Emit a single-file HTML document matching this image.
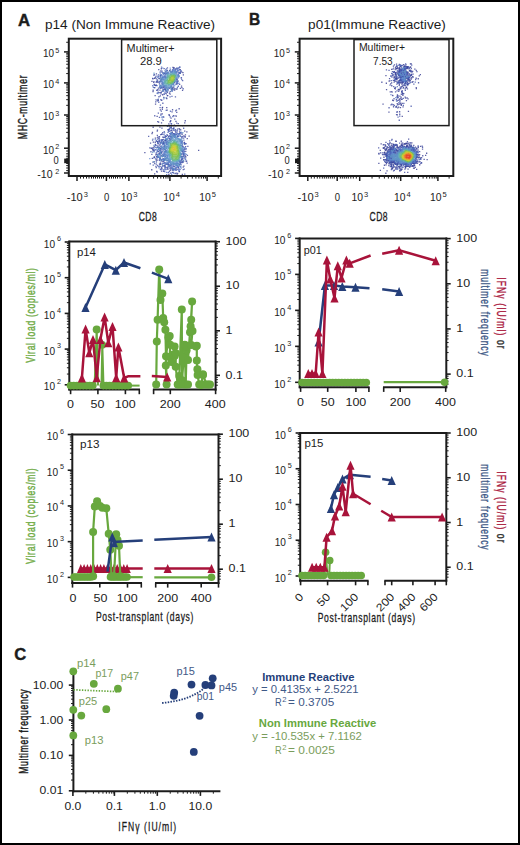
<!DOCTYPE html>
<html><head><meta charset="utf-8"><style>
html,body{margin:0;padding:0;background:#fff;}
body{width:520px;height:845px;overflow:hidden;font-family:"Liberation Sans",sans-serif;}
svg{display:block;}
</style></head><body>
<svg width="520" height="845" viewBox="0 0 520 845" font-family="Liberation Sans, sans-serif">
<rect x="0" y="0" width="520" height="845" fill="#fff"/>
<text x="18.00" y="25.70" font-size="15.8" font-weight="bold" fill="#1c1c1c" textLength="12.11" lengthAdjust="spacingAndGlyphs" stroke="#1c1c1c" stroke-width="0.4">A</text>
<text x="248.90" y="25.30" font-size="15.8" font-weight="bold" fill="#1c1c1c" textLength="11.21" lengthAdjust="spacingAndGlyphs" stroke="#1c1c1c" stroke-width="0.4">B</text>
<text x="14.20" y="659.60" font-size="15.8" font-weight="bold" fill="#1c1c1c" textLength="12.01" lengthAdjust="spacingAndGlyphs" stroke="#1c1c1c" stroke-width="0.4">C</text>
<text x="44.90" y="29.00" font-size="12.6" fill="#1c1c1c" textLength="170.22" lengthAdjust="spacingAndGlyphs">p14 (Non Immune Reactive)</text>
<text x="308.10" y="29.30" font-size="12.6" fill="#1c1c1c" textLength="137.71" lengthAdjust="spacingAndGlyphs">p01(Immune Reactive)</text>
<path d="M153.5 150.1h1.3v1.3h-1.3zM184.4 135.9h1.3v1.3h-1.3zM160.9 122.2h1.3v1.3h-1.3zM198.0 149.7h1.3v1.3h-1.3zM169.6 169.8h1.3v1.3h-1.3zM159.1 164.2h1.3v1.3h-1.3zM161.7 107.3h1.3v1.3h-1.3zM159.7 109.3h1.3v1.3h-1.3zM182.7 74.2h1.3v1.3h-1.3zM166.1 106.9h1.3v1.3h-1.3zM179.3 132.1h1.3v1.3h-1.3zM151.4 133.0h1.3v1.3h-1.3zM176.5 173.4h1.3v1.3h-1.3zM169.5 121.2h1.3v1.3h-1.3zM179.4 133.3h1.3v1.3h-1.3zM149.9 142.4h1.3v1.3h-1.3zM156.1 170.8h1.3v1.3h-1.3zM155.6 158.4h1.3v1.3h-1.3zM154.9 103.5h1.3v1.3h-1.3zM164.9 88.6h1.3v1.3h-1.3zM152.5 126.6h1.3v1.3h-1.3zM183.3 135.2h1.3v1.3h-1.3zM162.0 94.1h1.3v1.3h-1.3zM161.6 90.4h1.3v1.3h-1.3zM184.1 130.5h1.3v1.3h-1.3zM181.2 87.0h1.3v1.3h-1.3zM164.9 135.5h1.3v1.3h-1.3zM157.1 121.0h1.3v1.3h-1.3zM162.5 119.8h1.3v1.3h-1.3zM168.2 174.0h1.3v1.3h-1.3zM155.1 154.2h1.3v1.3h-1.3zM155.6 160.3h1.3v1.3h-1.3zM174.4 88.2h1.3v1.3h-1.3zM154.0 84.4h1.3v1.3h-1.3zM160.1 133.9h1.3v1.3h-1.3zM167.7 171.9h1.3v1.3h-1.3zM178.9 130.4h1.3v1.3h-1.3zM153.7 87.0h1.3v1.3h-1.3zM164.9 139.9h1.3v1.3h-1.3zM151.9 148.6h1.3v1.3h-1.3zM163.1 136.7h1.3v1.3h-1.3zM186.6 137.9h1.3v1.3h-1.3zM179.2 128.8h1.3v1.3h-1.3zM160.1 163.0h1.3v1.3h-1.3zM159.3 126.5h1.3v1.3h-1.3zM156.5 115.7h1.3v1.3h-1.3zM157.0 79.4h1.3v1.3h-1.3zM154.6 141.6h1.3v1.3h-1.3zM154.0 173.3h1.3v1.3h-1.3zM174.2 87.9h1.3v1.3h-1.3zM156.4 81.4h1.3v1.3h-1.3zM169.5 93.4h1.3v1.3h-1.3zM151.3 80.7h1.3v1.3h-1.3zM152.7 141.4h1.3v1.3h-1.3zM144.2 152.0h1.3v1.3h-1.3zM181.0 71.2h1.3v1.3h-1.3zM152.4 147.1h1.3v1.3h-1.3zM152.4 91.0h1.3v1.3h-1.3zM169.7 172.4h1.3v1.3h-1.3zM167.9 128.7h1.3v1.3h-1.3zM172.3 66.7h1.3v1.3h-1.3zM151.8 131.7h1.3v1.3h-1.3zM154.2 77.7h1.3v1.3h-1.3zM184.1 122.2h1.3v1.3h-1.3zM157.8 81.5h1.3v1.3h-1.3zM153.7 161.3h1.3v1.3h-1.3zM184.6 120.1h1.3v1.3h-1.3zM160.9 170.5h1.3v1.3h-1.3zM171.8 171.8h1.3v1.3h-1.3zM160.4 93.2h1.3v1.3h-1.3zM163.1 116.4h1.3v1.3h-1.3zM168.8 138.3h1.3v1.3h-1.3zM166.5 109.4h1.3v1.3h-1.3zM161.6 113.2h1.3v1.3h-1.3zM184.8 134.2h1.3v1.3h-1.3zM188.5 135.5h1.3v1.3h-1.3zM161.4 161.0h1.3v1.3h-1.3zM151.7 157.8h1.3v1.3h-1.3zM168.2 123.3h1.3v1.3h-1.3zM153.9 156.6h1.3v1.3h-1.3zM152.3 78.1h1.3v1.3h-1.3zM151.1 169.1h1.3v1.3h-1.3zM181.7 173.7h1.3v1.3h-1.3zM174.0 89.5h1.3v1.3h-1.3zM152.6 147.3h1.3v1.3h-1.3zM169.6 69.3h1.3v1.3h-1.3zM169.6 90.9h1.3v1.3h-1.3zM160.3 113.4h1.3v1.3h-1.3zM185.1 156.0h1.3v1.3h-1.3zM156.7 137.2h1.3v1.3h-1.3zM159.3 89.4h1.3v1.3h-1.3zM157.5 143.1h1.3v1.3h-1.3zM181.4 133.7h1.3v1.3h-1.3zM155.3 84.8h1.3v1.3h-1.3zM162.7 86.9h1.3v1.3h-1.3zM179.5 68.9h1.3v1.3h-1.3zM175.4 83.7h1.3v1.3h-1.3zM177.1 70.2h1.3v1.3h-1.3zM173.5 67.3h1.3v1.3h-1.3zM181.3 158.7h1.3v1.3h-1.3zM159.9 163.8h1.3v1.3h-1.3zM181.9 125.0h1.3v1.3h-1.3zM157.7 151.0h1.3v1.3h-1.3zM180.9 85.4h1.3v1.3h-1.3zM186.2 131.3h1.3v1.3h-1.3zM156.6 159.5h1.3v1.3h-1.3zM156.3 153.6h1.3v1.3h-1.3zM162.5 142.7h1.3v1.3h-1.3zM168.8 92.5h1.3v1.3h-1.3zM155.8 73.2h1.3v1.3h-1.3zM172.4 134.9h1.3v1.3h-1.3zM166.1 98.0h1.3v1.3h-1.3zM170.4 117.4h1.3v1.3h-1.3zM178.5 128.0h1.3v1.3h-1.3zM184.4 155.1h1.3v1.3h-1.3zM175.7 115.5h1.3v1.3h-1.3zM158.8 83.2h1.3v1.3h-1.3zM175.3 124.9h1.3v1.3h-1.3zM158.2 147.2h1.3v1.3h-1.3zM157.3 99.0h1.3v1.3h-1.3zM152.6 149.4h1.3v1.3h-1.3zM157.2 145.3h1.3v1.3h-1.3zM182.3 72.0h1.3v1.3h-1.3zM175.3 120.8h1.3v1.3h-1.3zM162.2 77.1h1.3v1.3h-1.3zM160.0 80.3h1.3v1.3h-1.3zM179.1 66.4h1.3v1.3h-1.3zM154.7 143.8h1.3v1.3h-1.3zM175.5 172.4h1.3v1.3h-1.3z" fill="rgb(47,52,141)" fill-opacity="0.78"/>
<path d="M161.3 127.5h1.3v1.3h-1.3zM169.9 166.4h1.3v1.3h-1.3zM176.3 130.3h1.3v1.3h-1.3zM173.7 124.4h1.3v1.3h-1.3zM178.5 108.1h1.3v1.3h-1.3zM152.3 161.5h1.3v1.3h-1.3zM179.7 70.5h1.3v1.3h-1.3zM181.2 135.9h1.3v1.3h-1.3zM167.4 168.5h1.3v1.3h-1.3zM176.3 79.6h1.3v1.3h-1.3zM158.8 136.1h1.3v1.3h-1.3zM160.2 70.3h1.3v1.3h-1.3zM153.6 83.8h1.3v1.3h-1.3zM162.8 170.7h1.3v1.3h-1.3zM155.9 156.1h1.3v1.3h-1.3zM180.8 159.3h1.3v1.3h-1.3zM170.8 125.4h1.3v1.3h-1.3zM178.1 75.2h1.3v1.3h-1.3zM172.0 88.1h1.3v1.3h-1.3zM171.7 131.6h1.3v1.3h-1.3zM161.3 87.2h1.3v1.3h-1.3zM160.4 74.6h1.3v1.3h-1.3zM158.7 140.4h1.3v1.3h-1.3zM179.7 87.7h1.3v1.3h-1.3zM166.7 95.0h1.3v1.3h-1.3zM172.1 87.2h1.3v1.3h-1.3zM160.5 80.7h1.3v1.3h-1.3zM165.3 138.7h1.3v1.3h-1.3zM167.0 134.9h1.3v1.3h-1.3zM182.5 166.4h1.3v1.3h-1.3zM154.7 137.4h1.3v1.3h-1.3zM158.1 68.9h1.3v1.3h-1.3zM179.0 83.7h1.3v1.3h-1.3zM154.5 95.0h1.3v1.3h-1.3zM173.2 86.4h1.3v1.3h-1.3zM153.3 81.1h1.3v1.3h-1.3zM173.0 133.0h1.3v1.3h-1.3zM159.6 157.8h1.3v1.3h-1.3zM177.6 123.0h1.3v1.3h-1.3zM173.0 67.4h1.3v1.3h-1.3zM157.8 87.5h1.3v1.3h-1.3zM181.9 89.7h1.3v1.3h-1.3zM159.6 76.3h1.3v1.3h-1.3zM183.7 141.7h1.3v1.3h-1.3zM166.1 86.9h1.3v1.3h-1.3zM181.1 156.1h1.3v1.3h-1.3zM177.2 135.6h1.3v1.3h-1.3zM153.0 81.8h1.3v1.3h-1.3zM167.5 163.8h1.3v1.3h-1.3zM176.1 111.8h1.3v1.3h-1.3zM162.1 132.1h1.3v1.3h-1.3zM172.8 115.1h1.3v1.3h-1.3zM159.8 147.7h1.3v1.3h-1.3zM171.4 111.3h1.3v1.3h-1.3zM158.6 159.5h1.3v1.3h-1.3zM160.7 68.1h1.3v1.3h-1.3zM161.1 154.7h1.3v1.3h-1.3zM174.7 125.0h1.3v1.3h-1.3zM161.9 106.7h1.3v1.3h-1.3zM165.8 93.2h1.3v1.3h-1.3zM168.4 114.1h1.3v1.3h-1.3zM162.2 164.9h1.3v1.3h-1.3zM170.1 120.0h1.3v1.3h-1.3zM157.7 100.0h1.3v1.3h-1.3z" fill="rgb(50,58,147)" fill-opacity="0.78"/>
<path d="M156.2 80.6h1.3v1.3h-1.3zM185.1 150.8h1.3v1.3h-1.3zM161.4 133.7h1.3v1.3h-1.3zM156.6 130.4h1.3v1.3h-1.3zM163.4 73.2h1.3v1.3h-1.3zM155.0 76.6h1.3v1.3h-1.3zM159.7 95.3h1.3v1.3h-1.3zM165.2 70.9h1.3v1.3h-1.3zM172.1 87.6h1.3v1.3h-1.3zM158.5 91.9h1.3v1.3h-1.3zM181.5 140.6h1.3v1.3h-1.3zM176.5 164.8h1.3v1.3h-1.3zM160.7 110.4h1.3v1.3h-1.3zM153.6 145.7h1.3v1.3h-1.3zM163.9 87.4h1.3v1.3h-1.3zM169.0 70.0h1.3v1.3h-1.3zM172.6 167.7h1.3v1.3h-1.3zM149.2 147.2h1.3v1.3h-1.3zM159.9 152.1h1.3v1.3h-1.3zM163.1 96.8h1.3v1.3h-1.3zM151.0 147.8h1.3v1.3h-1.3zM170.1 168.5h1.3v1.3h-1.3zM171.9 109.1h1.3v1.3h-1.3zM155.1 101.2h1.3v1.3h-1.3zM160.7 141.5h1.3v1.3h-1.3zM169.0 127.5h1.3v1.3h-1.3zM160.7 159.8h1.3v1.3h-1.3zM180.1 129.3h1.3v1.3h-1.3zM171.3 166.7h1.3v1.3h-1.3zM160.6 147.4h1.3v1.3h-1.3zM174.5 173.0h1.3v1.3h-1.3zM156.5 171.4h1.3v1.3h-1.3zM181.7 156.3h1.3v1.3h-1.3zM158.0 121.5h1.3v1.3h-1.3zM156.7 134.8h1.3v1.3h-1.3zM161.0 166.7h1.3v1.3h-1.3zM157.0 141.0h1.3v1.3h-1.3zM158.3 96.1h1.3v1.3h-1.3zM154.1 163.0h1.3v1.3h-1.3zM155.1 84.9h1.3v1.3h-1.3zM162.9 148.0h1.3v1.3h-1.3zM182.4 158.3h1.3v1.3h-1.3zM170.5 135.9h1.3v1.3h-1.3zM183.2 165.4h1.3v1.3h-1.3zM155.5 81.5h1.3v1.3h-1.3zM166.4 168.4h1.3v1.3h-1.3zM165.6 135.4h1.3v1.3h-1.3zM181.1 153.9h1.3v1.3h-1.3zM156.8 129.4h1.3v1.3h-1.3zM152.5 89.6h1.3v1.3h-1.3zM158.8 139.3h1.3v1.3h-1.3zM175.2 131.4h1.3v1.3h-1.3zM158.2 137.5h1.3v1.3h-1.3zM173.7 166.0h1.3v1.3h-1.3zM166.3 166.7h1.3v1.3h-1.3zM173.2 169.2h1.3v1.3h-1.3zM162.1 136.4h1.3v1.3h-1.3zM157.4 89.3h1.3v1.3h-1.3zM155.6 166.9h1.3v1.3h-1.3zM162.7 160.9h1.3v1.3h-1.3zM160.2 145.6h1.3v1.3h-1.3zM168.8 114.7h1.3v1.3h-1.3zM163.4 147.8h1.3v1.3h-1.3zM175.9 88.4h1.3v1.3h-1.3zM164.2 89.0h1.3v1.3h-1.3zM185.5 160.7h1.3v1.3h-1.3zM158.2 148.9h1.3v1.3h-1.3zM168.3 130.6h1.3v1.3h-1.3zM161.8 139.1h1.3v1.3h-1.3zM167.2 72.7h1.3v1.3h-1.3zM163.5 159.6h1.3v1.3h-1.3zM178.8 171.0h1.3v1.3h-1.3zM172.7 129.5h1.3v1.3h-1.3zM182.2 145.7h1.3v1.3h-1.3zM156.1 89.8h1.3v1.3h-1.3zM151.2 153.8h1.3v1.3h-1.3zM171.5 168.0h1.3v1.3h-1.3zM164.0 145.1h1.3v1.3h-1.3zM163.9 165.0h1.3v1.3h-1.3zM163.5 67.9h1.3v1.3h-1.3zM176.6 132.5h1.3v1.3h-1.3zM182.4 161.8h1.3v1.3h-1.3zM175.8 109.5h1.3v1.3h-1.3zM162.3 153.9h1.3v1.3h-1.3zM167.1 95.0h1.3v1.3h-1.3zM154.0 77.4h1.3v1.3h-1.3zM186.8 154.8h1.3v1.3h-1.3zM174.5 133.4h1.3v1.3h-1.3z" fill="rgb(53,64,153)" fill-opacity="0.78"/>
<path d="M155.4 99.2h1.3v1.3h-1.3zM168.5 125.7h1.3v1.3h-1.3zM174.4 115.2h1.3v1.3h-1.3zM173.3 82.1h1.3v1.3h-1.3zM162.2 102.6h1.3v1.3h-1.3zM160.5 87.3h1.3v1.3h-1.3zM158.9 153.3h1.3v1.3h-1.3zM160.4 87.3h1.3v1.3h-1.3zM164.9 139.5h1.3v1.3h-1.3zM163.6 93.5h1.3v1.3h-1.3zM177.0 172.8h1.3v1.3h-1.3zM180.6 77.2h1.3v1.3h-1.3zM186.0 160.4h1.3v1.3h-1.3zM159.5 74.7h1.3v1.3h-1.3zM172.4 89.1h1.3v1.3h-1.3zM160.8 99.7h1.3v1.3h-1.3zM177.6 167.0h1.3v1.3h-1.3zM163.3 165.4h1.3v1.3h-1.3zM166.8 69.8h1.3v1.3h-1.3zM185.4 143.0h1.3v1.3h-1.3zM153.1 74.4h1.3v1.3h-1.3zM161.1 141.3h1.3v1.3h-1.3zM176.9 128.5h1.3v1.3h-1.3zM161.0 133.6h1.3v1.3h-1.3zM162.9 157.9h1.3v1.3h-1.3zM157.7 156.5h1.3v1.3h-1.3zM159.8 155.4h1.3v1.3h-1.3zM155.3 165.7h1.3v1.3h-1.3zM185.0 145.9h1.3v1.3h-1.3zM182.2 135.8h1.3v1.3h-1.3zM176.5 168.7h1.3v1.3h-1.3zM161.2 167.9h1.3v1.3h-1.3zM156.8 89.3h1.3v1.3h-1.3zM177.1 165.4h1.3v1.3h-1.3zM174.4 168.2h1.3v1.3h-1.3zM176.1 122.5h1.3v1.3h-1.3zM174.1 118.4h1.3v1.3h-1.3zM157.1 141.3h1.3v1.3h-1.3zM174.8 96.3h1.3v1.3h-1.3zM150.3 151.1h1.3v1.3h-1.3zM184.6 136.4h1.3v1.3h-1.3zM148.0 135.7h1.3v1.3h-1.3zM161.1 99.6h1.3v1.3h-1.3zM159.0 163.2h1.3v1.3h-1.3zM162.9 141.1h1.3v1.3h-1.3zM167.2 166.6h1.3v1.3h-1.3zM179.2 69.0h1.3v1.3h-1.3zM158.9 163.2h1.3v1.3h-1.3zM159.9 168.5h1.3v1.3h-1.3zM154.1 115.1h1.3v1.3h-1.3zM170.2 133.9h1.3v1.3h-1.3zM176.5 88.3h1.3v1.3h-1.3zM156.7 100.2h1.3v1.3h-1.3zM166.8 67.3h1.3v1.3h-1.3zM181.7 161.0h1.3v1.3h-1.3zM182.6 146.4h1.3v1.3h-1.3zM167.7 130.0h1.3v1.3h-1.3zM162.4 142.3h1.3v1.3h-1.3zM160.5 139.2h1.3v1.3h-1.3zM169.8 120.7h1.3v1.3h-1.3zM161.7 108.7h1.3v1.3h-1.3zM179.4 163.8h1.3v1.3h-1.3zM165.3 138.2h1.3v1.3h-1.3zM161.1 152.1h1.3v1.3h-1.3zM168.9 128.5h1.3v1.3h-1.3zM168.6 87.7h1.3v1.3h-1.3zM166.7 91.6h1.3v1.3h-1.3zM173.5 133.8h1.3v1.3h-1.3zM159.8 91.9h1.3v1.3h-1.3zM151.9 139.4h1.3v1.3h-1.3zM169.5 116.2h1.3v1.3h-1.3zM162.2 142.8h1.3v1.3h-1.3zM172.5 128.0h1.3v1.3h-1.3zM173.1 68.5h1.3v1.3h-1.3zM179.6 71.8h1.3v1.3h-1.3zM158.8 152.8h1.3v1.3h-1.3zM175.5 169.6h1.3v1.3h-1.3zM157.4 146.5h1.3v1.3h-1.3zM162.7 141.8h1.3v1.3h-1.3zM160.7 91.6h1.3v1.3h-1.3zM177.6 135.8h1.3v1.3h-1.3zM171.2 71.9h1.3v1.3h-1.3zM165.9 143.5h1.3v1.3h-1.3zM157.3 75.5h1.3v1.3h-1.3zM171.1 129.9h1.3v1.3h-1.3zM155.9 78.3h1.3v1.3h-1.3zM175.0 70.8h1.3v1.3h-1.3zM160.4 78.9h1.3v1.3h-1.3zM159.5 143.5h1.3v1.3h-1.3zM169.2 161.1h1.3v1.3h-1.3zM155.3 144.7h1.3v1.3h-1.3zM158.2 77.7h1.3v1.3h-1.3zM158.8 116.7h1.3v1.3h-1.3zM183.2 153.9h1.3v1.3h-1.3zM168.8 170.8h1.3v1.3h-1.3zM179.1 161.0h1.3v1.3h-1.3zM162.9 154.8h1.3v1.3h-1.3zM185.1 148.4h1.3v1.3h-1.3zM170.0 130.2h1.3v1.3h-1.3zM184.0 142.5h1.3v1.3h-1.3zM159.4 107.0h1.3v1.3h-1.3zM164.0 141.6h1.3v1.3h-1.3zM174.7 130.4h1.3v1.3h-1.3zM157.0 142.2h1.3v1.3h-1.3zM187.2 145.8h1.3v1.3h-1.3zM182.7 153.6h1.3v1.3h-1.3z" fill="rgb(56,69,159)" fill-opacity="0.78"/>
<path d="M181.2 141.8h1.3v1.3h-1.3zM180.8 77.3h1.3v1.3h-1.3zM169.1 132.9h1.3v1.3h-1.3zM184.0 148.5h1.3v1.3h-1.3zM177.2 83.0h1.3v1.3h-1.3zM165.2 153.7h1.3v1.3h-1.3zM162.3 88.9h1.3v1.3h-1.3zM171.9 69.5h1.3v1.3h-1.3zM157.5 91.6h1.3v1.3h-1.3zM180.0 161.6h1.3v1.3h-1.3zM161.2 71.5h1.3v1.3h-1.3zM176.4 68.1h1.3v1.3h-1.3zM155.8 140.7h1.3v1.3h-1.3zM178.5 170.8h1.3v1.3h-1.3zM166.8 125.6h1.3v1.3h-1.3zM164.4 168.9h1.3v1.3h-1.3zM161.5 81.5h1.3v1.3h-1.3zM152.4 150.2h1.3v1.3h-1.3zM182.5 88.1h1.3v1.3h-1.3zM165.1 155.4h1.3v1.3h-1.3zM168.5 124.8h1.3v1.3h-1.3zM177.4 166.5h1.3v1.3h-1.3zM170.7 127.1h1.3v1.3h-1.3zM150.5 147.6h1.3v1.3h-1.3zM176.5 83.3h1.3v1.3h-1.3zM164.0 145.1h1.3v1.3h-1.3zM153.8 74.1h1.3v1.3h-1.3zM181.4 162.0h1.3v1.3h-1.3zM169.9 135.7h1.3v1.3h-1.3zM156.9 164.7h1.3v1.3h-1.3zM178.7 133.1h1.3v1.3h-1.3zM159.5 71.5h1.3v1.3h-1.3zM163.6 151.1h1.3v1.3h-1.3zM184.1 173.4h1.3v1.3h-1.3zM160.9 150.5h1.3v1.3h-1.3zM169.4 96.3h1.3v1.3h-1.3zM184.4 147.2h1.3v1.3h-1.3zM181.8 151.0h1.3v1.3h-1.3zM174.1 81.6h1.3v1.3h-1.3zM186.5 162.4h1.3v1.3h-1.3zM174.9 128.9h1.3v1.3h-1.3zM163.6 72.8h1.3v1.3h-1.3zM166.2 163.3h1.3v1.3h-1.3zM160.2 99.0h1.3v1.3h-1.3zM167.8 141.8h1.3v1.3h-1.3zM172.9 127.7h1.3v1.3h-1.3zM169.8 126.5h1.3v1.3h-1.3zM178.1 72.3h1.3v1.3h-1.3zM173.1 124.9h1.3v1.3h-1.3zM183.6 168.4h1.3v1.3h-1.3zM176.5 82.1h1.3v1.3h-1.3zM183.1 160.4h1.3v1.3h-1.3zM158.4 140.2h1.3v1.3h-1.3zM157.6 165.7h1.3v1.3h-1.3zM158.9 77.9h1.3v1.3h-1.3zM158.4 137.7h1.3v1.3h-1.3zM159.5 165.9h1.3v1.3h-1.3zM175.0 110.2h1.3v1.3h-1.3zM172.5 169.4h1.3v1.3h-1.3zM167.8 159.5h1.3v1.3h-1.3zM175.7 71.7h1.3v1.3h-1.3zM180.8 141.4h1.3v1.3h-1.3zM179.3 168.7h1.3v1.3h-1.3zM171.4 89.1h1.3v1.3h-1.3zM157.9 74.3h1.3v1.3h-1.3zM155.7 84.4h1.3v1.3h-1.3zM168.2 135.8h1.3v1.3h-1.3zM158.9 144.5h1.3v1.3h-1.3zM161.4 70.5h1.3v1.3h-1.3zM181.7 157.9h1.3v1.3h-1.3zM164.3 154.5h1.3v1.3h-1.3zM161.1 86.8h1.3v1.3h-1.3zM165.4 136.0h1.3v1.3h-1.3zM157.1 155.3h1.3v1.3h-1.3zM165.9 97.3h1.3v1.3h-1.3zM182.6 168.9h1.3v1.3h-1.3zM177.5 80.4h1.3v1.3h-1.3zM179.5 161.4h1.3v1.3h-1.3zM177.3 163.2h1.3v1.3h-1.3zM162.3 83.1h1.3v1.3h-1.3zM152.0 77.7h1.3v1.3h-1.3zM182.4 152.5h1.3v1.3h-1.3zM179.0 72.3h1.3v1.3h-1.3zM165.1 162.3h1.3v1.3h-1.3zM157.7 112.4h1.3v1.3h-1.3zM183.0 127.6h1.3v1.3h-1.3zM180.2 144.8h1.3v1.3h-1.3zM174.3 129.8h1.3v1.3h-1.3zM163.9 148.6h1.3v1.3h-1.3zM160.0 75.6h1.3v1.3h-1.3zM169.8 162.5h1.3v1.3h-1.3zM181.5 137.3h1.3v1.3h-1.3zM164.6 136.5h1.3v1.3h-1.3zM166.4 133.9h1.3v1.3h-1.3zM161.1 139.9h1.3v1.3h-1.3zM157.4 136.2h1.3v1.3h-1.3zM165.7 163.6h1.3v1.3h-1.3zM158.4 141.3h1.3v1.3h-1.3zM170.2 86.6h1.3v1.3h-1.3zM182.0 79.9h1.3v1.3h-1.3zM163.3 133.9h1.3v1.3h-1.3zM183.0 155.8h1.3v1.3h-1.3zM167.8 164.5h1.3v1.3h-1.3zM163.3 146.0h1.3v1.3h-1.3zM156.6 81.2h1.3v1.3h-1.3zM152.6 164.5h1.3v1.3h-1.3zM175.3 78.1h1.3v1.3h-1.3zM159.1 159.4h1.3v1.3h-1.3zM170.9 123.3h1.3v1.3h-1.3zM153.2 157.2h1.3v1.3h-1.3zM183.7 151.0h1.3v1.3h-1.3zM183.0 137.4h1.3v1.3h-1.3zM175.9 167.2h1.3v1.3h-1.3zM164.6 165.4h1.3v1.3h-1.3zM176.6 133.2h1.3v1.3h-1.3zM161.1 168.5h1.3v1.3h-1.3zM176.4 80.9h1.3v1.3h-1.3zM181.1 160.3h1.3v1.3h-1.3zM173.3 127.2h1.3v1.3h-1.3z" fill="rgb(59,75,165)" fill-opacity="0.78"/>
<path d="M166.1 91.2h1.3v1.3h-1.3zM176.7 165.1h1.3v1.3h-1.3zM164.2 72.2h1.3v1.3h-1.3zM174.9 68.2h1.3v1.3h-1.3zM171.2 89.9h1.3v1.3h-1.3zM170.7 129.5h1.3v1.3h-1.3zM161.0 139.6h1.3v1.3h-1.3zM174.8 71.0h1.3v1.3h-1.3zM163.8 161.6h1.3v1.3h-1.3zM183.2 139.4h1.3v1.3h-1.3zM162.2 72.2h1.3v1.3h-1.3zM162.4 162.8h1.3v1.3h-1.3zM177.7 85.6h1.3v1.3h-1.3zM163.7 153.5h1.3v1.3h-1.3zM167.3 88.4h1.3v1.3h-1.3zM164.4 74.8h1.3v1.3h-1.3zM155.7 163.4h1.3v1.3h-1.3zM163.4 93.5h1.3v1.3h-1.3zM170.4 71.3h1.3v1.3h-1.3zM165.5 90.5h1.3v1.3h-1.3zM178.6 163.8h1.3v1.3h-1.3zM165.6 109.7h1.3v1.3h-1.3zM162.6 154.9h1.3v1.3h-1.3zM170.9 132.1h1.3v1.3h-1.3zM165.1 167.1h1.3v1.3h-1.3zM165.6 89.9h1.3v1.3h-1.3zM168.0 136.0h1.3v1.3h-1.3zM161.9 146.8h1.3v1.3h-1.3zM153.1 149.1h1.3v1.3h-1.3zM176.0 67.5h1.3v1.3h-1.3zM164.3 85.0h1.3v1.3h-1.3zM160.9 66.5h1.3v1.3h-1.3zM168.6 138.0h1.3v1.3h-1.3zM167.2 129.0h1.3v1.3h-1.3zM170.3 165.0h1.3v1.3h-1.3zM162.9 158.5h1.3v1.3h-1.3zM161.6 155.9h1.3v1.3h-1.3zM165.8 68.2h1.3v1.3h-1.3zM163.2 142.6h1.3v1.3h-1.3zM176.5 164.9h1.3v1.3h-1.3zM170.5 139.0h1.3v1.3h-1.3zM165.7 141.5h1.3v1.3h-1.3zM164.7 155.9h1.3v1.3h-1.3zM174.8 136.0h1.3v1.3h-1.3zM171.4 136.7h1.3v1.3h-1.3zM181.4 132.4h1.3v1.3h-1.3zM163.6 131.1h1.3v1.3h-1.3zM178.3 67.4h1.3v1.3h-1.3zM179.1 163.4h1.3v1.3h-1.3zM166.4 138.9h1.3v1.3h-1.3zM170.5 123.1h1.3v1.3h-1.3zM165.3 140.0h1.3v1.3h-1.3zM180.0 131.9h1.3v1.3h-1.3zM165.1 150.6h1.3v1.3h-1.3zM168.1 165.5h1.3v1.3h-1.3zM181.7 145.3h1.3v1.3h-1.3zM183.5 142.5h1.3v1.3h-1.3zM166.7 143.8h1.3v1.3h-1.3zM156.7 146.8h1.3v1.3h-1.3zM181.4 132.5h1.3v1.3h-1.3zM167.2 71.6h1.3v1.3h-1.3zM172.8 165.9h1.3v1.3h-1.3zM166.1 143.1h1.3v1.3h-1.3zM171.2 133.0h1.3v1.3h-1.3zM176.0 134.0h1.3v1.3h-1.3zM182.2 150.3h1.3v1.3h-1.3zM176.8 86.7h1.3v1.3h-1.3zM162.0 83.8h1.3v1.3h-1.3zM156.6 92.6h1.3v1.3h-1.3zM176.2 73.2h1.3v1.3h-1.3zM163.3 155.4h1.3v1.3h-1.3zM170.4 132.7h1.3v1.3h-1.3zM164.3 166.2h1.3v1.3h-1.3zM179.4 72.7h1.3v1.3h-1.3zM163.3 88.9h1.3v1.3h-1.3zM156.8 157.2h1.3v1.3h-1.3zM162.9 138.7h1.3v1.3h-1.3zM159.7 142.5h1.3v1.3h-1.3zM153.6 156.3h1.3v1.3h-1.3zM165.7 142.1h1.3v1.3h-1.3zM167.2 163.6h1.3v1.3h-1.3zM175.1 72.1h1.3v1.3h-1.3zM161.3 79.0h1.3v1.3h-1.3zM180.2 155.8h1.3v1.3h-1.3zM171.3 95.7h1.3v1.3h-1.3zM159.3 158.0h1.3v1.3h-1.3zM181.3 158.0h1.3v1.3h-1.3zM170.6 85.2h1.3v1.3h-1.3zM174.6 134.6h1.3v1.3h-1.3zM177.2 135.8h1.3v1.3h-1.3zM156.6 149.7h1.3v1.3h-1.3zM172.0 70.7h1.3v1.3h-1.3zM160.6 152.0h1.3v1.3h-1.3zM170.0 138.5h1.3v1.3h-1.3zM173.0 127.8h1.3v1.3h-1.3zM164.3 163.0h1.3v1.3h-1.3zM171.1 164.1h1.3v1.3h-1.3zM183.3 148.5h1.3v1.3h-1.3zM164.3 167.6h1.3v1.3h-1.3zM161.2 142.2h1.3v1.3h-1.3zM164.4 158.6h1.3v1.3h-1.3zM181.1 79.0h1.3v1.3h-1.3zM176.4 162.8h1.3v1.3h-1.3zM154.7 148.9h1.3v1.3h-1.3zM155.4 152.4h1.3v1.3h-1.3zM162.0 77.0h1.3v1.3h-1.3zM176.0 78.7h1.3v1.3h-1.3zM184.8 143.3h1.3v1.3h-1.3zM158.1 101.6h1.3v1.3h-1.3zM168.3 129.0h1.3v1.3h-1.3zM175.4 69.2h1.3v1.3h-1.3zM170.7 136.6h1.3v1.3h-1.3zM159.6 87.6h1.3v1.3h-1.3zM161.9 150.4h1.3v1.3h-1.3zM182.7 154.5h1.3v1.3h-1.3zM180.5 156.9h1.3v1.3h-1.3zM158.3 153.2h1.3v1.3h-1.3zM164.1 72.7h1.3v1.3h-1.3zM161.8 83.4h1.3v1.3h-1.3zM174.1 80.4h1.3v1.3h-1.3zM166.3 72.5h1.3v1.3h-1.3zM164.6 164.3h1.3v1.3h-1.3zM180.6 153.5h1.3v1.3h-1.3zM156.9 150.8h1.3v1.3h-1.3zM170.2 127.2h1.3v1.3h-1.3zM184.3 158.3h1.3v1.3h-1.3zM174.3 135.6h1.3v1.3h-1.3zM164.0 171.0h1.3v1.3h-1.3zM162.1 143.8h1.3v1.3h-1.3zM158.9 80.7h1.3v1.3h-1.3zM164.3 166.3h1.3v1.3h-1.3zM164.3 148.8h1.3v1.3h-1.3zM159.8 149.4h1.3v1.3h-1.3zM152.2 85.1h1.3v1.3h-1.3zM169.5 139.6h1.3v1.3h-1.3zM167.4 131.8h1.3v1.3h-1.3zM164.6 75.7h1.3v1.3h-1.3zM170.9 89.2h1.3v1.3h-1.3zM171.6 133.2h1.3v1.3h-1.3zM162.5 90.3h1.3v1.3h-1.3zM158.3 152.9h1.3v1.3h-1.3zM159.8 104.5h1.3v1.3h-1.3zM157.8 155.9h1.3v1.3h-1.3zM177.5 74.8h1.3v1.3h-1.3z" fill="rgb(63,83,172)" fill-opacity="0.78"/>
<path d="M160.9 83.3h1.3v1.3h-1.3zM177.3 67.8h1.3v1.3h-1.3zM163.6 136.7h1.3v1.3h-1.3zM165.1 73.7h1.3v1.3h-1.3zM162.9 158.7h1.3v1.3h-1.3zM169.8 110.6h1.3v1.3h-1.3zM185.0 157.3h1.3v1.3h-1.3zM177.9 166.6h1.3v1.3h-1.3zM159.7 157.6h1.3v1.3h-1.3zM161.6 166.0h1.3v1.3h-1.3zM163.0 155.2h1.3v1.3h-1.3zM170.5 167.5h1.3v1.3h-1.3zM159.0 150.0h1.3v1.3h-1.3zM162.4 76.6h1.3v1.3h-1.3zM182.1 150.2h1.3v1.3h-1.3zM182.6 160.3h1.3v1.3h-1.3zM168.4 139.9h1.3v1.3h-1.3zM160.1 84.8h1.3v1.3h-1.3zM169.0 135.2h1.3v1.3h-1.3zM159.0 146.5h1.3v1.3h-1.3zM181.1 156.6h1.3v1.3h-1.3zM175.7 82.6h1.3v1.3h-1.3zM160.7 152.4h1.3v1.3h-1.3zM168.6 130.4h1.3v1.3h-1.3zM166.3 157.7h1.3v1.3h-1.3zM181.1 142.9h1.3v1.3h-1.3zM155.8 139.8h1.3v1.3h-1.3zM172.9 171.7h1.3v1.3h-1.3zM166.0 73.0h1.3v1.3h-1.3zM172.8 83.3h1.3v1.3h-1.3zM180.7 145.0h1.3v1.3h-1.3zM166.8 141.1h1.3v1.3h-1.3zM168.3 137.2h1.3v1.3h-1.3zM180.1 139.9h1.3v1.3h-1.3zM183.7 142.8h1.3v1.3h-1.3zM180.0 162.6h1.3v1.3h-1.3zM155.2 144.7h1.3v1.3h-1.3zM173.4 133.3h1.3v1.3h-1.3zM165.7 151.1h1.3v1.3h-1.3zM168.3 139.8h1.3v1.3h-1.3zM164.9 72.4h1.3v1.3h-1.3zM165.3 88.2h1.3v1.3h-1.3zM179.6 135.6h1.3v1.3h-1.3zM180.1 152.8h1.3v1.3h-1.3zM183.3 156.3h1.3v1.3h-1.3zM156.5 154.5h1.3v1.3h-1.3zM164.3 91.4h1.3v1.3h-1.3zM169.2 167.9h1.3v1.3h-1.3zM174.2 80.4h1.3v1.3h-1.3zM172.8 164.5h1.3v1.3h-1.3zM161.3 77.6h1.3v1.3h-1.3zM177.8 69.4h1.3v1.3h-1.3zM165.5 149.8h1.3v1.3h-1.3zM158.5 156.8h1.3v1.3h-1.3zM164.9 90.0h1.3v1.3h-1.3zM177.1 80.5h1.3v1.3h-1.3zM162.6 78.9h1.3v1.3h-1.3zM164.2 159.2h1.3v1.3h-1.3zM167.6 161.6h1.3v1.3h-1.3zM178.7 165.3h1.3v1.3h-1.3zM171.4 128.3h1.3v1.3h-1.3zM175.1 134.0h1.3v1.3h-1.3zM183.8 143.8h1.3v1.3h-1.3zM183.2 149.3h1.3v1.3h-1.3zM170.8 88.0h1.3v1.3h-1.3zM159.5 150.3h1.3v1.3h-1.3zM163.6 146.4h1.3v1.3h-1.3zM172.4 85.4h1.3v1.3h-1.3zM167.6 162.7h1.3v1.3h-1.3zM165.0 77.1h1.3v1.3h-1.3zM176.4 162.6h1.3v1.3h-1.3zM173.0 172.5h1.3v1.3h-1.3zM171.9 168.6h1.3v1.3h-1.3zM159.6 141.6h1.3v1.3h-1.3zM176.3 136.6h1.3v1.3h-1.3zM163.8 139.8h1.3v1.3h-1.3zM174.1 136.7h1.3v1.3h-1.3zM178.4 169.8h1.3v1.3h-1.3zM172.2 70.2h1.3v1.3h-1.3zM163.6 76.1h1.3v1.3h-1.3zM169.5 164.6h1.3v1.3h-1.3zM159.8 148.5h1.3v1.3h-1.3zM162.4 72.2h1.3v1.3h-1.3zM156.4 85.0h1.3v1.3h-1.3zM164.3 146.4h1.3v1.3h-1.3zM158.8 154.3h1.3v1.3h-1.3zM155.5 75.5h1.3v1.3h-1.3zM165.0 73.1h1.3v1.3h-1.3zM175.4 167.3h1.3v1.3h-1.3zM154.2 87.0h1.3v1.3h-1.3zM164.0 85.6h1.3v1.3h-1.3zM174.2 163.2h1.3v1.3h-1.3zM165.0 73.4h1.3v1.3h-1.3zM162.3 148.6h1.3v1.3h-1.3zM177.5 67.2h1.3v1.3h-1.3zM163.4 88.5h1.3v1.3h-1.3zM166.2 150.5h1.3v1.3h-1.3zM182.5 152.7h1.3v1.3h-1.3zM158.4 167.3h1.3v1.3h-1.3zM157.2 139.0h1.3v1.3h-1.3zM164.3 158.5h1.3v1.3h-1.3zM181.2 161.8h1.3v1.3h-1.3zM173.4 168.8h1.3v1.3h-1.3zM172.3 134.0h1.3v1.3h-1.3zM175.5 163.1h1.3v1.3h-1.3zM159.1 85.5h1.3v1.3h-1.3zM159.5 154.5h1.3v1.3h-1.3zM174.2 71.1h1.3v1.3h-1.3zM170.1 71.0h1.3v1.3h-1.3zM172.8 136.3h1.3v1.3h-1.3zM159.5 87.0h1.3v1.3h-1.3zM167.0 162.4h1.3v1.3h-1.3zM155.8 161.4h1.3v1.3h-1.3zM178.5 72.5h1.3v1.3h-1.3zM179.7 72.8h1.3v1.3h-1.3zM178.2 167.6h1.3v1.3h-1.3zM172.6 162.5h1.3v1.3h-1.3zM162.4 159.9h1.3v1.3h-1.3zM177.7 74.2h1.3v1.3h-1.3zM170.7 163.4h1.3v1.3h-1.3zM160.3 77.5h1.3v1.3h-1.3zM167.1 88.9h1.3v1.3h-1.3zM149.6 163.1h1.3v1.3h-1.3zM167.9 162.2h1.3v1.3h-1.3zM167.0 168.0h1.3v1.3h-1.3zM168.6 166.4h1.3v1.3h-1.3zM163.7 164.7h1.3v1.3h-1.3zM175.4 132.2h1.3v1.3h-1.3zM177.5 75.7h1.3v1.3h-1.3zM156.6 156.1h1.3v1.3h-1.3zM174.5 68.7h1.3v1.3h-1.3zM166.7 159.6h1.3v1.3h-1.3zM164.7 136.4h1.3v1.3h-1.3zM161.5 158.8h1.3v1.3h-1.3zM159.7 161.5h1.3v1.3h-1.3zM181.0 150.1h1.3v1.3h-1.3zM162.7 85.9h1.3v1.3h-1.3zM172.6 163.6h1.3v1.3h-1.3zM164.7 92.8h1.3v1.3h-1.3zM159.8 168.9h1.3v1.3h-1.3zM172.1 115.9h1.3v1.3h-1.3zM171.6 169.5h1.3v1.3h-1.3zM180.9 137.2h1.3v1.3h-1.3zM163.4 169.5h1.3v1.3h-1.3zM173.2 168.9h1.3v1.3h-1.3zM164.2 148.9h1.3v1.3h-1.3zM154.9 158.3h1.3v1.3h-1.3zM168.7 87.4h1.3v1.3h-1.3zM169.3 134.8h1.3v1.3h-1.3zM177.6 73.7h1.3v1.3h-1.3zM153.9 84.2h1.3v1.3h-1.3zM174.5 163.5h1.3v1.3h-1.3zM170.0 133.1h1.3v1.3h-1.3z" fill="rgb(72,96,181)" fill-opacity="0.78"/>
<path d="M165.4 138.8h1.3v1.3h-1.3zM160.5 148.8h1.3v1.3h-1.3zM176.3 71.5h1.3v1.3h-1.3zM161.4 148.4h1.3v1.3h-1.3zM173.6 133.1h1.3v1.3h-1.3zM180.5 70.1h1.3v1.3h-1.3zM153.8 147.2h1.3v1.3h-1.3zM173.1 83.5h1.3v1.3h-1.3zM157.9 76.1h1.3v1.3h-1.3zM156.4 148.7h1.3v1.3h-1.3zM180.5 164.1h1.3v1.3h-1.3zM162.0 163.3h1.3v1.3h-1.3zM177.8 77.2h1.3v1.3h-1.3zM164.6 166.4h1.3v1.3h-1.3zM163.9 132.3h1.3v1.3h-1.3zM172.7 168.3h1.3v1.3h-1.3zM182.8 151.4h1.3v1.3h-1.3zM178.0 74.5h1.3v1.3h-1.3zM166.2 163.1h1.3v1.3h-1.3zM163.3 162.8h1.3v1.3h-1.3zM157.7 98.5h1.3v1.3h-1.3zM161.0 78.6h1.3v1.3h-1.3zM178.3 82.4h1.3v1.3h-1.3zM170.3 137.7h1.3v1.3h-1.3zM183.5 153.0h1.3v1.3h-1.3zM181.7 143.9h1.3v1.3h-1.3zM160.7 78.5h1.3v1.3h-1.3zM166.0 160.3h1.3v1.3h-1.3zM168.9 160.1h1.3v1.3h-1.3zM176.0 163.8h1.3v1.3h-1.3zM164.7 76.5h1.3v1.3h-1.3zM170.5 85.7h1.3v1.3h-1.3zM167.7 171.7h1.3v1.3h-1.3zM168.8 164.6h1.3v1.3h-1.3zM164.1 151.4h1.3v1.3h-1.3zM160.2 114.8h1.3v1.3h-1.3zM173.3 164.5h1.3v1.3h-1.3zM166.1 159.8h1.3v1.3h-1.3zM157.5 142.6h1.3v1.3h-1.3zM166.7 155.1h1.3v1.3h-1.3zM165.1 87.2h1.3v1.3h-1.3zM185.0 159.1h1.3v1.3h-1.3zM169.7 164.9h1.3v1.3h-1.3zM160.9 79.3h1.3v1.3h-1.3zM158.9 81.6h1.3v1.3h-1.3zM155.1 146.6h1.3v1.3h-1.3zM168.8 161.5h1.3v1.3h-1.3zM176.7 78.7h1.3v1.3h-1.3zM171.9 169.2h1.3v1.3h-1.3zM163.6 144.6h1.3v1.3h-1.3zM163.5 159.2h1.3v1.3h-1.3zM159.2 157.2h1.3v1.3h-1.3zM168.9 165.6h1.3v1.3h-1.3zM162.0 116.4h1.3v1.3h-1.3zM162.6 90.5h1.3v1.3h-1.3zM160.9 159.0h1.3v1.3h-1.3zM171.0 86.4h1.3v1.3h-1.3zM183.0 154.7h1.3v1.3h-1.3zM163.4 159.4h1.3v1.3h-1.3zM176.7 165.7h1.3v1.3h-1.3zM162.6 116.0h1.3v1.3h-1.3zM169.9 136.1h1.3v1.3h-1.3zM161.8 81.9h1.3v1.3h-1.3zM174.6 167.3h1.3v1.3h-1.3zM161.5 140.0h1.3v1.3h-1.3zM162.5 73.3h1.3v1.3h-1.3zM177.9 163.0h1.3v1.3h-1.3zM161.3 151.3h1.3v1.3h-1.3zM163.1 98.2h1.3v1.3h-1.3zM166.0 147.7h1.3v1.3h-1.3zM177.6 71.5h1.3v1.3h-1.3zM177.1 135.2h1.3v1.3h-1.3zM167.3 89.7h1.3v1.3h-1.3zM165.9 145.6h1.3v1.3h-1.3zM164.1 86.5h1.3v1.3h-1.3zM183.4 149.4h1.3v1.3h-1.3zM158.9 147.4h1.3v1.3h-1.3zM152.3 138.4h1.3v1.3h-1.3zM179.2 72.4h1.3v1.3h-1.3zM176.3 81.5h1.3v1.3h-1.3zM165.8 70.1h1.3v1.3h-1.3zM165.0 157.9h1.3v1.3h-1.3zM162.9 85.1h1.3v1.3h-1.3zM167.0 88.3h1.3v1.3h-1.3zM180.0 160.1h1.3v1.3h-1.3zM163.1 143.8h1.3v1.3h-1.3zM179.1 66.6h1.3v1.3h-1.3zM167.3 90.1h1.3v1.3h-1.3zM152.7 86.7h1.3v1.3h-1.3zM165.3 72.6h1.3v1.3h-1.3zM159.2 151.9h1.3v1.3h-1.3zM159.8 158.6h1.3v1.3h-1.3zM163.4 152.1h1.3v1.3h-1.3zM182.3 152.2h1.3v1.3h-1.3zM171.5 71.0h1.3v1.3h-1.3zM180.7 154.0h1.3v1.3h-1.3zM162.2 85.4h1.3v1.3h-1.3zM165.0 148.7h1.3v1.3h-1.3zM162.7 169.3h1.3v1.3h-1.3zM174.6 70.5h1.3v1.3h-1.3zM164.0 143.1h1.3v1.3h-1.3zM159.8 76.1h1.3v1.3h-1.3zM166.0 173.9h1.3v1.3h-1.3zM165.5 145.8h1.3v1.3h-1.3zM160.3 85.7h1.3v1.3h-1.3zM184.5 153.2h1.3v1.3h-1.3zM168.2 86.7h1.3v1.3h-1.3zM180.6 145.0h1.3v1.3h-1.3zM173.5 69.4h1.3v1.3h-1.3zM172.1 83.7h1.3v1.3h-1.3zM177.6 169.1h1.3v1.3h-1.3zM159.5 85.5h1.3v1.3h-1.3zM166.3 162.3h1.3v1.3h-1.3zM180.0 166.1h1.3v1.3h-1.3zM159.8 150.5h1.3v1.3h-1.3zM177.2 76.4h1.3v1.3h-1.3zM176.2 71.1h1.3v1.3h-1.3zM183.6 157.1h1.3v1.3h-1.3zM170.7 88.2h1.3v1.3h-1.3zM166.6 156.4h1.3v1.3h-1.3zM165.9 171.7h1.3v1.3h-1.3zM173.9 135.0h1.3v1.3h-1.3zM168.4 160.2h1.3v1.3h-1.3zM163.5 153.1h1.3v1.3h-1.3zM156.1 151.7h1.3v1.3h-1.3zM178.0 133.7h1.3v1.3h-1.3zM172.5 135.2h1.3v1.3h-1.3zM171.4 137.5h1.3v1.3h-1.3zM164.0 146.9h1.3v1.3h-1.3zM177.6 135.5h1.3v1.3h-1.3zM164.9 150.4h1.3v1.3h-1.3zM176.7 130.3h1.3v1.3h-1.3zM179.2 161.6h1.3v1.3h-1.3zM164.0 141.9h1.3v1.3h-1.3zM165.5 138.9h1.3v1.3h-1.3zM175.1 168.6h1.3v1.3h-1.3zM162.1 158.3h1.3v1.3h-1.3zM181.3 149.9h1.3v1.3h-1.3z" fill="rgb(81,110,191)" fill-opacity="0.78"/>
<path d="M160.5 81.3h1.3v1.3h-1.3zM169.5 132.7h1.3v1.3h-1.3zM165.1 69.1h1.3v1.3h-1.3zM153.5 151.1h1.3v1.3h-1.3zM166.1 156.8h1.3v1.3h-1.3zM157.2 156.6h1.3v1.3h-1.3zM153.4 144.7h1.3v1.3h-1.3zM174.6 69.9h1.3v1.3h-1.3zM160.8 77.5h1.3v1.3h-1.3zM162.5 154.0h1.3v1.3h-1.3zM179.1 138.9h1.3v1.3h-1.3zM170.5 88.5h1.3v1.3h-1.3zM177.1 70.0h1.3v1.3h-1.3zM157.4 146.2h1.3v1.3h-1.3zM178.0 133.0h1.3v1.3h-1.3zM166.3 154.4h1.3v1.3h-1.3zM176.8 162.6h1.3v1.3h-1.3zM164.9 157.7h1.3v1.3h-1.3zM166.4 138.0h1.3v1.3h-1.3zM176.4 78.5h1.3v1.3h-1.3zM161.0 145.9h1.3v1.3h-1.3zM168.4 159.4h1.3v1.3h-1.3zM181.4 148.8h1.3v1.3h-1.3zM174.7 169.5h1.3v1.3h-1.3zM172.5 135.8h1.3v1.3h-1.3zM173.8 162.8h1.3v1.3h-1.3zM171.4 164.2h1.3v1.3h-1.3zM166.1 147.1h1.3v1.3h-1.3zM164.0 75.5h1.3v1.3h-1.3zM160.2 142.9h1.3v1.3h-1.3zM176.4 137.2h1.3v1.3h-1.3zM170.6 86.5h1.3v1.3h-1.3zM164.3 86.9h1.3v1.3h-1.3zM168.1 71.6h1.3v1.3h-1.3zM162.5 140.4h1.3v1.3h-1.3zM174.5 135.4h1.3v1.3h-1.3zM162.2 67.4h1.3v1.3h-1.3zM180.1 156.0h1.3v1.3h-1.3zM173.6 136.8h1.3v1.3h-1.3zM158.1 147.8h1.3v1.3h-1.3zM163.7 144.3h1.3v1.3h-1.3zM179.9 135.2h1.3v1.3h-1.3zM166.4 143.5h1.3v1.3h-1.3zM167.6 161.3h1.3v1.3h-1.3zM175.2 71.4h1.3v1.3h-1.3zM163.7 77.0h1.3v1.3h-1.3zM158.0 149.1h1.3v1.3h-1.3zM180.4 139.5h1.3v1.3h-1.3zM171.6 90.7h1.3v1.3h-1.3zM164.2 70.2h1.3v1.3h-1.3zM185.7 153.8h1.3v1.3h-1.3zM176.5 77.4h1.3v1.3h-1.3zM167.8 85.3h1.3v1.3h-1.3zM160.9 116.5h1.3v1.3h-1.3zM173.3 129.0h1.3v1.3h-1.3zM160.9 86.2h1.3v1.3h-1.3zM175.6 80.7h1.3v1.3h-1.3zM171.9 68.8h1.3v1.3h-1.3zM159.8 73.7h1.3v1.3h-1.3zM156.7 150.8h1.3v1.3h-1.3zM185.7 148.1h1.3v1.3h-1.3zM179.3 138.5h1.3v1.3h-1.3zM161.9 77.0h1.3v1.3h-1.3zM180.2 153.7h1.3v1.3h-1.3zM180.6 167.4h1.3v1.3h-1.3zM178.6 75.9h1.3v1.3h-1.3zM166.2 141.8h1.3v1.3h-1.3zM184.0 153.4h1.3v1.3h-1.3zM164.6 147.2h1.3v1.3h-1.3zM159.2 86.6h1.3v1.3h-1.3zM165.5 141.0h1.3v1.3h-1.3zM180.4 131.5h1.3v1.3h-1.3zM160.7 74.1h1.3v1.3h-1.3zM169.7 164.0h1.3v1.3h-1.3zM159.5 151.1h1.3v1.3h-1.3zM171.0 172.5h1.3v1.3h-1.3zM173.6 135.5h1.3v1.3h-1.3zM168.9 163.8h1.3v1.3h-1.3zM171.2 133.0h1.3v1.3h-1.3zM164.5 77.7h1.3v1.3h-1.3zM181.4 140.9h1.3v1.3h-1.3zM155.8 147.2h1.3v1.3h-1.3zM183.1 150.5h1.3v1.3h-1.3zM179.0 160.8h1.3v1.3h-1.3zM164.5 134.9h1.3v1.3h-1.3zM166.3 139.6h1.3v1.3h-1.3zM167.2 141.4h1.3v1.3h-1.3zM165.0 141.4h1.3v1.3h-1.3zM162.5 153.4h1.3v1.3h-1.3zM181.2 141.7h1.3v1.3h-1.3zM172.5 83.9h1.3v1.3h-1.3zM171.5 165.6h1.3v1.3h-1.3zM175.4 163.9h1.3v1.3h-1.3zM171.0 137.4h1.3v1.3h-1.3zM180.5 132.3h1.3v1.3h-1.3zM174.3 162.8h1.3v1.3h-1.3zM165.2 89.4h1.3v1.3h-1.3zM174.4 162.2h1.3v1.3h-1.3zM170.7 135.8h1.3v1.3h-1.3zM169.7 86.9h1.3v1.3h-1.3zM170.3 85.9h1.3v1.3h-1.3zM161.7 86.9h1.3v1.3h-1.3zM170.5 137.0h1.3v1.3h-1.3zM181.6 158.4h1.3v1.3h-1.3zM173.2 162.9h1.3v1.3h-1.3zM176.7 82.1h1.3v1.3h-1.3zM180.4 139.1h1.3v1.3h-1.3zM160.8 79.2h1.3v1.3h-1.3zM177.1 165.7h1.3v1.3h-1.3zM161.9 85.2h1.3v1.3h-1.3zM163.9 150.8h1.3v1.3h-1.3zM167.7 165.1h1.3v1.3h-1.3zM161.8 87.5h1.3v1.3h-1.3zM175.5 164.9h1.3v1.3h-1.3zM181.4 141.5h1.3v1.3h-1.3zM180.8 142.3h1.3v1.3h-1.3zM162.0 155.9h1.3v1.3h-1.3zM165.2 152.1h1.3v1.3h-1.3zM178.6 160.0h1.3v1.3h-1.3zM156.7 79.4h1.3v1.3h-1.3zM162.5 76.3h1.3v1.3h-1.3zM162.6 159.8h1.3v1.3h-1.3zM160.8 147.2h1.3v1.3h-1.3zM181.2 148.2h1.3v1.3h-1.3zM159.3 158.6h1.3v1.3h-1.3zM165.3 168.9h1.3v1.3h-1.3zM165.1 143.3h1.3v1.3h-1.3zM163.0 153.4h1.3v1.3h-1.3zM179.0 157.1h1.3v1.3h-1.3zM172.2 162.8h1.3v1.3h-1.3zM163.7 146.4h1.3v1.3h-1.3zM166.9 155.0h1.3v1.3h-1.3zM170.7 166.3h1.3v1.3h-1.3zM160.1 153.5h1.3v1.3h-1.3zM176.8 69.0h1.3v1.3h-1.3zM171.0 173.9h1.3v1.3h-1.3zM170.2 71.7h1.3v1.3h-1.3zM178.3 163.4h1.3v1.3h-1.3zM160.7 85.5h1.3v1.3h-1.3zM174.8 133.4h1.3v1.3h-1.3zM157.1 76.8h1.3v1.3h-1.3zM166.0 157.2h1.3v1.3h-1.3z" fill="rgb(90,124,201)" fill-opacity="0.78"/>
<path d="M167.3 89.3h1.3v1.3h-1.3zM162.9 76.8h1.3v1.3h-1.3zM176.7 133.0h1.3v1.3h-1.3zM161.6 118.4h1.3v1.3h-1.3zM172.8 134.5h1.3v1.3h-1.3zM163.7 146.9h1.3v1.3h-1.3zM162.8 74.1h1.3v1.3h-1.3zM154.6 138.9h1.3v1.3h-1.3zM169.8 161.7h1.3v1.3h-1.3zM167.5 136.9h1.3v1.3h-1.3zM159.6 72.5h1.3v1.3h-1.3zM174.7 164.9h1.3v1.3h-1.3zM157.1 154.1h1.3v1.3h-1.3zM160.4 140.1h1.3v1.3h-1.3zM158.4 156.4h1.3v1.3h-1.3zM173.7 70.0h1.3v1.3h-1.3zM157.4 92.9h1.3v1.3h-1.3zM174.5 136.0h1.3v1.3h-1.3zM169.9 161.6h1.3v1.3h-1.3zM181.8 149.6h1.3v1.3h-1.3zM183.6 146.7h1.3v1.3h-1.3zM164.7 86.3h1.3v1.3h-1.3zM178.2 75.2h1.3v1.3h-1.3zM169.6 67.5h1.3v1.3h-1.3zM177.8 69.7h1.3v1.3h-1.3zM161.9 80.7h1.3v1.3h-1.3zM171.4 70.3h1.3v1.3h-1.3zM165.0 152.1h1.3v1.3h-1.3zM165.9 143.2h1.3v1.3h-1.3zM162.1 83.8h1.3v1.3h-1.3zM180.7 153.0h1.3v1.3h-1.3zM182.0 148.1h1.3v1.3h-1.3zM166.8 143.5h1.3v1.3h-1.3zM162.2 77.4h1.3v1.3h-1.3zM149.1 158.0h1.3v1.3h-1.3zM164.1 155.6h1.3v1.3h-1.3zM163.1 158.0h1.3v1.3h-1.3zM175.0 166.4h1.3v1.3h-1.3zM159.2 81.9h1.3v1.3h-1.3zM161.8 142.1h1.3v1.3h-1.3zM177.3 74.2h1.3v1.3h-1.3zM176.7 165.4h1.3v1.3h-1.3zM165.3 154.3h1.3v1.3h-1.3zM166.2 150.4h1.3v1.3h-1.3zM166.0 86.5h1.3v1.3h-1.3zM168.7 86.7h1.3v1.3h-1.3zM184.0 152.3h1.3v1.3h-1.3zM170.2 134.0h1.3v1.3h-1.3zM162.8 143.9h1.3v1.3h-1.3zM162.9 149.6h1.3v1.3h-1.3zM161.3 145.0h1.3v1.3h-1.3zM161.3 75.1h1.3v1.3h-1.3zM162.8 153.6h1.3v1.3h-1.3zM168.2 73.0h1.3v1.3h-1.3zM164.8 154.8h1.3v1.3h-1.3zM162.0 75.6h1.3v1.3h-1.3zM167.0 154.3h1.3v1.3h-1.3zM181.0 157.2h1.3v1.3h-1.3zM155.2 149.3h1.3v1.3h-1.3zM179.3 168.9h1.3v1.3h-1.3zM174.4 71.1h1.3v1.3h-1.3zM161.7 77.7h1.3v1.3h-1.3zM165.9 76.6h1.3v1.3h-1.3zM174.8 137.1h1.3v1.3h-1.3zM175.0 137.5h1.3v1.3h-1.3zM175.2 137.9h1.3v1.3h-1.3zM165.5 85.4h1.3v1.3h-1.3zM165.5 85.5h1.3v1.3h-1.3zM165.5 85.1h1.3v1.3h-1.3zM165.3 85.3h1.3v1.3h-1.3zM181.2 148.8h1.3v1.3h-1.3zM176.0 162.2h1.3v1.3h-1.3zM175.6 162.7h1.3v1.3h-1.3zM162.5 79.4h1.3v1.3h-1.3zM162.3 79.1h1.3v1.3h-1.3zM162.4 82.5h1.3v1.3h-1.3zM166.3 71.3h1.3v1.3h-1.3zM169.4 160.3h1.3v1.3h-1.3zM169.0 160.0h1.3v1.3h-1.3zM169.6 160.4h1.3v1.3h-1.3zM162.6 83.9h1.3v1.3h-1.3zM172.9 84.1h1.3v1.3h-1.3zM174.0 168.2h1.3v1.3h-1.3zM165.1 73.3h1.3v1.3h-1.3zM167.6 155.2h1.3v1.3h-1.3zM167.2 155.9h1.3v1.3h-1.3zM181.4 142.5h1.3v1.3h-1.3zM167.1 156.6h1.3v1.3h-1.3zM167.3 156.2h1.3v1.3h-1.3zM167.3 157.2h1.3v1.3h-1.3zM167.8 157.5h1.3v1.3h-1.3zM171.7 167.1h1.3v1.3h-1.3zM170.4 133.3h1.3v1.3h-1.3zM182.9 155.3h1.3v1.3h-1.3zM174.0 72.0h1.3v1.3h-1.3zM173.7 71.4h1.3v1.3h-1.3zM172.7 71.5h1.3v1.3h-1.3zM172.5 71.7h1.3v1.3h-1.3zM177.8 162.6h1.3v1.3h-1.3zM158.7 165.9h1.3v1.3h-1.3zM166.8 157.7h1.3v1.3h-1.3zM178.1 138.4h1.3v1.3h-1.3zM161.7 80.6h1.3v1.3h-1.3zM182.0 148.5h1.3v1.3h-1.3zM166.7 155.7h1.3v1.3h-1.3zM169.5 139.7h1.3v1.3h-1.3zM162.5 81.4h1.3v1.3h-1.3zM162.1 81.1h1.3v1.3h-1.3zM167.5 145.1h1.3v1.3h-1.3zM167.1 145.7h1.3v1.3h-1.3zM167.9 145.8h1.3v1.3h-1.3zM177.4 137.8h1.3v1.3h-1.3zM164.8 86.7h1.3v1.3h-1.3zM167.9 154.5h1.3v1.3h-1.3zM167.7 154.1h1.3v1.3h-1.3zM179.6 142.4h1.3v1.3h-1.3zM179.2 142.9h1.3v1.3h-1.3zM179.5 142.6h1.3v1.3h-1.3zM180.0 142.2h1.3v1.3h-1.3zM170.4 162.6h1.3v1.3h-1.3zM180.0 166.2h1.3v1.3h-1.3zM162.7 147.6h1.3v1.3h-1.3zM170.3 161.4h1.3v1.3h-1.3zM170.2 161.7h1.3v1.3h-1.3zM182.6 147.0h1.3v1.3h-1.3zM167.8 146.1h1.3v1.3h-1.3zM167.5 146.7h1.3v1.3h-1.3zM167.7 146.8h1.3v1.3h-1.3zM175.5 78.3h1.3v1.3h-1.3zM180.9 145.0h1.3v1.3h-1.3zM164.9 162.5h1.3v1.3h-1.3zM180.1 140.5h1.3v1.3h-1.3zM175.4 77.3h1.3v1.3h-1.3zM167.9 161.5h1.3v1.3h-1.3zM165.8 147.8h1.3v1.3h-1.3zM163.2 78.4h1.3v1.3h-1.3zM163.3 78.3h1.3v1.3h-1.3zM163.9 78.9h1.3v1.3h-1.3zM178.1 135.3h1.3v1.3h-1.3zM169.2 87.3h1.3v1.3h-1.3zM172.1 162.2h1.3v1.3h-1.3zM163.3 74.2h1.3v1.3h-1.3zM179.2 139.3h1.3v1.3h-1.3zM179.2 139.4h1.3v1.3h-1.3zM179.5 139.5h1.3v1.3h-1.3zM168.3 158.9h1.3v1.3h-1.3zM168.9 158.8h1.3v1.3h-1.3zM168.0 158.6h1.3v1.3h-1.3zM168.0 158.4h1.3v1.3h-1.3zM168.8 158.2h1.3v1.3h-1.3zM168.3 158.5h1.3v1.3h-1.3zM158.5 148.0h1.3v1.3h-1.3zM161.2 147.3h1.3v1.3h-1.3zM157.7 154.1h1.3v1.3h-1.3zM167.8 147.9h1.3v1.3h-1.3zM167.4 147.1h1.3v1.3h-1.3zM176.3 161.3h1.3v1.3h-1.3zM176.4 161.8h1.3v1.3h-1.3zM176.1 161.6h1.3v1.3h-1.3zM164.3 151.4h1.3v1.3h-1.3zM179.4 141.4h1.3v1.3h-1.3zM179.6 141.1h1.3v1.3h-1.3zM166.5 152.5h1.3v1.3h-1.3zM166.4 152.5h1.3v1.3h-1.3zM166.3 152.2h1.3v1.3h-1.3zM166.8 152.5h1.3v1.3h-1.3zM166.5 152.0h1.3v1.3h-1.3zM178.0 160.0h1.3v1.3h-1.3zM178.1 159.9h1.3v1.3h-1.3zM178.5 159.3h1.3v1.3h-1.3zM178.3 159.4h1.3v1.3h-1.3zM172.5 69.6h1.3v1.3h-1.3z" fill="rgb(99,138,211)" fill-opacity="0.78"/>
<path d="M167.0 157.5h1.3v1.3h-1.3zM166.7 145.8h1.3v1.3h-1.3zM166.2 151.6h1.3v1.3h-1.3zM166.9 151.9h1.3v1.3h-1.3zM166.8 151.5h1.3v1.3h-1.3zM166.8 152.0h1.3v1.3h-1.3zM166.3 152.0h1.3v1.3h-1.3zM157.8 155.9h1.3v1.3h-1.3zM164.7 156.4h1.3v1.3h-1.3zM181.1 138.4h1.3v1.3h-1.3zM165.9 151.2h1.3v1.3h-1.3zM158.2 148.4h1.3v1.3h-1.3zM167.4 144.1h1.3v1.3h-1.3zM167.9 144.1h1.3v1.3h-1.3zM164.5 148.2h1.3v1.3h-1.3zM161.5 164.0h1.3v1.3h-1.3zM170.6 135.2h1.3v1.3h-1.3zM172.6 168.1h1.3v1.3h-1.3zM163.9 150.8h1.3v1.3h-1.3zM159.3 84.5h1.3v1.3h-1.3zM178.1 137.7h1.3v1.3h-1.3zM159.8 78.3h1.3v1.3h-1.3zM171.8 137.9h1.3v1.3h-1.3zM182.8 148.4h1.3v1.3h-1.3zM180.1 152.5h1.3v1.3h-1.3zM157.1 154.6h1.3v1.3h-1.3zM171.3 71.6h1.3v1.3h-1.3zM177.6 162.9h1.3v1.3h-1.3zM182.5 160.1h1.3v1.3h-1.3zM179.2 134.6h1.3v1.3h-1.3zM166.9 143.8h1.3v1.3h-1.3zM174.7 136.4h1.3v1.3h-1.3zM160.8 155.7h1.3v1.3h-1.3zM166.1 87.9h1.3v1.3h-1.3zM170.3 162.6h1.3v1.3h-1.3zM176.5 163.7h1.3v1.3h-1.3zM169.3 70.9h1.3v1.3h-1.3zM174.8 135.0h1.3v1.3h-1.3zM165.8 158.3h1.3v1.3h-1.3zM160.4 159.8h1.3v1.3h-1.3zM166.9 146.1h1.3v1.3h-1.3zM180.2 153.2h1.3v1.3h-1.3zM161.3 80.7h1.3v1.3h-1.3zM160.0 153.0h1.3v1.3h-1.3zM164.5 147.0h1.3v1.3h-1.3zM164.7 85.5h1.3v1.3h-1.3zM170.0 86.3h1.3v1.3h-1.3zM165.9 145.6h1.3v1.3h-1.3zM177.8 137.7h1.3v1.3h-1.3zM181.1 149.8h1.3v1.3h-1.3zM175.5 163.8h1.3v1.3h-1.3zM170.5 162.4h1.3v1.3h-1.3zM167.8 158.3h1.3v1.3h-1.3zM152.0 151.7h1.3v1.3h-1.3zM163.9 148.1h1.3v1.3h-1.3zM153.4 72.6h1.3v1.3h-1.3zM168.8 85.2h1.3v1.3h-1.3zM181.2 156.6h1.3v1.3h-1.3zM164.9 153.4h1.3v1.3h-1.3zM166.9 148.8h1.3v1.3h-1.3zM166.7 149.1h1.3v1.3h-1.3zM174.6 80.1h1.3v1.3h-1.3zM165.4 86.2h1.3v1.3h-1.3zM166.8 142.8h1.3v1.3h-1.3zM178.0 162.5h1.3v1.3h-1.3zM175.5 135.2h1.3v1.3h-1.3zM171.7 137.6h1.3v1.3h-1.3zM163.2 84.8h1.3v1.3h-1.3zM170.7 90.3h1.3v1.3h-1.3zM162.3 78.1h1.3v1.3h-1.3zM163.2 72.3h1.3v1.3h-1.3zM180.7 157.0h1.3v1.3h-1.3zM179.3 138.8h1.3v1.3h-1.3zM170.5 163.9h1.3v1.3h-1.3zM166.3 85.4h1.3v1.3h-1.3zM180.5 145.1h1.3v1.3h-1.3zM159.7 86.3h1.3v1.3h-1.3zM160.9 85.2h1.3v1.3h-1.3zM167.5 139.9h1.3v1.3h-1.3zM178.0 164.8h1.3v1.3h-1.3zM165.5 158.5h1.3v1.3h-1.3zM160.8 80.4h1.3v1.3h-1.3zM164.6 148.7h1.3v1.3h-1.3zM159.8 153.5h1.3v1.3h-1.3zM160.0 76.3h1.3v1.3h-1.3zM166.3 86.0h1.3v1.3h-1.3zM176.2 75.2h1.3v1.3h-1.3zM167.2 85.9h1.3v1.3h-1.3zM166.0 154.8h1.3v1.3h-1.3zM157.6 147.4h1.3v1.3h-1.3zM175.3 72.8h1.3v1.3h-1.3zM165.3 158.3h1.3v1.3h-1.3zM165.3 145.9h1.3v1.3h-1.3zM165.7 145.5h1.3v1.3h-1.3zM166.1 146.5h1.3v1.3h-1.3zM180.8 150.6h1.3v1.3h-1.3zM166.9 137.8h1.3v1.3h-1.3zM159.1 156.5h1.3v1.3h-1.3zM169.8 85.2h1.3v1.3h-1.3zM171.1 71.8h1.3v1.3h-1.3zM166.7 157.8h1.3v1.3h-1.3zM179.7 138.7h1.3v1.3h-1.3zM162.0 90.1h1.3v1.3h-1.3zM166.2 157.9h1.3v1.3h-1.3zM171.1 134.7h1.3v1.3h-1.3zM170.4 131.9h1.3v1.3h-1.3zM166.5 88.8h1.3v1.3h-1.3zM167.9 87.0h1.3v1.3h-1.3zM164.1 157.0h1.3v1.3h-1.3zM173.0 70.4h1.3v1.3h-1.3zM167.5 72.9h1.3v1.3h-1.3zM174.1 163.7h1.3v1.3h-1.3zM166.6 87.0h1.3v1.3h-1.3zM179.1 158.4h1.3v1.3h-1.3zM164.8 138.8h1.3v1.3h-1.3zM171.2 162.5h1.3v1.3h-1.3zM181.0 146.8h1.3v1.3h-1.3zM181.6 143.1h1.3v1.3h-1.3zM175.6 71.8h1.3v1.3h-1.3zM173.5 136.1h1.3v1.3h-1.3zM167.8 72.5h1.3v1.3h-1.3zM167.4 140.3h1.3v1.3h-1.3zM164.2 97.3h1.3v1.3h-1.3zM165.3 145.6h1.3v1.3h-1.3zM165.8 71.4h1.3v1.3h-1.3zM165.8 159.4h1.3v1.3h-1.3zM170.5 87.0h1.3v1.3h-1.3zM169.6 70.5h1.3v1.3h-1.3zM181.7 146.9h1.3v1.3h-1.3zM167.6 160.3h1.3v1.3h-1.3zM165.8 139.3h1.3v1.3h-1.3zM178.8 164.7h1.3v1.3h-1.3zM166.4 162.5h1.3v1.3h-1.3zM171.2 137.2h1.3v1.3h-1.3zM178.0 137.9h1.3v1.3h-1.3zM165.2 76.2h1.3v1.3h-1.3zM161.2 147.2h1.3v1.3h-1.3zM170.4 162.9h1.3v1.3h-1.3zM160.4 78.2h1.3v1.3h-1.3zM170.9 137.6h1.3v1.3h-1.3zM164.5 144.7h1.3v1.3h-1.3zM153.2 161.1h1.3v1.3h-1.3zM166.8 148.8h1.3v1.3h-1.3zM163.2 155.3h1.3v1.3h-1.3zM165.0 159.7h1.3v1.3h-1.3zM164.4 145.1h1.3v1.3h-1.3zM161.9 146.5h1.3v1.3h-1.3zM169.6 85.6h1.3v1.3h-1.3zM169.1 85.4h1.3v1.3h-1.3zM172.0 88.5h1.3v1.3h-1.3zM174.1 85.0h1.3v1.3h-1.3zM180.6 153.5h1.3v1.3h-1.3zM165.7 74.2h1.3v1.3h-1.3zM161.8 78.0h1.3v1.3h-1.3zM159.9 151.5h1.3v1.3h-1.3zM163.4 159.3h1.3v1.3h-1.3zM174.7 71.0h1.3v1.3h-1.3zM179.4 159.8h1.3v1.3h-1.3zM176.8 74.9h1.3v1.3h-1.3zM179.5 165.6h1.3v1.3h-1.3zM167.0 73.9h1.3v1.3h-1.3zM162.4 83.2h1.3v1.3h-1.3zM182.2 131.9h1.3v1.3h-1.3zM172.8 163.6h1.3v1.3h-1.3zM171.4 137.4h1.3v1.3h-1.3zM172.2 133.9h1.3v1.3h-1.3zM159.9 157.0h1.3v1.3h-1.3zM163.9 141.6h1.3v1.3h-1.3zM159.8 79.2h1.3v1.3h-1.3zM172.1 135.9h1.3v1.3h-1.3zM166.2 90.3h1.3v1.3h-1.3zM174.8 136.8h1.3v1.3h-1.3zM161.6 155.1h1.3v1.3h-1.3zM177.8 75.6h1.3v1.3h-1.3zM167.8 165.2h1.3v1.3h-1.3zM161.1 142.2h1.3v1.3h-1.3zM161.3 147.2h1.3v1.3h-1.3zM167.3 141.6h1.3v1.3h-1.3zM167.1 158.1h1.3v1.3h-1.3zM164.2 148.5h1.3v1.3h-1.3zM175.5 135.4h1.3v1.3h-1.3zM173.6 162.5h1.3v1.3h-1.3zM171.5 137.1h1.3v1.3h-1.3zM158.6 148.0h1.3v1.3h-1.3zM176.9 164.8h1.3v1.3h-1.3zM181.6 140.2h1.3v1.3h-1.3zM177.7 75.9h1.3v1.3h-1.3zM167.4 73.2h1.3v1.3h-1.3zM167.0 73.1h1.3v1.3h-1.3zM167.1 73.8h1.3v1.3h-1.3zM179.8 143.6h1.3v1.3h-1.3zM180.0 143.6h1.3v1.3h-1.3zM169.1 159.7h1.3v1.3h-1.3zM170.6 84.9h1.3v1.3h-1.3zM170.3 84.9h1.3v1.3h-1.3zM170.9 84.4h1.3v1.3h-1.3zM170.4 84.3h1.3v1.3h-1.3zM173.3 138.9h1.3v1.3h-1.3zM173.9 138.4h1.3v1.3h-1.3zM173.5 138.7h1.3v1.3h-1.3zM173.0 138.4h1.3v1.3h-1.3zM173.7 138.8h1.3v1.3h-1.3zM165.7 77.9h1.3v1.3h-1.3zM170.3 72.3h1.3v1.3h-1.3zM170.1 72.2h1.3v1.3h-1.3zM164.1 84.7h1.3v1.3h-1.3zM164.4 84.6h1.3v1.3h-1.3zM164.7 84.7h1.3v1.3h-1.3zM172.5 138.1h1.3v1.3h-1.3zM169.0 156.3h1.3v1.3h-1.3zM168.9 156.6h1.3v1.3h-1.3zM177.8 160.6h1.3v1.3h-1.3zM177.1 160.3h1.3v1.3h-1.3zM174.3 138.4h1.3v1.3h-1.3zM174.2 72.1h1.3v1.3h-1.3zM174.0 72.6h1.3v1.3h-1.3zM174.7 72.9h1.3v1.3h-1.3zM175.6 161.3h1.3v1.3h-1.3zM175.1 161.5h1.3v1.3h-1.3zM174.6 161.2h1.3v1.3h-1.3zM170.6 139.5h1.3v1.3h-1.3zM170.6 139.9h1.3v1.3h-1.3zM179.4 140.3h1.3v1.3h-1.3zM179.8 140.5h1.3v1.3h-1.3zM179.7 140.2h1.3v1.3h-1.3zM179.1 140.9h1.3v1.3h-1.3zM180.5 147.6h1.3v1.3h-1.3zM180.2 147.9h1.3v1.3h-1.3zM180.1 147.2h1.3v1.3h-1.3zM167.3 142.9h1.3v1.3h-1.3zM167.7 142.7h1.3v1.3h-1.3zM167.6 142.4h1.3v1.3h-1.3zM177.4 138.1h1.3v1.3h-1.3zM177.7 138.8h1.3v1.3h-1.3zM177.1 138.1h1.3v1.3h-1.3zM177.9 138.1h1.3v1.3h-1.3zM180.1 149.6h1.3v1.3h-1.3zM180.2 149.5h1.3v1.3h-1.3zM167.5 153.1h1.3v1.3h-1.3zM179.0 156.3h1.3v1.3h-1.3zM171.3 161.2h1.3v1.3h-1.3zM171.6 161.3h1.3v1.3h-1.3zM171.9 161.8h1.3v1.3h-1.3zM171.4 161.1h1.3v1.3h-1.3zM171.2 161.1h1.3v1.3h-1.3zM166.8 74.8h1.3v1.3h-1.3zM166.2 74.8h1.3v1.3h-1.3zM163.8 83.9h1.3v1.3h-1.3zM163.1 83.7h1.3v1.3h-1.3zM164.0 83.0h1.3v1.3h-1.3zM170.8 160.9h1.3v1.3h-1.3zM175.7 138.3h1.3v1.3h-1.3zM175.3 138.2h1.3v1.3h-1.3zM175.3 138.4h1.3v1.3h-1.3zM175.7 138.3h1.3v1.3h-1.3zM175.4 138.5h1.3v1.3h-1.3zM175.8 138.8h1.3v1.3h-1.3zM168.4 73.1h1.3v1.3h-1.3zM169.0 140.9h1.3v1.3h-1.3zM169.9 141.0h1.3v1.3h-1.3zM170.0 140.3h1.3v1.3h-1.3zM169.0 140.3h1.3v1.3h-1.3zM170.0 140.6h1.3v1.3h-1.3zM169.4 140.5h1.3v1.3h-1.3zM168.5 155.6h1.3v1.3h-1.3zM168.9 155.6h1.3v1.3h-1.3zM168.0 143.9h1.3v1.3h-1.3zM167.4 143.1h1.3v1.3h-1.3zM176.0 138.4h1.3v1.3h-1.3zM177.0 138.5h1.3v1.3h-1.3zM176.2 138.2h1.3v1.3h-1.3zM176.1 138.6h1.3v1.3h-1.3zM173.0 161.2h1.3v1.3h-1.3zM172.2 161.6h1.3v1.3h-1.3zM163.5 79.8h1.3v1.3h-1.3zM164.4 78.6h1.3v1.3h-1.3zM164.3 78.7h1.3v1.3h-1.3zM164.5 78.1h1.3v1.3h-1.3zM164.8 78.6h1.3v1.3h-1.3zM164.4 78.5h1.3v1.3h-1.3zM172.2 82.7h1.3v1.3h-1.3zM172.1 82.8h1.3v1.3h-1.3zM175.4 74.1h1.3v1.3h-1.3zM175.5 74.2h1.3v1.3h-1.3zM175.1 74.0h1.3v1.3h-1.3zM175.7 74.6h1.3v1.3h-1.3zM171.5 83.7h1.3v1.3h-1.3zM171.2 83.7h1.3v1.3h-1.3zM171.2 83.9h1.3v1.3h-1.3zM175.3 76.5h1.3v1.3h-1.3zM175.6 76.7h1.3v1.3h-1.3zM175.2 76.3h1.3v1.3h-1.3zM175.3 76.0h1.3v1.3h-1.3zM175.8 76.9h1.3v1.3h-1.3zM175.7 76.1h1.3v1.3h-1.3zM178.0 141.4h1.3v1.3h-1.3zM178.2 141.4h1.3v1.3h-1.3zM181.0 148.1h1.3v1.3h-1.3zM180.0 148.2h1.3v1.3h-1.3zM169.9 158.5h1.3v1.3h-1.3zM169.2 158.1h1.3v1.3h-1.3zM169.2 158.8h1.3v1.3h-1.3zM169.2 158.9h1.3v1.3h-1.3zM168.8 142.0h1.3v1.3h-1.3zM169.0 141.8h1.3v1.3h-1.3zM165.3 84.5h1.3v1.3h-1.3zM165.2 84.8h1.3v1.3h-1.3zM168.9 154.3h1.3v1.3h-1.3zM168.8 154.1h1.3v1.3h-1.3zM174.8 79.4h1.3v1.3h-1.3zM174.3 79.1h1.3v1.3h-1.3zM174.8 79.9h1.3v1.3h-1.3zM179.9 144.8h1.3v1.3h-1.3zM179.4 144.2h1.3v1.3h-1.3zM179.5 144.9h1.3v1.3h-1.3zM179.3 144.4h1.3v1.3h-1.3zM171.1 139.7h1.3v1.3h-1.3zM171.6 139.8h1.3v1.3h-1.3zM171.5 139.1h1.3v1.3h-1.3zM171.4 139.8h1.3v1.3h-1.3zM171.9 139.3h1.3v1.3h-1.3zM171.5 139.2h1.3v1.3h-1.3zM171.9 139.1h1.3v1.3h-1.3zM169.1 84.2h1.3v1.3h-1.3zM169.4 84.7h1.3v1.3h-1.3zM178.6 139.5h1.3v1.3h-1.3zM178.2 139.4h1.3v1.3h-1.3zM178.7 139.7h1.3v1.3h-1.3zM178.1 139.2h1.3v1.3h-1.3zM166.6 84.9h1.3v1.3h-1.3zM179.1 152.0h1.3v1.3h-1.3zM180.0 151.9h1.3v1.3h-1.3zM166.4 75.7h1.3v1.3h-1.3zM166.8 75.3h1.3v1.3h-1.3zM166.7 75.0h1.3v1.3h-1.3zM175.3 75.1h1.3v1.3h-1.3zM175.2 75.8h1.3v1.3h-1.3zM175.4 75.9h1.3v1.3h-1.3zM175.0 139.5h1.3v1.3h-1.3zM175.1 139.3h1.3v1.3h-1.3zM175.1 139.7h1.3v1.3h-1.3zM175.5 139.0h1.3v1.3h-1.3zM173.3 72.6h1.3v1.3h-1.3zM173.3 72.2h1.3v1.3h-1.3zM168.8 84.1h1.3v1.3h-1.3zM168.1 84.3h1.3v1.3h-1.3zM168.5 84.5h1.3v1.3h-1.3zM168.4 84.4h1.3v1.3h-1.3zM178.5 158.5h1.3v1.3h-1.3zM173.7 139.5h1.3v1.3h-1.3zM174.0 139.5h1.3v1.3h-1.3zM173.9 140.0h1.3v1.3h-1.3zM178.8 140.1h1.3v1.3h-1.3zM178.4 140.4h1.3v1.3h-1.3zM178.7 140.3h1.3v1.3h-1.3zM169.0 157.2h1.3v1.3h-1.3zM172.7 139.2h1.3v1.3h-1.3zM171.9 72.1h1.3v1.3h-1.3zM172.0 72.3h1.3v1.3h-1.3zM163.7 80.7h1.3v1.3h-1.3zM163.8 80.7h1.3v1.3h-1.3zM163.7 80.0h1.3v1.3h-1.3zM163.4 80.1h1.3v1.3h-1.3zM163.6 80.9h1.3v1.3h-1.3zM170.1 159.5h1.3v1.3h-1.3zM170.9 140.1h1.3v1.3h-1.3zM170.1 140.1h1.3v1.3h-1.3zM177.0 139.6h1.3v1.3h-1.3zM177.3 139.8h1.3v1.3h-1.3zM177.3 140.0h1.3v1.3h-1.3zM177.8 139.0h1.3v1.3h-1.3zM167.3 150.5h1.3v1.3h-1.3zM166.6 76.1h1.3v1.3h-1.3zM166.7 76.4h1.3v1.3h-1.3zM166.2 76.6h1.3v1.3h-1.3zM169.6 73.8h1.3v1.3h-1.3zM177.9 141.2h1.3v1.3h-1.3zM177.7 141.5h1.3v1.3h-1.3zM177.3 141.1h1.3v1.3h-1.3zM177.5 141.3h1.3v1.3h-1.3zM177.6 141.5h1.3v1.3h-1.3zM167.2 152.9h1.3v1.3h-1.3zM167.9 152.0h1.3v1.3h-1.3zM172.3 72.8h1.3v1.3h-1.3zM163.1 82.6h1.3v1.3h-1.3zM163.8 82.1h1.3v1.3h-1.3zM163.8 82.6h1.3v1.3h-1.3zM163.0 82.0h1.3v1.3h-1.3zM163.4 82.0h1.3v1.3h-1.3zM163.6 83.0h1.3v1.3h-1.3zM163.1 82.6h1.3v1.3h-1.3zM174.5 73.4h1.3v1.3h-1.3zM174.1 73.2h1.3v1.3h-1.3zM174.5 73.0h1.3v1.3h-1.3zM174.9 73.9h1.3v1.3h-1.3zM174.5 73.7h1.3v1.3h-1.3zM179.3 150.6h1.3v1.3h-1.3zM179.2 150.7h1.3v1.3h-1.3zM168.3 144.9h1.3v1.3h-1.3zM176.8 160.5h1.3v1.3h-1.3zM176.0 160.2h1.3v1.3h-1.3zM176.8 160.8h1.3v1.3h-1.3zM165.0 79.0h1.3v1.3h-1.3zM165.1 78.2h1.3v1.3h-1.3zM176.6 140.6h1.3v1.3h-1.3zM176.2 140.9h1.3v1.3h-1.3zM178.9 143.9h1.3v1.3h-1.3zM179.2 152.3h1.3v1.3h-1.3zM171.0 160.9h1.3v1.3h-1.3zM171.5 160.9h1.3v1.3h-1.3zM179.6 155.5h1.3v1.3h-1.3zM179.7 155.0h1.3v1.3h-1.3zM168.7 146.9h1.3v1.3h-1.3zM168.8 146.0h1.3v1.3h-1.3z" fill="rgb(96,153,196)" fill-opacity="0.78"/>
<path d="M169.2 156.2h1.3v1.3h-1.3zM179.6 145.2h1.3v1.3h-1.3zM179.5 145.9h1.3v1.3h-1.3zM165.0 83.4h1.3v1.3h-1.3zM164.0 81.5h1.3v1.3h-1.3zM166.7 77.2h1.3v1.3h-1.3zM166.7 78.0h1.3v1.3h-1.3zM168.7 153.9h1.3v1.3h-1.3zM167.6 151.8h1.3v1.3h-1.3zM167.9 151.3h1.3v1.3h-1.3zM167.7 151.0h1.3v1.3h-1.3zM177.2 142.4h1.3v1.3h-1.3zM177.9 142.5h1.3v1.3h-1.3zM179.9 146.9h1.3v1.3h-1.3zM179.0 146.5h1.3v1.3h-1.3zM179.8 146.9h1.3v1.3h-1.3zM179.2 146.5h1.3v1.3h-1.3zM179.4 146.8h1.3v1.3h-1.3zM175.3 140.5h1.3v1.3h-1.3zM175.7 140.7h1.3v1.3h-1.3zM169.6 141.9h1.3v1.3h-1.3zM169.1 141.7h1.3v1.3h-1.3zM168.1 142.8h1.3v1.3h-1.3zM172.8 140.9h1.3v1.3h-1.3zM173.0 140.5h1.3v1.3h-1.3zM172.0 140.1h1.3v1.3h-1.3zM172.4 140.1h1.3v1.3h-1.3zM172.9 140.2h1.3v1.3h-1.3zM179.5 147.7h1.3v1.3h-1.3zM179.9 147.7h1.3v1.3h-1.3zM179.2 148.0h1.3v1.3h-1.3zM179.8 147.1h1.3v1.3h-1.3zM170.9 158.6h1.3v1.3h-1.3zM170.3 158.9h1.3v1.3h-1.3zM170.1 158.4h1.3v1.3h-1.3zM170.1 158.5h1.3v1.3h-1.3zM170.4 158.5h1.3v1.3h-1.3zM167.0 74.3h1.3v1.3h-1.3zM167.4 74.6h1.3v1.3h-1.3zM167.8 74.2h1.3v1.3h-1.3zM167.5 74.7h1.3v1.3h-1.3zM167.9 74.6h1.3v1.3h-1.3zM167.9 74.9h1.3v1.3h-1.3zM180.0 149.2h1.3v1.3h-1.3zM179.4 150.0h1.3v1.3h-1.3zM179.8 149.5h1.3v1.3h-1.3zM179.4 149.2h1.3v1.3h-1.3zM179.6 149.7h1.3v1.3h-1.3zM179.7 149.4h1.3v1.3h-1.3zM169.1 155.3h1.3v1.3h-1.3zM169.2 155.3h1.3v1.3h-1.3zM169.8 155.3h1.3v1.3h-1.3zM169.8 155.3h1.3v1.3h-1.3zM169.7 155.3h1.3v1.3h-1.3zM175.3 160.4h1.3v1.3h-1.3zM168.2 143.3h1.3v1.3h-1.3zM168.6 143.3h1.3v1.3h-1.3zM168.5 143.5h1.3v1.3h-1.3zM168.7 143.3h1.3v1.3h-1.3zM170.2 83.0h1.3v1.3h-1.3zM170.7 83.7h1.3v1.3h-1.3zM170.1 83.4h1.3v1.3h-1.3zM178.4 157.4h1.3v1.3h-1.3zM176.5 141.1h1.3v1.3h-1.3zM174.1 140.8h1.3v1.3h-1.3zM177.1 160.0h1.3v1.3h-1.3zM177.5 159.9h1.3v1.3h-1.3zM177.1 159.0h1.3v1.3h-1.3zM177.3 159.3h1.3v1.3h-1.3zM177.8 159.2h1.3v1.3h-1.3zM179.6 148.8h1.3v1.3h-1.3zM179.4 148.5h1.3v1.3h-1.3zM179.8 148.8h1.3v1.3h-1.3zM179.7 153.2h1.3v1.3h-1.3zM173.9 140.0h1.3v1.3h-1.3zM173.4 140.3h1.3v1.3h-1.3zM170.1 141.9h1.3v1.3h-1.3zM170.8 141.0h1.3v1.3h-1.3zM170.3 141.3h1.3v1.3h-1.3zM179.0 154.6h1.3v1.3h-1.3zM179.2 154.8h1.3v1.3h-1.3zM179.8 154.8h1.3v1.3h-1.3zM179.8 154.8h1.3v1.3h-1.3zM165.9 83.2h1.3v1.3h-1.3zM165.9 83.9h1.3v1.3h-1.3zM172.7 160.2h1.3v1.3h-1.3zM172.4 160.4h1.3v1.3h-1.3zM173.9 80.6h1.3v1.3h-1.3zM173.5 80.5h1.3v1.3h-1.3zM173.7 80.4h1.3v1.3h-1.3zM174.1 78.9h1.3v1.3h-1.3zM174.1 78.5h1.3v1.3h-1.3zM171.0 73.9h1.3v1.3h-1.3zM170.0 73.7h1.3v1.3h-1.3zM170.3 73.5h1.3v1.3h-1.3zM170.9 73.7h1.3v1.3h-1.3zM170.9 74.0h1.3v1.3h-1.3zM170.2 73.0h1.3v1.3h-1.3zM174.2 160.3h1.3v1.3h-1.3zM174.1 160.7h1.3v1.3h-1.3zM169.9 154.2h1.3v1.3h-1.3zM169.6 154.0h1.3v1.3h-1.3zM169.7 154.1h1.3v1.3h-1.3zM173.5 73.2h1.3v1.3h-1.3zM173.4 74.0h1.3v1.3h-1.3zM173.8 73.6h1.3v1.3h-1.3zM166.2 78.5h1.3v1.3h-1.3zM166.5 78.9h1.3v1.3h-1.3zM166.7 78.8h1.3v1.3h-1.3zM175.0 74.9h1.3v1.3h-1.3zM174.9 74.7h1.3v1.3h-1.3zM164.5 80.2h1.3v1.3h-1.3zM164.6 80.5h1.3v1.3h-1.3zM164.1 80.4h1.3v1.3h-1.3zM164.3 80.4h1.3v1.3h-1.3zM178.8 144.9h1.3v1.3h-1.3zM178.9 144.7h1.3v1.3h-1.3zM178.0 144.9h1.3v1.3h-1.3zM178.8 145.0h1.3v1.3h-1.3zM172.0 159.3h1.3v1.3h-1.3zM173.1 160.5h1.3v1.3h-1.3zM173.1 160.5h1.3v1.3h-1.3zM164.2 82.6h1.3v1.3h-1.3zM164.4 82.2h1.3v1.3h-1.3zM168.3 147.1h1.3v1.3h-1.3zM168.8 147.6h1.3v1.3h-1.3zM168.5 147.2h1.3v1.3h-1.3zM165.6 79.6h1.3v1.3h-1.3zM165.1 79.6h1.3v1.3h-1.3zM166.0 79.8h1.3v1.3h-1.3zM165.6 79.6h1.3v1.3h-1.3zM177.8 143.1h1.3v1.3h-1.3zM177.7 143.9h1.3v1.3h-1.3zM177.3 143.1h1.3v1.3h-1.3zM170.5 157.6h1.3v1.3h-1.3zM168.4 74.8h1.3v1.3h-1.3zM168.4 74.7h1.3v1.3h-1.3zM168.9 152.1h1.3v1.3h-1.3zM168.7 152.7h1.3v1.3h-1.3zM168.5 152.5h1.3v1.3h-1.3zM168.8 152.7h1.3v1.3h-1.3zM171.3 82.7h1.3v1.3h-1.3zM171.2 82.4h1.3v1.3h-1.3zM171.7 82.6h1.3v1.3h-1.3zM171.6 82.1h1.3v1.3h-1.3zM171.7 82.2h1.3v1.3h-1.3zM164.7 82.0h1.3v1.3h-1.3zM164.8 81.1h1.3v1.3h-1.3zM164.5 81.4h1.3v1.3h-1.3zM164.3 81.2h1.3v1.3h-1.3zM172.1 81.5h1.3v1.3h-1.3zM172.3 81.0h1.3v1.3h-1.3zM173.0 81.8h1.3v1.3h-1.3zM172.3 81.9h1.3v1.3h-1.3zM166.9 83.2h1.3v1.3h-1.3zM166.3 83.7h1.3v1.3h-1.3zM166.9 83.0h1.3v1.3h-1.3zM166.3 83.4h1.3v1.3h-1.3zM166.2 83.8h1.3v1.3h-1.3zM166.0 83.9h1.3v1.3h-1.3zM167.0 83.6h1.3v1.3h-1.3zM169.2 83.4h1.3v1.3h-1.3zM172.6 73.6h1.3v1.3h-1.3zM172.2 73.3h1.3v1.3h-1.3zM172.5 73.9h1.3v1.3h-1.3zM173.0 141.5h1.3v1.3h-1.3zM172.9 142.0h1.3v1.3h-1.3zM169.1 153.1h1.3v1.3h-1.3zM169.8 153.4h1.3v1.3h-1.3zM169.6 153.8h1.3v1.3h-1.3zM169.2 153.6h1.3v1.3h-1.3zM167.9 75.3h1.3v1.3h-1.3zM167.6 75.0h1.3v1.3h-1.3zM167.4 76.0h1.3v1.3h-1.3zM167.1 75.7h1.3v1.3h-1.3zM167.8 75.9h1.3v1.3h-1.3zM171.7 73.9h1.3v1.3h-1.3zM171.5 73.7h1.3v1.3h-1.3zM171.7 73.1h1.3v1.3h-1.3zM171.4 73.2h1.3v1.3h-1.3zM171.5 73.5h1.3v1.3h-1.3zM171.2 73.4h1.3v1.3h-1.3zM169.0 142.1h1.3v1.3h-1.3zM169.5 142.7h1.3v1.3h-1.3zM169.2 142.5h1.3v1.3h-1.3zM169.3 142.3h1.3v1.3h-1.3zM169.5 142.3h1.3v1.3h-1.3zM169.7 142.3h1.3v1.3h-1.3zM169.2 142.5h1.3v1.3h-1.3zM178.5 156.3h1.3v1.3h-1.3zM178.9 156.8h1.3v1.3h-1.3zM178.6 156.7h1.3v1.3h-1.3zM178.2 156.4h1.3v1.3h-1.3zM175.5 141.9h1.3v1.3h-1.3zM176.0 141.9h1.3v1.3h-1.3zM176.0 141.1h1.3v1.3h-1.3z" fill="rgb(92,168,178)" fill-opacity="0.78"/>
<path d="M167.1 77.0h1.3v1.3h-1.3zM167.2 76.7h1.3v1.3h-1.3zM178.1 145.5h1.3v1.3h-1.3zM178.7 145.7h1.3v1.3h-1.3zM179.0 145.6h1.3v1.3h-1.3zM178.9 145.4h1.3v1.3h-1.3zM167.3 77.1h1.3v1.3h-1.3zM168.0 77.1h1.3v1.3h-1.3zM167.1 77.1h1.3v1.3h-1.3zM167.7 77.4h1.3v1.3h-1.3zM176.3 143.0h1.3v1.3h-1.3zM178.1 146.3h1.3v1.3h-1.3zM178.3 146.7h1.3v1.3h-1.3zM179.0 146.1h1.3v1.3h-1.3zM178.5 146.3h1.3v1.3h-1.3zM178.4 147.2h1.3v1.3h-1.3zM178.7 147.9h1.3v1.3h-1.3zM167.8 84.0h1.3v1.3h-1.3zM168.0 83.8h1.3v1.3h-1.3zM167.8 83.6h1.3v1.3h-1.3zM168.1 83.9h1.3v1.3h-1.3zM168.2 83.9h1.3v1.3h-1.3zM174.6 75.1h1.3v1.3h-1.3zM174.1 75.7h1.3v1.3h-1.3zM165.7 82.1h1.3v1.3h-1.3zM165.4 82.1h1.3v1.3h-1.3zM165.8 82.4h1.3v1.3h-1.3zM170.2 156.9h1.3v1.3h-1.3zM165.7 80.4h1.3v1.3h-1.3zM165.1 80.5h1.3v1.3h-1.3zM165.6 80.0h1.3v1.3h-1.3zM170.0 74.9h1.3v1.3h-1.3zM169.6 74.4h1.3v1.3h-1.3zM171.9 158.2h1.3v1.3h-1.3zM169.2 145.1h1.3v1.3h-1.3zM166.2 79.8h1.3v1.3h-1.3zM166.1 80.0h1.3v1.3h-1.3zM166.9 79.5h1.3v1.3h-1.3zM174.0 141.6h1.3v1.3h-1.3zM173.9 141.6h1.3v1.3h-1.3zM173.7 141.8h1.3v1.3h-1.3zM173.7 141.1h1.3v1.3h-1.3zM173.1 141.1h1.3v1.3h-1.3zM168.6 148.8h1.3v1.3h-1.3zM168.6 148.6h1.3v1.3h-1.3zM168.5 148.4h1.3v1.3h-1.3zM170.0 144.9h1.3v1.3h-1.3zM169.8 144.4h1.3v1.3h-1.3zM176.3 159.0h1.3v1.3h-1.3zM170.1 143.0h1.3v1.3h-1.3zM170.8 142.5h1.3v1.3h-1.3zM169.9 143.1h1.3v1.3h-1.3zM170.0 143.5h1.3v1.3h-1.3zM169.7 143.5h1.3v1.3h-1.3zM169.6 143.7h1.3v1.3h-1.3zM169.8 143.8h1.3v1.3h-1.3zM174.9 76.3h1.3v1.3h-1.3zM174.5 76.5h1.3v1.3h-1.3zM174.0 76.8h1.3v1.3h-1.3zM174.4 141.5h1.3v1.3h-1.3zM174.4 141.2h1.3v1.3h-1.3zM174.2 142.0h1.3v1.3h-1.3zM177.7 144.0h1.3v1.3h-1.3zM177.5 144.2h1.3v1.3h-1.3zM177.6 144.5h1.3v1.3h-1.3zM177.3 144.7h1.3v1.3h-1.3zM177.0 144.7h1.3v1.3h-1.3zM165.2 81.5h1.3v1.3h-1.3zM165.8 81.4h1.3v1.3h-1.3zM165.8 81.4h1.3v1.3h-1.3zM177.4 158.4h1.3v1.3h-1.3zM177.4 158.2h1.3v1.3h-1.3zM173.6 74.4h1.3v1.3h-1.3zM173.9 74.3h1.3v1.3h-1.3zM173.1 74.0h1.3v1.3h-1.3zM172.9 159.6h1.3v1.3h-1.3zM172.6 159.7h1.3v1.3h-1.3zM172.5 159.3h1.3v1.3h-1.3zM172.0 159.9h1.3v1.3h-1.3zM173.0 159.2h1.3v1.3h-1.3zM172.4 159.9h1.3v1.3h-1.3zM172.9 159.2h1.3v1.3h-1.3zM178.2 151.3h1.3v1.3h-1.3zM178.4 149.4h1.3v1.3h-1.3zM178.2 149.0h1.3v1.3h-1.3zM170.6 155.3h1.3v1.3h-1.3zM171.0 155.2h1.3v1.3h-1.3zM170.5 155.7h1.3v1.3h-1.3zM178.2 150.4h1.3v1.3h-1.3zM178.8 150.9h1.3v1.3h-1.3zM178.0 150.3h1.3v1.3h-1.3zM168.8 151.4h1.3v1.3h-1.3zM168.5 151.2h1.3v1.3h-1.3zM168.9 151.9h1.3v1.3h-1.3zM171.7 142.8h1.3v1.3h-1.3zM171.9 142.0h1.3v1.3h-1.3zM178.8 155.3h1.3v1.3h-1.3zM178.8 155.1h1.3v1.3h-1.3zM178.5 155.5h1.3v1.3h-1.3zM170.4 154.2h1.3v1.3h-1.3zM170.3 154.9h1.3v1.3h-1.3zM170.8 154.0h1.3v1.3h-1.3zM170.9 154.6h1.3v1.3h-1.3zM171.0 82.8h1.3v1.3h-1.3zM170.7 82.8h1.3v1.3h-1.3zM176.2 143.4h1.3v1.3h-1.3zM177.0 143.9h1.3v1.3h-1.3zM168.2 75.6h1.3v1.3h-1.3zM168.8 75.5h1.3v1.3h-1.3zM168.7 75.8h1.3v1.3h-1.3zM168.9 75.5h1.3v1.3h-1.3zM168.5 149.9h1.3v1.3h-1.3zM166.1 82.6h1.3v1.3h-1.3zM166.5 82.5h1.3v1.3h-1.3zM178.2 152.6h1.3v1.3h-1.3zM178.3 152.3h1.3v1.3h-1.3zM178.7 152.6h1.3v1.3h-1.3zM178.6 152.7h1.3v1.3h-1.3zM178.3 152.7h1.3v1.3h-1.3zM169.8 146.4h1.3v1.3h-1.3zM169.6 146.3h1.3v1.3h-1.3zM169.2 146.9h1.3v1.3h-1.3zM175.3 159.8h1.3v1.3h-1.3zM175.5 159.5h1.3v1.3h-1.3zM175.7 159.1h1.3v1.3h-1.3zM169.2 152.6h1.3v1.3h-1.3zM169.7 152.8h1.3v1.3h-1.3zM171.0 74.3h1.3v1.3h-1.3zM170.7 74.1h1.3v1.3h-1.3zM170.5 74.1h1.3v1.3h-1.3zM170.9 74.5h1.3v1.3h-1.3zM170.8 74.5h1.3v1.3h-1.3zM171.1 157.0h1.3v1.3h-1.3zM171.3 157.9h1.3v1.3h-1.3zM171.4 157.3h1.3v1.3h-1.3zM171.8 157.5h1.3v1.3h-1.3zM171.9 157.9h1.3v1.3h-1.3zM171.5 157.7h1.3v1.3h-1.3zM168.9 150.6h1.3v1.3h-1.3zM168.7 150.1h1.3v1.3h-1.3zM168.0 150.2h1.3v1.3h-1.3zM166.9 80.9h1.3v1.3h-1.3zM166.5 80.0h1.3v1.3h-1.3zM166.0 80.4h1.3v1.3h-1.3zM177.6 145.1h1.3v1.3h-1.3zM175.3 142.8h1.3v1.3h-1.3zM175.1 142.3h1.3v1.3h-1.3zM175.4 142.4h1.3v1.3h-1.3zM175.4 142.7h1.3v1.3h-1.3zM175.4 143.0h1.3v1.3h-1.3zM175.7 142.3h1.3v1.3h-1.3zM175.3 142.4h1.3v1.3h-1.3zM175.7 142.1h1.3v1.3h-1.3zM175.7 142.4h1.3v1.3h-1.3zM173.7 79.1h1.3v1.3h-1.3zM173.9 79.8h1.3v1.3h-1.3zM173.4 79.2h1.3v1.3h-1.3zM173.9 159.5h1.3v1.3h-1.3zM173.9 159.2h1.3v1.3h-1.3zM173.5 159.7h1.3v1.3h-1.3zM173.3 159.7h1.3v1.3h-1.3zM173.7 159.7h1.3v1.3h-1.3zM173.8 159.4h1.3v1.3h-1.3zM172.1 142.2h1.3v1.3h-1.3zM172.1 142.2h1.3v1.3h-1.3zM172.7 142.2h1.3v1.3h-1.3zM172.7 142.5h1.3v1.3h-1.3zM172.4 143.0h1.3v1.3h-1.3zM174.6 159.5h1.3v1.3h-1.3zM174.2 159.7h1.3v1.3h-1.3zM174.3 159.3h1.3v1.3h-1.3zM174.7 159.2h1.3v1.3h-1.3zM174.6 159.3h1.3v1.3h-1.3zM172.7 74.2h1.3v1.3h-1.3zM172.3 74.5h1.3v1.3h-1.3zM169.0 76.4h1.3v1.3h-1.3zM168.7 76.9h1.3v1.3h-1.3zM169.0 76.5h1.3v1.3h-1.3zM168.2 76.4h1.3v1.3h-1.3zM166.2 81.5h1.3v1.3h-1.3zM166.9 81.6h1.3v1.3h-1.3zM166.9 81.4h1.3v1.3h-1.3zM178.1 154.6h1.3v1.3h-1.3zM178.1 154.3h1.3v1.3h-1.3zM178.5 154.1h1.3v1.3h-1.3zM178.7 154.9h1.3v1.3h-1.3zM178.3 155.0h1.3v1.3h-1.3zM178.5 154.4h1.3v1.3h-1.3z" fill="rgb(96,178,148)" fill-opacity="0.78"/>
<path d="M178.2 153.5h1.3v1.3h-1.3zM178.4 153.1h1.3v1.3h-1.3zM178.5 153.9h1.3v1.3h-1.3zM178.1 153.3h1.3v1.3h-1.3zM178.4 153.9h1.3v1.3h-1.3zM178.1 153.7h1.3v1.3h-1.3zM177.3 157.5h1.3v1.3h-1.3zM177.6 157.7h1.3v1.3h-1.3zM178.0 157.5h1.3v1.3h-1.3zM177.4 157.9h1.3v1.3h-1.3zM177.2 157.7h1.3v1.3h-1.3zM177.7 157.4h1.3v1.3h-1.3zM177.3 158.0h1.3v1.3h-1.3zM167.5 79.7h1.3v1.3h-1.3zM167.4 79.2h1.3v1.3h-1.3zM167.3 79.3h1.3v1.3h-1.3zM167.3 79.9h1.3v1.3h-1.3zM177.2 146.4h1.3v1.3h-1.3zM172.4 158.4h1.3v1.3h-1.3zM172.7 158.4h1.3v1.3h-1.3zM172.2 158.5h1.3v1.3h-1.3zM172.2 158.2h1.3v1.3h-1.3zM169.4 82.5h1.3v1.3h-1.3zM169.8 82.4h1.3v1.3h-1.3zM169.8 82.7h1.3v1.3h-1.3zM171.5 81.2h1.3v1.3h-1.3zM171.9 81.9h1.3v1.3h-1.3zM171.9 81.8h1.3v1.3h-1.3zM172.0 82.0h1.3v1.3h-1.3zM171.4 81.4h1.3v1.3h-1.3zM168.9 77.6h1.3v1.3h-1.3zM168.6 77.7h1.3v1.3h-1.3zM168.5 77.4h1.3v1.3h-1.3zM177.1 147.5h1.3v1.3h-1.3zM177.9 147.2h1.3v1.3h-1.3zM167.7 82.1h1.3v1.3h-1.3zM167.1 82.5h1.3v1.3h-1.3zM167.9 82.8h1.3v1.3h-1.3zM167.9 82.1h1.3v1.3h-1.3zM167.2 82.2h1.3v1.3h-1.3zM167.2 82.5h1.3v1.3h-1.3zM170.7 143.9h1.3v1.3h-1.3zM170.1 143.1h1.3v1.3h-1.3zM173.7 142.1h1.3v1.3h-1.3zM173.6 142.3h1.3v1.3h-1.3zM169.6 75.2h1.3v1.3h-1.3zM169.9 76.0h1.3v1.3h-1.3zM169.4 75.7h1.3v1.3h-1.3zM172.8 80.7h1.3v1.3h-1.3zM172.3 80.6h1.3v1.3h-1.3zM176.2 144.6h1.3v1.3h-1.3zM176.5 144.2h1.3v1.3h-1.3zM176.9 144.1h1.3v1.3h-1.3zM176.4 144.5h1.3v1.3h-1.3zM171.8 156.2h1.3v1.3h-1.3zM171.7 156.9h1.3v1.3h-1.3zM171.5 156.1h1.3v1.3h-1.3zM171.2 156.8h1.3v1.3h-1.3zM171.7 156.3h1.3v1.3h-1.3zM171.6 156.6h1.3v1.3h-1.3zM174.6 142.6h1.3v1.3h-1.3zM174.0 142.0h1.3v1.3h-1.3zM174.2 142.9h1.3v1.3h-1.3zM174.8 142.4h1.3v1.3h-1.3zM174.1 142.4h1.3v1.3h-1.3zM168.3 82.7h1.3v1.3h-1.3zM168.0 82.8h1.3v1.3h-1.3zM168.2 82.1h1.3v1.3h-1.3zM168.8 82.4h1.3v1.3h-1.3zM168.8 82.5h1.3v1.3h-1.3zM177.7 156.2h1.3v1.3h-1.3zM177.5 156.5h1.3v1.3h-1.3zM177.2 156.6h1.3v1.3h-1.3zM168.8 78.7h1.3v1.3h-1.3zM168.7 78.9h1.3v1.3h-1.3zM176.2 158.0h1.3v1.3h-1.3zM176.7 158.5h1.3v1.3h-1.3zM176.4 158.2h1.3v1.3h-1.3zM176.6 158.1h1.3v1.3h-1.3zM176.5 158.5h1.3v1.3h-1.3zM176.2 158.7h1.3v1.3h-1.3zM176.4 158.8h1.3v1.3h-1.3zM173.8 75.5h1.3v1.3h-1.3zM173.1 75.8h1.3v1.3h-1.3zM173.0 75.9h1.3v1.3h-1.3zM173.1 75.1h1.3v1.3h-1.3zM173.9 75.3h1.3v1.3h-1.3zM172.6 157.1h1.3v1.3h-1.3zM172.0 157.9h1.3v1.3h-1.3zM177.8 148.2h1.3v1.3h-1.3zM175.6 143.1h1.3v1.3h-1.3zM175.5 144.0h1.3v1.3h-1.3zM175.5 143.8h1.3v1.3h-1.3zM175.0 143.1h1.3v1.3h-1.3zM173.9 158.7h1.3v1.3h-1.3zM173.7 158.2h1.3v1.3h-1.3zM171.5 155.9h1.3v1.3h-1.3zM171.2 155.8h1.3v1.3h-1.3zM171.5 155.4h1.3v1.3h-1.3zM171.5 155.3h1.3v1.3h-1.3zM167.4 80.9h1.3v1.3h-1.3zM167.7 81.0h1.3v1.3h-1.3zM167.7 80.2h1.3v1.3h-1.3zM167.5 80.9h1.3v1.3h-1.3zM170.6 152.6h1.3v1.3h-1.3zM170.0 152.9h1.3v1.3h-1.3zM169.8 147.8h1.3v1.3h-1.3zM169.1 147.2h1.3v1.3h-1.3zM169.3 147.9h1.3v1.3h-1.3zM170.0 147.1h1.3v1.3h-1.3zM177.1 155.5h1.3v1.3h-1.3zM177.8 155.3h1.3v1.3h-1.3zM177.1 155.9h1.3v1.3h-1.3zM177.8 156.0h1.3v1.3h-1.3zM177.2 155.5h1.3v1.3h-1.3zM173.9 157.6h1.3v1.3h-1.3zM173.2 157.7h1.3v1.3h-1.3zM173.9 157.9h1.3v1.3h-1.3zM171.9 154.1h1.3v1.3h-1.3zM171.6 154.1h1.3v1.3h-1.3zM171.5 154.1h1.3v1.3h-1.3zM167.5 81.5h1.3v1.3h-1.3zM170.6 81.9h1.3v1.3h-1.3zM170.8 81.4h1.3v1.3h-1.3zM174.5 158.4h1.3v1.3h-1.3zM174.9 158.1h1.3v1.3h-1.3zM174.7 158.5h1.3v1.3h-1.3zM174.4 158.8h1.3v1.3h-1.3zM174.8 158.6h1.3v1.3h-1.3zM174.1 158.4h1.3v1.3h-1.3zM174.2 158.8h1.3v1.3h-1.3zM175.9 158.2h1.3v1.3h-1.3zM175.3 158.0h1.3v1.3h-1.3zM175.5 158.7h1.3v1.3h-1.3zM172.2 156.1h1.3v1.3h-1.3zM172.6 156.6h1.3v1.3h-1.3zM172.5 156.7h1.3v1.3h-1.3zM172.9 156.4h1.3v1.3h-1.3zM172.7 156.6h1.3v1.3h-1.3zM173.1 156.7h1.3v1.3h-1.3zM173.8 156.6h1.3v1.3h-1.3zM173.2 156.4h1.3v1.3h-1.3zM174.2 156.8h1.3v1.3h-1.3zM174.6 157.2h1.3v1.3h-1.3zM174.0 157.2h1.3v1.3h-1.3zM174.1 157.7h1.3v1.3h-1.3zM171.5 153.4h1.3v1.3h-1.3zM171.3 153.8h1.3v1.3h-1.3zM171.6 153.1h1.3v1.3h-1.3zM172.0 153.9h1.3v1.3h-1.3zM170.0 144.2h1.3v1.3h-1.3zM170.5 144.7h1.3v1.3h-1.3zM170.3 144.7h1.3v1.3h-1.3zM170.9 144.4h1.3v1.3h-1.3zM170.4 144.8h1.3v1.3h-1.3zM169.3 151.2h1.3v1.3h-1.3zM169.0 151.6h1.3v1.3h-1.3zM169.7 151.1h1.3v1.3h-1.3zM169.5 151.2h1.3v1.3h-1.3zM168.9 80.0h1.3v1.3h-1.3zM168.5 79.8h1.3v1.3h-1.3zM168.4 79.4h1.3v1.3h-1.3zM168.8 79.2h1.3v1.3h-1.3zM168.8 79.1h1.3v1.3h-1.3zM168.5 79.2h1.3v1.3h-1.3zM177.2 149.2h1.3v1.3h-1.3zM177.3 149.9h1.3v1.3h-1.3zM177.2 149.7h1.3v1.3h-1.3zM177.8 149.9h1.3v1.3h-1.3zM177.5 149.5h1.3v1.3h-1.3zM177.0 149.6h1.3v1.3h-1.3zM177.6 149.5h1.3v1.3h-1.3zM171.2 143.5h1.3v1.3h-1.3zM172.0 143.2h1.3v1.3h-1.3zM176.3 145.9h1.3v1.3h-1.3zM176.8 145.4h1.3v1.3h-1.3zM176.3 157.7h1.3v1.3h-1.3zM176.1 157.7h1.3v1.3h-1.3zM176.6 157.4h1.3v1.3h-1.3zM176.3 157.0h1.3v1.3h-1.3zM176.2 157.8h1.3v1.3h-1.3zM176.4 157.4h1.3v1.3h-1.3zM173.2 78.7h1.3v1.3h-1.3zM173.3 78.4h1.3v1.3h-1.3zM173.6 78.9h1.3v1.3h-1.3zM173.4 78.8h1.3v1.3h-1.3zM177.6 154.8h1.3v1.3h-1.3zM177.3 154.8h1.3v1.3h-1.3zM169.3 76.9h1.3v1.3h-1.3zM169.6 76.6h1.3v1.3h-1.3zM169.9 76.5h1.3v1.3h-1.3zM169.7 76.2h1.3v1.3h-1.3zM171.0 75.7h1.3v1.3h-1.3zM170.3 75.7h1.3v1.3h-1.3zM170.5 75.7h1.3v1.3h-1.3zM171.0 75.1h1.3v1.3h-1.3zM170.5 75.8h1.3v1.3h-1.3zM175.4 156.7h1.3v1.3h-1.3zM175.5 156.8h1.3v1.3h-1.3zM175.8 156.4h1.3v1.3h-1.3zM175.9 156.9h1.3v1.3h-1.3zM175.3 156.3h1.3v1.3h-1.3zM175.7 156.3h1.3v1.3h-1.3z" fill="rgb(110,184,106)" fill-opacity="0.78"/>
<path d="M176.3 156.8h1.3v1.3h-1.3zM169.6 81.0h1.3v1.3h-1.3zM169.8 81.6h1.3v1.3h-1.3zM169.9 81.9h1.3v1.3h-1.3zM169.4 81.0h1.3v1.3h-1.3zM175.5 157.4h1.3v1.3h-1.3zM175.2 157.8h1.3v1.3h-1.3zM175.5 157.4h1.3v1.3h-1.3zM177.4 153.2h1.3v1.3h-1.3zM177.2 153.1h1.3v1.3h-1.3zM177.8 154.0h1.3v1.3h-1.3zM177.9 153.1h1.3v1.3h-1.3zM168.2 81.4h1.3v1.3h-1.3zM168.3 81.8h1.3v1.3h-1.3zM168.2 81.2h1.3v1.3h-1.3zM168.9 81.3h1.3v1.3h-1.3zM168.6 81.3h1.3v1.3h-1.3zM168.7 81.8h1.3v1.3h-1.3zM168.7 81.6h1.3v1.3h-1.3zM168.6 81.5h1.3v1.3h-1.3zM177.5 152.4h1.3v1.3h-1.3zM178.0 152.3h1.3v1.3h-1.3zM177.4 152.8h1.3v1.3h-1.3zM177.6 152.7h1.3v1.3h-1.3zM172.1 155.7h1.3v1.3h-1.3zM172.6 155.9h1.3v1.3h-1.3zM172.5 155.4h1.3v1.3h-1.3zM172.1 155.1h1.3v1.3h-1.3zM172.2 155.8h1.3v1.3h-1.3zM177.6 151.8h1.3v1.3h-1.3zM177.6 151.9h1.3v1.3h-1.3zM177.6 151.2h1.3v1.3h-1.3zM177.2 151.3h1.3v1.3h-1.3zM177.1 150.5h1.3v1.3h-1.3zM177.3 150.1h1.3v1.3h-1.3zM177.7 150.9h1.3v1.3h-1.3zM177.1 150.2h1.3v1.3h-1.3zM174.6 143.2h1.3v1.3h-1.3zM174.0 143.9h1.3v1.3h-1.3zM174.3 143.2h1.3v1.3h-1.3zM176.2 155.4h1.3v1.3h-1.3zM176.0 155.4h1.3v1.3h-1.3zM176.4 155.7h1.3v1.3h-1.3zM176.9 155.7h1.3v1.3h-1.3zM177.0 155.7h1.3v1.3h-1.3zM176.0 155.2h1.3v1.3h-1.3zM174.9 155.6h1.3v1.3h-1.3zM174.3 155.9h1.3v1.3h-1.3zM174.2 155.2h1.3v1.3h-1.3zM174.3 155.1h1.3v1.3h-1.3zM174.0 155.8h1.3v1.3h-1.3zM173.3 155.0h1.3v1.3h-1.3zM173.8 155.1h1.3v1.3h-1.3zM175.9 155.5h1.3v1.3h-1.3zM175.3 155.4h1.3v1.3h-1.3zM168.7 80.2h1.3v1.3h-1.3zM169.0 80.9h1.3v1.3h-1.3zM168.3 80.8h1.3v1.3h-1.3zM168.1 80.0h1.3v1.3h-1.3zM170.7 145.2h1.3v1.3h-1.3zM170.7 145.9h1.3v1.3h-1.3zM170.6 145.8h1.3v1.3h-1.3zM170.9 145.5h1.3v1.3h-1.3zM173.4 76.7h1.3v1.3h-1.3zM173.9 76.8h1.3v1.3h-1.3zM173.8 76.5h1.3v1.3h-1.3zM171.0 80.1h1.3v1.3h-1.3zM171.4 80.6h1.3v1.3h-1.3zM171.6 80.8h1.3v1.3h-1.3zM171.2 80.1h1.3v1.3h-1.3zM171.8 80.1h1.3v1.3h-1.3zM171.7 80.2h1.3v1.3h-1.3zM171.5 80.9h1.3v1.3h-1.3zM175.1 144.3h1.3v1.3h-1.3zM175.4 144.1h1.3v1.3h-1.3zM172.9 143.4h1.3v1.3h-1.3zM172.2 143.2h1.3v1.3h-1.3zM172.5 143.0h1.3v1.3h-1.3zM172.9 143.1h1.3v1.3h-1.3zM172.8 143.3h1.3v1.3h-1.3zM173.0 75.2h1.3v1.3h-1.3zM172.8 75.3h1.3v1.3h-1.3zM172.1 75.1h1.3v1.3h-1.3zM173.5 143.3h1.3v1.3h-1.3zM171.7 152.9h1.3v1.3h-1.3zM171.9 152.0h1.3v1.3h-1.3zM169.7 77.3h1.3v1.3h-1.3zM176.6 146.6h1.3v1.3h-1.3zM176.0 146.2h1.3v1.3h-1.3zM176.3 146.1h1.3v1.3h-1.3zM176.7 146.6h1.3v1.3h-1.3zM176.1 146.5h1.3v1.3h-1.3zM176.8 146.1h1.3v1.3h-1.3zM176.2 146.2h1.3v1.3h-1.3zM173.1 77.6h1.3v1.3h-1.3zM173.9 77.2h1.3v1.3h-1.3zM173.2 77.8h1.3v1.3h-1.3zM173.9 77.1h1.3v1.3h-1.3zM172.1 154.1h1.3v1.3h-1.3zM172.3 154.9h1.3v1.3h-1.3zM172.5 154.9h1.3v1.3h-1.3zM172.1 154.7h1.3v1.3h-1.3zM172.7 154.3h1.3v1.3h-1.3zM172.4 154.9h1.3v1.3h-1.3zM176.0 154.1h1.3v1.3h-1.3zM176.9 154.7h1.3v1.3h-1.3zM171.1 76.0h1.3v1.3h-1.3zM171.7 75.6h1.3v1.3h-1.3zM171.9 75.1h1.3v1.3h-1.3zM169.9 80.4h1.3v1.3h-1.3zM169.4 80.4h1.3v1.3h-1.3zM169.5 80.3h1.3v1.3h-1.3zM169.4 80.5h1.3v1.3h-1.3zM170.0 80.2h1.3v1.3h-1.3zM171.0 80.2h1.3v1.3h-1.3zM170.8 80.8h1.3v1.3h-1.3zM170.4 80.6h1.3v1.3h-1.3zM169.2 148.6h1.3v1.3h-1.3zM169.7 148.7h1.3v1.3h-1.3zM169.9 148.4h1.3v1.3h-1.3zM169.1 148.8h1.3v1.3h-1.3zM169.0 148.5h1.3v1.3h-1.3zM170.0 148.1h1.3v1.3h-1.3zM169.5 148.1h1.3v1.3h-1.3zM169.5 148.7h1.3v1.3h-1.3zM169.2 78.6h1.3v1.3h-1.3zM169.9 78.8h1.3v1.3h-1.3zM170.0 78.8h1.3v1.3h-1.3zM169.1 78.4h1.3v1.3h-1.3zM169.0 78.6h1.3v1.3h-1.3zM169.4 78.8h1.3v1.3h-1.3zM169.1 78.7h1.3v1.3h-1.3zM172.2 79.0h1.3v1.3h-1.3zM172.1 79.5h1.3v1.3h-1.3zM172.7 79.4h1.3v1.3h-1.3zM172.5 79.1h1.3v1.3h-1.3zM172.4 79.3h1.3v1.3h-1.3zM172.7 79.8h1.3v1.3h-1.3zM172.8 80.0h1.3v1.3h-1.3zM169.9 79.7h1.3v1.3h-1.3zM169.9 79.6h1.3v1.3h-1.3zM170.6 146.6h1.3v1.3h-1.3zM170.2 146.2h1.3v1.3h-1.3zM169.7 150.4h1.3v1.3h-1.3zM169.1 150.2h1.3v1.3h-1.3zM169.2 150.4h1.3v1.3h-1.3zM169.1 150.7h1.3v1.3h-1.3zM176.5 148.0h1.3v1.3h-1.3zM176.3 147.1h1.3v1.3h-1.3zM176.6 147.6h1.3v1.3h-1.3zM176.1 147.6h1.3v1.3h-1.3zM176.1 147.7h1.3v1.3h-1.3zM175.7 154.8h1.3v1.3h-1.3zM175.2 154.3h1.3v1.3h-1.3zM175.3 154.6h1.3v1.3h-1.3zM175.3 154.5h1.3v1.3h-1.3zM175.2 154.1h1.3v1.3h-1.3zM175.0 154.3h1.3v1.3h-1.3zM170.1 151.5h1.3v1.3h-1.3zM170.6 151.4h1.3v1.3h-1.3zM170.5 151.6h1.3v1.3h-1.3zM170.7 151.6h1.3v1.3h-1.3zM170.8 151.2h1.3v1.3h-1.3zM170.5 151.9h1.3v1.3h-1.3zM170.8 151.2h1.3v1.3h-1.3zM171.0 151.3h1.3v1.3h-1.3zM170.7 151.8h1.3v1.3h-1.3zM172.8 153.7h1.3v1.3h-1.3zM172.3 153.5h1.3v1.3h-1.3zM173.9 154.1h1.3v1.3h-1.3zM173.9 154.9h1.3v1.3h-1.3zM173.5 154.3h1.3v1.3h-1.3zM176.7 153.9h1.3v1.3h-1.3zM176.9 153.9h1.3v1.3h-1.3zM176.1 153.6h1.3v1.3h-1.3zM176.6 153.4h1.3v1.3h-1.3zM174.7 154.0h1.3v1.3h-1.3zM174.9 154.2h1.3v1.3h-1.3zM174.3 154.7h1.3v1.3h-1.3zM174.3 154.7h1.3v1.3h-1.3zM169.8 149.5h1.3v1.3h-1.3zM169.5 149.8h1.3v1.3h-1.3zM169.1 149.6h1.3v1.3h-1.3zM169.6 149.0h1.3v1.3h-1.3zM169.9 149.2h1.3v1.3h-1.3zM169.4 149.2h1.3v1.3h-1.3zM169.6 150.0h1.3v1.3h-1.3zM169.2 149.1h1.3v1.3h-1.3z" fill="rgb(124,190,67)" fill-opacity="0.78"/>
<path d="M176.4 148.3h1.3v1.3h-1.3zM176.6 148.5h1.3v1.3h-1.3zM176.7 148.9h1.3v1.3h-1.3zM177.0 148.7h1.3v1.3h-1.3zM176.7 148.1h1.3v1.3h-1.3zM176.6 148.6h1.3v1.3h-1.3zM174.2 144.1h1.3v1.3h-1.3zM174.1 144.9h1.3v1.3h-1.3zM174.1 144.5h1.3v1.3h-1.3zM171.8 144.2h1.3v1.3h-1.3zM171.8 144.7h1.3v1.3h-1.3zM171.2 144.8h1.3v1.3h-1.3zM171.2 144.1h1.3v1.3h-1.3zM171.6 144.4h1.3v1.3h-1.3zM172.0 144.1h1.3v1.3h-1.3zM171.2 144.4h1.3v1.3h-1.3zM171.6 144.2h1.3v1.3h-1.3zM170.7 76.8h1.3v1.3h-1.3zM177.0 152.4h1.3v1.3h-1.3zM176.0 145.5h1.3v1.3h-1.3zM175.4 145.5h1.3v1.3h-1.3zM175.3 145.8h1.3v1.3h-1.3zM176.0 145.5h1.3v1.3h-1.3zM175.9 146.0h1.3v1.3h-1.3zM172.2 152.9h1.3v1.3h-1.3zM172.0 152.1h1.3v1.3h-1.3zM172.2 152.2h1.3v1.3h-1.3zM172.5 152.3h1.3v1.3h-1.3zM172.9 152.1h1.3v1.3h-1.3zM172.6 152.9h1.3v1.3h-1.3zM172.1 152.4h1.3v1.3h-1.3zM172.6 152.1h1.3v1.3h-1.3zM172.5 152.2h1.3v1.3h-1.3zM170.9 79.9h1.3v1.3h-1.3zM170.8 79.2h1.3v1.3h-1.3zM170.1 79.7h1.3v1.3h-1.3zM171.8 151.1h1.3v1.3h-1.3zM171.4 152.0h1.3v1.3h-1.3zM176.6 149.0h1.3v1.3h-1.3zM176.7 149.7h1.3v1.3h-1.3zM176.5 149.1h1.3v1.3h-1.3zM176.2 151.1h1.3v1.3h-1.3zM177.0 151.2h1.3v1.3h-1.3zM176.5 151.4h1.3v1.3h-1.3zM176.1 151.9h1.3v1.3h-1.3zM176.8 151.7h1.3v1.3h-1.3zM171.8 80.0h1.3v1.3h-1.3zM171.3 79.3h1.3v1.3h-1.3zM176.6 150.4h1.3v1.3h-1.3zM176.3 150.8h1.3v1.3h-1.3zM176.0 150.7h1.3v1.3h-1.3zM176.6 150.8h1.3v1.3h-1.3zM176.2 150.9h1.3v1.3h-1.3zM177.0 150.2h1.3v1.3h-1.3zM176.0 150.3h1.3v1.3h-1.3zM175.9 153.8h1.3v1.3h-1.3zM175.7 153.7h1.3v1.3h-1.3zM175.2 153.2h1.3v1.3h-1.3zM175.1 153.2h1.3v1.3h-1.3zM170.4 147.8h1.3v1.3h-1.3zM171.0 147.0h1.3v1.3h-1.3zM173.4 153.4h1.3v1.3h-1.3zM173.5 153.6h1.3v1.3h-1.3zM173.2 153.6h1.3v1.3h-1.3zM174.0 153.4h1.3v1.3h-1.3zM173.9 153.1h1.3v1.3h-1.3zM172.2 76.9h1.3v1.3h-1.3zM172.0 76.4h1.3v1.3h-1.3zM172.4 76.6h1.3v1.3h-1.3zM172.8 76.7h1.3v1.3h-1.3zM172.3 76.6h1.3v1.3h-1.3zM172.4 76.8h1.3v1.3h-1.3zM172.5 76.9h1.3v1.3h-1.3zM172.1 76.1h1.3v1.3h-1.3zM173.2 144.5h1.3v1.3h-1.3zM173.5 144.9h1.3v1.3h-1.3zM173.1 144.4h1.3v1.3h-1.3zM174.0 144.6h1.3v1.3h-1.3zM173.6 144.5h1.3v1.3h-1.3zM173.1 144.6h1.3v1.3h-1.3zM174.4 153.2h1.3v1.3h-1.3zM174.7 153.4h1.3v1.3h-1.3zM174.4 153.5h1.3v1.3h-1.3zM174.7 153.3h1.3v1.3h-1.3zM174.6 153.7h1.3v1.3h-1.3zM172.3 144.3h1.3v1.3h-1.3zM172.2 144.6h1.3v1.3h-1.3zM172.1 144.5h1.3v1.3h-1.3zM173.0 144.3h1.3v1.3h-1.3zM173.0 144.3h1.3v1.3h-1.3zM172.6 151.9h1.3v1.3h-1.3zM172.1 152.0h1.3v1.3h-1.3zM172.7 151.0h1.3v1.3h-1.3zM172.2 151.2h1.3v1.3h-1.3zM172.2 78.5h1.3v1.3h-1.3zM173.0 78.4h1.3v1.3h-1.3zM173.0 78.1h1.3v1.3h-1.3zM172.6 78.8h1.3v1.3h-1.3zM170.3 78.4h1.3v1.3h-1.3zM170.9 78.1h1.3v1.3h-1.3zM170.1 78.5h1.3v1.3h-1.3zM170.8 78.3h1.3v1.3h-1.3zM170.6 78.2h1.3v1.3h-1.3zM170.8 78.1h1.3v1.3h-1.3zM170.2 77.4h1.3v1.3h-1.3zM170.2 77.2h1.3v1.3h-1.3zM170.3 78.0h1.3v1.3h-1.3zM170.7 77.9h1.3v1.3h-1.3zM170.1 77.7h1.3v1.3h-1.3zM170.1 150.4h1.3v1.3h-1.3zM170.1 150.3h1.3v1.3h-1.3zM170.9 150.2h1.3v1.3h-1.3zM170.5 150.4h1.3v1.3h-1.3zM170.9 150.8h1.3v1.3h-1.3zM170.9 150.3h1.3v1.3h-1.3zM170.3 150.1h1.3v1.3h-1.3zM170.5 150.9h1.3v1.3h-1.3zM175.3 152.5h1.3v1.3h-1.3zM175.0 152.4h1.3v1.3h-1.3zM175.7 152.4h1.3v1.3h-1.3zM175.8 152.9h1.3v1.3h-1.3zM175.4 152.9h1.3v1.3h-1.3zM175.7 152.5h1.3v1.3h-1.3zM175.9 152.3h1.3v1.3h-1.3zM175.5 152.9h1.3v1.3h-1.3zM175.2 152.6h1.3v1.3h-1.3zM175.8 152.4h1.3v1.3h-1.3zM173.9 152.7h1.3v1.3h-1.3zM173.2 153.0h1.3v1.3h-1.3zM173.8 152.3h1.3v1.3h-1.3zM173.7 152.0h1.3v1.3h-1.3zM173.2 152.4h1.3v1.3h-1.3zM171.0 145.3h1.3v1.3h-1.3zM171.5 145.2h1.3v1.3h-1.3zM171.1 145.6h1.3v1.3h-1.3zM171.5 145.5h1.3v1.3h-1.3zM171.1 145.8h1.3v1.3h-1.3zM171.6 145.3h1.3v1.3h-1.3zM171.1 76.0h1.3v1.3h-1.3zM171.1 76.2h1.3v1.3h-1.3zM171.3 76.3h1.3v1.3h-1.3zM171.3 76.8h1.3v1.3h-1.3zM171.8 76.3h1.3v1.3h-1.3zM172.0 77.0h1.3v1.3h-1.3zM171.5 76.2h1.3v1.3h-1.3z" fill="rgb(151,196,62)" fill-opacity="0.78"/>
<path d="M175.2 146.2h1.3v1.3h-1.3zM176.0 146.3h1.3v1.3h-1.3zM175.5 146.5h1.3v1.3h-1.3zM175.1 146.1h1.3v1.3h-1.3zM175.3 146.3h1.3v1.3h-1.3zM175.3 151.2h1.3v1.3h-1.3zM175.5 151.2h1.3v1.3h-1.3zM175.1 151.2h1.3v1.3h-1.3zM175.4 151.6h1.3v1.3h-1.3zM174.5 152.2h1.3v1.3h-1.3zM174.7 152.3h1.3v1.3h-1.3zM174.2 152.1h1.3v1.3h-1.3zM174.4 152.1h1.3v1.3h-1.3zM174.1 152.3h1.3v1.3h-1.3zM174.9 152.2h1.3v1.3h-1.3zM174.5 152.5h1.3v1.3h-1.3zM170.7 149.0h1.3v1.3h-1.3zM170.1 148.2h1.3v1.3h-1.3zM170.0 148.4h1.3v1.3h-1.3zM172.0 77.3h1.3v1.3h-1.3zM172.2 77.1h1.3v1.3h-1.3zM172.4 77.0h1.3v1.3h-1.3zM172.4 77.6h1.3v1.3h-1.3zM172.0 77.7h1.3v1.3h-1.3zM172.3 77.8h1.3v1.3h-1.3zM172.6 78.0h1.3v1.3h-1.3zM172.3 77.0h1.3v1.3h-1.3zM173.5 151.7h1.3v1.3h-1.3zM173.2 151.4h1.3v1.3h-1.3zM173.2 152.0h1.3v1.3h-1.3zM173.2 151.7h1.3v1.3h-1.3zM173.5 151.2h1.3v1.3h-1.3zM174.2 145.3h1.3v1.3h-1.3zM174.3 145.4h1.3v1.3h-1.3zM174.8 145.7h1.3v1.3h-1.3zM174.0 145.6h1.3v1.3h-1.3zM174.9 145.9h1.3v1.3h-1.3zM171.6 150.0h1.3v1.3h-1.3zM171.8 150.7h1.3v1.3h-1.3zM175.8 150.6h1.3v1.3h-1.3zM175.8 150.0h1.3v1.3h-1.3zM175.9 150.8h1.3v1.3h-1.3zM175.4 150.0h1.3v1.3h-1.3zM175.4 150.1h1.3v1.3h-1.3zM170.2 149.7h1.3v1.3h-1.3zM170.6 149.1h1.3v1.3h-1.3zM170.3 149.8h1.3v1.3h-1.3zM170.6 149.0h1.3v1.3h-1.3zM170.4 149.5h1.3v1.3h-1.3zM170.3 149.9h1.3v1.3h-1.3zM171.4 78.9h1.3v1.3h-1.3zM171.1 79.0h1.3v1.3h-1.3zM171.8 78.5h1.3v1.3h-1.3zM171.8 78.1h1.3v1.3h-1.3zM171.2 78.1h1.3v1.3h-1.3zM172.0 78.6h1.3v1.3h-1.3zM171.9 78.3h1.3v1.3h-1.3zM175.0 147.2h1.3v1.3h-1.3zM175.6 147.5h1.3v1.3h-1.3zM175.6 147.7h1.3v1.3h-1.3zM175.5 147.1h1.3v1.3h-1.3zM174.7 151.3h1.3v1.3h-1.3zM171.2 146.1h1.3v1.3h-1.3zM171.7 146.8h1.3v1.3h-1.3zM171.8 146.3h1.3v1.3h-1.3zM171.9 146.1h1.3v1.3h-1.3zM171.7 146.8h1.3v1.3h-1.3zM171.3 146.4h1.3v1.3h-1.3zM171.8 146.1h1.3v1.3h-1.3zM175.3 149.0h1.3v1.3h-1.3zM175.3 149.7h1.3v1.3h-1.3zM175.0 149.2h1.3v1.3h-1.3zM175.0 149.5h1.3v1.3h-1.3zM175.0 150.0h1.3v1.3h-1.3zM175.2 148.8h1.3v1.3h-1.3zM175.6 148.5h1.3v1.3h-1.3zM175.9 148.5h1.3v1.3h-1.3zM175.9 148.6h1.3v1.3h-1.3zM172.1 150.3h1.3v1.3h-1.3zM172.1 150.1h1.3v1.3h-1.3zM171.3 77.2h1.3v1.3h-1.3zM171.5 77.6h1.3v1.3h-1.3zM171.4 77.8h1.3v1.3h-1.3zM171.6 77.3h1.3v1.3h-1.3zM171.2 77.4h1.3v1.3h-1.3zM171.3 77.9h1.3v1.3h-1.3zM171.8 77.5h1.3v1.3h-1.3zM171.1 77.0h1.3v1.3h-1.3zM171.7 77.1h1.3v1.3h-1.3zM172.0 77.9h1.3v1.3h-1.3zM171.9 77.5h1.3v1.3h-1.3zM174.3 150.6h1.3v1.3h-1.3zM174.8 150.4h1.3v1.3h-1.3zM174.8 151.0h1.3v1.3h-1.3zM174.0 150.2h1.3v1.3h-1.3zM174.3 150.8h1.3v1.3h-1.3zM172.8 145.8h1.3v1.3h-1.3zM172.7 145.7h1.3v1.3h-1.3zM172.5 145.1h1.3v1.3h-1.3zM172.8 145.8h1.3v1.3h-1.3zM172.5 145.5h1.3v1.3h-1.3zM172.9 145.5h1.3v1.3h-1.3zM172.8 145.3h1.3v1.3h-1.3zM173.3 150.6h1.3v1.3h-1.3zM173.5 150.8h1.3v1.3h-1.3zM173.6 150.8h1.3v1.3h-1.3zM173.9 150.7h1.3v1.3h-1.3zM173.1 150.2h1.3v1.3h-1.3zM173.6 150.5h1.3v1.3h-1.3z" fill="rgb(178,202,57)" fill-opacity="0.78"/>
<path d="M173.1 145.8h1.3v1.3h-1.3zM173.5 145.6h1.3v1.3h-1.3zM173.2 145.2h1.3v1.3h-1.3zM173.3 145.2h1.3v1.3h-1.3zM173.9 145.8h1.3v1.3h-1.3zM171.4 147.7h1.3v1.3h-1.3zM171.8 147.2h1.3v1.3h-1.3zM171.2 148.0h1.3v1.3h-1.3zM171.9 147.5h1.3v1.3h-1.3zM172.0 148.0h1.3v1.3h-1.3zM171.3 147.9h1.3v1.3h-1.3zM171.7 147.2h1.3v1.3h-1.3zM171.2 150.0h1.3v1.3h-1.3zM171.2 149.2h1.3v1.3h-1.3zM171.8 149.2h1.3v1.3h-1.3zM171.8 149.5h1.3v1.3h-1.3zM171.3 149.3h1.3v1.3h-1.3zM171.8 149.3h1.3v1.3h-1.3zM174.9 146.8h1.3v1.3h-1.3zM174.3 146.9h1.3v1.3h-1.3zM174.9 146.3h1.3v1.3h-1.3zM174.2 146.4h1.3v1.3h-1.3zM174.9 147.0h1.3v1.3h-1.3zM174.6 146.5h1.3v1.3h-1.3zM174.6 146.6h1.3v1.3h-1.3zM174.4 146.9h1.3v1.3h-1.3zM174.8 146.7h1.3v1.3h-1.3zM171.6 148.8h1.3v1.3h-1.3zM171.9 148.1h1.3v1.3h-1.3zM171.5 148.3h1.3v1.3h-1.3zM171.8 148.6h1.3v1.3h-1.3zM171.6 148.7h1.3v1.3h-1.3zM172.0 148.1h1.3v1.3h-1.3zM171.5 148.3h1.3v1.3h-1.3zM174.2 149.7h1.3v1.3h-1.3zM174.7 149.8h1.3v1.3h-1.3zM174.5 149.6h1.3v1.3h-1.3zM174.2 149.9h1.3v1.3h-1.3zM174.5 149.7h1.3v1.3h-1.3zM175.0 149.5h1.3v1.3h-1.3zM172.8 146.7h1.3v1.3h-1.3zM172.7 149.5h1.3v1.3h-1.3zM172.4 149.1h1.3v1.3h-1.3zM172.2 149.5h1.3v1.3h-1.3zM172.2 149.6h1.3v1.3h-1.3zM172.6 149.9h1.3v1.3h-1.3zM172.8 149.9h1.3v1.3h-1.3zM174.8 147.8h1.3v1.3h-1.3zM174.5 147.8h1.3v1.3h-1.3zM174.9 147.7h1.3v1.3h-1.3zM174.6 148.6h1.3v1.3h-1.3zM174.9 148.3h1.3v1.3h-1.3zM174.2 148.9h1.3v1.3h-1.3zM174.5 148.8h1.3v1.3h-1.3zM174.1 148.5h1.3v1.3h-1.3zM174.4 148.4h1.3v1.3h-1.3zM173.8 149.5h1.3v1.3h-1.3zM173.3 149.3h1.3v1.3h-1.3zM173.4 149.8h1.3v1.3h-1.3zM173.1 149.7h1.3v1.3h-1.3zM173.7 149.7h1.3v1.3h-1.3zM173.5 149.1h1.3v1.3h-1.3zM173.6 149.2h1.3v1.3h-1.3zM173.6 149.9h1.3v1.3h-1.3zM173.5 146.6h1.3v1.3h-1.3zM173.2 146.5h1.3v1.3h-1.3zM173.4 146.1h1.3v1.3h-1.3zM173.9 146.5h1.3v1.3h-1.3zM173.3 146.9h1.3v1.3h-1.3zM174.0 147.0h1.3v1.3h-1.3zM173.2 146.1h1.3v1.3h-1.3zM173.5 146.5h1.3v1.3h-1.3zM173.1 146.1h1.3v1.3h-1.3zM173.0 146.6h1.3v1.3h-1.3z" fill="rgb(205,207,52)" fill-opacity="0.78"/>
<path d="M172.5 147.2h1.3v1.3h-1.3zM172.2 147.1h1.3v1.3h-1.3zM172.9 147.4h1.3v1.3h-1.3zM172.9 147.6h1.3v1.3h-1.3zM172.3 147.3h1.3v1.3h-1.3zM172.6 147.8h1.3v1.3h-1.3zM172.5 148.0h1.3v1.3h-1.3zM172.4 148.6h1.3v1.3h-1.3zM172.2 148.3h1.3v1.3h-1.3zM172.4 148.6h1.3v1.3h-1.3zM172.4 148.8h1.3v1.3h-1.3zM172.8 148.2h1.3v1.3h-1.3zM173.5 147.6h1.3v1.3h-1.3zM173.6 147.4h1.3v1.3h-1.3zM173.9 147.2h1.3v1.3h-1.3zM173.0 147.6h1.3v1.3h-1.3zM174.0 148.0h1.3v1.3h-1.3zM173.2 147.1h1.3v1.3h-1.3zM173.9 148.7h1.3v1.3h-1.3zM173.4 148.8h1.3v1.3h-1.3zM173.3 148.1h1.3v1.3h-1.3zM173.8 148.4h1.3v1.3h-1.3zM173.8 148.3h1.3v1.3h-1.3zM173.1 148.3h1.3v1.3h-1.3zM173.9 148.5h1.3v1.3h-1.3zM173.7 148.9h1.3v1.3h-1.3zM173.7 148.8h1.3v1.3h-1.3zM173.2 148.0h1.3v1.3h-1.3zM173.7 148.7h1.3v1.3h-1.3z" fill="rgb(216,189,48)" fill-opacity="0.78"/>
<rect x="68.80" y="38.70" width="152.30" height="137.30" fill="none" stroke="#1c1c1c" stroke-width="2"/>
<rect x="121.60" y="39.60" width="95.20" height="86.10" fill="none" stroke="#1c1c1c" stroke-width="1.5"/>
<line x1="64.00" y1="51.90" x2="68.80" y2="51.90" stroke="#1c1c1c" stroke-width="1.5"/>
<line x1="64.00" y1="82.90" x2="68.80" y2="82.90" stroke="#1c1c1c" stroke-width="1.5"/>
<line x1="64.00" y1="115.00" x2="68.80" y2="115.00" stroke="#1c1c1c" stroke-width="1.5"/>
<line x1="64.00" y1="148.20" x2="68.80" y2="148.20" stroke="#1c1c1c" stroke-width="1.5"/>
<rect x="64.20" y="158.6" width="4.6" height="4.6" fill="#1c1c1c"/>
<line x1="64.00" y1="173.00" x2="68.80" y2="173.00" stroke="#1c1c1c" stroke-width="1.5"/>
<line x1="66.20" y1="138.21" x2="68.80" y2="138.21" stroke="#1c1c1c" stroke-width="1.0"/>
<line x1="66.20" y1="132.36" x2="68.80" y2="132.36" stroke="#1c1c1c" stroke-width="1.0"/>
<line x1="66.20" y1="128.21" x2="68.80" y2="128.21" stroke="#1c1c1c" stroke-width="1.0"/>
<line x1="66.20" y1="124.99" x2="68.80" y2="124.99" stroke="#1c1c1c" stroke-width="1.0"/>
<line x1="66.20" y1="122.37" x2="68.80" y2="122.37" stroke="#1c1c1c" stroke-width="1.0"/>
<line x1="66.20" y1="120.14" x2="68.80" y2="120.14" stroke="#1c1c1c" stroke-width="1.0"/>
<line x1="66.20" y1="118.22" x2="68.80" y2="118.22" stroke="#1c1c1c" stroke-width="1.0"/>
<line x1="66.20" y1="116.52" x2="68.80" y2="116.52" stroke="#1c1c1c" stroke-width="1.0"/>
<line x1="66.20" y1="105.34" x2="68.80" y2="105.34" stroke="#1c1c1c" stroke-width="1.0"/>
<line x1="66.20" y1="99.68" x2="68.80" y2="99.68" stroke="#1c1c1c" stroke-width="1.0"/>
<line x1="66.20" y1="95.67" x2="68.80" y2="95.67" stroke="#1c1c1c" stroke-width="1.0"/>
<line x1="66.20" y1="92.56" x2="68.80" y2="92.56" stroke="#1c1c1c" stroke-width="1.0"/>
<line x1="66.20" y1="90.02" x2="68.80" y2="90.02" stroke="#1c1c1c" stroke-width="1.0"/>
<line x1="66.20" y1="87.87" x2="68.80" y2="87.87" stroke="#1c1c1c" stroke-width="1.0"/>
<line x1="66.20" y1="86.01" x2="68.80" y2="86.01" stroke="#1c1c1c" stroke-width="1.0"/>
<line x1="66.20" y1="84.37" x2="68.80" y2="84.37" stroke="#1c1c1c" stroke-width="1.0"/>
<line x1="66.20" y1="73.57" x2="68.80" y2="73.57" stroke="#1c1c1c" stroke-width="1.0"/>
<line x1="66.20" y1="68.11" x2="68.80" y2="68.11" stroke="#1c1c1c" stroke-width="1.0"/>
<line x1="66.20" y1="64.24" x2="68.80" y2="64.24" stroke="#1c1c1c" stroke-width="1.0"/>
<line x1="66.20" y1="61.23" x2="68.80" y2="61.23" stroke="#1c1c1c" stroke-width="1.0"/>
<line x1="66.20" y1="58.78" x2="68.80" y2="58.78" stroke="#1c1c1c" stroke-width="1.0"/>
<line x1="66.20" y1="56.70" x2="68.80" y2="56.70" stroke="#1c1c1c" stroke-width="1.0"/>
<line x1="66.20" y1="54.90" x2="68.80" y2="54.90" stroke="#1c1c1c" stroke-width="1.0"/>
<line x1="66.20" y1="53.32" x2="68.80" y2="53.32" stroke="#1c1c1c" stroke-width="1.0"/>
<line x1="66.20" y1="42.27" x2="68.80" y2="42.27" stroke="#1c1c1c" stroke-width="1.0"/>
<line x1="66.20" y1="151.00" x2="68.80" y2="151.00" stroke="#1c1c1c" stroke-width="1.0"/>
<line x1="66.20" y1="153.80" x2="68.80" y2="153.80" stroke="#1c1c1c" stroke-width="1.0"/>
<line x1="66.20" y1="156.20" x2="68.80" y2="156.20" stroke="#1c1c1c" stroke-width="1.0"/>
<line x1="66.20" y1="158.30" x2="68.80" y2="158.30" stroke="#1c1c1c" stroke-width="1.0"/>
<line x1="66.20" y1="163.50" x2="68.80" y2="163.50" stroke="#1c1c1c" stroke-width="1.0"/>
<line x1="66.20" y1="165.60" x2="68.80" y2="165.60" stroke="#1c1c1c" stroke-width="1.0"/>
<line x1="66.20" y1="168.00" x2="68.80" y2="168.00" stroke="#1c1c1c" stroke-width="1.0"/>
<line x1="66.20" y1="170.60" x2="68.80" y2="170.60" stroke="#1c1c1c" stroke-width="1.0"/>
<line x1="77.00" y1="176.00" x2="77.00" y2="181.00" stroke="#1c1c1c" stroke-width="1.5"/>
<line x1="106.40" y1="176.00" x2="106.40" y2="181.00" stroke="#1c1c1c" stroke-width="1.5"/>
<line x1="128.90" y1="176.00" x2="128.90" y2="181.00" stroke="#1c1c1c" stroke-width="1.5"/>
<line x1="169.90" y1="176.00" x2="169.90" y2="181.00" stroke="#1c1c1c" stroke-width="1.5"/>
<line x1="207.10" y1="176.00" x2="207.10" y2="181.00" stroke="#1c1c1c" stroke-width="1.5"/>
<line x1="141.24" y1="176.00" x2="141.24" y2="178.60" stroke="#1c1c1c" stroke-width="1.0"/>
<line x1="148.46" y1="176.00" x2="148.46" y2="178.60" stroke="#1c1c1c" stroke-width="1.0"/>
<line x1="153.58" y1="176.00" x2="153.58" y2="178.60" stroke="#1c1c1c" stroke-width="1.0"/>
<line x1="157.56" y1="176.00" x2="157.56" y2="178.60" stroke="#1c1c1c" stroke-width="1.0"/>
<line x1="160.80" y1="176.00" x2="160.80" y2="178.60" stroke="#1c1c1c" stroke-width="1.0"/>
<line x1="163.55" y1="176.00" x2="163.55" y2="178.60" stroke="#1c1c1c" stroke-width="1.0"/>
<line x1="165.93" y1="176.00" x2="165.93" y2="178.60" stroke="#1c1c1c" stroke-width="1.0"/>
<line x1="168.02" y1="176.00" x2="168.02" y2="178.60" stroke="#1c1c1c" stroke-width="1.0"/>
<line x1="181.10" y1="176.00" x2="181.10" y2="178.60" stroke="#1c1c1c" stroke-width="1.0"/>
<line x1="187.65" y1="176.00" x2="187.65" y2="178.60" stroke="#1c1c1c" stroke-width="1.0"/>
<line x1="192.30" y1="176.00" x2="192.30" y2="178.60" stroke="#1c1c1c" stroke-width="1.0"/>
<line x1="195.90" y1="176.00" x2="195.90" y2="178.60" stroke="#1c1c1c" stroke-width="1.0"/>
<line x1="198.85" y1="176.00" x2="198.85" y2="178.60" stroke="#1c1c1c" stroke-width="1.0"/>
<line x1="201.34" y1="176.00" x2="201.34" y2="178.60" stroke="#1c1c1c" stroke-width="1.0"/>
<line x1="203.49" y1="176.00" x2="203.49" y2="178.60" stroke="#1c1c1c" stroke-width="1.0"/>
<line x1="205.40" y1="176.00" x2="205.40" y2="178.60" stroke="#1c1c1c" stroke-width="1.0"/>
<line x1="218.30" y1="176.00" x2="218.30" y2="178.60" stroke="#1c1c1c" stroke-width="1.0"/>
<line x1="80.50" y1="176.00" x2="80.50" y2="178.60" stroke="#1c1c1c" stroke-width="1.0"/>
<line x1="83.50" y1="176.00" x2="83.50" y2="178.60" stroke="#1c1c1c" stroke-width="1.0"/>
<line x1="86.50" y1="176.00" x2="86.50" y2="178.60" stroke="#1c1c1c" stroke-width="1.0"/>
<line x1="89.00" y1="176.00" x2="89.00" y2="178.60" stroke="#1c1c1c" stroke-width="1.0"/>
<line x1="91.50" y1="176.00" x2="91.50" y2="178.60" stroke="#1c1c1c" stroke-width="1.0"/>
<line x1="93.50" y1="176.00" x2="93.50" y2="178.60" stroke="#1c1c1c" stroke-width="1.0"/>
<line x1="95.50" y1="176.00" x2="95.50" y2="178.60" stroke="#1c1c1c" stroke-width="1.0"/>
<line x1="97.50" y1="176.00" x2="97.50" y2="178.60" stroke="#1c1c1c" stroke-width="1.0"/>
<line x1="99.50" y1="176.00" x2="99.50" y2="178.60" stroke="#1c1c1c" stroke-width="1.0"/>
<line x1="101.50" y1="176.00" x2="101.50" y2="178.60" stroke="#1c1c1c" stroke-width="1.0"/>
<line x1="103.50" y1="176.00" x2="103.50" y2="178.60" stroke="#1c1c1c" stroke-width="1.0"/>
<line x1="109.50" y1="176.00" x2="109.50" y2="178.60" stroke="#1c1c1c" stroke-width="1.0"/>
<line x1="111.50" y1="176.00" x2="111.50" y2="178.60" stroke="#1c1c1c" stroke-width="1.0"/>
<line x1="113.50" y1="176.00" x2="113.50" y2="178.60" stroke="#1c1c1c" stroke-width="1.0"/>
<line x1="115.50" y1="176.00" x2="115.50" y2="178.60" stroke="#1c1c1c" stroke-width="1.0"/>
<line x1="117.50" y1="176.00" x2="117.50" y2="178.60" stroke="#1c1c1c" stroke-width="1.0"/>
<line x1="120.00" y1="176.00" x2="120.00" y2="178.60" stroke="#1c1c1c" stroke-width="1.0"/>
<line x1="122.50" y1="176.00" x2="122.50" y2="178.60" stroke="#1c1c1c" stroke-width="1.0"/>
<line x1="125.50" y1="176.00" x2="125.50" y2="178.60" stroke="#1c1c1c" stroke-width="1.0"/>
<text x="55.30" y="52.50" font-size="7.2" fill="#1c1c1c" textLength="4.00" lengthAdjust="spacingAndGlyphs">5</text>
<text x="43.00" y="57.30" font-size="10.4" fill="#1c1c1c" textLength="11.02" lengthAdjust="spacingAndGlyphs">10</text>
<text x="55.30" y="83.50" font-size="7.2" fill="#1c1c1c" textLength="4.00" lengthAdjust="spacingAndGlyphs">4</text>
<text x="43.00" y="88.30" font-size="10.4" fill="#1c1c1c" textLength="11.02" lengthAdjust="spacingAndGlyphs">10</text>
<text x="55.30" y="115.60" font-size="7.2" fill="#1c1c1c" textLength="4.00" lengthAdjust="spacingAndGlyphs">3</text>
<text x="43.00" y="120.40" font-size="10.4" fill="#1c1c1c" textLength="11.02" lengthAdjust="spacingAndGlyphs">10</text>
<text x="55.30" y="148.80" font-size="7.2" fill="#1c1c1c" textLength="4.00" lengthAdjust="spacingAndGlyphs">2</text>
<text x="43.00" y="153.60" font-size="10.4" fill="#1c1c1c" textLength="11.02" lengthAdjust="spacingAndGlyphs">10</text>
<text x="53.60" y="164.40" font-size="10.4" fill="#1c1c1c" textLength="5.19" lengthAdjust="spacingAndGlyphs">0</text>
<text x="55.30" y="173.60" font-size="7.2" fill="#1c1c1c" textLength="4.00" lengthAdjust="spacingAndGlyphs">2</text>
<text x="37.30" y="178.40" font-size="10.4" fill="#1c1c1c" textLength="15.28" lengthAdjust="spacingAndGlyphs">-10</text>
<text x="66.80" y="201.20" font-size="10.4" fill="#1c1c1c" textLength="15.98" lengthAdjust="spacingAndGlyphs">-10</text>
<text x="83.80" y="196.90" font-size="7.2" fill="#1c1c1c" textLength="4.20" lengthAdjust="spacingAndGlyphs">3</text>
<text x="103.90" y="201.20" font-size="10.4" fill="#1c1c1c" textLength="5.29" lengthAdjust="spacingAndGlyphs">0</text>
<text x="120.65" y="201.20" font-size="10.4" fill="#1c1c1c" textLength="11.52" lengthAdjust="spacingAndGlyphs">10</text>
<text x="133.15" y="196.90" font-size="7.2" fill="#1c1c1c" textLength="4.20" lengthAdjust="spacingAndGlyphs">3</text>
<text x="163.25" y="201.20" font-size="10.4" fill="#1c1c1c" textLength="11.52" lengthAdjust="spacingAndGlyphs">10</text>
<text x="175.75" y="196.90" font-size="7.2" fill="#1c1c1c" textLength="4.20" lengthAdjust="spacingAndGlyphs">4</text>
<text x="199.25" y="201.20" font-size="10.4" fill="#1c1c1c" textLength="11.52" lengthAdjust="spacingAndGlyphs">10</text>
<text x="211.75" y="196.90" font-size="7.2" fill="#1c1c1c" textLength="4.20" lengthAdjust="spacingAndGlyphs">5</text>
<g transform="translate(138.80,220.60)"><text transform="scale(0.68,1)" x="-0.00" y="0" font-size="12.6" fill="#1c1c1c" letter-spacing="0.562" stroke="#1c1c1c" stroke-width="0.3">CD8</text></g>
<g transform="translate(27.41,139.20) rotate(-90)"><text transform="scale(0.68,1)" x="-0.00" y="0" font-size="12.6" fill="#1c1c1c" letter-spacing="1.161" stroke="#1c1c1c" stroke-width="0.45">MHC-multimer</text></g>
<text x="126.60" y="51.50" font-size="10.8" fill="#1c1c1c" textLength="47.91" lengthAdjust="spacingAndGlyphs">Multimer+</text>
<text x="139.90" y="64.80" font-size="10.8" fill="#1c1c1c" textLength="21.92" lengthAdjust="spacingAndGlyphs">28.9</text>
<path d="M385.4 164.2h1.3v1.3h-1.3zM423.5 158.8h1.3v1.3h-1.3zM396.4 165.3h1.3v1.3h-1.3zM411.6 71.1h1.3v1.3h-1.3zM417.2 150.3h1.3v1.3h-1.3zM416.1 148.2h1.3v1.3h-1.3zM389.4 142.1h1.3v1.3h-1.3zM388.9 80.3h1.3v1.3h-1.3zM419.7 74.0h1.3v1.3h-1.3zM396.2 68.3h1.3v1.3h-1.3zM402.1 81.7h1.3v1.3h-1.3zM384.1 151.6h1.3v1.3h-1.3zM391.9 150.0h1.3v1.3h-1.3zM403.4 65.9h1.3v1.3h-1.3zM417.6 78.1h1.3v1.3h-1.3zM383.7 147.0h1.3v1.3h-1.3zM404.6 143.2h1.3v1.3h-1.3zM392.3 68.5h1.3v1.3h-1.3zM400.2 88.0h1.3v1.3h-1.3zM410.4 69.7h1.3v1.3h-1.3zM409.2 69.9h1.3v1.3h-1.3zM408.5 73.3h1.3v1.3h-1.3zM399.2 70.2h1.3v1.3h-1.3zM409.8 66.8h1.3v1.3h-1.3zM415.7 88.0h1.3v1.3h-1.3zM407.2 84.1h1.3v1.3h-1.3zM386.6 151.8h1.3v1.3h-1.3zM391.7 168.1h1.3v1.3h-1.3zM385.5 155.5h1.3v1.3h-1.3zM386.4 170.3h1.3v1.3h-1.3zM401.4 168.5h1.3v1.3h-1.3zM399.6 70.5h1.3v1.3h-1.3zM394.7 72.1h1.3v1.3h-1.3zM395.3 143.8h1.3v1.3h-1.3zM392.7 149.1h1.3v1.3h-1.3zM396.6 150.6h1.3v1.3h-1.3zM413.6 167.6h1.3v1.3h-1.3zM403.0 63.9h1.3v1.3h-1.3zM388.5 80.5h1.3v1.3h-1.3zM407.9 82.9h1.3v1.3h-1.3zM409.6 69.4h1.3v1.3h-1.3zM416.3 159.1h1.3v1.3h-1.3zM405.5 143.2h1.3v1.3h-1.3zM399.0 111.1h1.3v1.3h-1.3zM401.2 85.8h1.3v1.3h-1.3zM378.2 152.7h1.3v1.3h-1.3zM382.8 147.8h1.3v1.3h-1.3zM394.7 73.7h1.3v1.3h-1.3zM396.2 80.4h1.3v1.3h-1.3zM396.8 73.0h1.3v1.3h-1.3zM414.8 158.0h1.3v1.3h-1.3zM388.3 163.2h1.3v1.3h-1.3zM388.3 159.8h1.3v1.3h-1.3zM392.5 148.9h1.3v1.3h-1.3zM407.8 110.7h1.3v1.3h-1.3zM385.7 82.6h1.3v1.3h-1.3zM396.2 83.4h1.3v1.3h-1.3zM400.0 146.4h1.3v1.3h-1.3zM393.2 77.2h1.3v1.3h-1.3zM409.8 63.2h1.3v1.3h-1.3zM393.5 81.4h1.3v1.3h-1.3zM385.3 74.9h1.3v1.3h-1.3zM392.8 65.4h1.3v1.3h-1.3zM396.9 67.0h1.3v1.3h-1.3zM399.9 73.9h1.3v1.3h-1.3zM397.0 163.8h1.3v1.3h-1.3zM418.2 154.8h1.3v1.3h-1.3zM413.4 163.3h1.3v1.3h-1.3zM414.8 146.5h1.3v1.3h-1.3zM396.2 71.8h1.3v1.3h-1.3zM388.8 149.3h1.3v1.3h-1.3zM411.2 142.3h1.3v1.3h-1.3zM384.5 145.6h1.3v1.3h-1.3zM401.6 115.7h1.3v1.3h-1.3zM420.1 158.2h1.3v1.3h-1.3zM412.0 70.8h1.3v1.3h-1.3zM398.4 69.9h1.3v1.3h-1.3zM407.6 65.9h1.3v1.3h-1.3zM395.3 73.9h1.3v1.3h-1.3zM404.4 79.9h1.3v1.3h-1.3zM379.6 149.7h1.3v1.3h-1.3zM406.9 144.5h1.3v1.3h-1.3zM406.1 142.6h1.3v1.3h-1.3zM402.3 94.2h1.3v1.3h-1.3zM417.1 154.3h1.3v1.3h-1.3zM397.2 162.2h1.3v1.3h-1.3zM400.9 98.6h1.3v1.3h-1.3zM400.1 81.9h1.3v1.3h-1.3zM392.8 100.0h1.3v1.3h-1.3zM396.4 90.3h1.3v1.3h-1.3zM399.3 99.7h1.3v1.3h-1.3zM382.4 103.4h1.3v1.3h-1.3zM396.8 94.3h1.3v1.3h-1.3zM402.4 106.3h1.3v1.3h-1.3zM398.8 89.1h1.3v1.3h-1.3zM401.1 68.5h1.3v1.3h-1.3zM410.0 66.3h1.3v1.3h-1.3zM388.3 147.1h1.3v1.3h-1.3zM385.9 162.7h1.3v1.3h-1.3zM390.1 147.4h1.3v1.3h-1.3zM403.9 163.8h1.3v1.3h-1.3zM389.2 146.3h1.3v1.3h-1.3zM380.5 143.3h1.3v1.3h-1.3zM383.5 152.3h1.3v1.3h-1.3zM396.6 144.3h1.3v1.3h-1.3zM401.5 85.8h1.3v1.3h-1.3zM418.6 75.2h1.3v1.3h-1.3zM414.2 68.4h1.3v1.3h-1.3zM389.2 142.9h1.3v1.3h-1.3zM420.2 162.8h1.3v1.3h-1.3zM425.0 154.7h1.3v1.3h-1.3zM412.7 163.3h1.3v1.3h-1.3zM393.8 64.2h1.3v1.3h-1.3zM406.0 145.6h1.3v1.3h-1.3zM411.0 149.2h1.3v1.3h-1.3zM412.1 150.4h1.3v1.3h-1.3zM397.2 162.4h1.3v1.3h-1.3zM398.7 83.8h1.3v1.3h-1.3zM415.5 77.6h1.3v1.3h-1.3zM391.9 94.8h1.3v1.3h-1.3zM391.1 85.1h1.3v1.3h-1.3zM404.5 88.2h1.3v1.3h-1.3zM405.4 87.2h1.3v1.3h-1.3zM399.7 81.8h1.3v1.3h-1.3zM392.7 164.8h1.3v1.3h-1.3zM407.1 171.8h1.3v1.3h-1.3zM396.8 145.9h1.3v1.3h-1.3zM401.2 83.5h1.3v1.3h-1.3zM384.4 152.2h1.3v1.3h-1.3zM379.7 169.8h1.3v1.3h-1.3zM399.0 169.7h1.3v1.3h-1.3zM391.3 149.7h1.3v1.3h-1.3zM386.6 153.4h1.3v1.3h-1.3zM395.5 149.2h1.3v1.3h-1.3zM396.7 161.5h1.3v1.3h-1.3zM400.7 104.0h1.3v1.3h-1.3zM417.6 146.7h1.3v1.3h-1.3zM417.9 157.0h1.3v1.3h-1.3zM398.4 72.6h1.3v1.3h-1.3zM415.6 148.2h1.3v1.3h-1.3zM395.1 148.2h1.3v1.3h-1.3zM383.2 153.9h1.3v1.3h-1.3zM385.0 161.7h1.3v1.3h-1.3zM400.2 72.7h1.3v1.3h-1.3zM419.0 153.9h1.3v1.3h-1.3zM415.6 161.5h1.3v1.3h-1.3zM400.6 140.6h1.3v1.3h-1.3zM412.5 162.2h1.3v1.3h-1.3zM405.2 65.9h1.3v1.3h-1.3zM400.4 96.6h1.3v1.3h-1.3zM402.2 94.7h1.3v1.3h-1.3zM410.9 74.6h1.3v1.3h-1.3zM395.3 67.6h1.3v1.3h-1.3zM401.5 91.6h1.3v1.3h-1.3zM387.1 150.9h1.3v1.3h-1.3zM396.6 103.0h1.3v1.3h-1.3zM397.1 94.9h1.3v1.3h-1.3zM388.3 111.4h1.3v1.3h-1.3zM397.5 67.5h1.3v1.3h-1.3zM405.6 164.6h1.3v1.3h-1.3zM383.8 164.6h1.3v1.3h-1.3zM404.3 168.4h1.3v1.3h-1.3zM408.9 166.3h1.3v1.3h-1.3zM405.9 74.0h1.3v1.3h-1.3zM411.1 77.1h1.3v1.3h-1.3zM403.3 69.2h1.3v1.3h-1.3zM395.1 67.7h1.3v1.3h-1.3zM392.2 162.1h1.3v1.3h-1.3zM412.3 146.9h1.3v1.3h-1.3zM401.1 142.4h1.3v1.3h-1.3zM399.5 97.9h1.3v1.3h-1.3zM400.9 164.3h1.3v1.3h-1.3zM385.2 172.6h1.3v1.3h-1.3zM388.0 151.6h1.3v1.3h-1.3zM396.7 114.3h1.3v1.3h-1.3zM405.1 97.5h1.3v1.3h-1.3zM391.1 91.0h1.3v1.3h-1.3zM395.4 106.7h1.3v1.3h-1.3zM392.0 99.6h1.3v1.3h-1.3zM395.0 66.6h1.3v1.3h-1.3zM405.6 66.3h1.3v1.3h-1.3zM384.9 149.8h1.3v1.3h-1.3zM389.6 91.2h1.3v1.3h-1.3zM417.8 156.8h1.3v1.3h-1.3zM386.0 147.8h1.3v1.3h-1.3zM395.2 140.5h1.3v1.3h-1.3zM393.6 162.2h1.3v1.3h-1.3zM406.6 145.4h1.3v1.3h-1.3zM410.3 73.8h1.3v1.3h-1.3zM384.3 144.0h1.3v1.3h-1.3zM378.2 162.7h1.3v1.3h-1.3zM394.5 151.8h1.3v1.3h-1.3zM391.0 163.9h1.3v1.3h-1.3zM413.0 149.1h1.3v1.3h-1.3zM393.2 164.0h1.3v1.3h-1.3zM416.3 157.0h1.3v1.3h-1.3zM391.1 148.3h1.3v1.3h-1.3zM401.2 143.9h1.3v1.3h-1.3zM404.5 66.6h1.3v1.3h-1.3zM410.4 78.6h1.3v1.3h-1.3zM399.5 103.1h1.3v1.3h-1.3zM414.6 166.8h1.3v1.3h-1.3zM415.3 150.2h1.3v1.3h-1.3zM412.9 167.4h1.3v1.3h-1.3zM412.0 75.9h1.3v1.3h-1.3zM407.4 168.5h1.3v1.3h-1.3zM416.6 160.4h1.3v1.3h-1.3zM396.3 146.5h1.3v1.3h-1.3zM395.5 163.8h1.3v1.3h-1.3zM385.7 159.7h1.3v1.3h-1.3zM399.6 66.0h1.3v1.3h-1.3zM396.7 67.8h1.3v1.3h-1.3zM417.9 154.3h1.3v1.3h-1.3zM394.7 88.3h1.3v1.3h-1.3zM385.5 153.5h1.3v1.3h-1.3zM392.2 94.9h1.3v1.3h-1.3zM390.9 168.3h1.3v1.3h-1.3zM407.5 143.0h1.3v1.3h-1.3zM391.8 145.6h1.3v1.3h-1.3zM395.8 161.1h1.3v1.3h-1.3zM397.1 104.3h1.3v1.3h-1.3zM404.9 142.7h1.3v1.3h-1.3zM398.0 106.4h1.3v1.3h-1.3zM396.9 71.3h1.3v1.3h-1.3zM397.1 107.2h1.3v1.3h-1.3zM392.5 104.1h1.3v1.3h-1.3zM399.8 65.8h1.3v1.3h-1.3zM391.2 73.0h1.3v1.3h-1.3zM386.1 158.7h1.3v1.3h-1.3zM413.0 161.2h1.3v1.3h-1.3zM406.1 145.4h1.3v1.3h-1.3zM398.9 98.7h1.3v1.3h-1.3zM401.9 93.1h1.3v1.3h-1.3zM408.2 68.3h1.3v1.3h-1.3zM386.1 155.1h1.3v1.3h-1.3zM410.4 77.6h1.3v1.3h-1.3zM401.6 81.2h1.3v1.3h-1.3zM412.3 81.0h1.3v1.3h-1.3zM383.5 152.4h1.3v1.3h-1.3zM388.9 77.9h1.3v1.3h-1.3zM407.1 66.6h1.3v1.3h-1.3zM401.5 90.0h1.3v1.3h-1.3zM399.3 170.4h1.3v1.3h-1.3zM392.8 143.7h1.3v1.3h-1.3zM383.5 159.1h1.3v1.3h-1.3zM409.1 82.4h1.3v1.3h-1.3zM394.7 148.2h1.3v1.3h-1.3zM393.4 147.7h1.3v1.3h-1.3zM406.5 68.0h1.3v1.3h-1.3zM396.9 163.8h1.3v1.3h-1.3zM392.7 79.7h1.3v1.3h-1.3zM384.3 148.3h1.3v1.3h-1.3zM397.8 166.0h1.3v1.3h-1.3zM397.3 77.8h1.3v1.3h-1.3zM400.8 75.7h1.3v1.3h-1.3zM401.6 102.7h1.3v1.3h-1.3zM411.5 81.6h1.3v1.3h-1.3zM402.9 86.9h1.3v1.3h-1.3zM396.6 65.4h1.3v1.3h-1.3zM388.6 162.2h1.3v1.3h-1.3zM419.1 164.1h1.3v1.3h-1.3zM402.8 147.5h1.3v1.3h-1.3zM397.4 97.0h1.3v1.3h-1.3zM392.2 149.4h1.3v1.3h-1.3zM384.3 149.0h1.3v1.3h-1.3zM388.3 162.6h1.3v1.3h-1.3zM397.4 82.5h1.3v1.3h-1.3zM385.6 148.6h1.3v1.3h-1.3zM407.5 142.6h1.3v1.3h-1.3zM412.4 73.4h1.3v1.3h-1.3zM404.9 166.9h1.3v1.3h-1.3zM412.0 165.2h1.3v1.3h-1.3zM418.0 157.3h1.3v1.3h-1.3zM405.9 165.8h1.3v1.3h-1.3zM405.0 165.7h1.3v1.3h-1.3zM398.6 84.6h1.3v1.3h-1.3zM405.7 67.8h1.3v1.3h-1.3zM399.4 165.5h1.3v1.3h-1.3zM390.0 83.3h1.3v1.3h-1.3zM404.5 65.7h1.3v1.3h-1.3zM407.6 146.8h1.3v1.3h-1.3zM396.0 77.0h1.3v1.3h-1.3zM393.6 149.9h1.3v1.3h-1.3zM419.7 157.2h1.3v1.3h-1.3zM403.7 142.9h1.3v1.3h-1.3zM390.3 148.2h1.3v1.3h-1.3zM417.5 150.4h1.3v1.3h-1.3zM405.0 70.6h1.3v1.3h-1.3zM394.0 166.2h1.3v1.3h-1.3zM400.0 82.1h1.3v1.3h-1.3zM412.4 161.6h1.3v1.3h-1.3zM400.7 144.1h1.3v1.3h-1.3zM386.1 148.4h1.3v1.3h-1.3zM402.7 164.2h1.3v1.3h-1.3zM395.2 75.9h1.3v1.3h-1.3zM409.4 164.8h1.3v1.3h-1.3zM398.1 89.3h1.3v1.3h-1.3zM421.0 162.2h1.3v1.3h-1.3zM395.9 149.9h1.3v1.3h-1.3zM404.2 84.7h1.3v1.3h-1.3zM385.9 89.0h1.3v1.3h-1.3zM399.1 67.7h1.3v1.3h-1.3zM400.3 162.7h1.3v1.3h-1.3zM406.5 165.5h1.3v1.3h-1.3zM389.5 162.1h1.3v1.3h-1.3zM400.9 79.5h1.3v1.3h-1.3zM395.3 168.1h1.3v1.3h-1.3zM389.3 152.4h1.3v1.3h-1.3zM416.0 168.7h1.3v1.3h-1.3zM407.0 81.6h1.3v1.3h-1.3zM408.7 79.4h1.3v1.3h-1.3zM391.4 91.4h1.3v1.3h-1.3zM395.9 63.5h1.3v1.3h-1.3zM398.1 90.8h1.3v1.3h-1.3zM403.2 67.4h1.3v1.3h-1.3zM396.8 111.2h1.3v1.3h-1.3zM394.0 79.6h1.3v1.3h-1.3zM415.3 149.6h1.3v1.3h-1.3zM379.9 152.3h1.3v1.3h-1.3zM419.9 145.8h1.3v1.3h-1.3zM395.6 78.4h1.3v1.3h-1.3zM399.1 82.2h1.3v1.3h-1.3zM395.4 74.9h1.3v1.3h-1.3zM398.7 146.3h1.3v1.3h-1.3zM415.6 69.8h1.3v1.3h-1.3zM399.8 107.0h1.3v1.3h-1.3zM407.4 98.3h1.3v1.3h-1.3zM406.1 86.4h1.3v1.3h-1.3zM410.3 163.8h1.3v1.3h-1.3zM398.9 80.1h1.3v1.3h-1.3zM405.8 99.9h1.3v1.3h-1.3zM399.2 95.4h1.3v1.3h-1.3zM396.5 151.0h1.3v1.3h-1.3zM410.8 144.4h1.3v1.3h-1.3zM402.4 69.9h1.3v1.3h-1.3zM400.0 102.4h1.3v1.3h-1.3zM404.5 96.4h1.3v1.3h-1.3zM384.5 161.2h1.3v1.3h-1.3zM408.2 165.8h1.3v1.3h-1.3zM397.1 160.2h1.3v1.3h-1.3zM391.0 82.2h1.3v1.3h-1.3zM401.8 82.5h1.3v1.3h-1.3zM390.3 150.5h1.3v1.3h-1.3zM399.0 149.0h1.3v1.3h-1.3zM383.3 156.6h1.3v1.3h-1.3zM418.7 156.4h1.3v1.3h-1.3zM426.0 152.6h1.3v1.3h-1.3zM399.9 169.3h1.3v1.3h-1.3zM399.5 64.3h1.3v1.3h-1.3zM404.2 68.0h1.3v1.3h-1.3zM415.6 87.0h1.3v1.3h-1.3z" fill="rgb(47,52,141)" fill-opacity="0.78"/>
<path d="M405.7 80.2h1.3v1.3h-1.3zM392.6 166.6h1.3v1.3h-1.3zM406.9 66.7h1.3v1.3h-1.3zM391.1 149.9h1.3v1.3h-1.3zM406.9 84.1h1.3v1.3h-1.3zM398.9 167.2h1.3v1.3h-1.3zM380.0 157.5h1.3v1.3h-1.3zM397.8 81.8h1.3v1.3h-1.3zM410.6 63.2h1.3v1.3h-1.3zM409.7 163.4h1.3v1.3h-1.3zM399.0 69.3h1.3v1.3h-1.3zM409.7 79.9h1.3v1.3h-1.3zM408.3 79.2h1.3v1.3h-1.3zM405.9 77.6h1.3v1.3h-1.3zM399.9 75.7h1.3v1.3h-1.3zM388.9 156.7h1.3v1.3h-1.3zM381.9 153.9h1.3v1.3h-1.3zM405.0 167.3h1.3v1.3h-1.3zM410.1 70.9h1.3v1.3h-1.3zM422.1 155.1h1.3v1.3h-1.3zM407.3 77.2h1.3v1.3h-1.3zM411.6 165.4h1.3v1.3h-1.3zM419.0 151.0h1.3v1.3h-1.3zM400.3 64.9h1.3v1.3h-1.3zM394.0 87.8h1.3v1.3h-1.3zM387.1 146.7h1.3v1.3h-1.3zM412.3 147.6h1.3v1.3h-1.3zM407.5 72.1h1.3v1.3h-1.3zM391.2 144.4h1.3v1.3h-1.3zM406.7 67.4h1.3v1.3h-1.3zM406.8 88.2h1.3v1.3h-1.3zM390.6 162.6h1.3v1.3h-1.3zM396.8 73.3h1.3v1.3h-1.3zM400.1 76.9h1.3v1.3h-1.3zM384.4 153.5h1.3v1.3h-1.3zM392.4 161.7h1.3v1.3h-1.3zM396.0 77.9h1.3v1.3h-1.3zM401.3 71.4h1.3v1.3h-1.3zM398.2 147.2h1.3v1.3h-1.3zM385.4 155.4h1.3v1.3h-1.3zM382.7 144.1h1.3v1.3h-1.3zM405.7 86.7h1.3v1.3h-1.3zM390.4 104.2h1.3v1.3h-1.3zM400.4 166.1h1.3v1.3h-1.3zM419.3 160.9h1.3v1.3h-1.3zM413.9 164.4h1.3v1.3h-1.3zM389.5 150.9h1.3v1.3h-1.3zM412.8 150.2h1.3v1.3h-1.3zM388.2 165.0h1.3v1.3h-1.3zM390.9 165.9h1.3v1.3h-1.3zM412.0 149.3h1.3v1.3h-1.3zM404.9 147.7h1.3v1.3h-1.3zM408.4 67.2h1.3v1.3h-1.3zM412.6 147.0h1.3v1.3h-1.3zM399.4 80.1h1.3v1.3h-1.3zM389.9 153.4h1.3v1.3h-1.3zM406.3 66.6h1.3v1.3h-1.3zM395.4 78.1h1.3v1.3h-1.3zM400.5 86.6h1.3v1.3h-1.3zM397.6 88.7h1.3v1.3h-1.3zM398.3 103.8h1.3v1.3h-1.3zM400.9 65.1h1.3v1.3h-1.3zM386.7 159.9h1.3v1.3h-1.3zM395.0 73.0h1.3v1.3h-1.3zM389.1 156.6h1.3v1.3h-1.3zM402.7 80.9h1.3v1.3h-1.3zM406.5 97.2h1.3v1.3h-1.3zM407.7 147.9h1.3v1.3h-1.3zM402.5 85.2h1.3v1.3h-1.3zM415.9 160.9h1.3v1.3h-1.3zM396.0 65.8h1.3v1.3h-1.3zM399.6 164.2h1.3v1.3h-1.3zM391.1 158.3h1.3v1.3h-1.3zM405.9 72.8h1.3v1.3h-1.3zM389.5 150.7h1.3v1.3h-1.3zM410.0 145.9h1.3v1.3h-1.3zM396.5 145.0h1.3v1.3h-1.3zM407.3 71.6h1.3v1.3h-1.3zM401.2 73.0h1.3v1.3h-1.3zM404.4 143.4h1.3v1.3h-1.3zM393.9 76.8h1.3v1.3h-1.3zM402.4 148.4h1.3v1.3h-1.3zM395.5 140.8h1.3v1.3h-1.3zM383.0 159.1h1.3v1.3h-1.3zM392.1 148.4h1.3v1.3h-1.3zM394.7 78.1h1.3v1.3h-1.3zM400.5 73.4h1.3v1.3h-1.3zM412.5 76.5h1.3v1.3h-1.3zM405.2 78.2h1.3v1.3h-1.3zM416.9 162.4h1.3v1.3h-1.3zM398.8 75.3h1.3v1.3h-1.3zM388.0 149.0h1.3v1.3h-1.3zM402.3 70.9h1.3v1.3h-1.3zM388.1 159.2h1.3v1.3h-1.3zM391.0 68.8h1.3v1.3h-1.3zM395.4 150.2h1.3v1.3h-1.3zM381.2 81.6h1.3v1.3h-1.3zM400.1 163.5h1.3v1.3h-1.3zM401.0 144.9h1.3v1.3h-1.3zM416.4 162.8h1.3v1.3h-1.3zM407.5 79.0h1.3v1.3h-1.3zM391.2 143.0h1.3v1.3h-1.3zM399.6 145.3h1.3v1.3h-1.3zM404.7 70.0h1.3v1.3h-1.3zM408.3 75.2h1.3v1.3h-1.3zM394.1 87.6h1.3v1.3h-1.3zM413.2 163.0h1.3v1.3h-1.3zM406.9 165.8h1.3v1.3h-1.3zM386.8 155.2h1.3v1.3h-1.3zM399.8 78.6h1.3v1.3h-1.3zM401.0 149.7h1.3v1.3h-1.3zM392.2 167.1h1.3v1.3h-1.3zM390.4 75.2h1.3v1.3h-1.3zM395.4 168.4h1.3v1.3h-1.3zM406.1 75.2h1.3v1.3h-1.3zM388.2 143.6h1.3v1.3h-1.3zM385.6 149.4h1.3v1.3h-1.3zM426.5 158.9h1.3v1.3h-1.3zM394.5 80.7h1.3v1.3h-1.3zM397.3 147.4h1.3v1.3h-1.3zM421.0 156.9h1.3v1.3h-1.3zM387.6 157.7h1.3v1.3h-1.3zM397.6 99.6h1.3v1.3h-1.3zM415.6 161.2h1.3v1.3h-1.3zM408.6 76.6h1.3v1.3h-1.3zM392.0 75.0h1.3v1.3h-1.3zM416.3 151.7h1.3v1.3h-1.3zM395.2 73.4h1.3v1.3h-1.3zM399.0 149.3h1.3v1.3h-1.3zM394.9 77.3h1.3v1.3h-1.3zM384.8 159.0h1.3v1.3h-1.3zM406.9 74.2h1.3v1.3h-1.3zM390.7 145.3h1.3v1.3h-1.3zM401.7 70.2h1.3v1.3h-1.3zM408.0 138.4h1.3v1.3h-1.3zM398.1 73.8h1.3v1.3h-1.3zM399.7 164.0h1.3v1.3h-1.3zM401.5 74.9h1.3v1.3h-1.3zM405.3 72.4h1.3v1.3h-1.3zM398.6 166.3h1.3v1.3h-1.3zM403.8 73.5h1.3v1.3h-1.3zM390.6 150.0h1.3v1.3h-1.3zM391.6 155.6h1.3v1.3h-1.3zM391.0 162.1h1.3v1.3h-1.3zM413.1 144.8h1.3v1.3h-1.3zM393.6 75.7h1.3v1.3h-1.3zM394.5 152.6h1.3v1.3h-1.3zM392.2 152.1h1.3v1.3h-1.3zM412.7 165.3h1.3v1.3h-1.3zM390.7 146.9h1.3v1.3h-1.3zM400.6 104.8h1.3v1.3h-1.3zM408.5 80.8h1.3v1.3h-1.3zM418.6 161.2h1.3v1.3h-1.3zM391.2 151.3h1.3v1.3h-1.3zM399.6 86.5h1.3v1.3h-1.3zM393.1 143.8h1.3v1.3h-1.3z" fill="rgb(50,58,147)" fill-opacity="0.78"/>
<path d="M403.4 144.1h1.3v1.3h-1.3zM416.3 71.0h1.3v1.3h-1.3zM404.6 77.5h1.3v1.3h-1.3zM393.4 98.1h1.3v1.3h-1.3zM395.9 113.9h1.3v1.3h-1.3zM402.3 84.4h1.3v1.3h-1.3zM396.4 149.7h1.3v1.3h-1.3zM406.3 72.5h1.3v1.3h-1.3zM402.2 81.7h1.3v1.3h-1.3zM388.4 107.1h1.3v1.3h-1.3zM395.7 99.0h1.3v1.3h-1.3zM387.5 154.3h1.3v1.3h-1.3zM404.1 79.8h1.3v1.3h-1.3zM408.8 77.0h1.3v1.3h-1.3zM393.1 74.2h1.3v1.3h-1.3zM412.0 160.6h1.3v1.3h-1.3zM404.8 148.8h1.3v1.3h-1.3zM398.8 71.1h1.3v1.3h-1.3zM412.5 165.4h1.3v1.3h-1.3zM405.2 77.0h1.3v1.3h-1.3zM414.6 156.8h1.3v1.3h-1.3zM389.7 164.1h1.3v1.3h-1.3zM390.8 165.4h1.3v1.3h-1.3zM401.1 90.9h1.3v1.3h-1.3zM409.1 166.4h1.3v1.3h-1.3zM395.6 159.4h1.3v1.3h-1.3zM385.3 141.7h1.3v1.3h-1.3zM393.0 145.9h1.3v1.3h-1.3zM387.1 150.0h1.3v1.3h-1.3zM410.3 165.7h1.3v1.3h-1.3zM396.4 95.7h1.3v1.3h-1.3zM388.6 160.9h1.3v1.3h-1.3zM421.9 146.6h1.3v1.3h-1.3zM400.9 69.8h1.3v1.3h-1.3zM416.2 156.9h1.3v1.3h-1.3zM395.2 166.8h1.3v1.3h-1.3zM389.9 160.1h1.3v1.3h-1.3zM401.5 69.2h1.3v1.3h-1.3zM398.1 147.0h1.3v1.3h-1.3zM398.8 70.2h1.3v1.3h-1.3zM404.1 74.7h1.3v1.3h-1.3zM401.6 98.5h1.3v1.3h-1.3zM393.5 162.2h1.3v1.3h-1.3zM400.2 74.5h1.3v1.3h-1.3zM393.8 70.9h1.3v1.3h-1.3zM389.6 149.1h1.3v1.3h-1.3zM413.2 149.4h1.3v1.3h-1.3zM405.4 64.2h1.3v1.3h-1.3zM402.5 76.1h1.3v1.3h-1.3zM397.1 162.2h1.3v1.3h-1.3zM408.8 70.1h1.3v1.3h-1.3zM415.7 156.5h1.3v1.3h-1.3zM408.6 143.6h1.3v1.3h-1.3zM394.9 144.7h1.3v1.3h-1.3zM400.6 79.6h1.3v1.3h-1.3zM387.3 154.3h1.3v1.3h-1.3zM393.1 85.9h1.3v1.3h-1.3zM387.5 150.5h1.3v1.3h-1.3zM400.8 168.6h1.3v1.3h-1.3zM391.3 76.4h1.3v1.3h-1.3zM408.5 145.3h1.3v1.3h-1.3zM417.5 145.3h1.3v1.3h-1.3zM392.2 161.0h1.3v1.3h-1.3zM399.1 113.6h1.3v1.3h-1.3zM396.6 100.2h1.3v1.3h-1.3zM396.0 67.9h1.3v1.3h-1.3zM412.0 147.7h1.3v1.3h-1.3zM396.3 81.5h1.3v1.3h-1.3zM410.1 142.4h1.3v1.3h-1.3zM409.4 141.9h1.3v1.3h-1.3zM405.8 143.0h1.3v1.3h-1.3zM421.9 148.5h1.3v1.3h-1.3zM395.7 105.8h1.3v1.3h-1.3zM400.2 76.4h1.3v1.3h-1.3zM403.1 70.3h1.3v1.3h-1.3zM398.6 119.6h1.3v1.3h-1.3zM394.6 68.9h1.3v1.3h-1.3zM398.9 66.9h1.3v1.3h-1.3zM415.8 157.5h1.3v1.3h-1.3zM408.5 73.5h1.3v1.3h-1.3zM391.4 167.3h1.3v1.3h-1.3zM393.0 146.1h1.3v1.3h-1.3zM398.7 67.5h1.3v1.3h-1.3zM415.2 162.7h1.3v1.3h-1.3zM400.5 169.6h1.3v1.3h-1.3zM397.8 80.3h1.3v1.3h-1.3zM406.6 83.8h1.3v1.3h-1.3zM409.0 144.0h1.3v1.3h-1.3zM411.9 162.1h1.3v1.3h-1.3zM404.3 71.9h1.3v1.3h-1.3zM408.1 148.6h1.3v1.3h-1.3zM392.7 160.9h1.3v1.3h-1.3zM402.1 142.4h1.3v1.3h-1.3zM412.1 165.1h1.3v1.3h-1.3zM407.5 77.8h1.3v1.3h-1.3zM403.1 93.0h1.3v1.3h-1.3zM400.7 164.0h1.3v1.3h-1.3zM404.0 73.9h1.3v1.3h-1.3zM392.9 144.8h1.3v1.3h-1.3zM414.0 163.0h1.3v1.3h-1.3zM388.4 69.7h1.3v1.3h-1.3zM408.4 74.4h1.3v1.3h-1.3zM398.4 74.6h1.3v1.3h-1.3zM401.0 164.7h1.3v1.3h-1.3zM399.7 72.4h1.3v1.3h-1.3zM404.4 72.1h1.3v1.3h-1.3zM406.0 145.8h1.3v1.3h-1.3zM398.1 68.5h1.3v1.3h-1.3zM415.8 153.8h1.3v1.3h-1.3zM409.5 144.7h1.3v1.3h-1.3zM404.2 75.6h1.3v1.3h-1.3zM416.8 153.7h1.3v1.3h-1.3zM413.3 147.3h1.3v1.3h-1.3zM396.9 155.8h1.3v1.3h-1.3zM409.9 75.1h1.3v1.3h-1.3zM390.3 158.8h1.3v1.3h-1.3zM394.0 151.2h1.3v1.3h-1.3zM406.6 66.3h1.3v1.3h-1.3zM392.9 106.1h1.3v1.3h-1.3zM394.2 162.7h1.3v1.3h-1.3zM417.2 153.4h1.3v1.3h-1.3zM402.3 69.1h1.3v1.3h-1.3zM390.3 160.9h1.3v1.3h-1.3zM389.9 152.2h1.3v1.3h-1.3zM416.0 155.9h1.3v1.3h-1.3zM378.3 153.5h1.3v1.3h-1.3zM404.7 89.7h1.3v1.3h-1.3zM410.9 145.7h1.3v1.3h-1.3zM404.9 81.2h1.3v1.3h-1.3zM405.5 165.4h1.3v1.3h-1.3zM394.8 78.3h1.3v1.3h-1.3zM400.9 147.2h1.3v1.3h-1.3zM408.2 146.7h1.3v1.3h-1.3zM414.9 159.6h1.3v1.3h-1.3zM414.7 162.0h1.3v1.3h-1.3zM395.2 163.5h1.3v1.3h-1.3zM401.9 144.4h1.3v1.3h-1.3zM395.2 166.8h1.3v1.3h-1.3zM404.7 147.6h1.3v1.3h-1.3zM405.0 81.7h1.3v1.3h-1.3zM404.7 165.8h1.3v1.3h-1.3zM383.7 152.0h1.3v1.3h-1.3zM390.7 164.8h1.3v1.3h-1.3zM390.5 156.0h1.3v1.3h-1.3zM397.5 149.9h1.3v1.3h-1.3zM407.3 163.3h1.3v1.3h-1.3zM399.3 79.3h1.3v1.3h-1.3zM390.3 161.5h1.3v1.3h-1.3zM405.4 163.6h1.3v1.3h-1.3zM397.8 160.5h1.3v1.3h-1.3zM406.3 163.2h1.3v1.3h-1.3zM390.8 152.4h1.3v1.3h-1.3zM417.9 82.1h1.3v1.3h-1.3zM392.9 170.2h1.3v1.3h-1.3zM399.4 167.9h1.3v1.3h-1.3zM402.2 74.0h1.3v1.3h-1.3z" fill="rgb(53,64,153)" fill-opacity="0.78"/>
<path d="M385.0 144.7h1.3v1.3h-1.3zM382.7 147.1h1.3v1.3h-1.3zM396.1 149.0h1.3v1.3h-1.3zM390.2 148.8h1.3v1.3h-1.3zM393.2 149.5h1.3v1.3h-1.3zM407.6 78.9h1.3v1.3h-1.3zM390.6 157.7h1.3v1.3h-1.3zM389.1 151.1h1.3v1.3h-1.3zM393.1 71.6h1.3v1.3h-1.3zM404.9 80.8h1.3v1.3h-1.3zM395.1 77.9h1.3v1.3h-1.3zM386.8 152.3h1.3v1.3h-1.3zM390.6 156.5h1.3v1.3h-1.3zM404.0 148.6h1.3v1.3h-1.3zM396.4 154.1h1.3v1.3h-1.3zM405.5 147.4h1.3v1.3h-1.3zM404.0 171.8h1.3v1.3h-1.3zM417.6 146.2h1.3v1.3h-1.3zM402.5 75.9h1.3v1.3h-1.3zM405.7 163.8h1.3v1.3h-1.3zM394.6 162.1h1.3v1.3h-1.3zM395.2 163.3h1.3v1.3h-1.3zM407.2 76.0h1.3v1.3h-1.3zM404.5 74.5h1.3v1.3h-1.3zM402.0 145.4h1.3v1.3h-1.3zM402.7 148.3h1.3v1.3h-1.3zM410.9 73.7h1.3v1.3h-1.3zM391.8 147.1h1.3v1.3h-1.3zM404.2 79.6h1.3v1.3h-1.3zM400.6 150.2h1.3v1.3h-1.3zM401.2 78.6h1.3v1.3h-1.3zM392.6 160.0h1.3v1.3h-1.3zM403.6 84.1h1.3v1.3h-1.3zM389.9 148.2h1.3v1.3h-1.3zM391.8 71.0h1.3v1.3h-1.3zM410.7 67.7h1.3v1.3h-1.3zM399.6 149.9h1.3v1.3h-1.3zM390.7 159.5h1.3v1.3h-1.3zM407.2 145.9h1.3v1.3h-1.3zM403.0 76.2h1.3v1.3h-1.3zM405.2 67.5h1.3v1.3h-1.3zM386.8 146.2h1.3v1.3h-1.3zM396.0 78.4h1.3v1.3h-1.3zM406.7 71.6h1.3v1.3h-1.3zM398.6 74.9h1.3v1.3h-1.3zM407.3 76.6h1.3v1.3h-1.3zM405.3 81.0h1.3v1.3h-1.3zM402.4 76.2h1.3v1.3h-1.3zM407.5 76.8h1.3v1.3h-1.3zM406.1 145.0h1.3v1.3h-1.3zM396.1 111.5h1.3v1.3h-1.3zM403.0 72.4h1.3v1.3h-1.3zM421.5 145.5h1.3v1.3h-1.3zM393.7 104.8h1.3v1.3h-1.3zM390.8 165.6h1.3v1.3h-1.3zM402.1 64.7h1.3v1.3h-1.3zM408.0 77.5h1.3v1.3h-1.3zM390.5 159.2h1.3v1.3h-1.3zM388.0 160.1h1.3v1.3h-1.3zM401.8 162.6h1.3v1.3h-1.3zM406.5 66.0h1.3v1.3h-1.3zM392.9 147.1h1.3v1.3h-1.3zM397.2 163.6h1.3v1.3h-1.3zM406.6 78.1h1.3v1.3h-1.3zM399.0 142.4h1.3v1.3h-1.3zM393.7 169.6h1.3v1.3h-1.3zM408.7 78.4h1.3v1.3h-1.3zM390.8 149.5h1.3v1.3h-1.3zM396.7 163.2h1.3v1.3h-1.3zM403.1 69.0h1.3v1.3h-1.3zM393.4 146.5h1.3v1.3h-1.3zM397.1 161.5h1.3v1.3h-1.3zM399.0 68.7h1.3v1.3h-1.3zM403.9 83.0h1.3v1.3h-1.3zM399.2 166.2h1.3v1.3h-1.3zM397.7 159.6h1.3v1.3h-1.3zM394.9 91.3h1.3v1.3h-1.3zM415.9 147.6h1.3v1.3h-1.3zM404.2 64.8h1.3v1.3h-1.3zM392.1 158.6h1.3v1.3h-1.3zM402.2 92.8h1.3v1.3h-1.3zM385.8 154.8h1.3v1.3h-1.3zM387.1 153.6h1.3v1.3h-1.3zM385.8 69.2h1.3v1.3h-1.3zM405.1 75.8h1.3v1.3h-1.3zM390.2 152.9h1.3v1.3h-1.3zM402.3 81.6h1.3v1.3h-1.3zM402.5 166.4h1.3v1.3h-1.3zM401.1 82.0h1.3v1.3h-1.3zM413.2 149.9h1.3v1.3h-1.3zM398.7 63.7h1.3v1.3h-1.3zM412.0 162.8h1.3v1.3h-1.3zM413.2 83.5h1.3v1.3h-1.3zM407.8 165.7h1.3v1.3h-1.3zM392.4 148.6h1.3v1.3h-1.3zM401.8 79.1h1.3v1.3h-1.3zM413.1 148.2h1.3v1.3h-1.3zM378.0 147.3h1.3v1.3h-1.3zM390.6 80.0h1.3v1.3h-1.3zM388.7 153.7h1.3v1.3h-1.3zM410.1 165.0h1.3v1.3h-1.3zM387.0 143.1h1.3v1.3h-1.3zM395.4 145.0h1.3v1.3h-1.3zM394.1 159.4h1.3v1.3h-1.3zM395.6 106.0h1.3v1.3h-1.3zM415.8 151.4h1.3v1.3h-1.3zM385.3 153.7h1.3v1.3h-1.3zM401.3 70.1h1.3v1.3h-1.3zM398.7 76.4h1.3v1.3h-1.3zM406.2 72.1h1.3v1.3h-1.3zM397.4 151.2h1.3v1.3h-1.3zM388.3 155.4h1.3v1.3h-1.3zM411.1 64.4h1.3v1.3h-1.3zM399.7 68.6h1.3v1.3h-1.3zM415.3 156.5h1.3v1.3h-1.3zM403.9 73.0h1.3v1.3h-1.3zM405.1 69.3h1.3v1.3h-1.3zM398.6 82.1h1.3v1.3h-1.3zM395.6 155.0h1.3v1.3h-1.3zM403.6 147.0h1.3v1.3h-1.3zM404.6 85.3h1.3v1.3h-1.3zM400.7 77.1h1.3v1.3h-1.3zM400.2 149.6h1.3v1.3h-1.3zM393.8 155.0h1.3v1.3h-1.3zM399.5 69.1h1.3v1.3h-1.3zM400.7 93.6h1.3v1.3h-1.3zM404.9 82.5h1.3v1.3h-1.3zM386.7 152.3h1.3v1.3h-1.3zM401.5 144.7h1.3v1.3h-1.3zM400.7 164.1h1.3v1.3h-1.3zM417.2 161.0h1.3v1.3h-1.3zM391.1 157.6h1.3v1.3h-1.3zM387.6 157.2h1.3v1.3h-1.3zM405.8 163.3h1.3v1.3h-1.3zM406.8 141.0h1.3v1.3h-1.3zM396.6 78.4h1.3v1.3h-1.3zM395.0 72.3h1.3v1.3h-1.3zM396.6 147.0h1.3v1.3h-1.3zM411.1 147.4h1.3v1.3h-1.3zM397.2 72.8h1.3v1.3h-1.3zM397.3 95.6h1.3v1.3h-1.3zM391.6 161.7h1.3v1.3h-1.3zM413.9 165.1h1.3v1.3h-1.3zM391.1 139.5h1.3v1.3h-1.3zM391.4 138.8h1.3v1.3h-1.3zM398.7 158.5h1.3v1.3h-1.3zM411.1 162.2h1.3v1.3h-1.3zM389.3 162.0h1.3v1.3h-1.3zM396.3 97.2h1.3v1.3h-1.3zM406.2 162.5h1.3v1.3h-1.3zM408.1 77.8h1.3v1.3h-1.3zM396.8 159.3h1.3v1.3h-1.3zM402.4 75.2h1.3v1.3h-1.3zM399.1 82.0h1.3v1.3h-1.3zM400.2 69.3h1.3v1.3h-1.3zM410.0 149.0h1.3v1.3h-1.3zM414.4 153.3h1.3v1.3h-1.3zM396.0 163.3h1.3v1.3h-1.3zM415.0 79.0h1.3v1.3h-1.3zM404.0 66.1h1.3v1.3h-1.3zM391.2 153.8h1.3v1.3h-1.3z" fill="rgb(56,69,159)" fill-opacity="0.78"/>
<path d="M400.9 66.5h1.3v1.3h-1.3zM402.5 87.5h1.3v1.3h-1.3zM402.9 66.6h1.3v1.3h-1.3zM401.2 72.3h1.3v1.3h-1.3zM413.7 150.7h1.3v1.3h-1.3zM389.5 150.9h1.3v1.3h-1.3zM410.5 105.6h1.3v1.3h-1.3zM413.6 161.1h1.3v1.3h-1.3zM393.0 151.1h1.3v1.3h-1.3zM388.2 150.2h1.3v1.3h-1.3zM404.0 72.0h1.3v1.3h-1.3zM401.5 145.4h1.3v1.3h-1.3zM390.8 161.7h1.3v1.3h-1.3zM403.5 72.2h1.3v1.3h-1.3zM403.1 72.6h1.3v1.3h-1.3zM388.2 151.1h1.3v1.3h-1.3zM401.2 75.8h1.3v1.3h-1.3zM401.5 68.9h1.3v1.3h-1.3zM414.1 159.7h1.3v1.3h-1.3zM399.5 150.0h1.3v1.3h-1.3zM405.5 162.1h1.3v1.3h-1.3zM391.1 165.9h1.3v1.3h-1.3zM399.1 115.5h1.3v1.3h-1.3zM404.5 146.6h1.3v1.3h-1.3zM407.8 79.3h1.3v1.3h-1.3zM403.8 75.5h1.3v1.3h-1.3zM403.2 71.4h1.3v1.3h-1.3zM412.5 146.3h1.3v1.3h-1.3zM389.8 156.2h1.3v1.3h-1.3zM403.2 102.8h1.3v1.3h-1.3zM386.7 161.6h1.3v1.3h-1.3zM398.0 71.1h1.3v1.3h-1.3zM394.4 151.2h1.3v1.3h-1.3zM381.7 152.3h1.3v1.3h-1.3zM408.5 163.9h1.3v1.3h-1.3zM402.1 80.8h1.3v1.3h-1.3zM390.9 161.3h1.3v1.3h-1.3zM392.9 146.8h1.3v1.3h-1.3zM386.2 156.3h1.3v1.3h-1.3zM408.7 67.5h1.3v1.3h-1.3zM395.4 144.1h1.3v1.3h-1.3zM399.5 76.8h1.3v1.3h-1.3zM389.7 165.9h1.3v1.3h-1.3zM395.3 149.5h1.3v1.3h-1.3zM393.8 148.1h1.3v1.3h-1.3zM417.3 148.5h1.3v1.3h-1.3zM392.2 159.6h1.3v1.3h-1.3zM412.7 148.0h1.3v1.3h-1.3zM405.0 63.2h1.3v1.3h-1.3zM393.5 71.9h1.3v1.3h-1.3zM400.1 73.8h1.3v1.3h-1.3zM386.2 160.8h1.3v1.3h-1.3zM395.9 75.4h1.3v1.3h-1.3zM395.7 166.4h1.3v1.3h-1.3zM405.3 81.4h1.3v1.3h-1.3zM393.6 160.4h1.3v1.3h-1.3zM401.7 74.3h1.3v1.3h-1.3zM393.1 147.9h1.3v1.3h-1.3zM393.1 159.7h1.3v1.3h-1.3zM403.8 76.6h1.3v1.3h-1.3zM392.9 152.5h1.3v1.3h-1.3zM391.2 103.6h1.3v1.3h-1.3zM389.1 145.6h1.3v1.3h-1.3zM391.0 154.6h1.3v1.3h-1.3zM398.7 73.8h1.3v1.3h-1.3zM389.9 152.4h1.3v1.3h-1.3zM392.4 160.2h1.3v1.3h-1.3zM403.9 163.1h1.3v1.3h-1.3zM397.2 167.5h1.3v1.3h-1.3zM392.5 154.2h1.3v1.3h-1.3zM394.6 161.8h1.3v1.3h-1.3zM403.6 76.0h1.3v1.3h-1.3zM403.8 146.1h1.3v1.3h-1.3zM416.1 151.2h1.3v1.3h-1.3zM389.9 146.8h1.3v1.3h-1.3zM404.5 163.0h1.3v1.3h-1.3zM399.1 74.8h1.3v1.3h-1.3zM410.3 161.3h1.3v1.3h-1.3zM397.1 81.9h1.3v1.3h-1.3zM400.8 69.3h1.3v1.3h-1.3zM391.4 156.6h1.3v1.3h-1.3zM412.4 149.8h1.3v1.3h-1.3zM389.0 140.2h1.3v1.3h-1.3zM410.7 163.9h1.3v1.3h-1.3zM392.2 149.4h1.3v1.3h-1.3zM412.6 161.6h1.3v1.3h-1.3zM400.3 160.5h1.3v1.3h-1.3zM403.1 80.8h1.3v1.3h-1.3zM384.7 154.0h1.3v1.3h-1.3zM406.4 73.2h1.3v1.3h-1.3zM393.7 144.5h1.3v1.3h-1.3zM394.3 152.0h1.3v1.3h-1.3zM399.8 148.5h1.3v1.3h-1.3zM398.6 149.9h1.3v1.3h-1.3zM390.6 152.3h1.3v1.3h-1.3zM393.8 155.8h1.3v1.3h-1.3zM415.4 154.5h1.3v1.3h-1.3zM397.7 149.2h1.3v1.3h-1.3zM389.0 148.3h1.3v1.3h-1.3zM397.0 160.2h1.3v1.3h-1.3zM402.8 97.7h1.3v1.3h-1.3zM414.2 161.9h1.3v1.3h-1.3zM401.4 79.1h1.3v1.3h-1.3zM410.8 71.1h1.3v1.3h-1.3zM405.6 80.6h1.3v1.3h-1.3zM404.3 166.0h1.3v1.3h-1.3zM408.8 148.8h1.3v1.3h-1.3zM409.2 145.9h1.3v1.3h-1.3zM398.3 102.1h1.3v1.3h-1.3zM393.2 160.2h1.3v1.3h-1.3zM385.7 162.0h1.3v1.3h-1.3zM394.2 152.5h1.3v1.3h-1.3zM389.4 84.5h1.3v1.3h-1.3zM407.1 75.8h1.3v1.3h-1.3zM385.7 152.9h1.3v1.3h-1.3zM400.9 70.4h1.3v1.3h-1.3zM401.0 76.5h1.3v1.3h-1.3zM394.9 86.8h1.3v1.3h-1.3zM399.2 100.9h1.3v1.3h-1.3zM405.2 75.0h1.3v1.3h-1.3zM398.3 74.8h1.3v1.3h-1.3zM413.1 161.3h1.3v1.3h-1.3zM398.8 72.1h1.3v1.3h-1.3zM407.0 163.5h1.3v1.3h-1.3zM398.7 70.4h1.3v1.3h-1.3zM394.0 79.5h1.3v1.3h-1.3zM405.3 82.8h1.3v1.3h-1.3zM385.6 146.3h1.3v1.3h-1.3zM414.8 160.8h1.3v1.3h-1.3zM405.0 81.0h1.3v1.3h-1.3zM404.4 79.0h1.3v1.3h-1.3zM402.7 148.4h1.3v1.3h-1.3zM393.4 71.2h1.3v1.3h-1.3zM401.6 160.6h1.3v1.3h-1.3zM400.2 149.5h1.3v1.3h-1.3zM393.5 148.3h1.3v1.3h-1.3zM398.9 151.4h1.3v1.3h-1.3zM415.0 152.1h1.3v1.3h-1.3zM396.5 159.7h1.3v1.3h-1.3zM399.5 65.4h1.3v1.3h-1.3zM398.7 161.1h1.3v1.3h-1.3zM397.6 159.8h1.3v1.3h-1.3zM415.8 153.3h1.3v1.3h-1.3zM399.7 160.5h1.3v1.3h-1.3zM393.2 71.7h1.3v1.3h-1.3zM403.7 75.7h1.3v1.3h-1.3zM405.5 146.8h1.3v1.3h-1.3zM402.0 149.8h1.3v1.3h-1.3zM409.6 70.2h1.3v1.3h-1.3zM414.0 147.4h1.3v1.3h-1.3zM403.8 68.7h1.3v1.3h-1.3zM399.5 87.9h1.3v1.3h-1.3zM410.0 75.1h1.3v1.3h-1.3zM390.9 160.5h1.3v1.3h-1.3zM406.6 80.1h1.3v1.3h-1.3zM402.5 146.0h1.3v1.3h-1.3zM402.7 104.8h1.3v1.3h-1.3zM403.0 163.4h1.3v1.3h-1.3zM400.7 150.9h1.3v1.3h-1.3zM411.3 146.9h1.3v1.3h-1.3zM392.7 159.4h1.3v1.3h-1.3zM408.4 149.7h1.3v1.3h-1.3zM389.7 154.9h1.3v1.3h-1.3zM402.2 163.1h1.3v1.3h-1.3zM398.1 161.9h1.3v1.3h-1.3zM391.6 154.1h1.3v1.3h-1.3zM395.0 163.8h1.3v1.3h-1.3z" fill="rgb(59,75,165)" fill-opacity="0.78"/>
<path d="M406.8 72.3h1.3v1.3h-1.3zM404.5 68.1h1.3v1.3h-1.3zM385.9 158.1h1.3v1.3h-1.3zM390.8 169.0h1.3v1.3h-1.3zM395.7 157.9h1.3v1.3h-1.3zM394.5 155.0h1.3v1.3h-1.3zM391.7 159.5h1.3v1.3h-1.3zM404.3 146.0h1.3v1.3h-1.3zM406.3 147.3h1.3v1.3h-1.3zM394.8 155.3h1.3v1.3h-1.3zM400.9 149.1h1.3v1.3h-1.3zM387.8 157.7h1.3v1.3h-1.3zM386.8 157.5h1.3v1.3h-1.3zM410.6 145.2h1.3v1.3h-1.3zM390.9 152.4h1.3v1.3h-1.3zM400.0 70.1h1.3v1.3h-1.3zM397.6 161.3h1.3v1.3h-1.3zM394.0 144.4h1.3v1.3h-1.3zM392.1 73.7h1.3v1.3h-1.3zM403.5 79.5h1.3v1.3h-1.3zM402.6 146.9h1.3v1.3h-1.3zM388.1 144.7h1.3v1.3h-1.3zM393.1 151.8h1.3v1.3h-1.3zM404.9 72.7h1.3v1.3h-1.3zM413.8 148.9h1.3v1.3h-1.3zM420.1 158.7h1.3v1.3h-1.3zM406.2 73.2h1.3v1.3h-1.3zM399.0 148.5h1.3v1.3h-1.3zM404.2 74.9h1.3v1.3h-1.3zM392.5 150.8h1.3v1.3h-1.3zM405.1 83.1h1.3v1.3h-1.3zM398.8 69.9h1.3v1.3h-1.3zM399.8 79.6h1.3v1.3h-1.3zM393.1 67.4h1.3v1.3h-1.3zM405.2 66.8h1.3v1.3h-1.3zM407.5 164.0h1.3v1.3h-1.3zM398.2 64.7h1.3v1.3h-1.3zM385.7 154.2h1.3v1.3h-1.3zM401.3 78.9h1.3v1.3h-1.3zM396.5 165.0h1.3v1.3h-1.3zM397.1 97.0h1.3v1.3h-1.3zM401.0 91.1h1.3v1.3h-1.3zM392.2 151.6h1.3v1.3h-1.3zM416.8 154.0h1.3v1.3h-1.3zM385.8 155.3h1.3v1.3h-1.3zM398.6 160.5h1.3v1.3h-1.3zM403.3 77.5h1.3v1.3h-1.3zM393.9 79.9h1.3v1.3h-1.3zM401.0 80.6h1.3v1.3h-1.3zM413.6 151.0h1.3v1.3h-1.3zM398.0 150.9h1.3v1.3h-1.3zM403.8 80.6h1.3v1.3h-1.3zM401.9 150.7h1.3v1.3h-1.3zM398.5 72.1h1.3v1.3h-1.3zM390.9 149.5h1.3v1.3h-1.3zM399.5 160.6h1.3v1.3h-1.3zM404.3 163.7h1.3v1.3h-1.3zM401.1 75.5h1.3v1.3h-1.3zM394.0 159.3h1.3v1.3h-1.3zM405.0 70.5h1.3v1.3h-1.3zM404.0 78.0h1.3v1.3h-1.3zM388.5 156.4h1.3v1.3h-1.3zM394.1 162.6h1.3v1.3h-1.3zM404.9 161.1h1.3v1.3h-1.3zM404.9 164.2h1.3v1.3h-1.3zM383.7 154.0h1.3v1.3h-1.3zM413.4 159.4h1.3v1.3h-1.3zM404.5 70.0h1.3v1.3h-1.3zM412.3 161.6h1.3v1.3h-1.3zM406.8 73.4h1.3v1.3h-1.3zM401.6 76.6h1.3v1.3h-1.3zM403.9 79.8h1.3v1.3h-1.3zM396.9 153.1h1.3v1.3h-1.3zM389.3 152.2h1.3v1.3h-1.3zM390.7 148.3h1.3v1.3h-1.3zM406.1 164.3h1.3v1.3h-1.3zM409.9 148.8h1.3v1.3h-1.3zM399.1 71.7h1.3v1.3h-1.3zM418.2 156.4h1.3v1.3h-1.3zM399.7 71.2h1.3v1.3h-1.3zM390.5 160.7h1.3v1.3h-1.3zM406.9 82.8h1.3v1.3h-1.3zM404.3 147.7h1.3v1.3h-1.3zM389.7 159.5h1.3v1.3h-1.3zM411.0 149.6h1.3v1.3h-1.3zM415.0 155.6h1.3v1.3h-1.3zM393.9 159.9h1.3v1.3h-1.3zM386.7 155.6h1.3v1.3h-1.3zM400.6 79.0h1.3v1.3h-1.3zM396.6 167.2h1.3v1.3h-1.3zM398.2 73.9h1.3v1.3h-1.3zM392.9 164.6h1.3v1.3h-1.3zM414.2 159.0h1.3v1.3h-1.3zM414.1 158.7h1.3v1.3h-1.3zM399.9 78.0h1.3v1.3h-1.3zM403.2 78.3h1.3v1.3h-1.3zM399.6 70.9h1.3v1.3h-1.3zM386.3 148.3h1.3v1.3h-1.3zM386.1 156.6h1.3v1.3h-1.3zM391.3 163.6h1.3v1.3h-1.3zM401.3 67.5h1.3v1.3h-1.3zM395.4 149.2h1.3v1.3h-1.3zM401.3 72.3h1.3v1.3h-1.3zM389.5 161.1h1.3v1.3h-1.3zM390.9 158.0h1.3v1.3h-1.3zM395.6 159.6h1.3v1.3h-1.3zM403.6 75.8h1.3v1.3h-1.3zM400.7 79.6h1.3v1.3h-1.3zM404.1 80.7h1.3v1.3h-1.3zM394.4 159.4h1.3v1.3h-1.3zM400.3 69.1h1.3v1.3h-1.3zM417.6 151.9h1.3v1.3h-1.3zM400.4 80.3h1.3v1.3h-1.3zM390.1 155.0h1.3v1.3h-1.3zM400.8 149.9h1.3v1.3h-1.3zM393.1 151.7h1.3v1.3h-1.3zM393.5 156.4h1.3v1.3h-1.3zM408.2 76.8h1.3v1.3h-1.3zM409.6 147.2h1.3v1.3h-1.3zM399.8 77.6h1.3v1.3h-1.3zM399.8 146.0h1.3v1.3h-1.3zM397.4 116.5h1.3v1.3h-1.3zM389.5 157.6h1.3v1.3h-1.3zM402.4 75.4h1.3v1.3h-1.3zM395.0 148.8h1.3v1.3h-1.3zM402.5 71.9h1.3v1.3h-1.3zM415.1 153.8h1.3v1.3h-1.3zM414.5 152.0h1.3v1.3h-1.3zM407.5 165.2h1.3v1.3h-1.3zM420.7 162.0h1.3v1.3h-1.3zM395.2 155.7h1.3v1.3h-1.3zM390.0 156.3h1.3v1.3h-1.3zM405.8 70.9h1.3v1.3h-1.3zM388.2 155.6h1.3v1.3h-1.3zM389.8 151.7h1.3v1.3h-1.3zM388.0 159.8h1.3v1.3h-1.3zM387.4 156.8h1.3v1.3h-1.3zM391.1 153.9h1.3v1.3h-1.3zM394.9 158.6h1.3v1.3h-1.3zM398.6 162.9h1.3v1.3h-1.3zM406.1 147.5h1.3v1.3h-1.3zM396.3 154.4h1.3v1.3h-1.3zM393.9 161.6h1.3v1.3h-1.3zM403.4 79.6h1.3v1.3h-1.3zM401.9 69.1h1.3v1.3h-1.3zM393.8 153.5h1.3v1.3h-1.3zM394.1 160.4h1.3v1.3h-1.3zM389.2 158.3h1.3v1.3h-1.3zM401.4 146.7h1.3v1.3h-1.3zM397.6 147.3h1.3v1.3h-1.3zM405.2 162.9h1.3v1.3h-1.3zM401.9 79.3h1.3v1.3h-1.3zM404.2 68.6h1.3v1.3h-1.3zM383.0 167.4h1.3v1.3h-1.3zM398.4 149.4h1.3v1.3h-1.3zM416.5 155.5h1.3v1.3h-1.3z" fill="rgb(63,83,172)" fill-opacity="0.78"/>
<path d="M409.6 149.6h1.3v1.3h-1.3zM386.7 158.6h1.3v1.3h-1.3zM405.4 147.8h1.3v1.3h-1.3zM405.7 73.1h1.3v1.3h-1.3zM398.3 77.1h1.3v1.3h-1.3zM414.9 159.5h1.3v1.3h-1.3zM398.4 74.8h1.3v1.3h-1.3zM402.0 149.6h1.3v1.3h-1.3zM401.1 146.8h1.3v1.3h-1.3zM400.1 69.2h1.3v1.3h-1.3zM395.1 147.6h1.3v1.3h-1.3zM413.6 159.2h1.3v1.3h-1.3zM414.6 81.4h1.3v1.3h-1.3zM389.7 155.6h1.3v1.3h-1.3zM409.9 147.2h1.3v1.3h-1.3zM412.1 159.7h1.3v1.3h-1.3zM387.5 152.5h1.3v1.3h-1.3zM397.3 153.3h1.3v1.3h-1.3zM385.6 159.7h1.3v1.3h-1.3zM390.0 156.4h1.3v1.3h-1.3zM393.6 145.4h1.3v1.3h-1.3zM414.2 155.4h1.3v1.3h-1.3zM407.2 163.6h1.3v1.3h-1.3zM402.9 68.7h1.3v1.3h-1.3zM391.2 72.7h1.3v1.3h-1.3zM416.8 151.1h1.3v1.3h-1.3zM401.9 162.9h1.3v1.3h-1.3zM404.7 70.2h1.3v1.3h-1.3zM397.1 151.7h1.3v1.3h-1.3zM396.9 156.9h1.3v1.3h-1.3zM401.8 68.4h1.3v1.3h-1.3zM395.8 149.1h1.3v1.3h-1.3zM408.7 147.1h1.3v1.3h-1.3zM418.4 159.1h1.3v1.3h-1.3zM393.2 153.5h1.3v1.3h-1.3zM396.7 153.4h1.3v1.3h-1.3zM396.1 75.5h1.3v1.3h-1.3zM393.3 158.1h1.3v1.3h-1.3zM411.6 162.7h1.3v1.3h-1.3zM410.5 161.5h1.3v1.3h-1.3zM405.0 69.5h1.3v1.3h-1.3zM399.6 162.4h1.3v1.3h-1.3zM407.8 83.2h1.3v1.3h-1.3zM391.1 156.5h1.3v1.3h-1.3zM408.5 148.6h1.3v1.3h-1.3zM401.8 166.4h1.3v1.3h-1.3zM393.8 149.8h1.3v1.3h-1.3zM405.1 80.3h1.3v1.3h-1.3zM389.1 156.3h1.3v1.3h-1.3zM403.4 162.1h1.3v1.3h-1.3zM408.5 148.9h1.3v1.3h-1.3zM412.0 148.2h1.3v1.3h-1.3zM413.9 151.8h1.3v1.3h-1.3zM410.3 163.0h1.3v1.3h-1.3zM404.0 68.6h1.3v1.3h-1.3zM406.0 163.5h1.3v1.3h-1.3zM392.0 148.9h1.3v1.3h-1.3zM415.8 154.6h1.3v1.3h-1.3zM407.0 75.5h1.3v1.3h-1.3zM403.9 74.4h1.3v1.3h-1.3zM401.7 74.8h1.3v1.3h-1.3zM388.5 151.4h1.3v1.3h-1.3zM389.8 156.2h1.3v1.3h-1.3zM402.6 76.5h1.3v1.3h-1.3zM410.3 149.7h1.3v1.3h-1.3zM394.1 155.9h1.3v1.3h-1.3zM397.2 76.5h1.3v1.3h-1.3zM406.6 164.4h1.3v1.3h-1.3zM395.7 163.6h1.3v1.3h-1.3zM393.8 161.2h1.3v1.3h-1.3zM411.0 162.4h1.3v1.3h-1.3zM395.9 153.2h1.3v1.3h-1.3zM408.4 162.8h1.3v1.3h-1.3zM414.6 149.7h1.3v1.3h-1.3zM402.2 162.7h1.3v1.3h-1.3zM405.3 73.2h1.3v1.3h-1.3zM407.5 162.8h1.3v1.3h-1.3zM395.9 159.8h1.3v1.3h-1.3zM398.0 80.9h1.3v1.3h-1.3zM400.0 74.8h1.3v1.3h-1.3zM388.0 156.2h1.3v1.3h-1.3zM396.3 152.0h1.3v1.3h-1.3zM399.0 151.2h1.3v1.3h-1.3zM401.3 69.1h1.3v1.3h-1.3zM407.6 162.5h1.3v1.3h-1.3zM401.6 166.6h1.3v1.3h-1.3zM393.5 160.2h1.3v1.3h-1.3zM414.3 161.5h1.3v1.3h-1.3zM386.4 151.5h1.3v1.3h-1.3zM403.9 74.1h1.3v1.3h-1.3zM408.4 66.4h1.3v1.3h-1.3zM404.5 71.8h1.3v1.3h-1.3zM389.8 154.2h1.3v1.3h-1.3zM391.3 152.0h1.3v1.3h-1.3zM409.1 144.3h1.3v1.3h-1.3zM389.6 149.7h1.3v1.3h-1.3zM389.4 162.8h1.3v1.3h-1.3zM403.7 80.0h1.3v1.3h-1.3zM403.2 162.9h1.3v1.3h-1.3zM395.9 105.8h1.3v1.3h-1.3zM402.7 68.2h1.3v1.3h-1.3zM413.1 151.1h1.3v1.3h-1.3zM414.9 154.6h1.3v1.3h-1.3zM399.9 72.9h1.3v1.3h-1.3zM396.7 162.3h1.3v1.3h-1.3zM390.9 155.8h1.3v1.3h-1.3zM414.9 153.3h1.3v1.3h-1.3zM389.7 158.7h1.3v1.3h-1.3zM413.5 152.2h1.3v1.3h-1.3zM393.6 145.7h1.3v1.3h-1.3zM390.3 75.6h1.3v1.3h-1.3zM414.0 148.7h1.3v1.3h-1.3zM394.0 154.7h1.3v1.3h-1.3zM403.7 68.1h1.3v1.3h-1.3zM395.6 160.3h1.3v1.3h-1.3zM400.2 150.1h1.3v1.3h-1.3zM396.7 69.9h1.3v1.3h-1.3zM412.5 159.6h1.3v1.3h-1.3zM396.5 158.6h1.3v1.3h-1.3zM391.5 160.1h1.3v1.3h-1.3zM404.1 71.4h1.3v1.3h-1.3zM404.6 77.2h1.3v1.3h-1.3zM384.0 160.6h1.3v1.3h-1.3zM415.7 161.0h1.3v1.3h-1.3zM400.8 163.2h1.3v1.3h-1.3zM389.7 152.1h1.3v1.3h-1.3zM404.9 69.4h1.3v1.3h-1.3zM389.0 157.9h1.3v1.3h-1.3zM394.0 150.5h1.3v1.3h-1.3zM416.8 155.8h1.3v1.3h-1.3zM415.2 151.1h1.3v1.3h-1.3zM392.3 156.5h1.3v1.3h-1.3zM401.0 64.7h1.3v1.3h-1.3zM397.9 159.4h1.3v1.3h-1.3zM393.0 166.0h1.3v1.3h-1.3zM393.1 152.9h1.3v1.3h-1.3zM389.0 151.8h1.3v1.3h-1.3zM394.0 148.3h1.3v1.3h-1.3z" fill="rgb(72,96,181)" fill-opacity="0.78"/>
<path d="M395.0 158.0h1.3v1.3h-1.3zM391.5 153.5h1.3v1.3h-1.3zM409.4 162.1h1.3v1.3h-1.3zM415.2 158.9h1.3v1.3h-1.3zM403.4 164.3h1.3v1.3h-1.3zM391.3 150.4h1.3v1.3h-1.3zM394.7 154.6h1.3v1.3h-1.3zM412.8 159.9h1.3v1.3h-1.3zM397.0 168.8h1.3v1.3h-1.3zM397.2 82.6h1.3v1.3h-1.3zM389.4 155.9h1.3v1.3h-1.3zM406.4 147.3h1.3v1.3h-1.3zM400.7 162.5h1.3v1.3h-1.3zM391.4 154.2h1.3v1.3h-1.3zM394.0 151.1h1.3v1.3h-1.3zM401.4 78.9h1.3v1.3h-1.3zM388.8 155.3h1.3v1.3h-1.3zM411.4 149.5h1.3v1.3h-1.3zM401.6 74.6h1.3v1.3h-1.3zM390.1 153.7h1.3v1.3h-1.3zM402.7 163.0h1.3v1.3h-1.3zM403.2 79.1h1.3v1.3h-1.3zM404.4 66.8h1.3v1.3h-1.3zM405.0 72.8h1.3v1.3h-1.3zM401.0 151.0h1.3v1.3h-1.3zM414.2 149.1h1.3v1.3h-1.3zM402.9 146.6h1.3v1.3h-1.3zM404.1 161.6h1.3v1.3h-1.3zM390.3 155.1h1.3v1.3h-1.3zM411.2 147.3h1.3v1.3h-1.3zM419.1 158.8h1.3v1.3h-1.3zM394.9 154.3h1.3v1.3h-1.3zM386.7 153.3h1.3v1.3h-1.3zM409.8 149.6h1.3v1.3h-1.3zM406.1 76.5h1.3v1.3h-1.3zM386.2 157.0h1.3v1.3h-1.3zM390.0 152.6h1.3v1.3h-1.3zM396.5 152.5h1.3v1.3h-1.3zM395.1 75.0h1.3v1.3h-1.3zM404.4 147.3h1.3v1.3h-1.3zM407.2 77.0h1.3v1.3h-1.3zM402.4 146.5h1.3v1.3h-1.3zM401.8 79.5h1.3v1.3h-1.3zM390.8 153.1h1.3v1.3h-1.3zM389.3 154.7h1.3v1.3h-1.3zM403.2 161.6h1.3v1.3h-1.3zM399.8 148.3h1.3v1.3h-1.3zM386.7 152.6h1.3v1.3h-1.3zM390.1 151.0h1.3v1.3h-1.3zM404.8 72.5h1.3v1.3h-1.3zM392.8 158.0h1.3v1.3h-1.3zM404.5 80.2h1.3v1.3h-1.3zM403.6 82.4h1.3v1.3h-1.3zM408.5 162.0h1.3v1.3h-1.3zM404.4 69.8h1.3v1.3h-1.3zM398.7 73.1h1.3v1.3h-1.3zM409.9 162.8h1.3v1.3h-1.3zM386.9 155.9h1.3v1.3h-1.3zM396.1 151.4h1.3v1.3h-1.3zM412.6 159.7h1.3v1.3h-1.3zM393.2 155.4h1.3v1.3h-1.3zM389.7 153.7h1.3v1.3h-1.3zM397.6 158.1h1.3v1.3h-1.3zM397.8 158.6h1.3v1.3h-1.3zM388.5 153.7h1.3v1.3h-1.3zM411.9 150.4h1.3v1.3h-1.3zM393.4 153.3h1.3v1.3h-1.3zM405.1 77.0h1.3v1.3h-1.3zM398.6 160.7h1.3v1.3h-1.3zM409.8 81.6h1.3v1.3h-1.3zM405.9 73.8h1.3v1.3h-1.3zM389.2 157.4h1.3v1.3h-1.3zM390.0 158.7h1.3v1.3h-1.3zM405.2 84.5h1.3v1.3h-1.3zM405.9 162.5h1.3v1.3h-1.3zM391.3 159.2h1.3v1.3h-1.3zM403.0 75.2h1.3v1.3h-1.3zM416.0 151.8h1.3v1.3h-1.3zM399.6 64.6h1.3v1.3h-1.3zM389.1 160.2h1.3v1.3h-1.3zM403.2 78.5h1.3v1.3h-1.3zM399.2 80.9h1.3v1.3h-1.3zM402.2 72.9h1.3v1.3h-1.3zM398.5 151.0h1.3v1.3h-1.3zM393.4 157.0h1.3v1.3h-1.3zM391.7 152.6h1.3v1.3h-1.3zM402.9 164.6h1.3v1.3h-1.3zM414.1 151.9h1.3v1.3h-1.3zM407.3 76.0h1.3v1.3h-1.3zM400.2 162.2h1.3v1.3h-1.3zM412.8 149.5h1.3v1.3h-1.3zM412.2 158.3h1.3v1.3h-1.3zM394.5 155.3h1.3v1.3h-1.3zM402.3 147.7h1.3v1.3h-1.3zM398.0 162.1h1.3v1.3h-1.3zM402.9 81.0h1.3v1.3h-1.3zM392.0 152.7h1.3v1.3h-1.3zM389.9 159.6h1.3v1.3h-1.3zM402.4 80.9h1.3v1.3h-1.3zM411.5 160.9h1.3v1.3h-1.3zM398.8 150.6h1.3v1.3h-1.3zM413.9 162.2h1.3v1.3h-1.3zM415.7 152.8h1.3v1.3h-1.3zM398.6 151.2h1.3v1.3h-1.3zM396.7 85.9h1.3v1.3h-1.3zM404.8 148.8h1.3v1.3h-1.3zM411.3 150.4h1.3v1.3h-1.3zM395.0 161.9h1.3v1.3h-1.3zM393.2 155.5h1.3v1.3h-1.3zM399.9 151.0h1.3v1.3h-1.3zM396.5 160.2h1.3v1.3h-1.3zM393.2 158.0h1.3v1.3h-1.3zM396.1 65.1h1.3v1.3h-1.3zM390.9 156.8h1.3v1.3h-1.3zM403.5 69.7h1.3v1.3h-1.3zM388.2 151.5h1.3v1.3h-1.3zM398.6 160.5h1.3v1.3h-1.3zM398.5 163.6h1.3v1.3h-1.3z" fill="rgb(81,110,191)" fill-opacity="0.78"/>
<path d="M400.6 71.3h1.3v1.3h-1.3zM404.0 79.4h1.3v1.3h-1.3zM405.2 77.7h1.3v1.3h-1.3zM403.7 71.5h1.3v1.3h-1.3zM402.0 77.9h1.3v1.3h-1.3zM394.3 154.8h1.3v1.3h-1.3zM392.8 148.5h1.3v1.3h-1.3zM396.1 155.1h1.3v1.3h-1.3zM396.8 161.5h1.3v1.3h-1.3zM413.3 152.0h1.3v1.3h-1.3zM402.7 78.6h1.3v1.3h-1.3zM413.1 159.1h1.3v1.3h-1.3zM391.0 156.3h1.3v1.3h-1.3zM412.1 151.2h1.3v1.3h-1.3zM387.1 153.9h1.3v1.3h-1.3zM397.4 152.6h1.3v1.3h-1.3zM395.8 158.9h1.3v1.3h-1.3zM399.5 72.3h1.3v1.3h-1.3zM399.6 161.7h1.3v1.3h-1.3zM388.1 158.7h1.3v1.3h-1.3zM401.4 78.1h1.3v1.3h-1.3zM398.1 158.7h1.3v1.3h-1.3zM401.9 162.2h1.3v1.3h-1.3zM399.2 150.6h1.3v1.3h-1.3zM414.4 154.8h1.3v1.3h-1.3zM405.9 148.2h1.3v1.3h-1.3zM402.2 70.8h1.3v1.3h-1.3zM403.2 79.4h1.3v1.3h-1.3zM394.9 153.7h1.3v1.3h-1.3zM388.5 160.8h1.3v1.3h-1.3zM405.8 148.0h1.3v1.3h-1.3zM405.0 66.9h1.3v1.3h-1.3zM414.3 153.5h1.3v1.3h-1.3zM394.9 157.6h1.3v1.3h-1.3zM395.9 100.5h1.3v1.3h-1.3zM401.7 71.0h1.3v1.3h-1.3zM404.0 80.3h1.3v1.3h-1.3zM412.3 148.1h1.3v1.3h-1.3zM414.6 154.1h1.3v1.3h-1.3zM413.5 151.7h1.3v1.3h-1.3zM408.2 146.2h1.3v1.3h-1.3zM392.3 155.6h1.3v1.3h-1.3zM397.0 160.0h1.3v1.3h-1.3zM411.1 160.5h1.3v1.3h-1.3zM403.6 75.2h1.3v1.3h-1.3zM409.9 164.4h1.3v1.3h-1.3zM399.8 73.8h1.3v1.3h-1.3zM397.4 160.4h1.3v1.3h-1.3zM402.9 73.2h1.3v1.3h-1.3zM397.3 151.8h1.3v1.3h-1.3zM404.3 161.6h1.3v1.3h-1.3zM406.0 149.0h1.3v1.3h-1.3zM396.4 158.2h1.3v1.3h-1.3zM402.2 147.1h1.3v1.3h-1.3zM394.0 148.6h1.3v1.3h-1.3zM403.1 162.5h1.3v1.3h-1.3zM394.9 159.3h1.3v1.3h-1.3zM395.0 157.7h1.3v1.3h-1.3zM406.4 164.4h1.3v1.3h-1.3zM401.9 69.7h1.3v1.3h-1.3zM394.0 154.9h1.3v1.3h-1.3zM389.1 160.4h1.3v1.3h-1.3zM413.8 160.4h1.3v1.3h-1.3zM388.7 152.5h1.3v1.3h-1.3zM402.7 74.3h1.3v1.3h-1.3zM403.6 162.9h1.3v1.3h-1.3zM403.7 76.9h1.3v1.3h-1.3zM407.1 162.2h1.3v1.3h-1.3zM400.1 75.2h1.3v1.3h-1.3zM398.9 73.0h1.3v1.3h-1.3zM409.0 76.3h1.3v1.3h-1.3zM414.6 152.8h1.3v1.3h-1.3zM404.6 148.3h1.3v1.3h-1.3zM399.0 151.7h1.3v1.3h-1.3zM393.7 159.3h1.3v1.3h-1.3zM396.8 161.0h1.3v1.3h-1.3zM400.6 75.6h1.3v1.3h-1.3zM401.6 149.8h1.3v1.3h-1.3zM399.3 151.4h1.3v1.3h-1.3zM396.0 156.6h1.3v1.3h-1.3zM401.7 161.1h1.3v1.3h-1.3zM391.0 156.3h1.3v1.3h-1.3zM393.3 155.0h1.3v1.3h-1.3zM412.5 161.7h1.3v1.3h-1.3zM394.7 148.6h1.3v1.3h-1.3zM401.8 68.0h1.3v1.3h-1.3zM403.2 76.9h1.3v1.3h-1.3zM401.8 79.6h1.3v1.3h-1.3zM414.3 161.4h1.3v1.3h-1.3zM390.3 93.9h1.3v1.3h-1.3zM409.2 149.6h1.3v1.3h-1.3zM394.1 154.2h1.3v1.3h-1.3zM401.1 160.6h1.3v1.3h-1.3zM414.9 152.6h1.3v1.3h-1.3zM396.6 161.6h1.3v1.3h-1.3zM406.8 163.3h1.3v1.3h-1.3zM405.4 147.4h1.3v1.3h-1.3zM406.2 148.6h1.3v1.3h-1.3zM390.6 156.0h1.3v1.3h-1.3zM400.2 77.7h1.3v1.3h-1.3zM402.4 71.0h1.3v1.3h-1.3zM391.3 158.6h1.3v1.3h-1.3zM399.3 74.2h1.3v1.3h-1.3zM391.9 157.4h1.3v1.3h-1.3zM397.9 157.2h1.3v1.3h-1.3zM408.6 162.0h1.3v1.3h-1.3zM413.2 151.2h1.3v1.3h-1.3zM389.5 145.9h1.3v1.3h-1.3zM408.7 149.5h1.3v1.3h-1.3zM399.3 148.1h1.3v1.3h-1.3zM386.4 156.7h1.3v1.3h-1.3zM391.8 158.0h1.3v1.3h-1.3z" fill="rgb(90,124,201)" fill-opacity="0.78"/>
<path d="M394.9 158.5h1.3v1.3h-1.3zM405.2 73.0h1.3v1.3h-1.3zM396.7 154.5h1.3v1.3h-1.3zM391.9 151.4h1.3v1.3h-1.3zM402.5 148.1h1.3v1.3h-1.3zM412.1 159.9h1.3v1.3h-1.3zM399.1 148.1h1.3v1.3h-1.3zM403.6 148.8h1.3v1.3h-1.3zM391.3 151.2h1.3v1.3h-1.3zM397.4 157.5h1.3v1.3h-1.3zM401.3 161.8h1.3v1.3h-1.3zM391.8 150.5h1.3v1.3h-1.3zM392.4 159.1h1.3v1.3h-1.3zM389.8 159.1h1.3v1.3h-1.3zM394.5 157.2h1.3v1.3h-1.3zM414.3 156.8h1.3v1.3h-1.3zM401.5 150.1h1.3v1.3h-1.3zM395.0 96.9h1.3v1.3h-1.3zM414.4 158.7h1.3v1.3h-1.3zM404.0 81.1h1.3v1.3h-1.3zM402.0 72.9h1.3v1.3h-1.3zM396.8 155.6h1.3v1.3h-1.3zM401.2 162.5h1.3v1.3h-1.3zM409.6 149.1h1.3v1.3h-1.3zM404.5 161.7h1.3v1.3h-1.3zM407.9 148.5h1.3v1.3h-1.3zM408.3 75.7h1.3v1.3h-1.3zM414.7 155.4h1.3v1.3h-1.3zM403.9 77.5h1.3v1.3h-1.3zM400.9 162.4h1.3v1.3h-1.3zM392.1 156.1h1.3v1.3h-1.3zM388.2 154.8h1.3v1.3h-1.3zM409.7 161.2h1.3v1.3h-1.3zM400.4 161.8h1.3v1.3h-1.3zM403.9 147.6h1.3v1.3h-1.3zM393.1 158.8h1.3v1.3h-1.3zM394.6 158.6h1.3v1.3h-1.3zM394.6 153.9h1.3v1.3h-1.3zM402.7 68.4h1.3v1.3h-1.3zM400.7 149.3h1.3v1.3h-1.3zM402.2 74.7h1.3v1.3h-1.3zM391.6 151.2h1.3v1.3h-1.3zM394.1 78.5h1.3v1.3h-1.3zM392.4 153.6h1.3v1.3h-1.3zM403.8 76.3h1.3v1.3h-1.3zM409.8 148.6h1.3v1.3h-1.3zM392.4 159.8h1.3v1.3h-1.3zM399.1 161.3h1.3v1.3h-1.3zM392.3 153.1h1.3v1.3h-1.3zM408.2 163.1h1.3v1.3h-1.3zM397.6 157.6h1.3v1.3h-1.3zM402.9 148.8h1.3v1.3h-1.3zM397.4 154.0h1.3v1.3h-1.3zM401.3 160.7h1.3v1.3h-1.3zM396.3 154.7h1.3v1.3h-1.3zM401.1 161.6h1.3v1.3h-1.3zM401.5 160.2h1.3v1.3h-1.3zM412.0 150.5h1.3v1.3h-1.3zM394.7 157.6h1.3v1.3h-1.3zM414.6 153.1h1.3v1.3h-1.3zM399.1 160.9h1.3v1.3h-1.3zM399.9 160.7h1.3v1.3h-1.3zM404.9 74.8h1.3v1.3h-1.3zM404.9 73.1h1.3v1.3h-1.3zM391.4 153.9h1.3v1.3h-1.3zM396.7 158.0h1.3v1.3h-1.3zM408.2 148.6h1.3v1.3h-1.3zM399.9 160.2h1.3v1.3h-1.3zM413.6 158.9h1.3v1.3h-1.3zM393.5 155.0h1.3v1.3h-1.3zM393.7 159.3h1.3v1.3h-1.3zM398.4 152.8h1.3v1.3h-1.3zM398.3 152.5h1.3v1.3h-1.3zM399.2 73.1h1.3v1.3h-1.3zM391.4 152.7h1.3v1.3h-1.3zM402.5 160.9h1.3v1.3h-1.3zM402.5 160.2h1.3v1.3h-1.3zM392.9 153.8h1.3v1.3h-1.3zM397.5 157.9h1.3v1.3h-1.3zM399.6 159.5h1.3v1.3h-1.3zM399.4 159.8h1.3v1.3h-1.3zM399.7 159.5h1.3v1.3h-1.3zM399.8 159.7h1.3v1.3h-1.3zM399.9 159.4h1.3v1.3h-1.3zM393.7 156.1h1.3v1.3h-1.3zM397.7 159.0h1.3v1.3h-1.3zM393.4 157.2h1.3v1.3h-1.3zM402.2 77.8h1.3v1.3h-1.3zM403.5 79.7h1.3v1.3h-1.3zM402.1 150.2h1.3v1.3h-1.3zM402.7 150.2h1.3v1.3h-1.3zM402.0 150.9h1.3v1.3h-1.3zM402.3 150.4h1.3v1.3h-1.3zM393.2 155.7h1.3v1.3h-1.3zM405.3 161.0h1.3v1.3h-1.3zM405.1 161.6h1.3v1.3h-1.3zM405.6 161.4h1.3v1.3h-1.3zM405.1 161.2h1.3v1.3h-1.3zM405.0 161.9h1.3v1.3h-1.3zM405.2 161.3h1.3v1.3h-1.3zM413.3 156.9h1.3v1.3h-1.3zM413.4 156.7h1.3v1.3h-1.3zM413.9 156.1h1.3v1.3h-1.3zM413.9 156.5h1.3v1.3h-1.3zM413.7 156.9h1.3v1.3h-1.3zM414.1 152.4h1.3v1.3h-1.3zM394.2 156.1h1.3v1.3h-1.3zM388.4 151.5h1.3v1.3h-1.3zM395.3 158.3h1.3v1.3h-1.3zM409.0 163.1h1.3v1.3h-1.3zM396.1 157.8h1.3v1.3h-1.3zM400.6 160.4h1.3v1.3h-1.3z" fill="rgb(99,138,211)" fill-opacity="0.78"/>
<path d="M404.4 78.9h1.3v1.3h-1.3zM397.4 153.2h1.3v1.3h-1.3zM413.3 153.7h1.3v1.3h-1.3zM413.1 153.4h1.3v1.3h-1.3zM413.7 153.9h1.3v1.3h-1.3zM413.8 153.5h1.3v1.3h-1.3zM413.4 153.6h1.3v1.3h-1.3zM413.7 153.2h1.3v1.3h-1.3zM408.1 162.1h1.3v1.3h-1.3zM397.2 160.2h1.3v1.3h-1.3zM391.4 155.2h1.3v1.3h-1.3zM387.8 157.9h1.3v1.3h-1.3zM398.3 158.9h1.3v1.3h-1.3zM411.7 150.9h1.3v1.3h-1.3zM394.4 158.7h1.3v1.3h-1.3zM397.2 73.0h1.3v1.3h-1.3zM406.8 76.1h1.3v1.3h-1.3zM397.7 157.1h1.3v1.3h-1.3zM395.6 158.2h1.3v1.3h-1.3zM410.8 161.6h1.3v1.3h-1.3zM387.9 156.8h1.3v1.3h-1.3zM403.7 148.7h1.3v1.3h-1.3zM402.1 71.1h1.3v1.3h-1.3zM392.8 158.6h1.3v1.3h-1.3zM390.3 156.4h1.3v1.3h-1.3zM405.7 79.9h1.3v1.3h-1.3zM403.7 75.3h1.3v1.3h-1.3zM402.2 68.2h1.3v1.3h-1.3zM401.2 74.5h1.3v1.3h-1.3zM391.9 157.2h1.3v1.3h-1.3zM396.4 153.8h1.3v1.3h-1.3zM404.2 148.0h1.3v1.3h-1.3zM394.8 157.4h1.3v1.3h-1.3zM394.7 154.4h1.3v1.3h-1.3zM399.0 158.5h1.3v1.3h-1.3zM396.9 158.7h1.3v1.3h-1.3zM413.5 157.0h1.3v1.3h-1.3zM412.1 158.2h1.3v1.3h-1.3zM396.5 156.2h1.3v1.3h-1.3zM400.6 160.2h1.3v1.3h-1.3zM414.3 151.8h1.3v1.3h-1.3zM401.7 160.3h1.3v1.3h-1.3zM401.3 160.4h1.3v1.3h-1.3zM395.3 161.1h1.3v1.3h-1.3zM408.4 149.5h1.3v1.3h-1.3zM401.6 150.3h1.3v1.3h-1.3zM387.6 157.6h1.3v1.3h-1.3zM403.2 161.1h1.3v1.3h-1.3zM412.3 159.8h1.3v1.3h-1.3zM402.4 148.6h1.3v1.3h-1.3zM414.8 154.4h1.3v1.3h-1.3zM409.9 149.9h1.3v1.3h-1.3zM393.3 152.9h1.3v1.3h-1.3zM395.1 154.3h1.3v1.3h-1.3zM396.7 155.7h1.3v1.3h-1.3zM392.9 155.1h1.3v1.3h-1.3zM406.3 148.1h1.3v1.3h-1.3zM397.1 154.0h1.3v1.3h-1.3zM393.9 154.5h1.3v1.3h-1.3zM404.7 70.1h1.3v1.3h-1.3zM403.9 72.4h1.3v1.3h-1.3zM392.6 157.2h1.3v1.3h-1.3zM414.9 156.9h1.3v1.3h-1.3zM394.1 157.7h1.3v1.3h-1.3zM408.0 149.1h1.3v1.3h-1.3zM403.0 147.9h1.3v1.3h-1.3zM414.3 155.7h1.3v1.3h-1.3zM396.3 156.1h1.3v1.3h-1.3zM393.8 154.7h1.3v1.3h-1.3zM412.3 159.0h1.3v1.3h-1.3zM415.1 155.7h1.3v1.3h-1.3zM389.9 156.1h1.3v1.3h-1.3zM394.0 155.3h1.3v1.3h-1.3zM397.1 153.8h1.3v1.3h-1.3zM395.1 159.2h1.3v1.3h-1.3zM390.9 150.0h1.3v1.3h-1.3zM403.9 147.1h1.3v1.3h-1.3zM399.0 150.3h1.3v1.3h-1.3zM409.3 149.5h1.3v1.3h-1.3zM392.5 158.7h1.3v1.3h-1.3zM398.2 159.5h1.3v1.3h-1.3zM413.5 158.9h1.3v1.3h-1.3zM408.9 148.2h1.3v1.3h-1.3zM407.9 148.4h1.3v1.3h-1.3zM413.3 147.2h1.3v1.3h-1.3zM401.4 160.0h1.3v1.3h-1.3zM392.9 154.1h1.3v1.3h-1.3zM395.2 155.4h1.3v1.3h-1.3zM406.7 148.8h1.3v1.3h-1.3zM396.4 158.8h1.3v1.3h-1.3zM390.4 156.4h1.3v1.3h-1.3zM399.1 160.3h1.3v1.3h-1.3zM398.8 160.1h1.3v1.3h-1.3zM412.3 158.8h1.3v1.3h-1.3zM392.0 154.9h1.3v1.3h-1.3zM398.2 164.2h1.3v1.3h-1.3zM410.6 147.5h1.3v1.3h-1.3zM395.4 157.8h1.3v1.3h-1.3zM393.5 157.0h1.3v1.3h-1.3zM395.9 155.6h1.3v1.3h-1.3zM399.8 162.3h1.3v1.3h-1.3zM393.6 156.6h1.3v1.3h-1.3zM393.4 154.8h1.3v1.3h-1.3zM394.6 157.3h1.3v1.3h-1.3zM396.5 157.7h1.3v1.3h-1.3zM396.5 157.5h1.3v1.3h-1.3zM395.5 157.6h1.3v1.3h-1.3zM407.3 148.9h1.3v1.3h-1.3zM390.4 154.8h1.3v1.3h-1.3zM398.3 158.0h1.3v1.3h-1.3zM393.7 154.7h1.3v1.3h-1.3zM397.2 152.0h1.3v1.3h-1.3zM392.1 154.9h1.3v1.3h-1.3zM393.5 155.7h1.3v1.3h-1.3zM392.6 150.1h1.3v1.3h-1.3zM392.0 155.1h1.3v1.3h-1.3zM413.2 151.9h1.3v1.3h-1.3zM394.8 158.8h1.3v1.3h-1.3zM395.9 154.2h1.3v1.3h-1.3zM408.8 148.4h1.3v1.3h-1.3zM402.2 148.2h1.3v1.3h-1.3zM405.3 148.4h1.3v1.3h-1.3zM409.6 163.9h1.3v1.3h-1.3zM394.3 154.8h1.3v1.3h-1.3zM404.0 78.5h1.3v1.3h-1.3zM413.3 157.2h1.3v1.3h-1.3zM390.5 155.2h1.3v1.3h-1.3zM408.0 162.4h1.3v1.3h-1.3zM398.9 150.2h1.3v1.3h-1.3zM397.6 159.5h1.3v1.3h-1.3zM398.6 150.1h1.3v1.3h-1.3zM409.1 161.2h1.3v1.3h-1.3zM395.5 156.0h1.3v1.3h-1.3zM392.1 158.4h1.3v1.3h-1.3zM404.8 148.8h1.3v1.3h-1.3zM403.9 78.9h1.3v1.3h-1.3zM394.0 148.0h1.3v1.3h-1.3zM393.3 154.6h1.3v1.3h-1.3zM403.1 67.0h1.3v1.3h-1.3zM400.1 73.6h1.3v1.3h-1.3zM404.8 71.6h1.3v1.3h-1.3zM393.5 155.0h1.3v1.3h-1.3zM406.2 75.8h1.3v1.3h-1.3zM395.3 159.7h1.3v1.3h-1.3zM391.0 154.3h1.3v1.3h-1.3zM404.1 76.9h1.3v1.3h-1.3zM401.6 77.2h1.3v1.3h-1.3zM391.1 159.3h1.3v1.3h-1.3zM398.2 151.2h1.3v1.3h-1.3zM410.2 160.0h1.3v1.3h-1.3zM410.9 160.4h1.3v1.3h-1.3zM410.1 161.0h1.3v1.3h-1.3zM410.8 160.1h1.3v1.3h-1.3zM411.6 159.1h1.3v1.3h-1.3zM411.5 159.9h1.3v1.3h-1.3zM397.6 156.0h1.3v1.3h-1.3zM397.4 156.7h1.3v1.3h-1.3zM397.7 156.5h1.3v1.3h-1.3zM397.4 156.1h1.3v1.3h-1.3zM397.2 156.6h1.3v1.3h-1.3zM397.4 156.6h1.3v1.3h-1.3zM400.3 151.4h1.3v1.3h-1.3zM400.7 151.0h1.3v1.3h-1.3zM400.6 151.6h1.3v1.3h-1.3zM400.9 151.2h1.3v1.3h-1.3zM412.0 151.3h1.3v1.3h-1.3zM411.4 152.0h1.3v1.3h-1.3zM412.0 151.1h1.3v1.3h-1.3zM412.0 151.7h1.3v1.3h-1.3zM411.8 151.9h1.3v1.3h-1.3zM411.9 151.7h1.3v1.3h-1.3zM411.7 151.8h1.3v1.3h-1.3zM403.5 160.8h1.3v1.3h-1.3zM403.1 160.8h1.3v1.3h-1.3zM403.5 160.7h1.3v1.3h-1.3zM403.3 160.3h1.3v1.3h-1.3zM404.0 160.5h1.3v1.3h-1.3zM404.0 160.7h1.3v1.3h-1.3zM403.9 160.9h1.3v1.3h-1.3zM397.3 154.3h1.3v1.3h-1.3zM397.9 154.2h1.3v1.3h-1.3zM398.6 158.0h1.3v1.3h-1.3zM398.6 157.4h1.3v1.3h-1.3zM398.8 158.0h1.3v1.3h-1.3zM399.8 158.8h1.3v1.3h-1.3zM399.0 158.1h1.3v1.3h-1.3zM399.3 158.6h1.3v1.3h-1.3zM399.6 158.0h1.3v1.3h-1.3zM400.0 158.9h1.3v1.3h-1.3zM399.9 158.5h1.3v1.3h-1.3zM410.0 150.9h1.3v1.3h-1.3zM397.6 155.4h1.3v1.3h-1.3zM397.9 155.9h1.3v1.3h-1.3zM397.9 155.5h1.3v1.3h-1.3zM397.6 155.2h1.3v1.3h-1.3zM397.9 155.4h1.3v1.3h-1.3zM397.3 155.6h1.3v1.3h-1.3zM412.9 152.1h1.3v1.3h-1.3zM412.2 152.2h1.3v1.3h-1.3zM412.6 152.8h1.3v1.3h-1.3zM412.8 152.1h1.3v1.3h-1.3zM407.3 149.0h1.3v1.3h-1.3zM407.2 149.3h1.3v1.3h-1.3zM407.4 149.7h1.3v1.3h-1.3zM407.8 149.4h1.3v1.3h-1.3zM407.5 150.0h1.3v1.3h-1.3zM401.4 151.4h1.3v1.3h-1.3zM401.4 151.8h1.3v1.3h-1.3zM401.3 151.4h1.3v1.3h-1.3zM401.5 151.5h1.3v1.3h-1.3zM401.7 151.5h1.3v1.3h-1.3zM413.4 155.0h1.3v1.3h-1.3zM413.5 155.7h1.3v1.3h-1.3zM413.4 155.1h1.3v1.3h-1.3zM413.4 156.0h1.3v1.3h-1.3zM413.7 155.7h1.3v1.3h-1.3zM408.1 161.8h1.3v1.3h-1.3zM408.1 161.7h1.3v1.3h-1.3zM408.1 161.6h1.3v1.3h-1.3zM408.2 161.3h1.3v1.3h-1.3zM400.0 159.2h1.3v1.3h-1.3zM400.3 159.7h1.3v1.3h-1.3zM400.5 160.0h1.3v1.3h-1.3zM400.5 159.6h1.3v1.3h-1.3zM413.3 154.8h1.3v1.3h-1.3zM413.7 154.6h1.3v1.3h-1.3zM413.8 154.1h1.3v1.3h-1.3zM413.7 154.4h1.3v1.3h-1.3zM406.3 161.2h1.3v1.3h-1.3zM407.0 161.7h1.3v1.3h-1.3z" fill="rgb(96,153,196)" fill-opacity="0.78"/>
<path d="M399.1 152.0h1.3v1.3h-1.3zM399.3 152.2h1.3v1.3h-1.3zM399.9 152.1h1.3v1.3h-1.3zM399.8 152.4h1.3v1.3h-1.3zM399.5 152.8h1.3v1.3h-1.3zM399.5 152.4h1.3v1.3h-1.3zM399.1 152.4h1.3v1.3h-1.3zM399.3 152.6h1.3v1.3h-1.3zM404.7 149.0h1.3v1.3h-1.3zM404.0 149.0h1.3v1.3h-1.3zM404.6 149.8h1.3v1.3h-1.3zM404.1 149.5h1.3v1.3h-1.3zM404.7 149.9h1.3v1.3h-1.3zM404.1 149.2h1.3v1.3h-1.3zM404.0 160.1h1.3v1.3h-1.3zM404.1 160.6h1.3v1.3h-1.3zM404.1 160.6h1.3v1.3h-1.3zM404.8 160.3h1.3v1.3h-1.3zM404.7 160.9h1.3v1.3h-1.3zM404.6 161.0h1.3v1.3h-1.3zM404.8 160.9h1.3v1.3h-1.3zM404.7 160.1h1.3v1.3h-1.3zM398.9 153.6h1.3v1.3h-1.3zM399.0 154.0h1.3v1.3h-1.3zM398.4 153.1h1.3v1.3h-1.3zM398.8 153.2h1.3v1.3h-1.3zM398.0 153.1h1.3v1.3h-1.3zM398.3 153.6h1.3v1.3h-1.3zM398.6 153.6h1.3v1.3h-1.3zM398.6 153.5h1.3v1.3h-1.3zM398.5 153.5h1.3v1.3h-1.3zM398.9 156.9h1.3v1.3h-1.3zM398.6 156.8h1.3v1.3h-1.3zM400.0 157.0h1.3v1.3h-1.3zM399.4 157.8h1.3v1.3h-1.3zM399.7 157.4h1.3v1.3h-1.3zM407.4 161.5h1.3v1.3h-1.3zM407.3 161.0h1.3v1.3h-1.3zM407.7 161.8h1.3v1.3h-1.3zM407.6 161.6h1.3v1.3h-1.3zM407.6 161.6h1.3v1.3h-1.3zM407.7 161.7h1.3v1.3h-1.3zM407.3 161.4h1.3v1.3h-1.3zM403.6 150.5h1.3v1.3h-1.3zM404.0 150.3h1.3v1.3h-1.3zM403.9 150.4h1.3v1.3h-1.3zM403.4 150.5h1.3v1.3h-1.3zM413.0 157.5h1.3v1.3h-1.3zM412.9 157.1h1.3v1.3h-1.3zM412.2 157.1h1.3v1.3h-1.3zM401.4 159.8h1.3v1.3h-1.3zM401.5 159.7h1.3v1.3h-1.3zM401.4 159.1h1.3v1.3h-1.3zM401.2 159.5h1.3v1.3h-1.3zM401.5 159.3h1.3v1.3h-1.3zM401.9 159.9h1.3v1.3h-1.3zM401.2 159.1h1.3v1.3h-1.3zM401.1 159.9h1.3v1.3h-1.3zM401.4 159.6h1.3v1.3h-1.3zM401.3 159.2h1.3v1.3h-1.3zM402.1 151.3h1.3v1.3h-1.3zM402.4 151.8h1.3v1.3h-1.3zM402.2 151.1h1.3v1.3h-1.3zM402.6 151.2h1.3v1.3h-1.3zM402.4 151.6h1.3v1.3h-1.3zM402.3 151.4h1.3v1.3h-1.3zM406.4 149.9h1.3v1.3h-1.3zM406.1 149.1h1.3v1.3h-1.3zM406.9 149.2h1.3v1.3h-1.3zM406.3 149.8h1.3v1.3h-1.3zM400.2 152.5h1.3v1.3h-1.3zM400.7 152.3h1.3v1.3h-1.3zM400.4 152.5h1.3v1.3h-1.3zM400.5 152.6h1.3v1.3h-1.3zM400.8 152.9h1.3v1.3h-1.3zM400.8 152.7h1.3v1.3h-1.3zM400.3 152.8h1.3v1.3h-1.3zM400.9 158.3h1.3v1.3h-1.3zM400.0 158.0h1.3v1.3h-1.3zM400.3 158.8h1.3v1.3h-1.3zM400.8 158.3h1.3v1.3h-1.3zM405.0 149.1h1.3v1.3h-1.3zM405.7 149.5h1.3v1.3h-1.3zM405.9 149.5h1.3v1.3h-1.3zM405.2 149.2h1.3v1.3h-1.3zM406.0 150.0h1.3v1.3h-1.3zM405.4 149.0h1.3v1.3h-1.3zM405.4 149.3h1.3v1.3h-1.3zM405.6 149.7h1.3v1.3h-1.3zM398.9 155.5h1.3v1.3h-1.3zM398.3 155.3h1.3v1.3h-1.3zM398.5 155.2h1.3v1.3h-1.3zM398.5 156.0h1.3v1.3h-1.3zM398.5 155.8h1.3v1.3h-1.3zM398.3 155.8h1.3v1.3h-1.3zM410.3 151.5h1.3v1.3h-1.3zM410.6 151.5h1.3v1.3h-1.3zM410.0 151.0h1.3v1.3h-1.3zM410.1 151.4h1.3v1.3h-1.3zM402.9 159.6h1.3v1.3h-1.3zM402.1 159.8h1.3v1.3h-1.3zM402.2 159.9h1.3v1.3h-1.3zM402.3 159.1h1.3v1.3h-1.3zM402.6 159.9h1.3v1.3h-1.3zM398.1 154.7h1.3v1.3h-1.3zM398.5 154.5h1.3v1.3h-1.3zM398.5 154.9h1.3v1.3h-1.3zM398.1 154.9h1.3v1.3h-1.3zM398.1 154.9h1.3v1.3h-1.3zM398.8 154.2h1.3v1.3h-1.3z" fill="rgb(92,168,178)" fill-opacity="0.78"/>
<path d="M408.6 150.7h1.3v1.3h-1.3zM408.0 150.8h1.3v1.3h-1.3zM409.0 150.4h1.3v1.3h-1.3zM408.5 150.1h1.3v1.3h-1.3zM408.8 150.3h1.3v1.3h-1.3zM408.8 150.1h1.3v1.3h-1.3zM399.9 156.7h1.3v1.3h-1.3zM399.3 156.2h1.3v1.3h-1.3zM399.4 156.2h1.3v1.3h-1.3zM399.5 156.7h1.3v1.3h-1.3zM399.3 156.2h1.3v1.3h-1.3zM399.5 156.2h1.3v1.3h-1.3zM401.1 152.1h1.3v1.3h-1.3zM401.1 152.6h1.3v1.3h-1.3zM401.6 152.2h1.3v1.3h-1.3zM401.4 152.8h1.3v1.3h-1.3zM401.5 152.8h1.3v1.3h-1.3zM399.7 153.8h1.3v1.3h-1.3zM399.1 153.2h1.3v1.3h-1.3zM399.2 153.5h1.3v1.3h-1.3zM399.4 153.0h1.3v1.3h-1.3zM399.6 153.2h1.3v1.3h-1.3zM412.7 153.8h1.3v1.3h-1.3zM413.0 153.4h1.3v1.3h-1.3zM412.7 153.8h1.3v1.3h-1.3zM412.3 153.6h1.3v1.3h-1.3zM412.5 154.0h1.3v1.3h-1.3zM412.8 153.3h1.3v1.3h-1.3zM412.1 153.5h1.3v1.3h-1.3zM411.6 158.3h1.3v1.3h-1.3zM411.3 158.2h1.3v1.3h-1.3zM411.3 158.3h1.3v1.3h-1.3zM405.0 160.5h1.3v1.3h-1.3zM405.5 160.3h1.3v1.3h-1.3zM405.7 160.7h1.3v1.3h-1.3zM400.9 157.3h1.3v1.3h-1.3zM400.4 157.2h1.3v1.3h-1.3zM400.8 157.4h1.3v1.3h-1.3zM400.8 158.0h1.3v1.3h-1.3zM400.8 157.4h1.3v1.3h-1.3zM409.9 161.0h1.3v1.3h-1.3zM409.6 160.6h1.3v1.3h-1.3zM409.4 160.4h1.3v1.3h-1.3zM409.1 160.4h1.3v1.3h-1.3zM403.8 159.4h1.3v1.3h-1.3zM400.4 153.6h1.3v1.3h-1.3zM400.4 153.3h1.3v1.3h-1.3zM400.8 153.4h1.3v1.3h-1.3zM400.3 153.7h1.3v1.3h-1.3zM400.0 153.9h1.3v1.3h-1.3zM411.5 152.1h1.3v1.3h-1.3zM411.3 152.4h1.3v1.3h-1.3zM411.9 152.9h1.3v1.3h-1.3zM399.2 156.0h1.3v1.3h-1.3zM399.5 155.0h1.3v1.3h-1.3zM399.9 155.5h1.3v1.3h-1.3zM399.4 155.6h1.3v1.3h-1.3zM399.3 155.8h1.3v1.3h-1.3zM399.9 155.9h1.3v1.3h-1.3zM399.1 155.7h1.3v1.3h-1.3zM399.7 155.6h1.3v1.3h-1.3zM399.0 155.3h1.3v1.3h-1.3zM412.3 156.4h1.3v1.3h-1.3zM412.5 156.1h1.3v1.3h-1.3zM412.2 156.4h1.3v1.3h-1.3zM412.2 156.8h1.3v1.3h-1.3zM412.1 156.2h1.3v1.3h-1.3zM412.4 156.8h1.3v1.3h-1.3zM412.7 156.2h1.3v1.3h-1.3zM412.6 156.3h1.3v1.3h-1.3zM412.5 156.5h1.3v1.3h-1.3zM412.6 156.5h1.3v1.3h-1.3zM412.2 156.6h1.3v1.3h-1.3zM403.3 152.0h1.3v1.3h-1.3zM403.2 151.2h1.3v1.3h-1.3zM403.5 151.8h1.3v1.3h-1.3zM403.9 152.0h1.3v1.3h-1.3zM403.8 151.6h1.3v1.3h-1.3zM403.2 151.8h1.3v1.3h-1.3zM403.2 151.1h1.3v1.3h-1.3zM403.2 151.6h1.3v1.3h-1.3zM401.1 158.8h1.3v1.3h-1.3zM401.1 158.2h1.3v1.3h-1.3zM401.4 158.7h1.3v1.3h-1.3zM401.5 158.5h1.3v1.3h-1.3zM401.9 158.8h1.3v1.3h-1.3zM401.7 158.7h1.3v1.3h-1.3zM399.7 154.7h1.3v1.3h-1.3zM399.5 154.1h1.3v1.3h-1.3zM399.6 154.9h1.3v1.3h-1.3zM399.8 155.0h1.3v1.3h-1.3zM399.5 154.0h1.3v1.3h-1.3zM399.6 154.6h1.3v1.3h-1.3zM399.5 154.1h1.3v1.3h-1.3zM399.4 154.9h1.3v1.3h-1.3zM402.0 152.5h1.3v1.3h-1.3zM402.6 153.0h1.3v1.3h-1.3zM402.2 152.6h1.3v1.3h-1.3zM402.2 152.1h1.3v1.3h-1.3zM410.6 159.2h1.3v1.3h-1.3zM410.6 160.0h1.3v1.3h-1.3zM410.2 159.5h1.3v1.3h-1.3zM410.4 159.1h1.3v1.3h-1.3zM410.5 159.8h1.3v1.3h-1.3zM410.5 159.3h1.3v1.3h-1.3zM410.9 159.2h1.3v1.3h-1.3z" fill="rgb(96,178,148)" fill-opacity="0.78"/>
<path d="M404.1 150.6h1.3v1.3h-1.3zM404.3 150.8h1.3v1.3h-1.3zM404.7 150.7h1.3v1.3h-1.3zM404.5 150.5h1.3v1.3h-1.3zM404.8 150.6h1.3v1.3h-1.3zM404.2 150.2h1.3v1.3h-1.3zM404.9 150.3h1.3v1.3h-1.3zM400.0 156.3h1.3v1.3h-1.3zM400.0 156.3h1.3v1.3h-1.3zM400.2 156.0h1.3v1.3h-1.3zM400.9 156.6h1.3v1.3h-1.3zM400.3 156.3h1.3v1.3h-1.3zM401.6 153.9h1.3v1.3h-1.3zM401.9 153.2h1.3v1.3h-1.3zM401.8 153.9h1.3v1.3h-1.3zM401.2 153.9h1.3v1.3h-1.3zM407.9 150.4h1.3v1.3h-1.3zM407.3 150.5h1.3v1.3h-1.3zM407.9 150.5h1.3v1.3h-1.3zM412.4 154.3h1.3v1.3h-1.3zM412.1 154.6h1.3v1.3h-1.3zM412.4 154.4h1.3v1.3h-1.3zM412.3 154.8h1.3v1.3h-1.3zM412.9 154.0h1.3v1.3h-1.3zM400.3 154.7h1.3v1.3h-1.3zM400.3 154.2h1.3v1.3h-1.3zM401.0 154.4h1.3v1.3h-1.3zM404.9 159.3h1.3v1.3h-1.3zM404.7 159.8h1.3v1.3h-1.3zM404.9 159.3h1.3v1.3h-1.3zM404.6 159.8h1.3v1.3h-1.3zM412.4 155.4h1.3v1.3h-1.3zM412.2 155.1h1.3v1.3h-1.3zM412.0 155.6h1.3v1.3h-1.3zM412.8 155.3h1.3v1.3h-1.3zM412.4 155.4h1.3v1.3h-1.3zM412.8 155.4h1.3v1.3h-1.3zM400.9 155.5h1.3v1.3h-1.3zM401.0 155.7h1.3v1.3h-1.3zM401.0 155.3h1.3v1.3h-1.3zM400.2 155.0h1.3v1.3h-1.3zM400.0 155.9h1.3v1.3h-1.3zM400.4 155.4h1.3v1.3h-1.3zM406.5 160.6h1.3v1.3h-1.3zM406.6 160.3h1.3v1.3h-1.3zM406.9 160.4h1.3v1.3h-1.3zM406.4 160.1h1.3v1.3h-1.3zM406.8 161.0h1.3v1.3h-1.3zM406.7 160.6h1.3v1.3h-1.3zM406.7 160.9h1.3v1.3h-1.3zM406.1 160.6h1.3v1.3h-1.3zM406.4 160.7h1.3v1.3h-1.3zM406.5 160.4h1.3v1.3h-1.3zM409.1 151.9h1.3v1.3h-1.3zM409.9 151.9h1.3v1.3h-1.3zM409.6 151.2h1.3v1.3h-1.3zM410.0 151.7h1.3v1.3h-1.3zM409.9 151.8h1.3v1.3h-1.3zM409.6 151.3h1.3v1.3h-1.3z" fill="rgb(110,184,106)" fill-opacity="0.78"/>
<path d="M402.6 158.5h1.3v1.3h-1.3zM402.3 158.4h1.3v1.3h-1.3zM402.5 159.0h1.3v1.3h-1.3zM402.5 159.0h1.3v1.3h-1.3zM402.2 158.8h1.3v1.3h-1.3zM408.8 160.3h1.3v1.3h-1.3zM408.3 160.3h1.3v1.3h-1.3zM408.0 160.5h1.3v1.3h-1.3zM408.7 160.3h1.3v1.3h-1.3zM408.2 160.2h1.3v1.3h-1.3zM408.6 160.4h1.3v1.3h-1.3zM401.8 157.5h1.3v1.3h-1.3zM401.9 157.8h1.3v1.3h-1.3zM406.3 150.8h1.3v1.3h-1.3zM406.6 150.4h1.3v1.3h-1.3zM406.7 150.4h1.3v1.3h-1.3zM406.1 150.7h1.3v1.3h-1.3zM406.1 150.6h1.3v1.3h-1.3zM406.9 150.9h1.3v1.3h-1.3zM405.6 150.1h1.3v1.3h-1.3zM405.1 151.0h1.3v1.3h-1.3zM405.4 150.9h1.3v1.3h-1.3zM405.9 150.2h1.3v1.3h-1.3zM405.1 150.3h1.3v1.3h-1.3zM405.7 150.5h1.3v1.3h-1.3zM405.4 150.5h1.3v1.3h-1.3zM405.2 150.9h1.3v1.3h-1.3zM405.1 151.0h1.3v1.3h-1.3zM405.8 150.3h1.3v1.3h-1.3zM401.6 154.9h1.3v1.3h-1.3zM403.9 152.8h1.3v1.3h-1.3zM403.3 152.2h1.3v1.3h-1.3zM403.1 152.9h1.3v1.3h-1.3zM407.9 160.9h1.3v1.3h-1.3zM407.0 160.2h1.3v1.3h-1.3zM407.8 160.5h1.3v1.3h-1.3zM407.9 160.3h1.3v1.3h-1.3zM408.0 160.6h1.3v1.3h-1.3zM407.3 160.4h1.3v1.3h-1.3zM407.2 161.0h1.3v1.3h-1.3zM411.8 157.7h1.3v1.3h-1.3zM411.5 157.7h1.3v1.3h-1.3zM411.8 157.4h1.3v1.3h-1.3zM411.8 157.1h1.3v1.3h-1.3zM411.1 157.1h1.3v1.3h-1.3zM411.9 158.0h1.3v1.3h-1.3zM411.2 157.7h1.3v1.3h-1.3zM402.8 153.4h1.3v1.3h-1.3zM402.1 153.0h1.3v1.3h-1.3zM402.4 153.7h1.3v1.3h-1.3zM402.0 153.5h1.3v1.3h-1.3zM402.3 153.4h1.3v1.3h-1.3zM402.5 153.6h1.3v1.3h-1.3zM402.2 153.7h1.3v1.3h-1.3zM402.1 153.6h1.3v1.3h-1.3zM404.1 151.5h1.3v1.3h-1.3zM404.9 151.7h1.3v1.3h-1.3zM404.6 151.6h1.3v1.3h-1.3zM405.0 151.0h1.3v1.3h-1.3zM404.1 151.5h1.3v1.3h-1.3zM405.0 159.9h1.3v1.3h-1.3zM405.0 159.8h1.3v1.3h-1.3zM405.5 159.5h1.3v1.3h-1.3zM405.0 159.6h1.3v1.3h-1.3zM405.6 159.2h1.3v1.3h-1.3zM405.8 159.2h1.3v1.3h-1.3zM411.7 153.8h1.3v1.3h-1.3zM411.1 153.7h1.3v1.3h-1.3zM411.2 153.8h1.3v1.3h-1.3zM411.9 153.2h1.3v1.3h-1.3zM411.7 153.7h1.3v1.3h-1.3zM411.8 153.8h1.3v1.3h-1.3zM411.7 153.5h1.3v1.3h-1.3zM411.5 153.1h1.3v1.3h-1.3zM411.0 152.5h1.3v1.3h-1.3zM410.5 152.3h1.3v1.3h-1.3zM410.9 152.8h1.3v1.3h-1.3zM410.6 153.0h1.3v1.3h-1.3zM410.1 152.3h1.3v1.3h-1.3zM410.6 152.2h1.3v1.3h-1.3zM410.6 152.0h1.3v1.3h-1.3zM410.9 152.4h1.3v1.3h-1.3zM410.6 152.2h1.3v1.3h-1.3zM410.5 152.9h1.3v1.3h-1.3zM410.5 152.3h1.3v1.3h-1.3z" fill="rgb(124,190,67)" fill-opacity="0.78"/>
<path d="M401.9 156.6h1.3v1.3h-1.3zM401.8 157.0h1.3v1.3h-1.3zM401.7 156.3h1.3v1.3h-1.3zM401.7 156.7h1.3v1.3h-1.3zM401.3 156.8h1.3v1.3h-1.3zM401.3 156.8h1.3v1.3h-1.3zM401.6 155.1h1.3v1.3h-1.3zM401.9 155.8h1.3v1.3h-1.3zM401.3 155.5h1.3v1.3h-1.3zM401.5 155.6h1.3v1.3h-1.3zM401.5 155.5h1.3v1.3h-1.3zM401.6 155.1h1.3v1.3h-1.3zM408.5 151.1h1.3v1.3h-1.3zM408.1 151.6h1.3v1.3h-1.3zM408.2 151.8h1.3v1.3h-1.3zM408.9 151.6h1.3v1.3h-1.3zM408.1 151.2h1.3v1.3h-1.3zM408.7 151.2h1.3v1.3h-1.3zM403.4 158.1h1.3v1.3h-1.3zM403.2 158.0h1.3v1.3h-1.3zM403.9 158.1h1.3v1.3h-1.3zM403.8 158.9h1.3v1.3h-1.3zM403.4 158.2h1.3v1.3h-1.3zM403.1 158.6h1.3v1.3h-1.3zM403.2 158.6h1.3v1.3h-1.3zM410.8 158.3h1.3v1.3h-1.3zM410.2 158.4h1.3v1.3h-1.3zM410.2 158.5h1.3v1.3h-1.3zM410.7 158.3h1.3v1.3h-1.3zM410.3 158.4h1.3v1.3h-1.3zM410.6 158.3h1.3v1.3h-1.3zM410.1 159.0h1.3v1.3h-1.3zM410.7 158.5h1.3v1.3h-1.3zM410.3 158.5h1.3v1.3h-1.3zM409.2 159.3h1.3v1.3h-1.3zM409.7 159.2h1.3v1.3h-1.3zM409.1 159.5h1.3v1.3h-1.3zM409.8 159.6h1.3v1.3h-1.3zM409.6 159.5h1.3v1.3h-1.3zM409.0 159.1h1.3v1.3h-1.3zM409.8 159.0h1.3v1.3h-1.3zM409.9 159.7h1.3v1.3h-1.3zM411.7 156.9h1.3v1.3h-1.3zM411.1 156.9h1.3v1.3h-1.3zM411.4 156.8h1.3v1.3h-1.3zM411.6 156.3h1.3v1.3h-1.3zM411.7 156.8h1.3v1.3h-1.3zM412.0 156.2h1.3v1.3h-1.3zM411.2 156.1h1.3v1.3h-1.3zM412.0 156.5h1.3v1.3h-1.3z" fill="rgb(151,196,62)" fill-opacity="0.78"/>
<path d="M402.6 157.4h1.3v1.3h-1.3zM403.0 157.8h1.3v1.3h-1.3zM402.0 157.5h1.3v1.3h-1.3zM402.6 157.9h1.3v1.3h-1.3zM402.8 157.5h1.3v1.3h-1.3zM402.1 158.0h1.3v1.3h-1.3zM402.9 157.8h1.3v1.3h-1.3zM402.1 158.0h1.3v1.3h-1.3zM411.8 154.8h1.3v1.3h-1.3zM411.5 154.2h1.3v1.3h-1.3zM411.2 154.8h1.3v1.3h-1.3zM411.5 154.2h1.3v1.3h-1.3zM411.1 154.1h1.3v1.3h-1.3zM411.9 154.6h1.3v1.3h-1.3zM411.8 154.1h1.3v1.3h-1.3zM406.7 159.5h1.3v1.3h-1.3zM406.0 159.5h1.3v1.3h-1.3zM406.8 159.7h1.3v1.3h-1.3zM406.4 159.6h1.3v1.3h-1.3zM406.6 159.3h1.3v1.3h-1.3zM402.5 154.2h1.3v1.3h-1.3zM402.2 154.4h1.3v1.3h-1.3zM402.5 154.6h1.3v1.3h-1.3zM402.2 154.1h1.3v1.3h-1.3zM402.4 154.9h1.3v1.3h-1.3zM403.0 154.1h1.3v1.3h-1.3zM402.4 154.7h1.3v1.3h-1.3zM402.7 154.4h1.3v1.3h-1.3zM402.6 154.7h1.3v1.3h-1.3zM403.9 153.5h1.3v1.3h-1.3zM403.4 153.8h1.3v1.3h-1.3zM403.5 153.2h1.3v1.3h-1.3zM403.3 153.1h1.3v1.3h-1.3zM403.5 153.2h1.3v1.3h-1.3zM403.5 153.4h1.3v1.3h-1.3zM404.1 158.8h1.3v1.3h-1.3zM404.8 158.8h1.3v1.3h-1.3zM404.1 158.7h1.3v1.3h-1.3zM404.2 158.3h1.3v1.3h-1.3zM404.2 158.6h1.3v1.3h-1.3zM404.2 158.1h1.3v1.3h-1.3zM407.6 151.8h1.3v1.3h-1.3zM407.4 151.2h1.3v1.3h-1.3zM407.3 151.9h1.3v1.3h-1.3zM407.4 151.4h1.3v1.3h-1.3zM407.1 151.9h1.3v1.3h-1.3zM407.3 151.9h1.3v1.3h-1.3zM404.1 152.2h1.3v1.3h-1.3zM404.6 152.4h1.3v1.3h-1.3zM404.8 152.4h1.3v1.3h-1.3zM404.4 152.4h1.3v1.3h-1.3zM404.8 152.7h1.3v1.3h-1.3zM404.5 152.7h1.3v1.3h-1.3zM405.9 151.2h1.3v1.3h-1.3zM405.6 151.4h1.3v1.3h-1.3zM405.2 151.3h1.3v1.3h-1.3zM405.5 151.8h1.3v1.3h-1.3zM406.0 151.8h1.3v1.3h-1.3zM405.4 151.6h1.3v1.3h-1.3zM405.9 151.1h1.3v1.3h-1.3zM405.1 151.8h1.3v1.3h-1.3zM405.9 151.1h1.3v1.3h-1.3zM411.5 155.2h1.3v1.3h-1.3zM411.3 155.8h1.3v1.3h-1.3zM411.6 155.6h1.3v1.3h-1.3zM411.1 155.4h1.3v1.3h-1.3zM406.7 151.1h1.3v1.3h-1.3zM406.1 151.5h1.3v1.3h-1.3zM406.2 151.9h1.3v1.3h-1.3zM406.7 151.9h1.3v1.3h-1.3zM406.8 151.5h1.3v1.3h-1.3zM409.5 152.8h1.3v1.3h-1.3zM409.2 152.2h1.3v1.3h-1.3zM409.6 152.1h1.3v1.3h-1.3zM409.3 152.4h1.3v1.3h-1.3zM409.1 152.0h1.3v1.3h-1.3zM409.4 152.2h1.3v1.3h-1.3zM409.1 152.8h1.3v1.3h-1.3zM409.3 152.3h1.3v1.3h-1.3zM409.9 152.8h1.3v1.3h-1.3z" fill="rgb(178,202,57)" fill-opacity="0.78"/>
<path d="M407.9 159.9h1.3v1.3h-1.3zM407.7 159.2h1.3v1.3h-1.3zM407.0 159.4h1.3v1.3h-1.3zM407.3 159.0h1.3v1.3h-1.3zM407.7 159.3h1.3v1.3h-1.3zM407.6 159.6h1.3v1.3h-1.3zM407.4 159.7h1.3v1.3h-1.3zM408.9 159.7h1.3v1.3h-1.3zM408.4 159.2h1.3v1.3h-1.3zM408.7 159.8h1.3v1.3h-1.3zM408.2 160.0h1.3v1.3h-1.3zM408.6 159.3h1.3v1.3h-1.3zM408.7 159.0h1.3v1.3h-1.3zM408.3 159.1h1.3v1.3h-1.3zM408.4 159.2h1.3v1.3h-1.3zM408.7 159.3h1.3v1.3h-1.3zM408.1 159.1h1.3v1.3h-1.3zM408.1 159.2h1.3v1.3h-1.3zM408.7 159.2h1.3v1.3h-1.3zM408.1 159.1h1.3v1.3h-1.3zM408.2 159.6h1.3v1.3h-1.3zM408.6 159.8h1.3v1.3h-1.3zM410.8 153.3h1.3v1.3h-1.3zM410.4 153.8h1.3v1.3h-1.3zM410.2 154.0h1.3v1.3h-1.3zM410.6 153.6h1.3v1.3h-1.3zM410.6 153.9h1.3v1.3h-1.3zM410.3 153.3h1.3v1.3h-1.3zM402.9 156.7h1.3v1.3h-1.3zM402.2 156.5h1.3v1.3h-1.3zM402.5 156.0h1.3v1.3h-1.3zM402.6 156.6h1.3v1.3h-1.3zM402.6 156.9h1.3v1.3h-1.3zM402.9 156.3h1.3v1.3h-1.3zM402.9 156.8h1.3v1.3h-1.3zM402.4 156.8h1.3v1.3h-1.3zM402.2 156.0h1.3v1.3h-1.3zM402.0 156.2h1.3v1.3h-1.3zM402.4 156.8h1.3v1.3h-1.3zM402.5 156.1h1.3v1.3h-1.3zM402.0 156.3h1.3v1.3h-1.3zM402.9 156.1h1.3v1.3h-1.3zM405.4 158.9h1.3v1.3h-1.3zM405.1 158.5h1.3v1.3h-1.3zM405.1 159.0h1.3v1.3h-1.3zM405.2 158.3h1.3v1.3h-1.3zM405.9 158.4h1.3v1.3h-1.3zM405.4 158.8h1.3v1.3h-1.3zM405.5 158.3h1.3v1.3h-1.3zM405.9 158.1h1.3v1.3h-1.3zM405.9 159.0h1.3v1.3h-1.3zM402.4 155.9h1.3v1.3h-1.3zM402.9 155.9h1.3v1.3h-1.3zM402.1 155.0h1.3v1.3h-1.3zM402.6 155.9h1.3v1.3h-1.3zM402.7 155.8h1.3v1.3h-1.3zM402.0 155.1h1.3v1.3h-1.3zM402.3 155.1h1.3v1.3h-1.3zM402.5 155.4h1.3v1.3h-1.3zM402.7 155.8h1.3v1.3h-1.3zM410.2 157.1h1.3v1.3h-1.3zM410.9 157.2h1.3v1.3h-1.3zM410.1 157.8h1.3v1.3h-1.3zM403.2 157.5h1.3v1.3h-1.3zM403.1 157.7h1.3v1.3h-1.3zM403.3 157.0h1.3v1.3h-1.3zM403.9 157.4h1.3v1.3h-1.3zM403.7 157.5h1.3v1.3h-1.3zM403.3 157.8h1.3v1.3h-1.3zM403.3 157.5h1.3v1.3h-1.3zM403.6 157.3h1.3v1.3h-1.3z" fill="rgb(205,207,52)" fill-opacity="0.78"/>
<path d="M405.1 152.9h1.3v1.3h-1.3zM405.2 152.9h1.3v1.3h-1.3zM405.6 152.3h1.3v1.3h-1.3zM405.6 152.3h1.3v1.3h-1.3zM405.8 152.7h1.3v1.3h-1.3zM405.6 152.6h1.3v1.3h-1.3zM405.2 152.1h1.3v1.3h-1.3zM405.8 152.8h1.3v1.3h-1.3zM404.8 153.4h1.3v1.3h-1.3zM404.5 153.9h1.3v1.3h-1.3zM404.4 153.5h1.3v1.3h-1.3zM408.8 152.8h1.3v1.3h-1.3zM408.8 152.6h1.3v1.3h-1.3zM408.5 152.8h1.3v1.3h-1.3zM408.6 152.9h1.3v1.3h-1.3zM408.4 152.1h1.3v1.3h-1.3zM408.2 152.2h1.3v1.3h-1.3zM408.8 152.7h1.3v1.3h-1.3zM408.8 152.5h1.3v1.3h-1.3zM408.8 152.7h1.3v1.3h-1.3zM409.0 152.2h1.3v1.3h-1.3zM403.3 154.4h1.3v1.3h-1.3zM403.1 154.8h1.3v1.3h-1.3zM403.4 154.6h1.3v1.3h-1.3zM403.9 154.9h1.3v1.3h-1.3zM403.2 154.1h1.3v1.3h-1.3zM403.7 154.3h1.3v1.3h-1.3zM404.0 154.6h1.3v1.3h-1.3zM403.4 154.3h1.3v1.3h-1.3zM403.1 154.8h1.3v1.3h-1.3zM403.8 154.9h1.3v1.3h-1.3zM403.1 154.5h1.3v1.3h-1.3zM409.2 158.5h1.3v1.3h-1.3zM409.1 158.7h1.3v1.3h-1.3zM409.8 158.7h1.3v1.3h-1.3zM409.2 158.8h1.3v1.3h-1.3zM409.7 158.6h1.3v1.3h-1.3zM409.3 158.0h1.3v1.3h-1.3zM409.1 158.3h1.3v1.3h-1.3zM409.4 158.0h1.3v1.3h-1.3zM409.6 158.5h1.3v1.3h-1.3zM406.0 158.9h1.3v1.3h-1.3zM406.2 158.1h1.3v1.3h-1.3zM406.4 158.1h1.3v1.3h-1.3zM406.6 158.3h1.3v1.3h-1.3zM406.9 158.9h1.3v1.3h-1.3zM406.3 158.6h1.3v1.3h-1.3zM406.6 158.3h1.3v1.3h-1.3zM406.9 158.4h1.3v1.3h-1.3zM410.8 154.7h1.3v1.3h-1.3zM410.4 155.0h1.3v1.3h-1.3zM410.2 154.9h1.3v1.3h-1.3zM410.2 154.4h1.3v1.3h-1.3zM410.5 154.8h1.3v1.3h-1.3zM410.7 154.1h1.3v1.3h-1.3zM410.3 154.8h1.3v1.3h-1.3zM410.3 154.5h1.3v1.3h-1.3z" fill="rgb(216,189,48)" fill-opacity="0.78"/>
<path d="M407.3 152.9h1.3v1.3h-1.3zM407.8 152.2h1.3v1.3h-1.3zM407.3 152.9h1.3v1.3h-1.3zM407.8 152.4h1.3v1.3h-1.3zM407.8 152.5h1.3v1.3h-1.3zM407.7 152.2h1.3v1.3h-1.3zM407.7 152.3h1.3v1.3h-1.3zM407.8 152.7h1.3v1.3h-1.3zM407.7 152.9h1.3v1.3h-1.3zM407.3 152.8h1.3v1.3h-1.3zM407.6 152.0h1.3v1.3h-1.3zM408.0 152.6h1.3v1.3h-1.3zM406.5 152.2h1.3v1.3h-1.3zM406.0 152.9h1.3v1.3h-1.3zM406.8 152.6h1.3v1.3h-1.3zM406.3 152.8h1.3v1.3h-1.3zM406.8 152.9h1.3v1.3h-1.3zM406.4 153.0h1.3v1.3h-1.3zM406.5 152.9h1.3v1.3h-1.3zM406.3 152.2h1.3v1.3h-1.3zM406.3 152.5h1.3v1.3h-1.3zM406.1 152.4h1.3v1.3h-1.3zM406.0 152.8h1.3v1.3h-1.3zM404.9 157.8h1.3v1.3h-1.3zM405.0 157.7h1.3v1.3h-1.3zM404.8 157.5h1.3v1.3h-1.3zM404.8 157.5h1.3v1.3h-1.3zM404.6 157.8h1.3v1.3h-1.3zM404.2 157.2h1.3v1.3h-1.3zM404.4 157.5h1.3v1.3h-1.3zM404.2 157.2h1.3v1.3h-1.3zM404.9 157.8h1.3v1.3h-1.3zM404.8 157.9h1.3v1.3h-1.3zM410.7 156.7h1.3v1.3h-1.3zM410.2 156.5h1.3v1.3h-1.3zM410.2 156.1h1.3v1.3h-1.3zM410.3 156.7h1.3v1.3h-1.3zM410.1 156.5h1.3v1.3h-1.3zM411.0 156.5h1.3v1.3h-1.3zM410.9 156.0h1.3v1.3h-1.3zM410.0 156.2h1.3v1.3h-1.3zM410.1 156.2h1.3v1.3h-1.3zM410.5 156.1h1.3v1.3h-1.3zM410.3 156.2h1.3v1.3h-1.3zM410.1 156.3h1.3v1.3h-1.3zM409.1 153.8h1.3v1.3h-1.3zM409.0 153.7h1.3v1.3h-1.3zM409.6 153.0h1.3v1.3h-1.3zM409.9 153.9h1.3v1.3h-1.3zM409.2 153.7h1.3v1.3h-1.3zM409.3 153.6h1.3v1.3h-1.3zM409.9 153.3h1.3v1.3h-1.3zM410.8 155.4h1.3v1.3h-1.3zM410.4 155.3h1.3v1.3h-1.3zM410.7 155.7h1.3v1.3h-1.3zM410.1 155.3h1.3v1.3h-1.3zM410.8 155.9h1.3v1.3h-1.3zM410.3 155.7h1.3v1.3h-1.3zM410.2 155.1h1.3v1.3h-1.3zM410.5 155.5h1.3v1.3h-1.3zM403.1 156.1h1.3v1.3h-1.3zM403.2 157.0h1.3v1.3h-1.3zM403.3 156.5h1.3v1.3h-1.3zM404.0 156.5h1.3v1.3h-1.3zM403.7 156.2h1.3v1.3h-1.3zM403.2 156.6h1.3v1.3h-1.3zM403.9 156.8h1.3v1.3h-1.3zM407.4 158.7h1.3v1.3h-1.3zM407.9 158.8h1.3v1.3h-1.3zM407.7 158.7h1.3v1.3h-1.3zM407.5 158.3h1.3v1.3h-1.3zM407.7 158.0h1.3v1.3h-1.3zM407.7 158.1h1.3v1.3h-1.3zM403.8 155.7h1.3v1.3h-1.3zM403.2 155.5h1.3v1.3h-1.3zM403.2 155.1h1.3v1.3h-1.3zM403.3 155.2h1.3v1.3h-1.3zM404.0 155.9h1.3v1.3h-1.3zM403.2 155.9h1.3v1.3h-1.3zM403.2 155.1h1.3v1.3h-1.3zM408.1 158.0h1.3v1.3h-1.3zM408.1 158.9h1.3v1.3h-1.3zM408.1 158.8h1.3v1.3h-1.3zM408.7 158.2h1.3v1.3h-1.3zM408.8 158.6h1.3v1.3h-1.3zM408.4 158.7h1.3v1.3h-1.3zM408.0 158.3h1.3v1.3h-1.3zM408.2 158.1h1.3v1.3h-1.3zM409.0 158.8h1.3v1.3h-1.3zM408.8 158.1h1.3v1.3h-1.3zM408.6 158.1h1.3v1.3h-1.3zM405.9 153.9h1.3v1.3h-1.3zM405.5 153.2h1.3v1.3h-1.3zM405.7 153.1h1.3v1.3h-1.3zM405.6 153.1h1.3v1.3h-1.3zM405.6 153.3h1.3v1.3h-1.3zM405.7 153.2h1.3v1.3h-1.3zM405.3 153.9h1.3v1.3h-1.3zM405.3 153.6h1.3v1.3h-1.3zM405.8 153.0h1.3v1.3h-1.3zM405.1 153.1h1.3v1.3h-1.3zM405.7 153.7h1.3v1.3h-1.3z" fill="rgb(226,169,45)" fill-opacity="0.78"/>
<path d="M405.9 157.7h1.3v1.3h-1.3zM405.0 157.5h1.3v1.3h-1.3zM405.7 157.1h1.3v1.3h-1.3zM405.9 157.6h1.3v1.3h-1.3zM405.1 157.3h1.3v1.3h-1.3zM405.4 157.9h1.3v1.3h-1.3zM404.8 154.1h1.3v1.3h-1.3zM404.5 154.1h1.3v1.3h-1.3zM404.8 154.2h1.3v1.3h-1.3zM404.9 154.2h1.3v1.3h-1.3zM404.7 154.4h1.3v1.3h-1.3zM405.0 154.6h1.3v1.3h-1.3zM404.4 154.4h1.3v1.3h-1.3zM404.5 154.6h1.3v1.3h-1.3zM404.6 154.7h1.3v1.3h-1.3zM404.6 155.0h1.3v1.3h-1.3zM409.2 157.1h1.3v1.3h-1.3zM409.3 157.3h1.3v1.3h-1.3zM410.0 157.0h1.3v1.3h-1.3zM409.0 157.0h1.3v1.3h-1.3zM409.2 157.7h1.3v1.3h-1.3zM409.3 158.0h1.3v1.3h-1.3zM409.1 157.8h1.3v1.3h-1.3zM409.4 157.6h1.3v1.3h-1.3zM409.1 157.2h1.3v1.3h-1.3zM408.7 153.5h1.3v1.3h-1.3zM408.5 153.4h1.3v1.3h-1.3zM408.0 153.7h1.3v1.3h-1.3zM408.7 153.3h1.3v1.3h-1.3zM408.1 153.2h1.3v1.3h-1.3zM408.8 153.5h1.3v1.3h-1.3zM408.4 153.3h1.3v1.3h-1.3zM408.2 153.7h1.3v1.3h-1.3zM408.8 153.8h1.3v1.3h-1.3z" fill="rgb(236,150,42)" fill-opacity="0.78"/>
<path d="M407.0 154.0h1.3v1.3h-1.3zM407.0 153.8h1.3v1.3h-1.3zM406.6 153.6h1.3v1.3h-1.3zM406.9 153.2h1.3v1.3h-1.3zM406.0 153.9h1.3v1.3h-1.3zM406.4 153.4h1.3v1.3h-1.3zM406.3 153.4h1.3v1.3h-1.3zM406.5 153.5h1.3v1.3h-1.3zM406.0 154.0h1.3v1.3h-1.3zM406.4 153.7h1.3v1.3h-1.3zM406.3 153.5h1.3v1.3h-1.3zM406.8 157.3h1.3v1.3h-1.3zM406.1 157.9h1.3v1.3h-1.3zM406.3 157.5h1.3v1.3h-1.3zM406.8 157.9h1.3v1.3h-1.3zM406.6 157.7h1.3v1.3h-1.3zM406.3 157.2h1.3v1.3h-1.3zM406.6 157.2h1.3v1.3h-1.3zM407.0 157.1h1.3v1.3h-1.3zM406.0 157.9h1.3v1.3h-1.3zM406.1 157.4h1.3v1.3h-1.3zM404.8 157.0h1.3v1.3h-1.3zM404.3 156.1h1.3v1.3h-1.3zM404.5 157.0h1.3v1.3h-1.3zM404.9 156.2h1.3v1.3h-1.3zM404.4 156.5h1.3v1.3h-1.3zM404.5 156.6h1.3v1.3h-1.3zM404.5 156.7h1.3v1.3h-1.3zM404.4 156.3h1.3v1.3h-1.3zM404.5 157.0h1.3v1.3h-1.3zM404.1 156.1h1.3v1.3h-1.3zM404.6 156.7h1.3v1.3h-1.3zM404.9 156.6h1.3v1.3h-1.3zM407.8 153.9h1.3v1.3h-1.3zM407.0 153.4h1.3v1.3h-1.3zM407.8 153.2h1.3v1.3h-1.3zM407.9 153.9h1.3v1.3h-1.3zM407.9 153.9h1.3v1.3h-1.3zM407.9 153.1h1.3v1.3h-1.3zM407.7 153.4h1.3v1.3h-1.3zM407.8 153.0h1.3v1.3h-1.3zM409.4 154.8h1.3v1.3h-1.3zM409.4 154.0h1.3v1.3h-1.3zM409.6 154.8h1.3v1.3h-1.3zM409.3 154.9h1.3v1.3h-1.3zM409.6 154.8h1.3v1.3h-1.3zM409.9 154.1h1.3v1.3h-1.3zM409.3 154.4h1.3v1.3h-1.3zM409.1 154.4h1.3v1.3h-1.3zM409.7 154.5h1.3v1.3h-1.3zM409.8 154.0h1.3v1.3h-1.3zM409.9 154.9h1.3v1.3h-1.3zM409.8 154.2h1.3v1.3h-1.3zM409.7 154.7h1.3v1.3h-1.3zM409.9 154.7h1.3v1.3h-1.3zM409.6 154.3h1.3v1.3h-1.3zM404.9 155.7h1.3v1.3h-1.3zM404.4 156.0h1.3v1.3h-1.3zM404.4 155.9h1.3v1.3h-1.3zM404.6 155.2h1.3v1.3h-1.3zM404.6 155.9h1.3v1.3h-1.3zM404.0 155.2h1.3v1.3h-1.3zM405.0 155.8h1.3v1.3h-1.3zM404.3 155.4h1.3v1.3h-1.3zM404.3 155.6h1.3v1.3h-1.3zM404.5 155.1h1.3v1.3h-1.3zM404.6 155.9h1.3v1.3h-1.3zM405.0 154.9h1.3v1.3h-1.3zM405.1 154.0h1.3v1.3h-1.3zM405.7 154.6h1.3v1.3h-1.3zM405.6 154.2h1.3v1.3h-1.3zM405.8 154.7h1.3v1.3h-1.3zM405.6 154.5h1.3v1.3h-1.3zM405.4 154.6h1.3v1.3h-1.3zM405.4 154.5h1.3v1.3h-1.3zM409.1 156.4h1.3v1.3h-1.3zM409.0 156.5h1.3v1.3h-1.3zM409.4 156.3h1.3v1.3h-1.3zM409.8 156.9h1.3v1.3h-1.3zM409.0 156.7h1.3v1.3h-1.3zM409.1 156.9h1.3v1.3h-1.3zM409.9 156.6h1.3v1.3h-1.3zM409.5 156.3h1.3v1.3h-1.3zM409.9 156.2h1.3v1.3h-1.3zM407.3 157.5h1.3v1.3h-1.3zM407.3 157.3h1.3v1.3h-1.3zM407.8 157.8h1.3v1.3h-1.3zM407.6 157.6h1.3v1.3h-1.3z" fill="rgb(234,121,41)" fill-opacity="0.78"/>
<path d="M408.8 157.4h1.3v1.3h-1.3zM408.2 157.9h1.3v1.3h-1.3zM408.4 157.4h1.3v1.3h-1.3zM408.4 157.4h1.3v1.3h-1.3zM408.3 157.8h1.3v1.3h-1.3zM408.0 157.1h1.3v1.3h-1.3zM408.9 157.2h1.3v1.3h-1.3zM408.5 157.9h1.3v1.3h-1.3zM408.0 157.1h1.3v1.3h-1.3zM408.7 157.4h1.3v1.3h-1.3zM409.2 155.7h1.3v1.3h-1.3zM409.7 156.0h1.3v1.3h-1.3zM409.2 155.4h1.3v1.3h-1.3zM409.5 155.6h1.3v1.3h-1.3zM410.0 155.8h1.3v1.3h-1.3zM409.6 155.4h1.3v1.3h-1.3zM409.0 155.1h1.3v1.3h-1.3zM409.8 155.2h1.3v1.3h-1.3zM409.6 155.1h1.3v1.3h-1.3zM405.1 156.8h1.3v1.3h-1.3zM406.0 156.7h1.3v1.3h-1.3zM405.1 156.6h1.3v1.3h-1.3zM405.4 156.1h1.3v1.3h-1.3zM405.9 156.2h1.3v1.3h-1.3zM405.9 156.1h1.3v1.3h-1.3zM405.5 156.5h1.3v1.3h-1.3zM405.5 156.4h1.3v1.3h-1.3zM405.1 156.1h1.3v1.3h-1.3zM405.7 156.0h1.3v1.3h-1.3zM408.4 154.9h1.3v1.3h-1.3zM408.0 154.7h1.3v1.3h-1.3zM408.5 154.3h1.3v1.3h-1.3zM408.8 154.7h1.3v1.3h-1.3zM408.6 154.8h1.3v1.3h-1.3zM408.4 154.4h1.3v1.3h-1.3zM406.1 154.1h1.3v1.3h-1.3zM406.2 154.3h1.3v1.3h-1.3zM406.6 154.8h1.3v1.3h-1.3zM406.4 154.9h1.3v1.3h-1.3zM406.5 154.2h1.3v1.3h-1.3zM406.8 154.0h1.3v1.3h-1.3zM406.5 154.4h1.3v1.3h-1.3zM407.0 154.8h1.3v1.3h-1.3zM406.4 154.4h1.3v1.3h-1.3zM406.6 154.6h1.3v1.3h-1.3zM405.1 155.2h1.3v1.3h-1.3zM405.6 155.1h1.3v1.3h-1.3zM405.1 155.5h1.3v1.3h-1.3zM405.5 155.6h1.3v1.3h-1.3zM405.6 155.6h1.3v1.3h-1.3zM405.1 155.9h1.3v1.3h-1.3zM405.9 156.0h1.3v1.3h-1.3zM406.0 155.3h1.3v1.3h-1.3zM405.1 155.5h1.3v1.3h-1.3zM405.2 155.9h1.3v1.3h-1.3zM405.2 155.7h1.3v1.3h-1.3zM405.7 155.5h1.3v1.3h-1.3zM405.7 155.1h1.3v1.3h-1.3zM407.6 154.3h1.3v1.3h-1.3zM407.0 154.7h1.3v1.3h-1.3zM407.4 154.8h1.3v1.3h-1.3zM407.0 154.3h1.3v1.3h-1.3zM407.9 154.8h1.3v1.3h-1.3zM407.3 154.6h1.3v1.3h-1.3zM407.3 154.7h1.3v1.3h-1.3z" fill="rgb(231,90,40)" fill-opacity="0.78"/>
<path d="M406.5 156.0h1.3v1.3h-1.3zM406.6 156.2h1.3v1.3h-1.3zM406.1 157.0h1.3v1.3h-1.3zM406.1 156.5h1.3v1.3h-1.3zM406.5 156.4h1.3v1.3h-1.3zM406.8 156.5h1.3v1.3h-1.3zM406.6 156.9h1.3v1.3h-1.3zM406.3 156.8h1.3v1.3h-1.3zM406.6 156.7h1.3v1.3h-1.3zM406.7 156.1h1.3v1.3h-1.3zM406.3 156.3h1.3v1.3h-1.3zM406.3 156.6h1.3v1.3h-1.3zM406.7 156.5h1.3v1.3h-1.3zM406.6 156.1h1.3v1.3h-1.3zM407.0 155.9h1.3v1.3h-1.3zM407.0 155.2h1.3v1.3h-1.3zM406.3 155.5h1.3v1.3h-1.3zM406.2 155.5h1.3v1.3h-1.3zM406.8 155.7h1.3v1.3h-1.3zM406.2 155.2h1.3v1.3h-1.3zM406.4 155.1h1.3v1.3h-1.3zM406.2 155.9h1.3v1.3h-1.3zM406.4 155.9h1.3v1.3h-1.3zM409.0 156.9h1.3v1.3h-1.3zM408.5 157.0h1.3v1.3h-1.3zM408.5 156.3h1.3v1.3h-1.3zM408.6 156.7h1.3v1.3h-1.3zM408.7 156.3h1.3v1.3h-1.3zM408.6 156.3h1.3v1.3h-1.3zM409.0 156.8h1.3v1.3h-1.3zM408.6 156.6h1.3v1.3h-1.3zM408.7 156.4h1.3v1.3h-1.3zM408.8 156.9h1.3v1.3h-1.3zM408.2 156.1h1.3v1.3h-1.3zM408.2 156.8h1.3v1.3h-1.3zM408.5 156.9h1.3v1.3h-1.3zM408.1 156.7h1.3v1.3h-1.3zM408.6 156.2h1.3v1.3h-1.3zM408.6 156.8h1.3v1.3h-1.3zM408.1 156.9h1.3v1.3h-1.3zM407.6 156.0h1.3v1.3h-1.3zM407.7 156.1h1.3v1.3h-1.3zM407.9 157.0h1.3v1.3h-1.3zM407.5 156.8h1.3v1.3h-1.3zM407.5 156.3h1.3v1.3h-1.3zM407.7 156.9h1.3v1.3h-1.3zM407.1 156.9h1.3v1.3h-1.3zM407.9 157.0h1.3v1.3h-1.3zM407.8 156.2h1.3v1.3h-1.3zM407.3 156.6h1.3v1.3h-1.3zM407.5 156.5h1.3v1.3h-1.3zM407.4 156.1h1.3v1.3h-1.3zM408.1 155.5h1.3v1.3h-1.3zM408.5 155.8h1.3v1.3h-1.3zM408.9 155.3h1.3v1.3h-1.3zM408.6 155.8h1.3v1.3h-1.3zM408.9 155.1h1.3v1.3h-1.3zM408.8 155.9h1.3v1.3h-1.3zM408.1 155.6h1.3v1.3h-1.3zM408.5 155.7h1.3v1.3h-1.3zM408.1 155.3h1.3v1.3h-1.3zM408.1 155.8h1.3v1.3h-1.3zM408.9 155.3h1.3v1.3h-1.3zM408.4 155.5h1.3v1.3h-1.3zM408.7 156.0h1.3v1.3h-1.3zM408.1 155.5h1.3v1.3h-1.3zM408.5 155.8h1.3v1.3h-1.3zM408.5 155.9h1.3v1.3h-1.3zM407.3 155.8h1.3v1.3h-1.3zM407.4 155.8h1.3v1.3h-1.3zM407.2 155.3h1.3v1.3h-1.3zM407.2 155.4h1.3v1.3h-1.3zM407.9 155.7h1.3v1.3h-1.3zM407.8 155.9h1.3v1.3h-1.3zM407.6 155.7h1.3v1.3h-1.3zM407.4 155.0h1.3v1.3h-1.3zM407.7 155.6h1.3v1.3h-1.3zM407.8 155.3h1.3v1.3h-1.3z" fill="rgb(227,59,40)" fill-opacity="0.78"/>
<rect x="299.60" y="38.70" width="153.70" height="137.30" fill="none" stroke="#1c1c1c" stroke-width="2"/>
<rect x="354.00" y="39.60" width="95.00" height="86.00" fill="none" stroke="#1c1c1c" stroke-width="1.5"/>
<line x1="294.80" y1="51.90" x2="299.60" y2="51.90" stroke="#1c1c1c" stroke-width="1.5"/>
<line x1="294.80" y1="82.90" x2="299.60" y2="82.90" stroke="#1c1c1c" stroke-width="1.5"/>
<line x1="294.80" y1="115.00" x2="299.60" y2="115.00" stroke="#1c1c1c" stroke-width="1.5"/>
<line x1="294.80" y1="148.20" x2="299.60" y2="148.20" stroke="#1c1c1c" stroke-width="1.5"/>
<rect x="295.00" y="158.6" width="4.6" height="4.6" fill="#1c1c1c"/>
<line x1="294.80" y1="173.00" x2="299.60" y2="173.00" stroke="#1c1c1c" stroke-width="1.5"/>
<line x1="297.00" y1="138.21" x2="299.60" y2="138.21" stroke="#1c1c1c" stroke-width="1.0"/>
<line x1="297.00" y1="132.36" x2="299.60" y2="132.36" stroke="#1c1c1c" stroke-width="1.0"/>
<line x1="297.00" y1="128.21" x2="299.60" y2="128.21" stroke="#1c1c1c" stroke-width="1.0"/>
<line x1="297.00" y1="124.99" x2="299.60" y2="124.99" stroke="#1c1c1c" stroke-width="1.0"/>
<line x1="297.00" y1="122.37" x2="299.60" y2="122.37" stroke="#1c1c1c" stroke-width="1.0"/>
<line x1="297.00" y1="120.14" x2="299.60" y2="120.14" stroke="#1c1c1c" stroke-width="1.0"/>
<line x1="297.00" y1="118.22" x2="299.60" y2="118.22" stroke="#1c1c1c" stroke-width="1.0"/>
<line x1="297.00" y1="116.52" x2="299.60" y2="116.52" stroke="#1c1c1c" stroke-width="1.0"/>
<line x1="297.00" y1="105.34" x2="299.60" y2="105.34" stroke="#1c1c1c" stroke-width="1.0"/>
<line x1="297.00" y1="99.68" x2="299.60" y2="99.68" stroke="#1c1c1c" stroke-width="1.0"/>
<line x1="297.00" y1="95.67" x2="299.60" y2="95.67" stroke="#1c1c1c" stroke-width="1.0"/>
<line x1="297.00" y1="92.56" x2="299.60" y2="92.56" stroke="#1c1c1c" stroke-width="1.0"/>
<line x1="297.00" y1="90.02" x2="299.60" y2="90.02" stroke="#1c1c1c" stroke-width="1.0"/>
<line x1="297.00" y1="87.87" x2="299.60" y2="87.87" stroke="#1c1c1c" stroke-width="1.0"/>
<line x1="297.00" y1="86.01" x2="299.60" y2="86.01" stroke="#1c1c1c" stroke-width="1.0"/>
<line x1="297.00" y1="84.37" x2="299.60" y2="84.37" stroke="#1c1c1c" stroke-width="1.0"/>
<line x1="297.00" y1="73.57" x2="299.60" y2="73.57" stroke="#1c1c1c" stroke-width="1.0"/>
<line x1="297.00" y1="68.11" x2="299.60" y2="68.11" stroke="#1c1c1c" stroke-width="1.0"/>
<line x1="297.00" y1="64.24" x2="299.60" y2="64.24" stroke="#1c1c1c" stroke-width="1.0"/>
<line x1="297.00" y1="61.23" x2="299.60" y2="61.23" stroke="#1c1c1c" stroke-width="1.0"/>
<line x1="297.00" y1="58.78" x2="299.60" y2="58.78" stroke="#1c1c1c" stroke-width="1.0"/>
<line x1="297.00" y1="56.70" x2="299.60" y2="56.70" stroke="#1c1c1c" stroke-width="1.0"/>
<line x1="297.00" y1="54.90" x2="299.60" y2="54.90" stroke="#1c1c1c" stroke-width="1.0"/>
<line x1="297.00" y1="53.32" x2="299.60" y2="53.32" stroke="#1c1c1c" stroke-width="1.0"/>
<line x1="297.00" y1="42.27" x2="299.60" y2="42.27" stroke="#1c1c1c" stroke-width="1.0"/>
<line x1="297.00" y1="151.00" x2="299.60" y2="151.00" stroke="#1c1c1c" stroke-width="1.0"/>
<line x1="297.00" y1="153.80" x2="299.60" y2="153.80" stroke="#1c1c1c" stroke-width="1.0"/>
<line x1="297.00" y1="156.20" x2="299.60" y2="156.20" stroke="#1c1c1c" stroke-width="1.0"/>
<line x1="297.00" y1="158.30" x2="299.60" y2="158.30" stroke="#1c1c1c" stroke-width="1.0"/>
<line x1="297.00" y1="163.50" x2="299.60" y2="163.50" stroke="#1c1c1c" stroke-width="1.0"/>
<line x1="297.00" y1="165.60" x2="299.60" y2="165.60" stroke="#1c1c1c" stroke-width="1.0"/>
<line x1="297.00" y1="168.00" x2="299.60" y2="168.00" stroke="#1c1c1c" stroke-width="1.0"/>
<line x1="297.00" y1="170.60" x2="299.60" y2="170.60" stroke="#1c1c1c" stroke-width="1.0"/>
<line x1="307.80" y1="176.00" x2="307.80" y2="181.00" stroke="#1c1c1c" stroke-width="1.5"/>
<line x1="337.20" y1="176.00" x2="337.20" y2="181.00" stroke="#1c1c1c" stroke-width="1.5"/>
<line x1="359.70" y1="176.00" x2="359.70" y2="181.00" stroke="#1c1c1c" stroke-width="1.5"/>
<line x1="400.70" y1="176.00" x2="400.70" y2="181.00" stroke="#1c1c1c" stroke-width="1.5"/>
<line x1="437.90" y1="176.00" x2="437.90" y2="181.00" stroke="#1c1c1c" stroke-width="1.5"/>
<line x1="372.04" y1="176.00" x2="372.04" y2="178.60" stroke="#1c1c1c" stroke-width="1.0"/>
<line x1="379.26" y1="176.00" x2="379.26" y2="178.60" stroke="#1c1c1c" stroke-width="1.0"/>
<line x1="384.38" y1="176.00" x2="384.38" y2="178.60" stroke="#1c1c1c" stroke-width="1.0"/>
<line x1="388.36" y1="176.00" x2="388.36" y2="178.60" stroke="#1c1c1c" stroke-width="1.0"/>
<line x1="391.60" y1="176.00" x2="391.60" y2="178.60" stroke="#1c1c1c" stroke-width="1.0"/>
<line x1="394.35" y1="176.00" x2="394.35" y2="178.60" stroke="#1c1c1c" stroke-width="1.0"/>
<line x1="396.73" y1="176.00" x2="396.73" y2="178.60" stroke="#1c1c1c" stroke-width="1.0"/>
<line x1="398.82" y1="176.00" x2="398.82" y2="178.60" stroke="#1c1c1c" stroke-width="1.0"/>
<line x1="411.90" y1="176.00" x2="411.90" y2="178.60" stroke="#1c1c1c" stroke-width="1.0"/>
<line x1="418.45" y1="176.00" x2="418.45" y2="178.60" stroke="#1c1c1c" stroke-width="1.0"/>
<line x1="423.10" y1="176.00" x2="423.10" y2="178.60" stroke="#1c1c1c" stroke-width="1.0"/>
<line x1="426.70" y1="176.00" x2="426.70" y2="178.60" stroke="#1c1c1c" stroke-width="1.0"/>
<line x1="429.65" y1="176.00" x2="429.65" y2="178.60" stroke="#1c1c1c" stroke-width="1.0"/>
<line x1="432.14" y1="176.00" x2="432.14" y2="178.60" stroke="#1c1c1c" stroke-width="1.0"/>
<line x1="434.29" y1="176.00" x2="434.29" y2="178.60" stroke="#1c1c1c" stroke-width="1.0"/>
<line x1="436.20" y1="176.00" x2="436.20" y2="178.60" stroke="#1c1c1c" stroke-width="1.0"/>
<line x1="449.10" y1="176.00" x2="449.10" y2="178.60" stroke="#1c1c1c" stroke-width="1.0"/>
<line x1="311.30" y1="176.00" x2="311.30" y2="178.60" stroke="#1c1c1c" stroke-width="1.0"/>
<line x1="314.30" y1="176.00" x2="314.30" y2="178.60" stroke="#1c1c1c" stroke-width="1.0"/>
<line x1="317.30" y1="176.00" x2="317.30" y2="178.60" stroke="#1c1c1c" stroke-width="1.0"/>
<line x1="319.80" y1="176.00" x2="319.80" y2="178.60" stroke="#1c1c1c" stroke-width="1.0"/>
<line x1="322.30" y1="176.00" x2="322.30" y2="178.60" stroke="#1c1c1c" stroke-width="1.0"/>
<line x1="324.30" y1="176.00" x2="324.30" y2="178.60" stroke="#1c1c1c" stroke-width="1.0"/>
<line x1="326.30" y1="176.00" x2="326.30" y2="178.60" stroke="#1c1c1c" stroke-width="1.0"/>
<line x1="328.30" y1="176.00" x2="328.30" y2="178.60" stroke="#1c1c1c" stroke-width="1.0"/>
<line x1="330.30" y1="176.00" x2="330.30" y2="178.60" stroke="#1c1c1c" stroke-width="1.0"/>
<line x1="332.30" y1="176.00" x2="332.30" y2="178.60" stroke="#1c1c1c" stroke-width="1.0"/>
<line x1="334.30" y1="176.00" x2="334.30" y2="178.60" stroke="#1c1c1c" stroke-width="1.0"/>
<line x1="340.30" y1="176.00" x2="340.30" y2="178.60" stroke="#1c1c1c" stroke-width="1.0"/>
<line x1="342.30" y1="176.00" x2="342.30" y2="178.60" stroke="#1c1c1c" stroke-width="1.0"/>
<line x1="344.30" y1="176.00" x2="344.30" y2="178.60" stroke="#1c1c1c" stroke-width="1.0"/>
<line x1="346.30" y1="176.00" x2="346.30" y2="178.60" stroke="#1c1c1c" stroke-width="1.0"/>
<line x1="348.30" y1="176.00" x2="348.30" y2="178.60" stroke="#1c1c1c" stroke-width="1.0"/>
<line x1="350.80" y1="176.00" x2="350.80" y2="178.60" stroke="#1c1c1c" stroke-width="1.0"/>
<line x1="353.30" y1="176.00" x2="353.30" y2="178.60" stroke="#1c1c1c" stroke-width="1.0"/>
<line x1="356.30" y1="176.00" x2="356.30" y2="178.60" stroke="#1c1c1c" stroke-width="1.0"/>
<text x="286.10" y="52.50" font-size="7.2" fill="#1c1c1c" textLength="4.00" lengthAdjust="spacingAndGlyphs">5</text>
<text x="273.80" y="57.30" font-size="10.4" fill="#1c1c1c" textLength="11.02" lengthAdjust="spacingAndGlyphs">10</text>
<text x="286.10" y="83.50" font-size="7.2" fill="#1c1c1c" textLength="4.00" lengthAdjust="spacingAndGlyphs">4</text>
<text x="273.80" y="88.30" font-size="10.4" fill="#1c1c1c" textLength="11.02" lengthAdjust="spacingAndGlyphs">10</text>
<text x="286.10" y="115.60" font-size="7.2" fill="#1c1c1c" textLength="4.00" lengthAdjust="spacingAndGlyphs">3</text>
<text x="273.80" y="120.40" font-size="10.4" fill="#1c1c1c" textLength="11.02" lengthAdjust="spacingAndGlyphs">10</text>
<text x="286.10" y="148.80" font-size="7.2" fill="#1c1c1c" textLength="4.00" lengthAdjust="spacingAndGlyphs">2</text>
<text x="273.80" y="153.60" font-size="10.4" fill="#1c1c1c" textLength="11.02" lengthAdjust="spacingAndGlyphs">10</text>
<text x="284.40" y="164.40" font-size="10.4" fill="#1c1c1c" textLength="5.19" lengthAdjust="spacingAndGlyphs">0</text>
<text x="286.10" y="173.60" font-size="7.2" fill="#1c1c1c" textLength="4.00" lengthAdjust="spacingAndGlyphs">2</text>
<text x="268.10" y="178.40" font-size="10.4" fill="#1c1c1c" textLength="15.28" lengthAdjust="spacingAndGlyphs">-10</text>
<text x="297.60" y="201.20" font-size="10.4" fill="#1c1c1c" textLength="15.98" lengthAdjust="spacingAndGlyphs">-10</text>
<text x="314.60" y="196.90" font-size="7.2" fill="#1c1c1c" textLength="4.20" lengthAdjust="spacingAndGlyphs">3</text>
<text x="334.70" y="201.20" font-size="10.4" fill="#1c1c1c" textLength="5.29" lengthAdjust="spacingAndGlyphs">0</text>
<text x="351.45" y="201.20" font-size="10.4" fill="#1c1c1c" textLength="11.52" lengthAdjust="spacingAndGlyphs">10</text>
<text x="363.95" y="196.90" font-size="7.2" fill="#1c1c1c" textLength="4.20" lengthAdjust="spacingAndGlyphs">3</text>
<text x="394.05" y="201.20" font-size="10.4" fill="#1c1c1c" textLength="11.52" lengthAdjust="spacingAndGlyphs">10</text>
<text x="406.55" y="196.90" font-size="7.2" fill="#1c1c1c" textLength="4.20" lengthAdjust="spacingAndGlyphs">4</text>
<text x="430.05" y="201.20" font-size="10.4" fill="#1c1c1c" textLength="11.52" lengthAdjust="spacingAndGlyphs">10</text>
<text x="442.55" y="196.90" font-size="7.2" fill="#1c1c1c" textLength="4.20" lengthAdjust="spacingAndGlyphs">5</text>
<g transform="translate(369.60,220.60)"><text transform="scale(0.68,1)" x="-0.00" y="0" font-size="12.6" fill="#1c1c1c" letter-spacing="0.562" stroke="#1c1c1c" stroke-width="0.3">CD8</text></g>
<g transform="translate(258.21,139.20) rotate(-90)"><text transform="scale(0.68,1)" x="-0.00" y="0" font-size="12.6" fill="#1c1c1c" letter-spacing="1.161" stroke="#1c1c1c" stroke-width="0.45">MHC-multimer</text></g>
<text x="358.90" y="51.30" font-size="10.8" fill="#1c1c1c" textLength="46.11" lengthAdjust="spacingAndGlyphs">Multimer+</text>
<text x="373.10" y="64.60" font-size="10.8" fill="#1c1c1c" textLength="19.62" lengthAdjust="spacingAndGlyphs">7.53</text>
<line x1="69.30" y1="240.70" x2="69.30" y2="390.50" stroke="#1c1c1c" stroke-width="2.0"/>
<line x1="68.40" y1="241.60" x2="216.50" y2="241.60" stroke="#1c1c1c" stroke-width="2.0"/>
<line x1="215.60" y1="240.70" x2="215.60" y2="390.50" stroke="#1c1c1c" stroke-width="2.0"/>
<line x1="68.40" y1="389.60" x2="140.00" y2="389.60" stroke="#1c1c1c" stroke-width="2.0"/>
<line x1="152.90" y1="389.60" x2="216.50" y2="389.60" stroke="#1c1c1c" stroke-width="2.0"/>
<line x1="64.70" y1="242.00" x2="69.30" y2="242.00" stroke="#1c1c1c" stroke-width="1.6"/>
<line x1="66.90" y1="266.95" x2="69.30" y2="266.95" stroke="#1c1c1c" stroke-width="1.0"/>
<line x1="66.90" y1="260.67" x2="69.30" y2="260.67" stroke="#1c1c1c" stroke-width="1.0"/>
<line x1="66.90" y1="256.21" x2="69.30" y2="256.21" stroke="#1c1c1c" stroke-width="1.0"/>
<line x1="66.90" y1="252.75" x2="69.30" y2="252.75" stroke="#1c1c1c" stroke-width="1.0"/>
<line x1="66.90" y1="249.92" x2="69.30" y2="249.92" stroke="#1c1c1c" stroke-width="1.0"/>
<line x1="66.90" y1="247.53" x2="69.30" y2="247.53" stroke="#1c1c1c" stroke-width="1.0"/>
<line x1="66.90" y1="245.46" x2="69.30" y2="245.46" stroke="#1c1c1c" stroke-width="1.0"/>
<line x1="66.90" y1="243.63" x2="69.30" y2="243.63" stroke="#1c1c1c" stroke-width="1.0"/>
<line x1="64.70" y1="277.70" x2="69.30" y2="277.70" stroke="#1c1c1c" stroke-width="1.6"/>
<line x1="66.90" y1="302.65" x2="69.30" y2="302.65" stroke="#1c1c1c" stroke-width="1.0"/>
<line x1="66.90" y1="296.37" x2="69.30" y2="296.37" stroke="#1c1c1c" stroke-width="1.0"/>
<line x1="66.90" y1="291.91" x2="69.30" y2="291.91" stroke="#1c1c1c" stroke-width="1.0"/>
<line x1="66.90" y1="288.45" x2="69.30" y2="288.45" stroke="#1c1c1c" stroke-width="1.0"/>
<line x1="66.90" y1="285.62" x2="69.30" y2="285.62" stroke="#1c1c1c" stroke-width="1.0"/>
<line x1="66.90" y1="283.23" x2="69.30" y2="283.23" stroke="#1c1c1c" stroke-width="1.0"/>
<line x1="66.90" y1="281.16" x2="69.30" y2="281.16" stroke="#1c1c1c" stroke-width="1.0"/>
<line x1="66.90" y1="279.33" x2="69.30" y2="279.33" stroke="#1c1c1c" stroke-width="1.0"/>
<line x1="64.70" y1="313.40" x2="69.30" y2="313.40" stroke="#1c1c1c" stroke-width="1.6"/>
<line x1="66.90" y1="338.35" x2="69.30" y2="338.35" stroke="#1c1c1c" stroke-width="1.0"/>
<line x1="66.90" y1="332.07" x2="69.30" y2="332.07" stroke="#1c1c1c" stroke-width="1.0"/>
<line x1="66.90" y1="327.61" x2="69.30" y2="327.61" stroke="#1c1c1c" stroke-width="1.0"/>
<line x1="66.90" y1="324.15" x2="69.30" y2="324.15" stroke="#1c1c1c" stroke-width="1.0"/>
<line x1="66.90" y1="321.32" x2="69.30" y2="321.32" stroke="#1c1c1c" stroke-width="1.0"/>
<line x1="66.90" y1="318.93" x2="69.30" y2="318.93" stroke="#1c1c1c" stroke-width="1.0"/>
<line x1="66.90" y1="316.86" x2="69.30" y2="316.86" stroke="#1c1c1c" stroke-width="1.0"/>
<line x1="66.90" y1="315.03" x2="69.30" y2="315.03" stroke="#1c1c1c" stroke-width="1.0"/>
<line x1="64.70" y1="349.10" x2="69.30" y2="349.10" stroke="#1c1c1c" stroke-width="1.6"/>
<line x1="66.90" y1="374.05" x2="69.30" y2="374.05" stroke="#1c1c1c" stroke-width="1.0"/>
<line x1="66.90" y1="367.77" x2="69.30" y2="367.77" stroke="#1c1c1c" stroke-width="1.0"/>
<line x1="66.90" y1="363.31" x2="69.30" y2="363.31" stroke="#1c1c1c" stroke-width="1.0"/>
<line x1="66.90" y1="359.85" x2="69.30" y2="359.85" stroke="#1c1c1c" stroke-width="1.0"/>
<line x1="66.90" y1="357.02" x2="69.30" y2="357.02" stroke="#1c1c1c" stroke-width="1.0"/>
<line x1="66.90" y1="354.63" x2="69.30" y2="354.63" stroke="#1c1c1c" stroke-width="1.0"/>
<line x1="66.90" y1="352.56" x2="69.30" y2="352.56" stroke="#1c1c1c" stroke-width="1.0"/>
<line x1="66.90" y1="350.73" x2="69.30" y2="350.73" stroke="#1c1c1c" stroke-width="1.0"/>
<line x1="64.70" y1="384.80" x2="69.30" y2="384.80" stroke="#1c1c1c" stroke-width="1.6"/>
<line x1="215.60" y1="241.70" x2="220.00" y2="241.70" stroke="#1c1c1c" stroke-width="1.6"/>
<line x1="215.60" y1="272.84" x2="217.90" y2="272.84" stroke="#1c1c1c" stroke-width="1.0"/>
<line x1="215.60" y1="264.99" x2="217.90" y2="264.99" stroke="#1c1c1c" stroke-width="1.0"/>
<line x1="215.60" y1="259.43" x2="217.90" y2="259.43" stroke="#1c1c1c" stroke-width="1.0"/>
<line x1="215.60" y1="255.11" x2="217.90" y2="255.11" stroke="#1c1c1c" stroke-width="1.0"/>
<line x1="215.60" y1="251.58" x2="217.90" y2="251.58" stroke="#1c1c1c" stroke-width="1.0"/>
<line x1="215.60" y1="248.60" x2="217.90" y2="248.60" stroke="#1c1c1c" stroke-width="1.0"/>
<line x1="215.60" y1="246.02" x2="217.90" y2="246.02" stroke="#1c1c1c" stroke-width="1.0"/>
<line x1="215.60" y1="243.74" x2="217.90" y2="243.74" stroke="#1c1c1c" stroke-width="1.0"/>
<line x1="215.60" y1="286.25" x2="220.00" y2="286.25" stroke="#1c1c1c" stroke-width="1.6"/>
<line x1="215.60" y1="317.39" x2="217.90" y2="317.39" stroke="#1c1c1c" stroke-width="1.0"/>
<line x1="215.60" y1="309.54" x2="217.90" y2="309.54" stroke="#1c1c1c" stroke-width="1.0"/>
<line x1="215.60" y1="303.98" x2="217.90" y2="303.98" stroke="#1c1c1c" stroke-width="1.0"/>
<line x1="215.60" y1="299.66" x2="217.90" y2="299.66" stroke="#1c1c1c" stroke-width="1.0"/>
<line x1="215.60" y1="296.13" x2="217.90" y2="296.13" stroke="#1c1c1c" stroke-width="1.0"/>
<line x1="215.60" y1="293.15" x2="217.90" y2="293.15" stroke="#1c1c1c" stroke-width="1.0"/>
<line x1="215.60" y1="290.57" x2="217.90" y2="290.57" stroke="#1c1c1c" stroke-width="1.0"/>
<line x1="215.60" y1="288.29" x2="217.90" y2="288.29" stroke="#1c1c1c" stroke-width="1.0"/>
<line x1="215.60" y1="330.80" x2="220.00" y2="330.80" stroke="#1c1c1c" stroke-width="1.6"/>
<line x1="215.60" y1="361.94" x2="217.90" y2="361.94" stroke="#1c1c1c" stroke-width="1.0"/>
<line x1="215.60" y1="354.09" x2="217.90" y2="354.09" stroke="#1c1c1c" stroke-width="1.0"/>
<line x1="215.60" y1="348.53" x2="217.90" y2="348.53" stroke="#1c1c1c" stroke-width="1.0"/>
<line x1="215.60" y1="344.21" x2="217.90" y2="344.21" stroke="#1c1c1c" stroke-width="1.0"/>
<line x1="215.60" y1="340.68" x2="217.90" y2="340.68" stroke="#1c1c1c" stroke-width="1.0"/>
<line x1="215.60" y1="337.70" x2="217.90" y2="337.70" stroke="#1c1c1c" stroke-width="1.0"/>
<line x1="215.60" y1="335.12" x2="217.90" y2="335.12" stroke="#1c1c1c" stroke-width="1.0"/>
<line x1="215.60" y1="332.84" x2="217.90" y2="332.84" stroke="#1c1c1c" stroke-width="1.0"/>
<line x1="215.60" y1="375.35" x2="220.00" y2="375.35" stroke="#1c1c1c" stroke-width="1.6"/>
<line x1="215.60" y1="385.23" x2="217.90" y2="385.23" stroke="#1c1c1c" stroke-width="1.0"/>
<line x1="215.60" y1="382.25" x2="217.90" y2="382.25" stroke="#1c1c1c" stroke-width="1.0"/>
<line x1="215.60" y1="379.67" x2="217.90" y2="379.67" stroke="#1c1c1c" stroke-width="1.0"/>
<line x1="215.60" y1="377.39" x2="217.90" y2="377.39" stroke="#1c1c1c" stroke-width="1.0"/>
<line x1="70.60" y1="389.60" x2="70.60" y2="394.20" stroke="#1c1c1c" stroke-width="1.6"/>
<line x1="97.90" y1="389.60" x2="97.90" y2="394.20" stroke="#1c1c1c" stroke-width="1.6"/>
<line x1="125.40" y1="389.60" x2="125.40" y2="394.20" stroke="#1c1c1c" stroke-width="1.6"/>
<line x1="139.30" y1="389.60" x2="139.30" y2="394.20" stroke="#1c1c1c" stroke-width="1.6"/>
<line x1="153.60" y1="389.60" x2="153.60" y2="394.20" stroke="#1c1c1c" stroke-width="1.6"/>
<line x1="170.30" y1="389.60" x2="170.30" y2="394.20" stroke="#1c1c1c" stroke-width="1.6"/>
<line x1="215.60" y1="389.60" x2="215.60" y2="394.20" stroke="#1c1c1c" stroke-width="1.6"/>
<text x="56.90" y="241.20" font-size="7.2" fill="#1c1c1c" textLength="4.00" lengthAdjust="spacingAndGlyphs">6</text>
<text x="43.80" y="247.50" font-size="10.4" fill="#1c1c1c" textLength="11.22" lengthAdjust="spacingAndGlyphs">10</text>
<text x="56.90" y="276.90" font-size="7.2" fill="#1c1c1c" textLength="4.00" lengthAdjust="spacingAndGlyphs">5</text>
<text x="43.80" y="283.20" font-size="10.4" fill="#1c1c1c" textLength="11.22" lengthAdjust="spacingAndGlyphs">10</text>
<text x="56.90" y="312.60" font-size="7.2" fill="#1c1c1c" textLength="4.00" lengthAdjust="spacingAndGlyphs">4</text>
<text x="43.80" y="318.90" font-size="10.4" fill="#1c1c1c" textLength="11.22" lengthAdjust="spacingAndGlyphs">10</text>
<text x="56.90" y="348.30" font-size="7.2" fill="#1c1c1c" textLength="4.00" lengthAdjust="spacingAndGlyphs">3</text>
<text x="43.80" y="354.60" font-size="10.4" fill="#1c1c1c" textLength="11.22" lengthAdjust="spacingAndGlyphs">10</text>
<text x="56.90" y="384.00" font-size="7.2" fill="#1c1c1c" textLength="4.00" lengthAdjust="spacingAndGlyphs">2</text>
<text x="43.80" y="390.30" font-size="10.4" fill="#1c1c1c" textLength="11.22" lengthAdjust="spacingAndGlyphs">10</text>
<text x="225.60" y="244.90" font-size="10.4" fill="#1c1c1c" textLength="20.82" lengthAdjust="spacingAndGlyphs">100</text>
<text x="225.60" y="289.45" font-size="10.4" fill="#1c1c1c" textLength="13.88" lengthAdjust="spacingAndGlyphs">10</text>
<text x="225.60" y="334.00" font-size="10.4" fill="#1c1c1c" textLength="6.94" lengthAdjust="spacingAndGlyphs">1</text>
<text x="225.60" y="378.55" font-size="10.4" fill="#1c1c1c" textLength="17.35" lengthAdjust="spacingAndGlyphs">0.1</text>
<text x="67.12" y="408.20" font-size="10.4" fill="#1c1c1c" textLength="6.94" lengthAdjust="spacingAndGlyphs">0</text>
<text x="90.47" y="408.20" font-size="10.4" fill="#1c1c1c" textLength="13.88" lengthAdjust="spacingAndGlyphs">50</text>
<text x="114.79" y="408.20" font-size="10.4" fill="#1c1c1c" textLength="20.82" lengthAdjust="spacingAndGlyphs">100</text>
<text x="159.89" y="408.20" font-size="10.4" fill="#1c1c1c" textLength="20.82" lengthAdjust="spacingAndGlyphs">200</text>
<text x="204.89" y="408.20" font-size="10.4" fill="#1c1c1c" textLength="20.82" lengthAdjust="spacingAndGlyphs">400</text>
<text x="76.90" y="255.80" font-size="10.4" fill="#1c1c1c" textLength="19.00" lengthAdjust="spacingAndGlyphs">p14</text>
<g transform="translate(35.41,362.80) rotate(-90)"><text transform="scale(0.68,1)" x="-0.00" y="0" font-size="12.6" fill="#74ad4b" letter-spacing="1.048" stroke="#74ad4b" stroke-width="0.45">Viral load (copies/ml)</text></g>
<circle cx="70.5" cy="385.6" r="3.8" fill="#68a83e"/>
<circle cx="73.7" cy="385.6" r="3.8" fill="#68a83e"/>
<circle cx="76.9" cy="385.6" r="3.8" fill="#68a83e"/>
<circle cx="80.1" cy="385.6" r="3.8" fill="#68a83e"/>
<circle cx="83.3" cy="385.6" r="3.8" fill="#68a83e"/>
<circle cx="86.5" cy="385.6" r="3.8" fill="#68a83e"/>
<circle cx="89.7" cy="385.6" r="3.8" fill="#68a83e"/>
<circle cx="92.9" cy="385.6" r="3.8" fill="#68a83e"/>
<line x1="70.50" y1="385.60" x2="92.90" y2="385.60" stroke="#68a83e" stroke-width="7.0"/>
<circle cx="103.3" cy="385.6" r="3.8" fill="#68a83e"/>
<circle cx="106.4" cy="385.6" r="3.8" fill="#68a83e"/>
<circle cx="109.5" cy="385.6" r="3.8" fill="#68a83e"/>
<circle cx="112.7" cy="385.6" r="3.8" fill="#68a83e"/>
<circle cx="115.8" cy="385.6" r="3.8" fill="#68a83e"/>
<circle cx="118.9" cy="385.6" r="3.8" fill="#68a83e"/>
<circle cx="122.1" cy="385.6" r="3.8" fill="#68a83e"/>
<circle cx="125.2" cy="385.6" r="3.8" fill="#68a83e"/>
<circle cx="128.3" cy="385.6" r="3.8" fill="#68a83e"/>
<line x1="103.30" y1="385.60" x2="128.30" y2="385.60" stroke="#68a83e" stroke-width="7.0"/>
<line x1="128.00" y1="385.60" x2="139.60" y2="385.60" stroke="#68a83e" stroke-width="2.0"/>
<polyline points="94.6,385.6 96.7,329.6 98.0,385.6" fill="none" stroke="#68a83e" stroke-width="2.0" stroke-linejoin="round"/>
<polyline points="101.5,385.6 102.3,344.9 103.5,385.6" fill="none" stroke="#68a83e" stroke-width="2.0" stroke-linejoin="round"/>
<circle cx="96.7" cy="329.6" r="4.0" fill="#68a83e"/>
<circle cx="102.3" cy="344.9" r="3.8" fill="#68a83e"/>
<polyline points="81.9,378.0 85.6,329.0 89.3,352.8 93.0,339.6 96.7,377.7 100.4,339.6 104.6,316.9 108.3,342.8 112.5,326.4 116.2,377.7 118.4,347.0 124.2,378.0 128.5,376.2 140.4,376.2" fill="none" stroke="#a8133a" stroke-width="2.5" stroke-linejoin="round"/>
<polygon points="81.9,373.5 86.0,382.5 77.8,382.5" fill="#a8133a"/>
<polygon points="85.6,324.5 89.7,333.5 81.5,333.5" fill="#a8133a"/>
<polygon points="89.3,348.3 93.4,357.3 85.2,357.3" fill="#a8133a"/>
<polygon points="93.0,335.1 97.1,344.1 88.9,344.1" fill="#a8133a"/>
<polygon points="96.7,373.2 100.8,382.2 92.6,382.2" fill="#a8133a"/>
<polygon points="100.4,335.1 104.5,344.1 96.3,344.1" fill="#a8133a"/>
<polygon points="104.6,312.4 108.7,321.4 100.5,321.4" fill="#a8133a"/>
<polygon points="108.3,338.3 112.4,347.3 104.2,347.3" fill="#a8133a"/>
<polygon points="112.5,321.9 116.6,330.9 108.4,330.9" fill="#a8133a"/>
<polygon points="116.2,373.2 120.3,382.2 112.1,382.2" fill="#a8133a"/>
<polygon points="118.4,342.5 122.5,351.5 114.3,351.5" fill="#a8133a"/>
<polygon points="124.2,373.5 128.3,382.5 120.1,382.5" fill="#a8133a"/>
<polyline points="85.5,307.5 104.8,264.4 115.8,270.2 124.0,262.5 140.4,268.3" fill="none" stroke="#253f7a" stroke-width="2.5" stroke-linejoin="round"/>
<polygon points="85.5,303.0 89.6,312.0 81.4,312.0" fill="#253f7a"/>
<polygon points="104.8,259.9 108.9,268.9 100.7,268.9" fill="#253f7a"/>
<polygon points="115.8,265.7 119.9,274.7 111.7,274.7" fill="#253f7a"/>
<polygon points="124.0,258.0 128.1,267.0 119.9,267.0" fill="#253f7a"/>
<polyline points="156.2,384.6 156.8,341.5 157.6,319.8 159.2,269.4 160.5,300.0 162.3,293.4 163.2,318.0 164.2,322.3 165.4,329.8 166.6,384.6 165.8,365.5 166.0,356.3 168.4,337.5 169.7,336.0 170.2,344.8 169.7,356.9 171.5,362.0 173.4,354.5 174.6,346.5 174.8,355.8 175.8,353.2 175.7,366.7 177.7,384.6 179.3,375.9 181.8,309.4 182.0,380.3 184.8,344.8 185.7,384.6 186.6,350.3 186.9,346.5 188.0,360.0 190.0,332.3 191.2,319.8 192.1,301.6 190.6,326.2 192.5,331.1 191.2,345.0 195.8,346.6 196.8,345.8 196.8,360.6 197.4,369.2 197.6,375.0 199.2,384.6 201.2,385.0 202.9,374.2 203.0,375.0 206.6,384.6 210.0,384.6" fill="none" stroke="#68a83e" stroke-width="2.2" stroke-linejoin="round"/>
<circle cx="156.2" cy="384.6" r="4.0" fill="#68a83e"/>
<circle cx="156.8" cy="341.5" r="4.0" fill="#68a83e"/>
<circle cx="157.6" cy="319.8" r="4.0" fill="#68a83e"/>
<circle cx="159.2" cy="269.4" r="4.0" fill="#68a83e"/>
<circle cx="160.5" cy="300.0" r="4.0" fill="#68a83e"/>
<circle cx="162.3" cy="293.4" r="4.0" fill="#68a83e"/>
<circle cx="163.2" cy="318.0" r="4.0" fill="#68a83e"/>
<circle cx="164.2" cy="322.3" r="4.0" fill="#68a83e"/>
<circle cx="165.4" cy="329.8" r="4.0" fill="#68a83e"/>
<circle cx="166.6" cy="384.6" r="4.0" fill="#68a83e"/>
<circle cx="165.8" cy="365.5" r="4.0" fill="#68a83e"/>
<circle cx="166.0" cy="356.3" r="4.0" fill="#68a83e"/>
<circle cx="168.4" cy="337.5" r="4.0" fill="#68a83e"/>
<circle cx="169.7" cy="336.0" r="4.0" fill="#68a83e"/>
<circle cx="170.2" cy="344.8" r="4.0" fill="#68a83e"/>
<circle cx="169.7" cy="356.9" r="4.0" fill="#68a83e"/>
<circle cx="171.5" cy="362.0" r="4.0" fill="#68a83e"/>
<circle cx="173.4" cy="354.5" r="4.0" fill="#68a83e"/>
<circle cx="174.6" cy="346.5" r="4.0" fill="#68a83e"/>
<circle cx="174.8" cy="355.8" r="4.0" fill="#68a83e"/>
<circle cx="175.8" cy="353.2" r="4.0" fill="#68a83e"/>
<circle cx="175.7" cy="366.7" r="4.0" fill="#68a83e"/>
<circle cx="177.7" cy="384.6" r="4.0" fill="#68a83e"/>
<circle cx="179.3" cy="375.9" r="4.0" fill="#68a83e"/>
<circle cx="181.8" cy="309.4" r="4.0" fill="#68a83e"/>
<circle cx="182.0" cy="380.3" r="4.0" fill="#68a83e"/>
<circle cx="184.8" cy="344.8" r="4.0" fill="#68a83e"/>
<circle cx="185.7" cy="384.6" r="4.0" fill="#68a83e"/>
<circle cx="186.6" cy="350.3" r="4.0" fill="#68a83e"/>
<circle cx="186.9" cy="346.5" r="4.0" fill="#68a83e"/>
<circle cx="188.0" cy="360.0" r="4.0" fill="#68a83e"/>
<circle cx="190.0" cy="332.3" r="4.0" fill="#68a83e"/>
<circle cx="191.2" cy="319.8" r="4.0" fill="#68a83e"/>
<circle cx="192.1" cy="301.6" r="4.0" fill="#68a83e"/>
<circle cx="190.6" cy="326.2" r="4.0" fill="#68a83e"/>
<circle cx="192.5" cy="331.1" r="4.0" fill="#68a83e"/>
<circle cx="191.2" cy="345.0" r="4.0" fill="#68a83e"/>
<circle cx="195.8" cy="346.6" r="4.0" fill="#68a83e"/>
<circle cx="196.8" cy="345.8" r="4.0" fill="#68a83e"/>
<circle cx="196.8" cy="360.6" r="4.0" fill="#68a83e"/>
<circle cx="197.4" cy="369.2" r="4.0" fill="#68a83e"/>
<circle cx="197.6" cy="375.0" r="4.0" fill="#68a83e"/>
<circle cx="199.2" cy="384.6" r="4.0" fill="#68a83e"/>
<circle cx="201.2" cy="385.0" r="4.0" fill="#68a83e"/>
<circle cx="202.9" cy="374.2" r="4.0" fill="#68a83e"/>
<circle cx="203.0" cy="375.0" r="4.0" fill="#68a83e"/>
<circle cx="206.6" cy="384.6" r="4.0" fill="#68a83e"/>
<circle cx="210.0" cy="384.6" r="4.0" fill="#68a83e"/>
<circle cx="178.5" cy="384.6" r="4.0" fill="#68a83e"/>
<circle cx="180.5" cy="384.6" r="4.0" fill="#68a83e"/>
<circle cx="183.5" cy="384.6" r="4.0" fill="#68a83e"/>
<circle cx="188.0" cy="384.6" r="4.0" fill="#68a83e"/>
<circle cx="200.5" cy="384.6" r="4.0" fill="#68a83e"/>
<circle cx="204.5" cy="384.6" r="4.0" fill="#68a83e"/>
<circle cx="208.5" cy="384.6" r="4.0" fill="#68a83e"/>
<polyline points="151.8,376.1 167.2,377.0" fill="none" stroke="#a8133a" stroke-width="2.5" stroke-linejoin="round"/>
<polygon points="167.2,372.5 171.3,381.5 163.1,381.5" fill="#a8133a"/>
<polyline points="151.9,272.7 168.3,278.8" fill="none" stroke="#253f7a" stroke-width="2.5" stroke-linejoin="round"/>
<polygon points="168.3,274.3 172.4,283.3 164.2,283.3" fill="#253f7a"/>
<line x1="72.30" y1="433.50" x2="72.30" y2="583.90" stroke="#1c1c1c" stroke-width="2.0"/>
<line x1="71.40" y1="434.40" x2="219.40" y2="434.40" stroke="#1c1c1c" stroke-width="2.0"/>
<line x1="218.50" y1="433.50" x2="218.50" y2="583.90" stroke="#1c1c1c" stroke-width="2.0"/>
<line x1="71.40" y1="583.00" x2="142.00" y2="583.00" stroke="#1c1c1c" stroke-width="2.0"/>
<line x1="155.00" y1="583.00" x2="219.40" y2="583.00" stroke="#1c1c1c" stroke-width="2.0"/>
<line x1="67.70" y1="434.50" x2="72.30" y2="434.50" stroke="#1c1c1c" stroke-width="1.6"/>
<line x1="69.90" y1="459.47" x2="72.30" y2="459.47" stroke="#1c1c1c" stroke-width="1.0"/>
<line x1="69.90" y1="453.18" x2="72.30" y2="453.18" stroke="#1c1c1c" stroke-width="1.0"/>
<line x1="69.90" y1="448.71" x2="72.30" y2="448.71" stroke="#1c1c1c" stroke-width="1.0"/>
<line x1="69.90" y1="445.25" x2="72.30" y2="445.25" stroke="#1c1c1c" stroke-width="1.0"/>
<line x1="69.90" y1="442.42" x2="72.30" y2="442.42" stroke="#1c1c1c" stroke-width="1.0"/>
<line x1="69.90" y1="440.03" x2="72.30" y2="440.03" stroke="#1c1c1c" stroke-width="1.0"/>
<line x1="69.90" y1="437.96" x2="72.30" y2="437.96" stroke="#1c1c1c" stroke-width="1.0"/>
<line x1="69.90" y1="436.13" x2="72.30" y2="436.13" stroke="#1c1c1c" stroke-width="1.0"/>
<line x1="67.70" y1="470.22" x2="72.30" y2="470.22" stroke="#1c1c1c" stroke-width="1.6"/>
<line x1="69.90" y1="495.19" x2="72.30" y2="495.19" stroke="#1c1c1c" stroke-width="1.0"/>
<line x1="69.90" y1="488.90" x2="72.30" y2="488.90" stroke="#1c1c1c" stroke-width="1.0"/>
<line x1="69.90" y1="484.43" x2="72.30" y2="484.43" stroke="#1c1c1c" stroke-width="1.0"/>
<line x1="69.90" y1="480.97" x2="72.30" y2="480.97" stroke="#1c1c1c" stroke-width="1.0"/>
<line x1="69.90" y1="478.14" x2="72.30" y2="478.14" stroke="#1c1c1c" stroke-width="1.0"/>
<line x1="69.90" y1="475.75" x2="72.30" y2="475.75" stroke="#1c1c1c" stroke-width="1.0"/>
<line x1="69.90" y1="473.68" x2="72.30" y2="473.68" stroke="#1c1c1c" stroke-width="1.0"/>
<line x1="69.90" y1="471.85" x2="72.30" y2="471.85" stroke="#1c1c1c" stroke-width="1.0"/>
<line x1="67.70" y1="505.94" x2="72.30" y2="505.94" stroke="#1c1c1c" stroke-width="1.6"/>
<line x1="69.90" y1="530.91" x2="72.30" y2="530.91" stroke="#1c1c1c" stroke-width="1.0"/>
<line x1="69.90" y1="524.62" x2="72.30" y2="524.62" stroke="#1c1c1c" stroke-width="1.0"/>
<line x1="69.90" y1="520.15" x2="72.30" y2="520.15" stroke="#1c1c1c" stroke-width="1.0"/>
<line x1="69.90" y1="516.69" x2="72.30" y2="516.69" stroke="#1c1c1c" stroke-width="1.0"/>
<line x1="69.90" y1="513.86" x2="72.30" y2="513.86" stroke="#1c1c1c" stroke-width="1.0"/>
<line x1="69.90" y1="511.47" x2="72.30" y2="511.47" stroke="#1c1c1c" stroke-width="1.0"/>
<line x1="69.90" y1="509.40" x2="72.30" y2="509.40" stroke="#1c1c1c" stroke-width="1.0"/>
<line x1="69.90" y1="507.57" x2="72.30" y2="507.57" stroke="#1c1c1c" stroke-width="1.0"/>
<line x1="67.70" y1="541.66" x2="72.30" y2="541.66" stroke="#1c1c1c" stroke-width="1.6"/>
<line x1="69.90" y1="566.63" x2="72.30" y2="566.63" stroke="#1c1c1c" stroke-width="1.0"/>
<line x1="69.90" y1="560.34" x2="72.30" y2="560.34" stroke="#1c1c1c" stroke-width="1.0"/>
<line x1="69.90" y1="555.87" x2="72.30" y2="555.87" stroke="#1c1c1c" stroke-width="1.0"/>
<line x1="69.90" y1="552.41" x2="72.30" y2="552.41" stroke="#1c1c1c" stroke-width="1.0"/>
<line x1="69.90" y1="549.58" x2="72.30" y2="549.58" stroke="#1c1c1c" stroke-width="1.0"/>
<line x1="69.90" y1="547.19" x2="72.30" y2="547.19" stroke="#1c1c1c" stroke-width="1.0"/>
<line x1="69.90" y1="545.12" x2="72.30" y2="545.12" stroke="#1c1c1c" stroke-width="1.0"/>
<line x1="69.90" y1="543.29" x2="72.30" y2="543.29" stroke="#1c1c1c" stroke-width="1.0"/>
<line x1="67.70" y1="577.38" x2="72.30" y2="577.38" stroke="#1c1c1c" stroke-width="1.6"/>
<line x1="218.50" y1="434.20" x2="222.90" y2="434.20" stroke="#1c1c1c" stroke-width="1.6"/>
<line x1="218.50" y1="465.65" x2="220.80" y2="465.65" stroke="#1c1c1c" stroke-width="1.0"/>
<line x1="218.50" y1="457.73" x2="220.80" y2="457.73" stroke="#1c1c1c" stroke-width="1.0"/>
<line x1="218.50" y1="452.11" x2="220.80" y2="452.11" stroke="#1c1c1c" stroke-width="1.0"/>
<line x1="218.50" y1="447.75" x2="220.80" y2="447.75" stroke="#1c1c1c" stroke-width="1.0"/>
<line x1="218.50" y1="444.18" x2="220.80" y2="444.18" stroke="#1c1c1c" stroke-width="1.0"/>
<line x1="218.50" y1="441.17" x2="220.80" y2="441.17" stroke="#1c1c1c" stroke-width="1.0"/>
<line x1="218.50" y1="438.56" x2="220.80" y2="438.56" stroke="#1c1c1c" stroke-width="1.0"/>
<line x1="218.50" y1="436.26" x2="220.80" y2="436.26" stroke="#1c1c1c" stroke-width="1.0"/>
<line x1="218.50" y1="479.20" x2="222.90" y2="479.20" stroke="#1c1c1c" stroke-width="1.6"/>
<line x1="218.50" y1="510.65" x2="220.80" y2="510.65" stroke="#1c1c1c" stroke-width="1.0"/>
<line x1="218.50" y1="502.73" x2="220.80" y2="502.73" stroke="#1c1c1c" stroke-width="1.0"/>
<line x1="218.50" y1="497.11" x2="220.80" y2="497.11" stroke="#1c1c1c" stroke-width="1.0"/>
<line x1="218.50" y1="492.75" x2="220.80" y2="492.75" stroke="#1c1c1c" stroke-width="1.0"/>
<line x1="218.50" y1="489.18" x2="220.80" y2="489.18" stroke="#1c1c1c" stroke-width="1.0"/>
<line x1="218.50" y1="486.17" x2="220.80" y2="486.17" stroke="#1c1c1c" stroke-width="1.0"/>
<line x1="218.50" y1="483.56" x2="220.80" y2="483.56" stroke="#1c1c1c" stroke-width="1.0"/>
<line x1="218.50" y1="481.26" x2="220.80" y2="481.26" stroke="#1c1c1c" stroke-width="1.0"/>
<line x1="218.50" y1="524.20" x2="222.90" y2="524.20" stroke="#1c1c1c" stroke-width="1.6"/>
<line x1="218.50" y1="555.65" x2="220.80" y2="555.65" stroke="#1c1c1c" stroke-width="1.0"/>
<line x1="218.50" y1="547.73" x2="220.80" y2="547.73" stroke="#1c1c1c" stroke-width="1.0"/>
<line x1="218.50" y1="542.11" x2="220.80" y2="542.11" stroke="#1c1c1c" stroke-width="1.0"/>
<line x1="218.50" y1="537.75" x2="220.80" y2="537.75" stroke="#1c1c1c" stroke-width="1.0"/>
<line x1="218.50" y1="534.18" x2="220.80" y2="534.18" stroke="#1c1c1c" stroke-width="1.0"/>
<line x1="218.50" y1="531.17" x2="220.80" y2="531.17" stroke="#1c1c1c" stroke-width="1.0"/>
<line x1="218.50" y1="528.56" x2="220.80" y2="528.56" stroke="#1c1c1c" stroke-width="1.0"/>
<line x1="218.50" y1="526.26" x2="220.80" y2="526.26" stroke="#1c1c1c" stroke-width="1.0"/>
<line x1="218.50" y1="569.20" x2="222.90" y2="569.20" stroke="#1c1c1c" stroke-width="1.6"/>
<line x1="218.50" y1="579.18" x2="220.80" y2="579.18" stroke="#1c1c1c" stroke-width="1.0"/>
<line x1="218.50" y1="576.17" x2="220.80" y2="576.17" stroke="#1c1c1c" stroke-width="1.0"/>
<line x1="218.50" y1="573.56" x2="220.80" y2="573.56" stroke="#1c1c1c" stroke-width="1.0"/>
<line x1="218.50" y1="571.26" x2="220.80" y2="571.26" stroke="#1c1c1c" stroke-width="1.0"/>
<line x1="72.50" y1="583.00" x2="72.50" y2="587.60" stroke="#1c1c1c" stroke-width="1.6"/>
<line x1="99.80" y1="583.00" x2="99.80" y2="587.60" stroke="#1c1c1c" stroke-width="1.6"/>
<line x1="127.50" y1="583.00" x2="127.50" y2="587.60" stroke="#1c1c1c" stroke-width="1.6"/>
<line x1="141.30" y1="583.00" x2="141.30" y2="587.60" stroke="#1c1c1c" stroke-width="1.6"/>
<line x1="155.70" y1="583.00" x2="155.70" y2="587.60" stroke="#1c1c1c" stroke-width="1.6"/>
<line x1="167.70" y1="583.00" x2="167.70" y2="587.60" stroke="#1c1c1c" stroke-width="1.6"/>
<line x1="201.20" y1="583.00" x2="201.20" y2="587.60" stroke="#1c1c1c" stroke-width="1.6"/>
<line x1="218.50" y1="583.00" x2="218.50" y2="587.60" stroke="#1c1c1c" stroke-width="1.6"/>
<text x="59.90" y="433.70" font-size="7.2" fill="#1c1c1c" textLength="4.00" lengthAdjust="spacingAndGlyphs">6</text>
<text x="46.80" y="440.00" font-size="10.4" fill="#1c1c1c" textLength="11.22" lengthAdjust="spacingAndGlyphs">10</text>
<text x="59.90" y="469.42" font-size="7.2" fill="#1c1c1c" textLength="4.00" lengthAdjust="spacingAndGlyphs">5</text>
<text x="46.80" y="475.72" font-size="10.4" fill="#1c1c1c" textLength="11.22" lengthAdjust="spacingAndGlyphs">10</text>
<text x="59.90" y="505.14" font-size="7.2" fill="#1c1c1c" textLength="4.00" lengthAdjust="spacingAndGlyphs">4</text>
<text x="46.80" y="511.44" font-size="10.4" fill="#1c1c1c" textLength="11.22" lengthAdjust="spacingAndGlyphs">10</text>
<text x="59.90" y="540.86" font-size="7.2" fill="#1c1c1c" textLength="4.00" lengthAdjust="spacingAndGlyphs">3</text>
<text x="46.80" y="547.16" font-size="10.4" fill="#1c1c1c" textLength="11.22" lengthAdjust="spacingAndGlyphs">10</text>
<text x="59.90" y="576.58" font-size="7.2" fill="#1c1c1c" textLength="4.00" lengthAdjust="spacingAndGlyphs">2</text>
<text x="46.80" y="582.88" font-size="10.4" fill="#1c1c1c" textLength="11.22" lengthAdjust="spacingAndGlyphs">10</text>
<text x="228.50" y="437.40" font-size="10.4" fill="#1c1c1c" textLength="20.82" lengthAdjust="spacingAndGlyphs">100</text>
<text x="228.50" y="482.40" font-size="10.4" fill="#1c1c1c" textLength="13.88" lengthAdjust="spacingAndGlyphs">10</text>
<text x="228.50" y="527.40" font-size="10.4" fill="#1c1c1c" textLength="6.94" lengthAdjust="spacingAndGlyphs">1</text>
<text x="228.50" y="572.40" font-size="10.4" fill="#1c1c1c" textLength="17.35" lengthAdjust="spacingAndGlyphs">0.1</text>
<text x="69.52" y="602.00" font-size="10.4" fill="#1c1c1c" textLength="6.94" lengthAdjust="spacingAndGlyphs">0</text>
<text x="93.47" y="602.00" font-size="10.4" fill="#1c1c1c" textLength="13.88" lengthAdjust="spacingAndGlyphs">50</text>
<text x="116.89" y="602.00" font-size="10.4" fill="#1c1c1c" textLength="20.82" lengthAdjust="spacingAndGlyphs">100</text>
<text x="157.29" y="602.00" font-size="10.4" fill="#1c1c1c" textLength="20.82" lengthAdjust="spacingAndGlyphs">200</text>
<text x="190.79" y="602.00" font-size="10.4" fill="#1c1c1c" textLength="20.82" lengthAdjust="spacingAndGlyphs">400</text>
<text x="80.00" y="448.20" font-size="10.4" fill="#1c1c1c" textLength="19.50" lengthAdjust="spacingAndGlyphs">p13</text>
<g transform="translate(35.41,563.90) rotate(-90)"><text transform="scale(0.68,1)" x="-0.00" y="0" font-size="12.6" fill="#74ad4b" letter-spacing="1.104" stroke="#74ad4b" stroke-width="0.45">Viral load (copies/ml)</text></g>
<g transform="translate(96.00,620.60)"><text transform="scale(0.68,1)" x="-0.00" y="0" font-size="12.6" fill="#1c1c1c" letter-spacing="0.952" stroke="#1c1c1c" stroke-width="0.3">Post-transplant (days)</text></g>
<polyline points="80.8,568.4 84.1,568.4 87.4,568.4 90.7,568.4 94.0,568.4 97.3,568.4 100.6,568.4 103.9,568.4 107.3,568.4 110.6,568.4 113.9,568.4 117.2,568.4 120.5,568.4 123.8,568.4 127.1,568.4 142.7,568.4" fill="none" stroke="#a8133a" stroke-width="2.5" stroke-linejoin="round"/>
<polygon points="80.8,563.9 84.5,572.9 77.0,572.9" fill="#a8133a"/>
<polygon points="84.1,563.9 87.9,572.9 80.4,572.9" fill="#a8133a"/>
<polygon points="87.4,563.9 91.2,572.9 83.7,572.9" fill="#a8133a"/>
<polygon points="90.7,563.9 94.5,572.9 87.0,572.9" fill="#a8133a"/>
<polygon points="94.0,563.9 97.8,572.9 90.3,572.9" fill="#a8133a"/>
<polygon points="97.3,563.9 101.1,572.9 93.6,572.9" fill="#a8133a"/>
<polygon points="100.6,563.9 104.4,572.9 96.9,572.9" fill="#a8133a"/>
<polygon points="103.9,563.9 107.7,572.9 100.2,572.9" fill="#a8133a"/>
<polygon points="107.3,563.9 111.0,572.9 103.5,572.9" fill="#a8133a"/>
<polygon points="110.6,563.9 114.3,572.9 106.8,572.9" fill="#a8133a"/>
<polygon points="113.9,563.9 117.6,572.9 110.1,572.9" fill="#a8133a"/>
<polygon points="117.2,563.9 120.9,572.9 113.4,572.9" fill="#a8133a"/>
<polygon points="120.5,563.9 124.2,572.9 116.7,572.9" fill="#a8133a"/>
<polygon points="123.8,563.9 127.5,572.9 120.0,572.9" fill="#a8133a"/>
<polygon points="127.1,563.9 130.8,572.9 123.3,572.9" fill="#a8133a"/>
<circle cx="74.0" cy="577.0" r="3.8" fill="#68a83e"/>
<circle cx="77.4" cy="577.0" r="3.8" fill="#68a83e"/>
<circle cx="80.8" cy="577.0" r="3.8" fill="#68a83e"/>
<circle cx="84.2" cy="577.0" r="3.8" fill="#68a83e"/>
<circle cx="87.6" cy="577.0" r="3.8" fill="#68a83e"/>
<circle cx="91.0" cy="577.0" r="3.8" fill="#68a83e"/>
<line x1="74.00" y1="577.00" x2="91.00" y2="577.00" stroke="#68a83e" stroke-width="7.0"/>
<circle cx="110.5" cy="577.0" r="3.8" fill="#68a83e"/>
<circle cx="113.8" cy="577.0" r="3.8" fill="#68a83e"/>
<circle cx="117.1" cy="577.0" r="3.8" fill="#68a83e"/>
<circle cx="120.4" cy="577.0" r="3.8" fill="#68a83e"/>
<circle cx="123.7" cy="577.0" r="3.8" fill="#68a83e"/>
<circle cx="127.0" cy="577.0" r="3.8" fill="#68a83e"/>
<line x1="110.50" y1="577.00" x2="127.00" y2="577.00" stroke="#68a83e" stroke-width="7.0"/>
<line x1="127.00" y1="577.20" x2="142.70" y2="577.20" stroke="#68a83e" stroke-width="2.2"/>
<polyline points="93.1,576.3 93.1,531.9 94.8,506.5 97.1,501.3 100.0,506.0 102.3,507.7 106.3,508.3 108.7,533.7 110.3,549.8 111.5,576.3 114.0,576.3 116.2,534.2 117.5,540.0 119.0,545.8 120.3,576.3" fill="none" stroke="#68a83e" stroke-width="2.2" stroke-linejoin="round"/>
<circle cx="93.1" cy="576.3" r="4.0" fill="#68a83e"/>
<circle cx="93.1" cy="531.9" r="4.0" fill="#68a83e"/>
<circle cx="94.8" cy="506.5" r="4.0" fill="#68a83e"/>
<circle cx="97.1" cy="501.3" r="4.0" fill="#68a83e"/>
<circle cx="100.0" cy="506.0" r="4.0" fill="#68a83e"/>
<circle cx="102.3" cy="507.7" r="4.0" fill="#68a83e"/>
<circle cx="106.3" cy="508.3" r="4.0" fill="#68a83e"/>
<circle cx="108.7" cy="533.7" r="4.0" fill="#68a83e"/>
<circle cx="110.3" cy="549.8" r="4.0" fill="#68a83e"/>
<circle cx="111.5" cy="576.3" r="4.0" fill="#68a83e"/>
<circle cx="114.0" cy="576.3" r="4.0" fill="#68a83e"/>
<circle cx="116.2" cy="534.2" r="4.0" fill="#68a83e"/>
<circle cx="117.5" cy="540.0" r="4.0" fill="#68a83e"/>
<circle cx="119.0" cy="545.8" r="4.0" fill="#68a83e"/>
<circle cx="120.3" cy="576.3" r="4.0" fill="#68a83e"/>
<polyline points="107.5,571.7 112.3,536.5 114.6,542.5 117.0,541.8 142.7,540.6" fill="none" stroke="#253f7a" stroke-width="2.5" stroke-linejoin="round"/>
<polygon points="112.3,532.5 116.4,541.5 108.2,541.5" fill="#253f7a"/>
<polygon points="114.4,538.3 117.9,547.3 110.9,547.3" fill="#253f7a"/>
<polyline points="154.3,539.7 211.5,537.0" fill="none" stroke="#253f7a" stroke-width="2.5" stroke-linejoin="round"/>
<polygon points="211.5,532.5 215.6,541.5 207.4,541.5" fill="#253f7a"/>
<polyline points="154.3,568.5 211.5,568.5" fill="none" stroke="#a8133a" stroke-width="2.5" stroke-linejoin="round"/>
<polygon points="167.7,564.0 171.8,573.0 163.6,573.0" fill="#a8133a"/>
<polygon points="211.5,564.0 215.6,573.0 207.4,573.0" fill="#a8133a"/>
<polyline points="154.3,577.3 211.5,577.3" fill="none" stroke="#68a83e" stroke-width="2.3" stroke-linejoin="round"/>
<circle cx="211.5" cy="577.3" r="3.8" fill="#68a83e"/>
<line x1="299.70" y1="237.60" x2="299.70" y2="388.20" stroke="#1c1c1c" stroke-width="2.0"/>
<line x1="298.80" y1="238.50" x2="447.20" y2="238.50" stroke="#1c1c1c" stroke-width="2.0"/>
<line x1="446.30" y1="237.60" x2="446.30" y2="388.20" stroke="#1c1c1c" stroke-width="2.0"/>
<line x1="298.80" y1="387.30" x2="369.60" y2="387.30" stroke="#1c1c1c" stroke-width="2.0"/>
<line x1="383.00" y1="387.30" x2="447.20" y2="387.30" stroke="#1c1c1c" stroke-width="2.0"/>
<line x1="295.10" y1="238.40" x2="299.70" y2="238.40" stroke="#1c1c1c" stroke-width="1.6"/>
<line x1="297.30" y1="263.55" x2="299.70" y2="263.55" stroke="#1c1c1c" stroke-width="1.0"/>
<line x1="297.30" y1="257.21" x2="299.70" y2="257.21" stroke="#1c1c1c" stroke-width="1.0"/>
<line x1="297.30" y1="252.72" x2="299.70" y2="252.72" stroke="#1c1c1c" stroke-width="1.0"/>
<line x1="297.30" y1="249.23" x2="299.70" y2="249.23" stroke="#1c1c1c" stroke-width="1.0"/>
<line x1="297.30" y1="246.38" x2="299.70" y2="246.38" stroke="#1c1c1c" stroke-width="1.0"/>
<line x1="297.30" y1="243.97" x2="299.70" y2="243.97" stroke="#1c1c1c" stroke-width="1.0"/>
<line x1="297.30" y1="241.89" x2="299.70" y2="241.89" stroke="#1c1c1c" stroke-width="1.0"/>
<line x1="297.30" y1="240.05" x2="299.70" y2="240.05" stroke="#1c1c1c" stroke-width="1.0"/>
<line x1="295.10" y1="274.38" x2="299.70" y2="274.38" stroke="#1c1c1c" stroke-width="1.6"/>
<line x1="297.30" y1="299.53" x2="299.70" y2="299.53" stroke="#1c1c1c" stroke-width="1.0"/>
<line x1="297.30" y1="293.19" x2="299.70" y2="293.19" stroke="#1c1c1c" stroke-width="1.0"/>
<line x1="297.30" y1="288.70" x2="299.70" y2="288.70" stroke="#1c1c1c" stroke-width="1.0"/>
<line x1="297.30" y1="285.21" x2="299.70" y2="285.21" stroke="#1c1c1c" stroke-width="1.0"/>
<line x1="297.30" y1="282.36" x2="299.70" y2="282.36" stroke="#1c1c1c" stroke-width="1.0"/>
<line x1="297.30" y1="279.95" x2="299.70" y2="279.95" stroke="#1c1c1c" stroke-width="1.0"/>
<line x1="297.30" y1="277.87" x2="299.70" y2="277.87" stroke="#1c1c1c" stroke-width="1.0"/>
<line x1="297.30" y1="276.03" x2="299.70" y2="276.03" stroke="#1c1c1c" stroke-width="1.0"/>
<line x1="295.10" y1="310.36" x2="299.70" y2="310.36" stroke="#1c1c1c" stroke-width="1.6"/>
<line x1="297.30" y1="335.51" x2="299.70" y2="335.51" stroke="#1c1c1c" stroke-width="1.0"/>
<line x1="297.30" y1="329.17" x2="299.70" y2="329.17" stroke="#1c1c1c" stroke-width="1.0"/>
<line x1="297.30" y1="324.68" x2="299.70" y2="324.68" stroke="#1c1c1c" stroke-width="1.0"/>
<line x1="297.30" y1="321.19" x2="299.70" y2="321.19" stroke="#1c1c1c" stroke-width="1.0"/>
<line x1="297.30" y1="318.34" x2="299.70" y2="318.34" stroke="#1c1c1c" stroke-width="1.0"/>
<line x1="297.30" y1="315.93" x2="299.70" y2="315.93" stroke="#1c1c1c" stroke-width="1.0"/>
<line x1="297.30" y1="313.85" x2="299.70" y2="313.85" stroke="#1c1c1c" stroke-width="1.0"/>
<line x1="297.30" y1="312.01" x2="299.70" y2="312.01" stroke="#1c1c1c" stroke-width="1.0"/>
<line x1="295.10" y1="346.34" x2="299.70" y2="346.34" stroke="#1c1c1c" stroke-width="1.6"/>
<line x1="297.30" y1="371.49" x2="299.70" y2="371.49" stroke="#1c1c1c" stroke-width="1.0"/>
<line x1="297.30" y1="365.15" x2="299.70" y2="365.15" stroke="#1c1c1c" stroke-width="1.0"/>
<line x1="297.30" y1="360.66" x2="299.70" y2="360.66" stroke="#1c1c1c" stroke-width="1.0"/>
<line x1="297.30" y1="357.17" x2="299.70" y2="357.17" stroke="#1c1c1c" stroke-width="1.0"/>
<line x1="297.30" y1="354.32" x2="299.70" y2="354.32" stroke="#1c1c1c" stroke-width="1.0"/>
<line x1="297.30" y1="351.91" x2="299.70" y2="351.91" stroke="#1c1c1c" stroke-width="1.0"/>
<line x1="297.30" y1="349.83" x2="299.70" y2="349.83" stroke="#1c1c1c" stroke-width="1.0"/>
<line x1="297.30" y1="347.99" x2="299.70" y2="347.99" stroke="#1c1c1c" stroke-width="1.0"/>
<line x1="295.10" y1="382.32" x2="299.70" y2="382.32" stroke="#1c1c1c" stroke-width="1.6"/>
<line x1="446.30" y1="238.60" x2="450.70" y2="238.60" stroke="#1c1c1c" stroke-width="1.6"/>
<line x1="446.30" y1="270.17" x2="448.60" y2="270.17" stroke="#1c1c1c" stroke-width="1.0"/>
<line x1="446.30" y1="262.22" x2="448.60" y2="262.22" stroke="#1c1c1c" stroke-width="1.0"/>
<line x1="446.30" y1="256.57" x2="448.60" y2="256.57" stroke="#1c1c1c" stroke-width="1.0"/>
<line x1="446.30" y1="252.20" x2="448.60" y2="252.20" stroke="#1c1c1c" stroke-width="1.0"/>
<line x1="446.30" y1="248.62" x2="448.60" y2="248.62" stroke="#1c1c1c" stroke-width="1.0"/>
<line x1="446.30" y1="245.60" x2="448.60" y2="245.60" stroke="#1c1c1c" stroke-width="1.0"/>
<line x1="446.30" y1="242.98" x2="448.60" y2="242.98" stroke="#1c1c1c" stroke-width="1.0"/>
<line x1="446.30" y1="240.67" x2="448.60" y2="240.67" stroke="#1c1c1c" stroke-width="1.0"/>
<line x1="446.30" y1="283.77" x2="450.70" y2="283.77" stroke="#1c1c1c" stroke-width="1.6"/>
<line x1="446.30" y1="315.34" x2="448.60" y2="315.34" stroke="#1c1c1c" stroke-width="1.0"/>
<line x1="446.30" y1="307.39" x2="448.60" y2="307.39" stroke="#1c1c1c" stroke-width="1.0"/>
<line x1="446.30" y1="301.74" x2="448.60" y2="301.74" stroke="#1c1c1c" stroke-width="1.0"/>
<line x1="446.30" y1="297.37" x2="448.60" y2="297.37" stroke="#1c1c1c" stroke-width="1.0"/>
<line x1="446.30" y1="293.79" x2="448.60" y2="293.79" stroke="#1c1c1c" stroke-width="1.0"/>
<line x1="446.30" y1="290.77" x2="448.60" y2="290.77" stroke="#1c1c1c" stroke-width="1.0"/>
<line x1="446.30" y1="288.15" x2="448.60" y2="288.15" stroke="#1c1c1c" stroke-width="1.0"/>
<line x1="446.30" y1="285.84" x2="448.60" y2="285.84" stroke="#1c1c1c" stroke-width="1.0"/>
<line x1="446.30" y1="328.94" x2="450.70" y2="328.94" stroke="#1c1c1c" stroke-width="1.6"/>
<line x1="446.30" y1="360.51" x2="448.60" y2="360.51" stroke="#1c1c1c" stroke-width="1.0"/>
<line x1="446.30" y1="352.56" x2="448.60" y2="352.56" stroke="#1c1c1c" stroke-width="1.0"/>
<line x1="446.30" y1="346.91" x2="448.60" y2="346.91" stroke="#1c1c1c" stroke-width="1.0"/>
<line x1="446.30" y1="342.54" x2="448.60" y2="342.54" stroke="#1c1c1c" stroke-width="1.0"/>
<line x1="446.30" y1="338.96" x2="448.60" y2="338.96" stroke="#1c1c1c" stroke-width="1.0"/>
<line x1="446.30" y1="335.94" x2="448.60" y2="335.94" stroke="#1c1c1c" stroke-width="1.0"/>
<line x1="446.30" y1="333.32" x2="448.60" y2="333.32" stroke="#1c1c1c" stroke-width="1.0"/>
<line x1="446.30" y1="331.01" x2="448.60" y2="331.01" stroke="#1c1c1c" stroke-width="1.0"/>
<line x1="446.30" y1="374.11" x2="450.70" y2="374.11" stroke="#1c1c1c" stroke-width="1.6"/>
<line x1="446.30" y1="384.13" x2="448.60" y2="384.13" stroke="#1c1c1c" stroke-width="1.0"/>
<line x1="446.30" y1="381.11" x2="448.60" y2="381.11" stroke="#1c1c1c" stroke-width="1.0"/>
<line x1="446.30" y1="378.49" x2="448.60" y2="378.49" stroke="#1c1c1c" stroke-width="1.0"/>
<line x1="446.30" y1="376.18" x2="448.60" y2="376.18" stroke="#1c1c1c" stroke-width="1.0"/>
<line x1="300.60" y1="387.30" x2="300.60" y2="391.90" stroke="#1c1c1c" stroke-width="1.6"/>
<line x1="327.70" y1="387.30" x2="327.70" y2="391.90" stroke="#1c1c1c" stroke-width="1.6"/>
<line x1="355.90" y1="387.30" x2="355.90" y2="391.90" stroke="#1c1c1c" stroke-width="1.6"/>
<line x1="368.90" y1="387.30" x2="368.90" y2="391.90" stroke="#1c1c1c" stroke-width="1.6"/>
<line x1="383.70" y1="387.30" x2="383.70" y2="391.90" stroke="#1c1c1c" stroke-width="1.6"/>
<line x1="400.20" y1="387.30" x2="400.20" y2="391.90" stroke="#1c1c1c" stroke-width="1.6"/>
<line x1="445.70" y1="387.30" x2="445.70" y2="391.90" stroke="#1c1c1c" stroke-width="1.6"/>
<text x="287.30" y="237.60" font-size="7.2" fill="#1c1c1c" textLength="4.00" lengthAdjust="spacingAndGlyphs">6</text>
<text x="274.20" y="243.90" font-size="10.4" fill="#1c1c1c" textLength="11.22" lengthAdjust="spacingAndGlyphs">10</text>
<text x="287.30" y="273.58" font-size="7.2" fill="#1c1c1c" textLength="4.00" lengthAdjust="spacingAndGlyphs">5</text>
<text x="274.20" y="279.88" font-size="10.4" fill="#1c1c1c" textLength="11.22" lengthAdjust="spacingAndGlyphs">10</text>
<text x="287.30" y="309.56" font-size="7.2" fill="#1c1c1c" textLength="4.00" lengthAdjust="spacingAndGlyphs">4</text>
<text x="274.20" y="315.86" font-size="10.4" fill="#1c1c1c" textLength="11.22" lengthAdjust="spacingAndGlyphs">10</text>
<text x="287.30" y="345.54" font-size="7.2" fill="#1c1c1c" textLength="4.00" lengthAdjust="spacingAndGlyphs">3</text>
<text x="274.20" y="351.84" font-size="10.4" fill="#1c1c1c" textLength="11.22" lengthAdjust="spacingAndGlyphs">10</text>
<text x="287.30" y="381.52" font-size="7.2" fill="#1c1c1c" textLength="4.00" lengthAdjust="spacingAndGlyphs">2</text>
<text x="274.20" y="387.82" font-size="10.4" fill="#1c1c1c" textLength="11.22" lengthAdjust="spacingAndGlyphs">10</text>
<text x="456.30" y="241.80" font-size="10.4" fill="#1c1c1c" textLength="20.82" lengthAdjust="spacingAndGlyphs">100</text>
<text x="456.30" y="286.97" font-size="10.4" fill="#1c1c1c" textLength="13.88" lengthAdjust="spacingAndGlyphs">10</text>
<text x="456.30" y="332.14" font-size="10.4" fill="#1c1c1c" textLength="6.94" lengthAdjust="spacingAndGlyphs">1</text>
<text x="456.30" y="377.31" font-size="10.4" fill="#1c1c1c" textLength="17.35" lengthAdjust="spacingAndGlyphs">0.1</text>
<text x="297.12" y="406.20" font-size="10.4" fill="#1c1c1c" textLength="6.94" lengthAdjust="spacingAndGlyphs">0</text>
<text x="320.77" y="406.20" font-size="10.4" fill="#1c1c1c" textLength="13.88" lengthAdjust="spacingAndGlyphs">50</text>
<text x="345.49" y="406.20" font-size="10.4" fill="#1c1c1c" textLength="20.82" lengthAdjust="spacingAndGlyphs">100</text>
<text x="389.79" y="406.20" font-size="10.4" fill="#1c1c1c" textLength="20.82" lengthAdjust="spacingAndGlyphs">200</text>
<text x="435.09" y="406.20" font-size="10.4" fill="#1c1c1c" textLength="20.82" lengthAdjust="spacingAndGlyphs">400</text>
<text x="303.80" y="253.60" font-size="10.4" fill="#1c1c1c" textLength="18.00" lengthAdjust="spacingAndGlyphs">p01</text>
<g transform="translate(496.89,277.30) rotate(90)"><text transform="scale(0.68,1)" x="-0.00" y="0" font-size="12.6" letter-spacing="1.600"><tspan fill="#a8133a" stroke="#a8133a" stroke-width="0.35">IFNγ (IU/ml) </tspan><tspan fill="#333" stroke="#333" stroke-width="0.35">or</tspan></text></g>
<g transform="translate(480.79,269.20) rotate(90)"><text transform="scale(0.68,1)" x="-0.00" y="0" font-size="12.6" letter-spacing="1.188"><tspan fill="#3f5987" stroke="#3f5987" stroke-width="0.35">multimer frequency</tspan></text></g>
<circle cx="302.0" cy="382.5" r="3.8" fill="#68a83e"/>
<circle cx="305.1" cy="382.5" r="3.8" fill="#68a83e"/>
<circle cx="308.1" cy="382.5" r="3.8" fill="#68a83e"/>
<circle cx="311.2" cy="382.5" r="3.8" fill="#68a83e"/>
<circle cx="314.2" cy="382.5" r="3.8" fill="#68a83e"/>
<circle cx="317.3" cy="382.5" r="3.8" fill="#68a83e"/>
<circle cx="320.4" cy="382.5" r="3.8" fill="#68a83e"/>
<circle cx="323.4" cy="382.5" r="3.8" fill="#68a83e"/>
<circle cx="326.5" cy="382.5" r="3.8" fill="#68a83e"/>
<circle cx="329.6" cy="382.5" r="3.8" fill="#68a83e"/>
<circle cx="332.6" cy="382.5" r="3.8" fill="#68a83e"/>
<circle cx="335.7" cy="382.5" r="3.8" fill="#68a83e"/>
<circle cx="338.7" cy="382.5" r="3.8" fill="#68a83e"/>
<circle cx="341.8" cy="382.5" r="3.8" fill="#68a83e"/>
<circle cx="344.9" cy="382.5" r="3.8" fill="#68a83e"/>
<circle cx="347.9" cy="382.5" r="3.8" fill="#68a83e"/>
<circle cx="351.0" cy="382.5" r="3.8" fill="#68a83e"/>
<circle cx="354.1" cy="382.5" r="3.8" fill="#68a83e"/>
<circle cx="357.1" cy="382.5" r="3.8" fill="#68a83e"/>
<circle cx="360.2" cy="382.5" r="3.8" fill="#68a83e"/>
<circle cx="363.2" cy="382.5" r="3.8" fill="#68a83e"/>
<circle cx="366.3" cy="382.5" r="3.8" fill="#68a83e"/>
<line x1="302.00" y1="382.50" x2="366.30" y2="382.50" stroke="#68a83e" stroke-width="7.0"/>
<polyline points="383.7,382.2 444.6,382.2" fill="none" stroke="#68a83e" stroke-width="2.3" stroke-linejoin="round"/>
<circle cx="444.6" cy="382.2" r="3.8" fill="#68a83e"/>
<polyline points="318.6,342.0 324.9,285.6 334.0,285.6 342.3,286.5 355.5,287.3 369.5,288.3" fill="none" stroke="#253f7a" stroke-width="2.5" stroke-linejoin="round"/>
<polygon points="318.6,337.5 322.7,346.5 314.5,346.5" fill="#253f7a"/>
<polygon points="324.9,281.1 329.0,290.1 320.8,290.1" fill="#253f7a"/>
<polygon points="334.0,281.1 338.1,290.1 329.9,290.1" fill="#253f7a"/>
<polygon points="342.3,282.0 346.4,291.0 338.2,291.0" fill="#253f7a"/>
<polygon points="355.5,282.8 359.6,291.8 351.4,291.8" fill="#253f7a"/>
<polyline points="308.3,373.5 312.0,373.5 315.7,373.5 318.6,332.0 322.4,373.5 326.9,259.9 330.2,279.0 334.5,298.1 337.8,265.7 341.5,278.0 346.4,259.9 349.7,263.3 370.6,255.5" fill="none" stroke="#a8133a" stroke-width="2.5" stroke-linejoin="round"/>
<polygon points="308.3,369.0 312.4,378.0 304.2,378.0" fill="#a8133a"/>
<polygon points="312.0,369.0 316.1,378.0 307.9,378.0" fill="#a8133a"/>
<polygon points="315.7,369.0 319.8,378.0 311.6,378.0" fill="#a8133a"/>
<polygon points="318.6,327.5 322.7,336.5 314.5,336.5" fill="#a8133a"/>
<polygon points="322.4,369.0 326.5,378.0 318.3,378.0" fill="#a8133a"/>
<polygon points="326.9,255.4 331.0,264.4 322.8,264.4" fill="#a8133a"/>
<polygon points="330.2,274.5 334.3,283.5 326.1,283.5" fill="#a8133a"/>
<polygon points="334.5,293.6 338.6,302.6 330.4,302.6" fill="#a8133a"/>
<polygon points="337.8,261.2 341.9,270.2 333.7,270.2" fill="#a8133a"/>
<polygon points="341.5,273.5 345.6,282.5 337.4,282.5" fill="#a8133a"/>
<polygon points="346.4,255.4 350.5,264.4 342.3,264.4" fill="#a8133a"/>
<polygon points="349.7,258.8 353.8,267.8 345.6,267.8" fill="#a8133a"/>
<polyline points="382.2,253.8 399.1,250.2 435.7,260.8" fill="none" stroke="#a8133a" stroke-width="2.5" stroke-linejoin="round"/>
<polygon points="399.1,245.7 403.2,254.7 395.0,254.7" fill="#a8133a"/>
<polygon points="435.7,256.3 439.8,265.3 431.6,265.3" fill="#a8133a"/>
<polyline points="382.2,289.3 399.1,291.5" fill="none" stroke="#253f7a" stroke-width="2.5" stroke-linejoin="round"/>
<polygon points="399.1,287.0 403.2,296.0 395.0,296.0" fill="#253f7a"/>
<line x1="300.20" y1="432.10" x2="300.20" y2="581.60" stroke="#1c1c1c" stroke-width="2.0"/>
<line x1="299.30" y1="433.00" x2="447.20" y2="433.00" stroke="#1c1c1c" stroke-width="2.0"/>
<line x1="446.30" y1="432.10" x2="446.30" y2="581.60" stroke="#1c1c1c" stroke-width="2.0"/>
<line x1="299.30" y1="580.70" x2="368.60" y2="580.70" stroke="#1c1c1c" stroke-width="2.0"/>
<line x1="384.30" y1="580.70" x2="447.20" y2="580.70" stroke="#1c1c1c" stroke-width="2.0"/>
<line x1="295.60" y1="433.00" x2="300.20" y2="433.00" stroke="#1c1c1c" stroke-width="1.6"/>
<line x1="297.80" y1="457.99" x2="300.20" y2="457.99" stroke="#1c1c1c" stroke-width="1.0"/>
<line x1="297.80" y1="451.69" x2="300.20" y2="451.69" stroke="#1c1c1c" stroke-width="1.0"/>
<line x1="297.80" y1="447.23" x2="300.20" y2="447.23" stroke="#1c1c1c" stroke-width="1.0"/>
<line x1="297.80" y1="443.76" x2="300.20" y2="443.76" stroke="#1c1c1c" stroke-width="1.0"/>
<line x1="297.80" y1="440.93" x2="300.20" y2="440.93" stroke="#1c1c1c" stroke-width="1.0"/>
<line x1="297.80" y1="438.54" x2="300.20" y2="438.54" stroke="#1c1c1c" stroke-width="1.0"/>
<line x1="297.80" y1="436.46" x2="300.20" y2="436.46" stroke="#1c1c1c" stroke-width="1.0"/>
<line x1="297.80" y1="434.64" x2="300.20" y2="434.64" stroke="#1c1c1c" stroke-width="1.0"/>
<line x1="295.60" y1="468.75" x2="300.20" y2="468.75" stroke="#1c1c1c" stroke-width="1.6"/>
<line x1="297.80" y1="493.74" x2="300.20" y2="493.74" stroke="#1c1c1c" stroke-width="1.0"/>
<line x1="297.80" y1="487.44" x2="300.20" y2="487.44" stroke="#1c1c1c" stroke-width="1.0"/>
<line x1="297.80" y1="482.98" x2="300.20" y2="482.98" stroke="#1c1c1c" stroke-width="1.0"/>
<line x1="297.80" y1="479.51" x2="300.20" y2="479.51" stroke="#1c1c1c" stroke-width="1.0"/>
<line x1="297.80" y1="476.68" x2="300.20" y2="476.68" stroke="#1c1c1c" stroke-width="1.0"/>
<line x1="297.80" y1="474.29" x2="300.20" y2="474.29" stroke="#1c1c1c" stroke-width="1.0"/>
<line x1="297.80" y1="472.21" x2="300.20" y2="472.21" stroke="#1c1c1c" stroke-width="1.0"/>
<line x1="297.80" y1="470.39" x2="300.20" y2="470.39" stroke="#1c1c1c" stroke-width="1.0"/>
<line x1="295.60" y1="504.50" x2="300.20" y2="504.50" stroke="#1c1c1c" stroke-width="1.6"/>
<line x1="297.80" y1="529.49" x2="300.20" y2="529.49" stroke="#1c1c1c" stroke-width="1.0"/>
<line x1="297.80" y1="523.19" x2="300.20" y2="523.19" stroke="#1c1c1c" stroke-width="1.0"/>
<line x1="297.80" y1="518.73" x2="300.20" y2="518.73" stroke="#1c1c1c" stroke-width="1.0"/>
<line x1="297.80" y1="515.26" x2="300.20" y2="515.26" stroke="#1c1c1c" stroke-width="1.0"/>
<line x1="297.80" y1="512.43" x2="300.20" y2="512.43" stroke="#1c1c1c" stroke-width="1.0"/>
<line x1="297.80" y1="510.04" x2="300.20" y2="510.04" stroke="#1c1c1c" stroke-width="1.0"/>
<line x1="297.80" y1="507.96" x2="300.20" y2="507.96" stroke="#1c1c1c" stroke-width="1.0"/>
<line x1="297.80" y1="506.14" x2="300.20" y2="506.14" stroke="#1c1c1c" stroke-width="1.0"/>
<line x1="295.60" y1="540.25" x2="300.20" y2="540.25" stroke="#1c1c1c" stroke-width="1.6"/>
<line x1="297.80" y1="565.24" x2="300.20" y2="565.24" stroke="#1c1c1c" stroke-width="1.0"/>
<line x1="297.80" y1="558.94" x2="300.20" y2="558.94" stroke="#1c1c1c" stroke-width="1.0"/>
<line x1="297.80" y1="554.48" x2="300.20" y2="554.48" stroke="#1c1c1c" stroke-width="1.0"/>
<line x1="297.80" y1="551.01" x2="300.20" y2="551.01" stroke="#1c1c1c" stroke-width="1.0"/>
<line x1="297.80" y1="548.18" x2="300.20" y2="548.18" stroke="#1c1c1c" stroke-width="1.0"/>
<line x1="297.80" y1="545.79" x2="300.20" y2="545.79" stroke="#1c1c1c" stroke-width="1.0"/>
<line x1="297.80" y1="543.71" x2="300.20" y2="543.71" stroke="#1c1c1c" stroke-width="1.0"/>
<line x1="297.80" y1="541.89" x2="300.20" y2="541.89" stroke="#1c1c1c" stroke-width="1.0"/>
<line x1="295.60" y1="576.00" x2="300.20" y2="576.00" stroke="#1c1c1c" stroke-width="1.6"/>
<line x1="446.30" y1="433.00" x2="450.70" y2="433.00" stroke="#1c1c1c" stroke-width="1.6"/>
<line x1="446.30" y1="464.28" x2="448.60" y2="464.28" stroke="#1c1c1c" stroke-width="1.0"/>
<line x1="446.30" y1="456.40" x2="448.60" y2="456.40" stroke="#1c1c1c" stroke-width="1.0"/>
<line x1="446.30" y1="450.81" x2="448.60" y2="450.81" stroke="#1c1c1c" stroke-width="1.0"/>
<line x1="446.30" y1="446.47" x2="448.60" y2="446.47" stroke="#1c1c1c" stroke-width="1.0"/>
<line x1="446.30" y1="442.93" x2="448.60" y2="442.93" stroke="#1c1c1c" stroke-width="1.0"/>
<line x1="446.30" y1="439.93" x2="448.60" y2="439.93" stroke="#1c1c1c" stroke-width="1.0"/>
<line x1="446.30" y1="437.34" x2="448.60" y2="437.34" stroke="#1c1c1c" stroke-width="1.0"/>
<line x1="446.30" y1="435.05" x2="448.60" y2="435.05" stroke="#1c1c1c" stroke-width="1.0"/>
<line x1="446.30" y1="477.75" x2="450.70" y2="477.75" stroke="#1c1c1c" stroke-width="1.6"/>
<line x1="446.30" y1="509.03" x2="448.60" y2="509.03" stroke="#1c1c1c" stroke-width="1.0"/>
<line x1="446.30" y1="501.15" x2="448.60" y2="501.15" stroke="#1c1c1c" stroke-width="1.0"/>
<line x1="446.30" y1="495.56" x2="448.60" y2="495.56" stroke="#1c1c1c" stroke-width="1.0"/>
<line x1="446.30" y1="491.22" x2="448.60" y2="491.22" stroke="#1c1c1c" stroke-width="1.0"/>
<line x1="446.30" y1="487.68" x2="448.60" y2="487.68" stroke="#1c1c1c" stroke-width="1.0"/>
<line x1="446.30" y1="484.68" x2="448.60" y2="484.68" stroke="#1c1c1c" stroke-width="1.0"/>
<line x1="446.30" y1="482.09" x2="448.60" y2="482.09" stroke="#1c1c1c" stroke-width="1.0"/>
<line x1="446.30" y1="479.80" x2="448.60" y2="479.80" stroke="#1c1c1c" stroke-width="1.0"/>
<line x1="446.30" y1="522.50" x2="450.70" y2="522.50" stroke="#1c1c1c" stroke-width="1.6"/>
<line x1="446.30" y1="553.78" x2="448.60" y2="553.78" stroke="#1c1c1c" stroke-width="1.0"/>
<line x1="446.30" y1="545.90" x2="448.60" y2="545.90" stroke="#1c1c1c" stroke-width="1.0"/>
<line x1="446.30" y1="540.31" x2="448.60" y2="540.31" stroke="#1c1c1c" stroke-width="1.0"/>
<line x1="446.30" y1="535.97" x2="448.60" y2="535.97" stroke="#1c1c1c" stroke-width="1.0"/>
<line x1="446.30" y1="532.43" x2="448.60" y2="532.43" stroke="#1c1c1c" stroke-width="1.0"/>
<line x1="446.30" y1="529.43" x2="448.60" y2="529.43" stroke="#1c1c1c" stroke-width="1.0"/>
<line x1="446.30" y1="526.84" x2="448.60" y2="526.84" stroke="#1c1c1c" stroke-width="1.0"/>
<line x1="446.30" y1="524.55" x2="448.60" y2="524.55" stroke="#1c1c1c" stroke-width="1.0"/>
<line x1="446.30" y1="567.25" x2="450.70" y2="567.25" stroke="#1c1c1c" stroke-width="1.6"/>
<line x1="446.30" y1="577.18" x2="448.60" y2="577.18" stroke="#1c1c1c" stroke-width="1.0"/>
<line x1="446.30" y1="574.18" x2="448.60" y2="574.18" stroke="#1c1c1c" stroke-width="1.0"/>
<line x1="446.30" y1="571.59" x2="448.60" y2="571.59" stroke="#1c1c1c" stroke-width="1.0"/>
<line x1="446.30" y1="569.30" x2="448.60" y2="569.30" stroke="#1c1c1c" stroke-width="1.0"/>
<line x1="300.60" y1="580.70" x2="300.60" y2="585.30" stroke="#1c1c1c" stroke-width="1.6"/>
<line x1="327.60" y1="580.70" x2="327.60" y2="585.30" stroke="#1c1c1c" stroke-width="1.6"/>
<line x1="355.60" y1="580.70" x2="355.60" y2="585.30" stroke="#1c1c1c" stroke-width="1.6"/>
<line x1="367.90" y1="580.70" x2="367.90" y2="585.30" stroke="#1c1c1c" stroke-width="1.6"/>
<line x1="385.00" y1="580.70" x2="385.00" y2="585.30" stroke="#1c1c1c" stroke-width="1.6"/>
<line x1="391.70" y1="580.70" x2="391.70" y2="585.30" stroke="#1c1c1c" stroke-width="1.6"/>
<line x1="412.90" y1="580.70" x2="412.90" y2="585.30" stroke="#1c1c1c" stroke-width="1.6"/>
<line x1="435.10" y1="580.70" x2="435.10" y2="585.30" stroke="#1c1c1c" stroke-width="1.6"/>
<line x1="446.30" y1="580.70" x2="446.30" y2="585.30" stroke="#1c1c1c" stroke-width="1.6"/>
<text x="287.80" y="432.20" font-size="7.2" fill="#1c1c1c" textLength="4.00" lengthAdjust="spacingAndGlyphs">6</text>
<text x="274.70" y="438.50" font-size="10.4" fill="#1c1c1c" textLength="11.22" lengthAdjust="spacingAndGlyphs">10</text>
<text x="287.80" y="467.95" font-size="7.2" fill="#1c1c1c" textLength="4.00" lengthAdjust="spacingAndGlyphs">5</text>
<text x="274.70" y="474.25" font-size="10.4" fill="#1c1c1c" textLength="11.22" lengthAdjust="spacingAndGlyphs">10</text>
<text x="287.80" y="503.70" font-size="7.2" fill="#1c1c1c" textLength="4.00" lengthAdjust="spacingAndGlyphs">4</text>
<text x="274.70" y="510.00" font-size="10.4" fill="#1c1c1c" textLength="11.22" lengthAdjust="spacingAndGlyphs">10</text>
<text x="287.80" y="539.45" font-size="7.2" fill="#1c1c1c" textLength="4.00" lengthAdjust="spacingAndGlyphs">3</text>
<text x="274.70" y="545.75" font-size="10.4" fill="#1c1c1c" textLength="11.22" lengthAdjust="spacingAndGlyphs">10</text>
<text x="287.80" y="575.20" font-size="7.2" fill="#1c1c1c" textLength="4.00" lengthAdjust="spacingAndGlyphs">2</text>
<text x="274.70" y="581.50" font-size="10.4" fill="#1c1c1c" textLength="11.22" lengthAdjust="spacingAndGlyphs">10</text>
<text x="456.30" y="436.20" font-size="10.4" fill="#1c1c1c" textLength="20.82" lengthAdjust="spacingAndGlyphs">100</text>
<text x="456.30" y="480.95" font-size="10.4" fill="#1c1c1c" textLength="13.88" lengthAdjust="spacingAndGlyphs">10</text>
<text x="456.30" y="525.70" font-size="10.4" fill="#1c1c1c" textLength="6.94" lengthAdjust="spacingAndGlyphs">1</text>
<text x="456.30" y="570.45" font-size="10.4" fill="#1c1c1c" textLength="17.35" lengthAdjust="spacingAndGlyphs">0.1</text>
<g transform="translate(304.00,597.60) rotate(-45)"><text x="0" y="0" font-size="11.0" text-anchor="end" fill="#1c1c1c" textLength="6.85" lengthAdjust="spacingAndGlyphs">0</text></g>
<g transform="translate(331.00,597.60) rotate(-45)"><text x="0" y="0" font-size="11.0" text-anchor="end" fill="#1c1c1c" textLength="13.70" lengthAdjust="spacingAndGlyphs">50</text></g>
<g transform="translate(359.00,597.60) rotate(-45)"><text x="0" y="0" font-size="11.0" text-anchor="end" fill="#1c1c1c" textLength="20.56" lengthAdjust="spacingAndGlyphs">100</text></g>
<g transform="translate(395.10,597.60) rotate(-45)"><text x="0" y="0" font-size="11.0" text-anchor="end" fill="#1c1c1c" textLength="20.56" lengthAdjust="spacingAndGlyphs">200</text></g>
<g transform="translate(416.30,597.60) rotate(-45)"><text x="0" y="0" font-size="11.0" text-anchor="end" fill="#1c1c1c" textLength="20.56" lengthAdjust="spacingAndGlyphs">400</text></g>
<g transform="translate(438.50,597.60) rotate(-45)"><text x="0" y="0" font-size="11.0" text-anchor="end" fill="#1c1c1c" textLength="20.56" lengthAdjust="spacingAndGlyphs">600</text></g>
<text x="304.40" y="447.00" font-size="10.4" fill="#1c1c1c" textLength="19.10" lengthAdjust="spacingAndGlyphs">p15</text>
<g transform="translate(496.79,471.20) rotate(90)"><text transform="scale(0.68,1)" x="-0.00" y="0" font-size="12.6" letter-spacing="1.600"><tspan fill="#a8133a" stroke="#a8133a" stroke-width="0.35">IFNγ (IU/ml) </tspan><tspan fill="#333" stroke="#333" stroke-width="0.35">or</tspan></text></g>
<g transform="translate(481.09,464.20) rotate(90)"><text transform="scale(0.68,1)" x="-0.00" y="0" font-size="12.6" letter-spacing="1.085"><tspan fill="#3f5987" stroke="#3f5987" stroke-width="0.35">multimer frequency</tspan></text></g>
<g transform="translate(317.70,622.40)"><text transform="scale(0.68,1)" x="-0.00" y="0" font-size="12.6" fill="#1c1c1c" letter-spacing="0.952" stroke="#1c1c1c" stroke-width="0.3">Post-transplant (days)</text></g>
<circle cx="302.0" cy="575.5" r="3.8" fill="#68a83e"/>
<circle cx="305.1" cy="575.5" r="3.8" fill="#68a83e"/>
<circle cx="308.2" cy="575.5" r="3.8" fill="#68a83e"/>
<circle cx="311.3" cy="575.5" r="3.8" fill="#68a83e"/>
<circle cx="314.3" cy="575.5" r="3.8" fill="#68a83e"/>
<circle cx="317.4" cy="575.5" r="3.8" fill="#68a83e"/>
<circle cx="320.5" cy="575.5" r="3.8" fill="#68a83e"/>
<circle cx="323.6" cy="575.5" r="3.8" fill="#68a83e"/>
<line x1="302.00" y1="575.50" x2="323.60" y2="575.50" stroke="#68a83e" stroke-width="7.0"/>
<circle cx="331.0" cy="575.5" r="3.8" fill="#68a83e"/>
<circle cx="334.0" cy="575.5" r="3.8" fill="#68a83e"/>
<circle cx="337.0" cy="575.5" r="3.8" fill="#68a83e"/>
<circle cx="340.1" cy="575.5" r="3.8" fill="#68a83e"/>
<circle cx="343.1" cy="575.5" r="3.8" fill="#68a83e"/>
<circle cx="346.1" cy="575.5" r="3.8" fill="#68a83e"/>
<circle cx="349.1" cy="575.5" r="3.8" fill="#68a83e"/>
<circle cx="352.1" cy="575.5" r="3.8" fill="#68a83e"/>
<circle cx="355.2" cy="575.5" r="3.8" fill="#68a83e"/>
<circle cx="358.2" cy="575.5" r="3.8" fill="#68a83e"/>
<circle cx="361.2" cy="575.5" r="3.8" fill="#68a83e"/>
<line x1="331.00" y1="575.50" x2="361.20" y2="575.50" stroke="#68a83e" stroke-width="7.0"/>
<polyline points="324.2,575.0 325.6,552.3 327.5,575.0" fill="none" stroke="#68a83e" stroke-width="2.0" stroke-linejoin="round"/>
<polyline points="329.2,575.0 329.9,560.4" fill="none" stroke="#68a83e" stroke-width="2.0" stroke-linejoin="round"/>
<circle cx="325.6" cy="552.3" r="3.8" fill="#68a83e"/>
<circle cx="329.9" cy="560.4" r="3.6" fill="#68a83e"/>
<polyline points="330.9,508.6 334.0,494.8 337.8,487.4 342.5,479.0 349.9,474.7 370.6,476.8" fill="none" stroke="#253f7a" stroke-width="2.5" stroke-linejoin="round"/>
<polygon points="330.9,504.1 335.0,513.1 326.8,513.1" fill="#253f7a"/>
<polygon points="334.0,490.3 338.1,499.3 329.9,499.3" fill="#253f7a"/>
<polygon points="337.8,482.9 341.9,491.9 333.7,491.9" fill="#253f7a"/>
<polygon points="342.5,474.5 346.6,483.5 338.4,483.5" fill="#253f7a"/>
<polygon points="349.9,470.2 354.0,479.2 345.8,479.2" fill="#253f7a"/>
<polyline points="312.1,567.3 316.2,567.3 320.3,567.3 324.4,567.3 326.6,537.3 332.0,530.8 335.0,516.0 339.2,506.0 342.5,486.3 345.7,511.8 350.5,465.2 353.1,493.8 370.6,504.3" fill="none" stroke="#a8133a" stroke-width="2.5" stroke-linejoin="round"/>
<polygon points="312.1,562.8 316.2,571.8 308.0,571.8" fill="#a8133a"/>
<polygon points="316.2,562.8 320.3,571.8 312.1,571.8" fill="#a8133a"/>
<polygon points="320.3,562.8 324.4,571.8 316.2,571.8" fill="#a8133a"/>
<polygon points="324.4,562.8 328.5,571.8 320.3,571.8" fill="#a8133a"/>
<polygon points="326.6,532.8 330.7,541.8 322.5,541.8" fill="#a8133a"/>
<polygon points="332.0,526.3 336.1,535.3 327.9,535.3" fill="#a8133a"/>
<polygon points="335.0,511.5 339.1,520.5 330.9,520.5" fill="#a8133a"/>
<polygon points="339.2,501.5 343.3,510.5 335.1,510.5" fill="#a8133a"/>
<polygon points="342.5,481.8 346.6,490.8 338.4,490.8" fill="#a8133a"/>
<polygon points="345.7,507.3 349.8,516.3 341.6,516.3" fill="#a8133a"/>
<polygon points="350.5,460.7 354.6,469.7 346.4,469.7" fill="#a8133a"/>
<polygon points="353.1,489.3 357.2,498.3 349.0,498.3" fill="#a8133a"/>
<polyline points="381.2,510.7 391.7,517.0 442.1,517.0" fill="none" stroke="#a8133a" stroke-width="2.5" stroke-linejoin="round"/>
<polygon points="391.7,512.5 395.8,521.5 387.6,521.5" fill="#a8133a"/>
<polygon points="442.1,512.5 446.2,521.5 438.0,521.5" fill="#a8133a"/>
<polyline points="382.2,479.0 391.7,480.4" fill="none" stroke="#253f7a" stroke-width="2.5" stroke-linejoin="round"/>
<polygon points="391.7,475.9 395.8,484.9 387.6,484.9" fill="#253f7a"/>
<line x1="73.40" y1="672.00" x2="73.40" y2="792.30" stroke="#1c1c1c" stroke-width="2.0"/>
<line x1="72.40" y1="791.30" x2="220.40" y2="791.30" stroke="#1c1c1c" stroke-width="2.0"/>
<line x1="68.80" y1="685.10" x2="73.40" y2="685.10" stroke="#1c1c1c" stroke-width="1.6"/>
<line x1="68.80" y1="720.00" x2="73.40" y2="720.00" stroke="#1c1c1c" stroke-width="1.6"/>
<line x1="68.80" y1="755.40" x2="73.40" y2="755.40" stroke="#1c1c1c" stroke-width="1.6"/>
<line x1="68.80" y1="790.80" x2="73.40" y2="790.80" stroke="#1c1c1c" stroke-width="1.6"/>
<line x1="71.00" y1="709.77" x2="73.40" y2="709.77" stroke="#1c1c1c" stroke-width="1.0"/>
<line x1="71.00" y1="703.56" x2="73.40" y2="703.56" stroke="#1c1c1c" stroke-width="1.0"/>
<line x1="71.00" y1="699.15" x2="73.40" y2="699.15" stroke="#1c1c1c" stroke-width="1.0"/>
<line x1="71.00" y1="695.73" x2="73.40" y2="695.73" stroke="#1c1c1c" stroke-width="1.0"/>
<line x1="71.00" y1="692.93" x2="73.40" y2="692.93" stroke="#1c1c1c" stroke-width="1.0"/>
<line x1="71.00" y1="690.57" x2="73.40" y2="690.57" stroke="#1c1c1c" stroke-width="1.0"/>
<line x1="71.00" y1="688.52" x2="73.40" y2="688.52" stroke="#1c1c1c" stroke-width="1.0"/>
<line x1="71.00" y1="686.72" x2="73.40" y2="686.72" stroke="#1c1c1c" stroke-width="1.0"/>
<line x1="71.00" y1="744.67" x2="73.40" y2="744.67" stroke="#1c1c1c" stroke-width="1.0"/>
<line x1="71.00" y1="738.46" x2="73.40" y2="738.46" stroke="#1c1c1c" stroke-width="1.0"/>
<line x1="71.00" y1="734.05" x2="73.40" y2="734.05" stroke="#1c1c1c" stroke-width="1.0"/>
<line x1="71.00" y1="730.63" x2="73.40" y2="730.63" stroke="#1c1c1c" stroke-width="1.0"/>
<line x1="71.00" y1="727.83" x2="73.40" y2="727.83" stroke="#1c1c1c" stroke-width="1.0"/>
<line x1="71.00" y1="725.47" x2="73.40" y2="725.47" stroke="#1c1c1c" stroke-width="1.0"/>
<line x1="71.00" y1="723.42" x2="73.40" y2="723.42" stroke="#1c1c1c" stroke-width="1.0"/>
<line x1="71.00" y1="721.62" x2="73.40" y2="721.62" stroke="#1c1c1c" stroke-width="1.0"/>
<line x1="71.00" y1="780.07" x2="73.40" y2="780.07" stroke="#1c1c1c" stroke-width="1.0"/>
<line x1="71.00" y1="773.86" x2="73.40" y2="773.86" stroke="#1c1c1c" stroke-width="1.0"/>
<line x1="71.00" y1="769.45" x2="73.40" y2="769.45" stroke="#1c1c1c" stroke-width="1.0"/>
<line x1="71.00" y1="766.03" x2="73.40" y2="766.03" stroke="#1c1c1c" stroke-width="1.0"/>
<line x1="71.00" y1="763.23" x2="73.40" y2="763.23" stroke="#1c1c1c" stroke-width="1.0"/>
<line x1="71.00" y1="760.87" x2="73.40" y2="760.87" stroke="#1c1c1c" stroke-width="1.0"/>
<line x1="71.00" y1="758.82" x2="73.40" y2="758.82" stroke="#1c1c1c" stroke-width="1.0"/>
<line x1="71.00" y1="757.02" x2="73.40" y2="757.02" stroke="#1c1c1c" stroke-width="1.0"/>
<line x1="71.00" y1="674.47" x2="73.40" y2="674.47" stroke="#1c1c1c" stroke-width="1.0"/>
<line x1="72.90" y1="791.30" x2="72.90" y2="795.90" stroke="#1c1c1c" stroke-width="1.6"/>
<line x1="114.40" y1="791.30" x2="114.40" y2="795.90" stroke="#1c1c1c" stroke-width="1.6"/>
<line x1="157.30" y1="791.30" x2="157.30" y2="795.90" stroke="#1c1c1c" stroke-width="1.6"/>
<line x1="200.40" y1="791.30" x2="200.40" y2="795.90" stroke="#1c1c1c" stroke-width="1.6"/>
<line x1="85.84" y1="791.30" x2="85.84" y2="793.70" stroke="#1c1c1c" stroke-width="1.0"/>
<line x1="93.42" y1="791.30" x2="93.42" y2="793.70" stroke="#1c1c1c" stroke-width="1.0"/>
<line x1="98.79" y1="791.30" x2="98.79" y2="793.70" stroke="#1c1c1c" stroke-width="1.0"/>
<line x1="102.96" y1="791.30" x2="102.96" y2="793.70" stroke="#1c1c1c" stroke-width="1.0"/>
<line x1="106.36" y1="791.30" x2="106.36" y2="793.70" stroke="#1c1c1c" stroke-width="1.0"/>
<line x1="109.24" y1="791.30" x2="109.24" y2="793.70" stroke="#1c1c1c" stroke-width="1.0"/>
<line x1="111.73" y1="791.30" x2="111.73" y2="793.70" stroke="#1c1c1c" stroke-width="1.0"/>
<line x1="113.93" y1="791.30" x2="113.93" y2="793.70" stroke="#1c1c1c" stroke-width="1.0"/>
<line x1="127.34" y1="791.30" x2="127.34" y2="793.70" stroke="#1c1c1c" stroke-width="1.0"/>
<line x1="134.92" y1="791.30" x2="134.92" y2="793.70" stroke="#1c1c1c" stroke-width="1.0"/>
<line x1="140.29" y1="791.30" x2="140.29" y2="793.70" stroke="#1c1c1c" stroke-width="1.0"/>
<line x1="144.46" y1="791.30" x2="144.46" y2="793.70" stroke="#1c1c1c" stroke-width="1.0"/>
<line x1="147.86" y1="791.30" x2="147.86" y2="793.70" stroke="#1c1c1c" stroke-width="1.0"/>
<line x1="150.74" y1="791.30" x2="150.74" y2="793.70" stroke="#1c1c1c" stroke-width="1.0"/>
<line x1="153.23" y1="791.30" x2="153.23" y2="793.70" stroke="#1c1c1c" stroke-width="1.0"/>
<line x1="155.43" y1="791.30" x2="155.43" y2="793.70" stroke="#1c1c1c" stroke-width="1.0"/>
<line x1="170.24" y1="791.30" x2="170.24" y2="793.70" stroke="#1c1c1c" stroke-width="1.0"/>
<line x1="177.82" y1="791.30" x2="177.82" y2="793.70" stroke="#1c1c1c" stroke-width="1.0"/>
<line x1="183.19" y1="791.30" x2="183.19" y2="793.70" stroke="#1c1c1c" stroke-width="1.0"/>
<line x1="187.36" y1="791.30" x2="187.36" y2="793.70" stroke="#1c1c1c" stroke-width="1.0"/>
<line x1="190.76" y1="791.30" x2="190.76" y2="793.70" stroke="#1c1c1c" stroke-width="1.0"/>
<line x1="193.64" y1="791.30" x2="193.64" y2="793.70" stroke="#1c1c1c" stroke-width="1.0"/>
<line x1="196.13" y1="791.30" x2="196.13" y2="793.70" stroke="#1c1c1c" stroke-width="1.0"/>
<line x1="198.33" y1="791.30" x2="198.33" y2="793.70" stroke="#1c1c1c" stroke-width="1.0"/>
<line x1="213.34" y1="791.30" x2="213.34" y2="793.70" stroke="#1c1c1c" stroke-width="1.0"/>
<text x="32.72" y="688.70" font-size="10.4" fill="#1c1c1c" textLength="30.45" lengthAdjust="spacingAndGlyphs">10.00</text>
<text x="39.51" y="723.60" font-size="10.4" fill="#1c1c1c" textLength="23.68" lengthAdjust="spacingAndGlyphs">1.00</text>
<text x="39.51" y="759.00" font-size="10.4" fill="#1c1c1c" textLength="23.68" lengthAdjust="spacingAndGlyphs">0.10</text>
<text x="39.51" y="794.40" font-size="10.4" fill="#1c1c1c" textLength="23.68" lengthAdjust="spacingAndGlyphs">0.01</text>
<text x="64.45" y="810.00" font-size="10.4" fill="#1c1c1c" textLength="16.92" lengthAdjust="spacingAndGlyphs">0.0</text>
<text x="105.95" y="810.00" font-size="10.4" fill="#1c1c1c" textLength="16.92" lengthAdjust="spacingAndGlyphs">0.1</text>
<text x="148.85" y="810.00" font-size="10.4" fill="#1c1c1c" textLength="16.92" lengthAdjust="spacingAndGlyphs">1.0</text>
<text x="188.55" y="810.00" font-size="10.4" fill="#1c1c1c" textLength="23.68" lengthAdjust="spacingAndGlyphs">10.0</text>
<g transform="translate(118.30,830.60)"><text transform="scale(0.68,1)" x="-0.00" y="0" font-size="12.6" fill="#1c1c1c" letter-spacing="1.555" stroke="#1c1c1c" stroke-width="0.3">IFNγ (IU/ml)</text></g>
<g transform="translate(27.51,773.80) rotate(-90)"><text transform="scale(0.68,1)" x="-0.00" y="0" font-size="12.6" fill="#1c1c1c" letter-spacing="1.007" stroke="#1c1c1c" stroke-width="0.45">Multimer frequency</text></g>
<line x1="73.5" y1="689.8" x2="117.0" y2="691.6" stroke="#68a83e" stroke-width="1.7" stroke-dasharray="1.4 1.4"/>
<path d="M162.1 703.0 C 178 701.5, 193 697.5, 204 688.3" fill="none" stroke="#253f7a" stroke-width="1.8" stroke-dasharray="1.5 1.3"/>
<circle cx="73.3" cy="671.3" r="3.9" fill="#68a83e"/>
<circle cx="93.8" cy="683.8" r="3.9" fill="#68a83e"/>
<circle cx="117.9" cy="688.7" r="3.9" fill="#68a83e"/>
<circle cx="73.3" cy="709.8" r="3.9" fill="#68a83e"/>
<circle cx="81.3" cy="715.6" r="3.9" fill="#68a83e"/>
<circle cx="106.3" cy="709.2" r="3.9" fill="#68a83e"/>
<circle cx="73.3" cy="735.4" r="3.9" fill="#68a83e"/>
<circle cx="174.2" cy="692.7" r="3.9" fill="#253f7a"/>
<circle cx="173.7" cy="695.8" r="3.9" fill="#253f7a"/>
<circle cx="191.5" cy="684.6" r="3.9" fill="#253f7a"/>
<circle cx="205.4" cy="685.0" r="3.9" fill="#253f7a"/>
<circle cx="211.5" cy="685.4" r="3.9" fill="#253f7a"/>
<circle cx="212.7" cy="678.3" r="3.9" fill="#253f7a"/>
<circle cx="199.6" cy="715.8" r="3.9" fill="#253f7a"/>
<circle cx="193.8" cy="751.9" r="3.9" fill="#253f7a"/>
<text x="76.90" y="667.10" font-size="10.4" fill="#7a9d5c" textLength="18.90" lengthAdjust="spacingAndGlyphs">p14</text>
<text x="95.40" y="677.10" font-size="10.4" fill="#7a9d5c" textLength="17.70" lengthAdjust="spacingAndGlyphs">p17</text>
<text x="120.80" y="679.60" font-size="10.4" fill="#7a9d5c" textLength="18.20" lengthAdjust="spacingAndGlyphs">p47</text>
<text x="78.80" y="705.00" font-size="10.4" fill="#7a9d5c" textLength="18.50" lengthAdjust="spacingAndGlyphs">p25</text>
<text x="84.80" y="743.50" font-size="10.4" fill="#7a9d5c" textLength="18.70" lengthAdjust="spacingAndGlyphs">p13</text>
<text x="176.50" y="675.40" font-size="10.4" fill="#3f5987" textLength="18.30" lengthAdjust="spacingAndGlyphs">p15</text>
<text x="218.80" y="690.80" font-size="10.4" fill="#3f5987" textLength="18.30" lengthAdjust="spacingAndGlyphs">p45</text>
<text x="196.70" y="700.40" font-size="10.4" fill="#3f5987" textLength="17.30" lengthAdjust="spacingAndGlyphs">p01</text>
<text x="262.20" y="680.80" font-size="10.8" font-weight="bold" fill="#253f7a" textLength="92.29" lengthAdjust="spacingAndGlyphs">Immune Reactive</text>
<text x="252.30" y="692.60" font-size="11.0" fill="#3f5987" textLength="106.22" lengthAdjust="spacingAndGlyphs">y = 0.4135x + 2.5221</text>
<text x="274.90" y="706.10" font-size="11.0" fill="#3f5987" textLength="6.69" lengthAdjust="spacingAndGlyphs">R</text>
<text x="282.30" y="701.90" font-size="7.5" fill="#3f5987" textLength="4.22" lengthAdjust="spacingAndGlyphs">2</text>
<text x="288.10" y="706.10" font-size="11.0" fill="#3f5987" textLength="46.07" lengthAdjust="spacingAndGlyphs">= 0.3705</text>
<text x="258.80" y="727.40" font-size="10.8" font-weight="bold" fill="#68a83e" textLength="117.48" lengthAdjust="spacingAndGlyphs">Non Immune Reactive</text>
<text x="252.30" y="740.40" font-size="11.0" fill="#7a9d5c" textLength="109.61" lengthAdjust="spacingAndGlyphs">y = -10.535x + 7.1162</text>
<text x="274.90" y="754.30" font-size="11.0" fill="#7a9d5c" textLength="6.69" lengthAdjust="spacingAndGlyphs">R</text>
<text x="282.30" y="750.10" font-size="7.5" fill="#7a9d5c" textLength="4.22" lengthAdjust="spacingAndGlyphs">2</text>
<text x="288.10" y="754.30" font-size="11.0" fill="#7a9d5c" textLength="46.77" lengthAdjust="spacingAndGlyphs">= 0.0025</text>
<rect x="1" y="1" width="518" height="843" fill="none" stroke="#000" stroke-width="2"/>
</svg>
</body></html>
